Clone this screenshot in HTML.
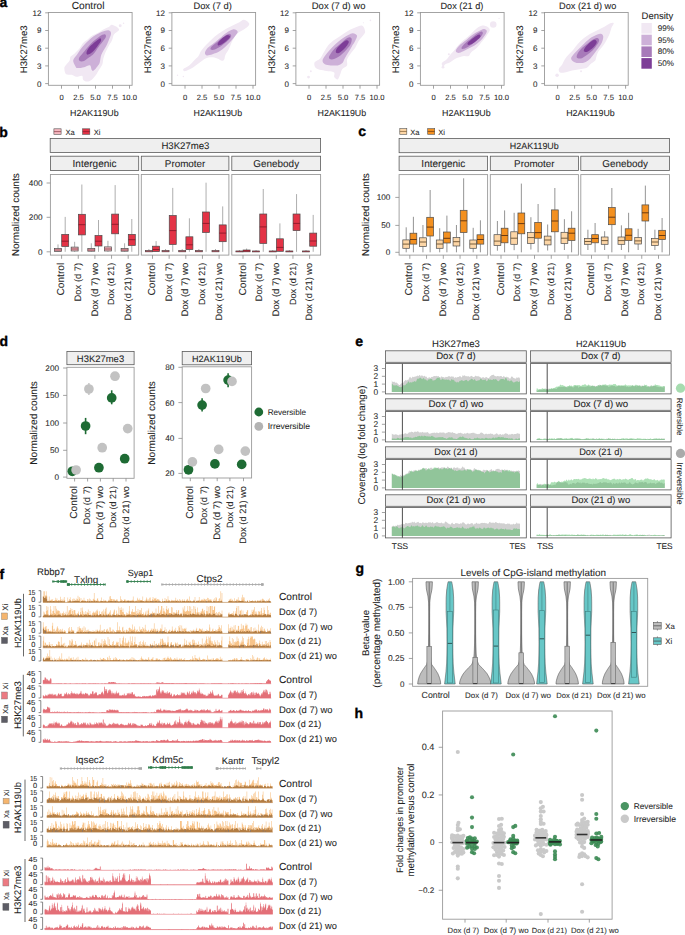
<!DOCTYPE html>
<html><head><meta charset="utf-8"><title>Figure</title>
<style>
html,body{margin:0;padding:0;background:#fff;}
body{width:685px;height:935px;overflow:hidden;font-family:"Liberation Sans", sans-serif;}
svg{display:block;}
svg text{font-family:"Liberation Sans", sans-serif;text-rendering:geometricPrecision;}
</style></head><body>
<svg width="685" height="935" viewBox="0 0 685 935">
<rect width="685" height="935" fill="#fff"/>
<text x="-0.60" y="7.00" font-size="14.0" fill="#000" font-weight="bold" stroke="#000" stroke-width="0.35">a</text>
<text x="-0.80" y="137.00" font-size="14.0" fill="#000" font-weight="bold" stroke="#000" stroke-width="0.35">b</text>
<text x="358.20" y="136.30" font-size="14.0" fill="#000" font-weight="bold" stroke="#000" stroke-width="0.35">c</text>
<text x="-0.60" y="346.40" font-size="14.0" fill="#000" font-weight="bold" stroke="#000" stroke-width="0.35">d</text>
<text x="355.30" y="345.90" font-size="14.0" fill="#000" font-weight="bold" stroke="#000" stroke-width="0.35">e</text>
<text x="-0.60" y="579.20" font-size="14.0" fill="#000" font-weight="bold" stroke="#000" stroke-width="0.35">f</text>
<text x="355.40" y="572.60" font-size="14.0" fill="#000" font-weight="bold" stroke="#000" stroke-width="0.35">g</text>
<text x="354.60" y="718.40" font-size="14.0" fill="#000" font-weight="bold" stroke="#000" stroke-width="0.35">h</text>
<path d="M112.02,24.74C113.47,24.90 116.68,26.67 117.80,27.63C118.93,28.60 119.41,29.40 118.77,30.52C118.12,31.65 115.07,32.77 113.95,34.38C112.83,35.98 112.99,38.07 112.02,40.16C111.06,42.25 109.29,44.81 108.17,46.90C107.05,48.99 106.08,50.76 105.28,52.68C104.48,54.61 103.83,56.54 103.35,58.46C102.87,60.39 103.03,62.48 102.39,64.24C101.75,66.01 100.46,67.45 99.50,69.06C98.54,70.67 97.89,72.11 96.61,73.88C95.32,75.64 93.40,78.37 91.79,79.66C90.19,80.94 88.42,81.58 86.97,81.58C85.53,81.58 83.92,80.62 83.12,79.66C82.32,78.69 83.28,76.29 82.16,75.80C81.03,75.32 78.14,76.93 76.38,76.77C74.61,76.61 73.33,75.32 71.56,74.84C69.79,74.36 66.98,75.00 65.78,73.88C64.58,72.75 64.34,69.54 64.34,68.10C64.34,66.65 64.90,66.49 65.78,65.21C66.66,63.92 68.83,61.83 69.63,60.39C70.44,58.94 69.79,57.66 70.60,56.54C71.40,55.41 73.01,54.93 74.45,53.65C75.90,52.36 77.82,50.59 79.27,48.83C80.71,47.06 81.68,44.65 83.12,43.05C84.57,41.44 86.33,40.48 87.94,39.19C89.54,37.91 90.99,36.46 92.76,35.34C94.52,34.22 96.45,33.57 98.54,32.45C100.62,31.33 103.51,29.56 105.28,28.60C107.05,27.63 108.01,27.31 109.13,26.67C110.26,26.03 110.58,24.58 112.02,24.74Z" fill="#f1e8f3"/>
<circle cx="120.21" cy="25.71" r="1.45" fill="#f1e8f3"/>
<circle cx="123.58" cy="23.30" r="0.77" fill="#f1e8f3"/>
<path d="M109.13,30.52C110.26,30.93 111.06,31.97 111.06,33.41C111.06,34.86 109.94,37.11 109.13,39.19C108.33,41.28 107.21,44.01 106.24,45.94C105.28,47.87 104.16,49.31 103.35,50.76C102.55,52.20 101.91,53.32 101.43,54.61C100.94,55.89 100.78,57.02 100.46,58.46C100.14,59.91 99.98,61.99 99.50,63.28C99.02,64.56 98.54,64.97 97.57,66.17C96.61,67.37 94.68,69.86 93.72,70.50C92.76,71.15 92.43,70.91 91.79,70.02C91.15,69.14 91.15,65.69 89.87,65.21C88.58,64.72 86.17,66.65 84.08,67.13C82.00,67.61 78.79,68.26 77.34,68.10C75.90,67.94 76.06,67.13 75.41,66.17C74.77,65.21 73.81,63.44 73.49,62.32C73.17,61.19 73.01,60.55 73.49,59.43C73.97,58.30 75.25,57.18 76.38,55.57C77.50,53.97 78.95,51.56 80.23,49.79C81.52,48.03 82.64,46.58 84.08,44.97C85.53,43.37 87.30,41.60 88.90,40.16C90.51,38.71 92.11,37.43 93.72,36.30C95.32,35.18 96.77,34.30 98.54,33.41C100.30,32.53 102.55,31.49 104.32,31.01C106.08,30.52 108.01,30.12 109.13,30.52Z" fill="#cdb0d8"/>
<path d="M105.28,34.38C105.84,34.78 106.24,35.98 105.76,37.27C105.28,38.55 103.59,40.48 102.39,42.08C101.18,43.69 99.98,44.97 98.54,46.90C97.09,48.83 95.32,51.88 93.72,53.65C92.11,55.41 90.67,56.21 88.90,57.50C87.14,58.78 84.73,60.87 83.12,61.35C81.52,61.83 79.91,61.03 79.27,60.39C78.63,59.75 78.63,58.78 79.27,57.50C79.91,56.21 81.52,54.61 83.12,52.68C84.73,50.76 87.14,47.87 88.90,45.94C90.67,44.01 92.11,42.57 93.72,41.12C95.32,39.68 97.09,38.31 98.54,37.27C99.98,36.22 101.27,35.34 102.39,34.86C103.51,34.38 104.72,33.98 105.28,34.38Z" fill="#a77ab9"/>
<path d="M100.46,38.23C100.86,38.55 101.43,39.84 100.94,41.12C100.46,42.41 98.94,44.17 97.57,45.94C96.21,47.70 94.36,50.27 92.76,51.72C91.15,53.16 88.98,54.45 87.94,54.61C86.89,54.77 86.33,53.81 86.49,52.68C86.65,51.56 87.70,49.47 88.90,47.87C90.11,46.26 92.11,44.49 93.72,43.05C95.32,41.60 97.41,40.00 98.54,39.19C99.66,38.39 100.06,37.91 100.46,38.23Z" fill="#7d3d97"/>
<rect x="48.40" y="12.50" width="83.70" height="72.80" fill="none" stroke="#9a9a9a" stroke-width="0.9"/>
<line x1="45.20" y1="83.60" x2="48.40" y2="83.60" stroke="#8c8c8c" stroke-width="0.8"/>
<text x="41.40" y="86.50" font-size="8.0" text-anchor="end" fill="#2a2a2a" stroke="#2a2a2a" stroke-width="0.08">0</text>
<line x1="45.20" y1="65.90" x2="48.40" y2="65.90" stroke="#8c8c8c" stroke-width="0.8"/>
<text x="41.40" y="68.80" font-size="8.0" text-anchor="end" fill="#2a2a2a" stroke="#2a2a2a" stroke-width="0.08">3</text>
<line x1="45.20" y1="48.20" x2="48.40" y2="48.20" stroke="#8c8c8c" stroke-width="0.8"/>
<text x="41.40" y="51.10" font-size="8.0" text-anchor="end" fill="#2a2a2a" stroke="#2a2a2a" stroke-width="0.08">6</text>
<line x1="45.20" y1="30.50" x2="48.40" y2="30.50" stroke="#8c8c8c" stroke-width="0.8"/>
<text x="41.40" y="33.40" font-size="8.0" text-anchor="end" fill="#2a2a2a" stroke="#2a2a2a" stroke-width="0.08">9</text>
<line x1="45.20" y1="12.80" x2="48.40" y2="12.80" stroke="#8c8c8c" stroke-width="0.8"/>
<text x="41.40" y="15.70" font-size="8.0" text-anchor="end" fill="#2a2a2a" stroke="#2a2a2a" stroke-width="0.08">12</text>
<line x1="61.50" y1="85.30" x2="61.50" y2="88.70" stroke="#8c8c8c" stroke-width="0.8"/>
<text x="61.50" y="100.40" font-size="7.6" text-anchor="middle" fill="#2a2a2a" stroke="#2a2a2a" stroke-width="0.08">0</text>
<line x1="78.50" y1="85.30" x2="78.50" y2="88.70" stroke="#8c8c8c" stroke-width="0.8"/>
<text x="78.50" y="100.40" font-size="7.6" text-anchor="middle" fill="#2a2a2a" stroke="#2a2a2a" stroke-width="0.08">2.5</text>
<line x1="95.50" y1="85.30" x2="95.50" y2="88.70" stroke="#8c8c8c" stroke-width="0.8"/>
<text x="95.50" y="100.40" font-size="7.6" text-anchor="middle" fill="#2a2a2a" stroke="#2a2a2a" stroke-width="0.08">5.0</text>
<line x1="112.50" y1="85.30" x2="112.50" y2="88.70" stroke="#8c8c8c" stroke-width="0.8"/>
<text x="112.50" y="100.40" font-size="7.6" text-anchor="middle" fill="#2a2a2a" stroke="#2a2a2a" stroke-width="0.08">7.5</text>
<line x1="129.50" y1="85.30" x2="129.50" y2="88.70" stroke="#8c8c8c" stroke-width="0.8"/>
<text x="129.50" y="100.40" font-size="7.6" text-anchor="middle" fill="#2a2a2a" stroke="#2a2a2a" stroke-width="0.08">10.0</text>
<text x="94.40" y="115.50" font-size="8.86" text-anchor="middle" fill="#1f1f1f" stroke="#1f1f1f" stroke-width="0.08" textLength="48.60" lengthAdjust="spacingAndGlyphs">H2AK119Ub</text>
<text x="27.40" y="49.30" font-size="9.53" text-anchor="middle" fill="#1f1f1f" stroke="#1f1f1f" stroke-width="0.08" textLength="47.70" lengthAdjust="spacingAndGlyphs" transform="rotate(-90 27.40 49.30)">H3K27me3</text>
<text x="88.10" y="8.60" font-size="10.18" text-anchor="middle" fill="#1f1f1f" stroke="#1f1f1f" stroke-width="0.08" textLength="32.80" lengthAdjust="spacingAndGlyphs">Control</text>
<path d="M244.07,19.84C245.73,20.13 249.13,22.47 249.33,23.93C249.52,25.39 247.28,26.94 245.24,28.60C243.20,30.25 239.21,31.81 237.07,33.85C234.92,35.90 233.76,38.33 232.39,40.86C231.03,43.39 230.06,46.70 228.89,49.04C227.72,51.37 226.17,53.12 225.39,54.88C224.61,56.63 224.80,58.57 224.22,59.55C223.64,60.52 223.05,60.91 221.88,60.72C220.72,60.52 218.96,58.96 217.21,58.38C215.46,57.80 213.32,57.21 211.37,57.21C209.43,57.21 207.09,57.80 205.53,58.38C203.98,58.96 203.39,59.74 202.03,60.72C200.67,61.69 198.91,63.05 197.36,64.22C195.80,65.39 194.24,66.75 192.69,67.72C191.13,68.70 189.38,69.47 188.01,70.06C186.65,70.64 185.29,71.42 184.51,71.23C183.73,71.03 182.56,69.86 183.34,68.89C184.12,67.92 187.43,66.75 189.18,65.39C190.93,64.02 192.30,62.27 193.85,60.72C195.41,59.16 197.36,57.60 198.53,56.04C199.69,54.49 199.69,53.12 200.86,51.37C202.03,49.62 203.78,47.48 205.53,45.53C207.28,43.59 209.23,41.64 211.37,39.69C213.51,37.75 216.04,35.61 218.38,33.85C220.72,32.10 222.66,30.74 225.39,29.18C228.11,27.63 232.39,25.68 234.73,24.51C237.07,23.34 237.84,22.95 239.40,22.18C240.96,21.40 242.42,19.55 244.07,19.84Z" fill="#f1e8f3"/>
<circle cx="185.68" cy="69.47" r="1.05" fill="#f1e8f3"/>
<circle cx="177.50" cy="75.31" r="0.70" fill="#f1e8f3"/>
<circle cx="183.34" cy="76.48" r="0.70" fill="#f1e8f3"/>
<path d="M233.56,29.18C235.41,28.99 237.26,30.55 237.65,31.52C238.04,32.49 236.97,33.46 235.90,35.02C234.83,36.58 232.98,38.91 231.23,40.86C229.47,42.81 227.33,44.95 225.39,46.70C223.44,48.45 221.69,50.11 219.55,51.37C217.41,52.64 214.68,53.61 212.54,54.29C210.40,54.97 207.97,55.75 206.70,55.46C205.44,55.17 204.75,53.81 204.95,52.54C205.14,51.27 206.41,49.43 207.87,47.87C209.33,46.31 211.76,44.75 213.71,43.20C215.65,41.64 217.41,40.28 219.55,38.53C221.69,36.77 224.22,34.24 226.55,32.69C228.89,31.13 231.71,29.38 233.56,29.18Z" fill="#cdb0d8"/>
<path d="M228.89,33.85C230.25,33.66 231.42,35.02 231.23,36.19C231.03,37.36 229.28,39.30 227.72,40.86C226.17,42.42 224.02,44.07 221.88,45.53C219.74,46.99 216.73,48.94 214.88,49.62C213.03,50.30 211.37,50.11 210.79,49.62C210.20,49.13 210.30,47.97 211.37,46.70C212.44,45.44 215.27,43.59 217.21,42.03C219.16,40.47 221.10,38.72 223.05,37.36C225.00,36.00 227.53,34.05 228.89,33.85Z" fill="#a77ab9"/>
<path d="M227.72,35.02C228.70,35.02 230.25,35.80 230.06,36.77C229.86,37.75 227.92,39.60 226.55,40.86C225.19,42.13 223.25,43.59 221.88,44.36C220.52,45.14 219.06,45.73 218.38,45.53C217.70,45.34 217.41,44.17 217.80,43.20C218.18,42.22 219.64,40.76 220.72,39.69C221.79,38.62 223.05,37.55 224.22,36.77C225.39,36.00 226.75,35.02 227.72,35.02Z" fill="#7d3d97"/>
<rect x="171.90" y="12.50" width="83.70" height="72.80" fill="none" stroke="#9a9a9a" stroke-width="0.9"/>
<line x1="168.70" y1="83.60" x2="171.90" y2="83.60" stroke="#8c8c8c" stroke-width="0.8"/>
<text x="164.90" y="86.50" font-size="8.0" text-anchor="end" fill="#2a2a2a" stroke="#2a2a2a" stroke-width="0.08">0</text>
<line x1="168.70" y1="65.90" x2="171.90" y2="65.90" stroke="#8c8c8c" stroke-width="0.8"/>
<text x="164.90" y="68.80" font-size="8.0" text-anchor="end" fill="#2a2a2a" stroke="#2a2a2a" stroke-width="0.08">3</text>
<line x1="168.70" y1="48.20" x2="171.90" y2="48.20" stroke="#8c8c8c" stroke-width="0.8"/>
<text x="164.90" y="51.10" font-size="8.0" text-anchor="end" fill="#2a2a2a" stroke="#2a2a2a" stroke-width="0.08">6</text>
<line x1="168.70" y1="30.50" x2="171.90" y2="30.50" stroke="#8c8c8c" stroke-width="0.8"/>
<text x="164.90" y="33.40" font-size="8.0" text-anchor="end" fill="#2a2a2a" stroke="#2a2a2a" stroke-width="0.08">9</text>
<line x1="168.70" y1="12.80" x2="171.90" y2="12.80" stroke="#8c8c8c" stroke-width="0.8"/>
<text x="164.90" y="15.70" font-size="8.0" text-anchor="end" fill="#2a2a2a" stroke="#2a2a2a" stroke-width="0.08">12</text>
<line x1="185.00" y1="85.30" x2="185.00" y2="88.70" stroke="#8c8c8c" stroke-width="0.8"/>
<text x="185.00" y="100.40" font-size="7.6" text-anchor="middle" fill="#2a2a2a" stroke="#2a2a2a" stroke-width="0.08">0</text>
<line x1="202.00" y1="85.30" x2="202.00" y2="88.70" stroke="#8c8c8c" stroke-width="0.8"/>
<text x="202.00" y="100.40" font-size="7.6" text-anchor="middle" fill="#2a2a2a" stroke="#2a2a2a" stroke-width="0.08">2.5</text>
<line x1="219.00" y1="85.30" x2="219.00" y2="88.70" stroke="#8c8c8c" stroke-width="0.8"/>
<text x="219.00" y="100.40" font-size="7.6" text-anchor="middle" fill="#2a2a2a" stroke="#2a2a2a" stroke-width="0.08">5.0</text>
<line x1="236.00" y1="85.30" x2="236.00" y2="88.70" stroke="#8c8c8c" stroke-width="0.8"/>
<text x="236.00" y="100.40" font-size="7.6" text-anchor="middle" fill="#2a2a2a" stroke="#2a2a2a" stroke-width="0.08">7.5</text>
<line x1="253.00" y1="85.30" x2="253.00" y2="88.70" stroke="#8c8c8c" stroke-width="0.8"/>
<text x="253.00" y="100.40" font-size="7.6" text-anchor="middle" fill="#2a2a2a" stroke="#2a2a2a" stroke-width="0.08">10.0</text>
<text x="217.90" y="115.50" font-size="8.86" text-anchor="middle" fill="#1f1f1f" stroke="#1f1f1f" stroke-width="0.08" textLength="48.60" lengthAdjust="spacingAndGlyphs">H2AK119Ub</text>
<text x="150.90" y="49.30" font-size="9.53" text-anchor="middle" fill="#1f1f1f" stroke="#1f1f1f" stroke-width="0.08" textLength="47.70" lengthAdjust="spacingAndGlyphs" transform="rotate(-90 150.90 49.30)">H3K27me3</text>
<text x="212.60" y="8.60" font-size="9.34" text-anchor="middle" fill="#1f1f1f" stroke="#1f1f1f" stroke-width="0.08" textLength="38.40" lengthAdjust="spacingAndGlyphs">Dox (7 d)</text>
<path d="M362.23,25.68C364.08,26.26 364.96,29.96 365.15,31.52C365.35,33.08 364.47,33.46 363.40,35.02C362.33,36.58 360.09,38.72 358.73,40.86C357.37,43.00 356.59,45.73 355.23,47.87C353.86,50.01 351.92,51.76 350.55,53.71C349.19,55.65 347.64,57.60 347.05,59.55C346.47,61.49 347.83,63.83 347.05,65.39C346.27,66.94 343.55,67.33 342.38,68.89C341.21,70.45 340.82,72.98 340.04,74.73C339.27,76.48 338.68,79.01 337.71,79.40C336.73,79.79 334.79,78.23 334.20,77.07C333.62,75.90 335.18,73.37 334.20,72.39C333.23,71.42 330.51,71.62 328.36,71.23C326.22,70.84 323.50,70.64 321.36,70.06C319.22,69.47 316.69,68.89 315.52,67.72C314.35,66.55 314.16,64.22 314.35,63.05C314.55,61.88 315.71,61.49 316.69,60.72C317.66,59.94 319.02,59.74 320.19,58.38C321.36,57.02 322.53,54.49 323.69,52.54C324.86,50.59 325.64,48.65 327.20,46.70C328.75,44.75 330.90,42.61 333.04,40.86C335.18,39.11 337.71,37.75 340.04,36.19C342.38,34.63 344.72,32.88 347.05,31.52C349.39,30.16 351.53,28.99 354.06,28.01C356.59,27.04 360.38,25.09 362.23,25.68Z" fill="#f1e8f3"/>
<circle cx="308.51" cy="77.07" r="1.40" fill="#f1e8f3"/>
<circle cx="310.85" cy="71.23" r="0.93" fill="#f1e8f3"/>
<circle cx="370.41" cy="20.42" r="0.82" fill="#f1e8f3"/>
<circle cx="363.40" cy="22.76" r="0.58" fill="#f1e8f3"/>
<path d="M352.89,33.27C354.35,33.37 356.59,34.34 356.98,35.61C357.37,36.87 356.10,39.01 355.23,40.86C354.35,42.71 352.89,44.75 351.72,46.70C350.55,48.65 349.39,50.59 348.22,52.54C347.05,54.49 345.69,56.63 344.72,58.38C343.74,60.13 343.55,61.88 342.38,63.05C341.21,64.22 339.65,65.00 337.71,65.39C335.76,65.78 332.84,65.58 330.70,65.39C328.56,65.19 326.22,65.00 324.86,64.22C323.50,63.44 322.53,62.08 322.53,60.72C322.53,59.35 323.69,57.80 324.86,56.04C326.03,54.29 327.78,52.15 329.53,50.20C331.28,48.26 333.23,46.31 335.37,44.36C337.51,42.42 340.24,40.08 342.38,38.53C344.52,36.97 346.47,35.90 348.22,35.02C349.97,34.15 351.43,33.17 352.89,33.27Z" fill="#cdb0d8"/>
<path d="M349.39,37.36C350.36,37.36 351.53,37.94 351.72,39.11C351.92,40.28 351.33,42.71 350.55,44.36C349.78,46.02 348.41,47.48 347.05,49.04C345.69,50.59 343.94,52.35 342.38,53.71C340.82,55.07 339.46,56.24 337.71,57.21C335.96,58.18 333.33,59.45 331.87,59.55C330.41,59.64 329.14,58.77 328.95,57.80C328.75,56.82 329.63,55.36 330.70,53.71C331.77,52.05 333.62,49.62 335.37,47.87C337.12,46.12 339.46,44.66 341.21,43.20C342.96,41.74 344.52,40.08 345.88,39.11C347.25,38.14 348.41,37.36 349.39,37.36Z" fill="#a77ab9"/>
<path d="M347.05,40.28C347.83,40.37 348.80,41.15 348.80,42.03C348.80,42.91 347.93,44.27 347.05,45.53C346.18,46.80 344.91,48.36 343.55,49.62C342.18,50.89 340.14,52.64 338.88,53.12C337.61,53.61 336.35,53.22 335.96,52.54C335.57,51.86 335.86,50.30 336.54,49.04C337.22,47.77 338.78,46.21 340.04,44.95C341.31,43.68 342.96,42.22 344.13,41.45C345.30,40.67 346.27,40.18 347.05,40.28Z" fill="#7d3d97"/>
<rect x="295.90" y="12.50" width="83.70" height="72.80" fill="none" stroke="#9a9a9a" stroke-width="0.9"/>
<line x1="292.70" y1="83.60" x2="295.90" y2="83.60" stroke="#8c8c8c" stroke-width="0.8"/>
<text x="288.90" y="86.50" font-size="8.0" text-anchor="end" fill="#2a2a2a" stroke="#2a2a2a" stroke-width="0.08">0</text>
<line x1="292.70" y1="65.90" x2="295.90" y2="65.90" stroke="#8c8c8c" stroke-width="0.8"/>
<text x="288.90" y="68.80" font-size="8.0" text-anchor="end" fill="#2a2a2a" stroke="#2a2a2a" stroke-width="0.08">3</text>
<line x1="292.70" y1="48.20" x2="295.90" y2="48.20" stroke="#8c8c8c" stroke-width="0.8"/>
<text x="288.90" y="51.10" font-size="8.0" text-anchor="end" fill="#2a2a2a" stroke="#2a2a2a" stroke-width="0.08">6</text>
<line x1="292.70" y1="30.50" x2="295.90" y2="30.50" stroke="#8c8c8c" stroke-width="0.8"/>
<text x="288.90" y="33.40" font-size="8.0" text-anchor="end" fill="#2a2a2a" stroke="#2a2a2a" stroke-width="0.08">9</text>
<line x1="292.70" y1="12.80" x2="295.90" y2="12.80" stroke="#8c8c8c" stroke-width="0.8"/>
<text x="288.90" y="15.70" font-size="8.0" text-anchor="end" fill="#2a2a2a" stroke="#2a2a2a" stroke-width="0.08">12</text>
<line x1="309.00" y1="85.30" x2="309.00" y2="88.70" stroke="#8c8c8c" stroke-width="0.8"/>
<text x="309.00" y="100.40" font-size="7.6" text-anchor="middle" fill="#2a2a2a" stroke="#2a2a2a" stroke-width="0.08">0</text>
<line x1="326.00" y1="85.30" x2="326.00" y2="88.70" stroke="#8c8c8c" stroke-width="0.8"/>
<text x="326.00" y="100.40" font-size="7.6" text-anchor="middle" fill="#2a2a2a" stroke="#2a2a2a" stroke-width="0.08">2.5</text>
<line x1="343.00" y1="85.30" x2="343.00" y2="88.70" stroke="#8c8c8c" stroke-width="0.8"/>
<text x="343.00" y="100.40" font-size="7.6" text-anchor="middle" fill="#2a2a2a" stroke="#2a2a2a" stroke-width="0.08">5.0</text>
<line x1="360.00" y1="85.30" x2="360.00" y2="88.70" stroke="#8c8c8c" stroke-width="0.8"/>
<text x="360.00" y="100.40" font-size="7.6" text-anchor="middle" fill="#2a2a2a" stroke="#2a2a2a" stroke-width="0.08">7.5</text>
<line x1="377.00" y1="85.30" x2="377.00" y2="88.70" stroke="#8c8c8c" stroke-width="0.8"/>
<text x="377.00" y="100.40" font-size="7.6" text-anchor="middle" fill="#2a2a2a" stroke="#2a2a2a" stroke-width="0.08">10.0</text>
<text x="341.90" y="115.50" font-size="8.86" text-anchor="middle" fill="#1f1f1f" stroke="#1f1f1f" stroke-width="0.08" textLength="48.60" lengthAdjust="spacingAndGlyphs">H2AK119Ub</text>
<text x="274.90" y="49.30" font-size="9.53" text-anchor="middle" fill="#1f1f1f" stroke="#1f1f1f" stroke-width="0.08" textLength="47.70" lengthAdjust="spacingAndGlyphs" transform="rotate(-90 274.90 49.30)">H3K27me3</text>
<text x="338.60" y="8.60" font-size="9.46" text-anchor="middle" fill="#1f1f1f" stroke="#1f1f1f" stroke-width="0.08" textLength="53.60" lengthAdjust="spacingAndGlyphs">Dox (7 d) wo</text>
<path d="M481.56,25.68C483.51,25.29 486.04,26.07 487.40,26.85C488.76,27.63 489.93,28.79 489.74,30.35C489.54,31.91 487.60,34.24 486.23,36.19C484.87,38.14 483.12,40.08 481.56,42.03C480.00,43.98 478.64,46.12 476.89,47.87C475.14,49.62 472.41,51.18 471.05,52.54C469.69,53.90 469.88,55.46 468.72,56.04C467.55,56.63 465.60,55.85 464.04,56.04C462.49,56.24 460.73,56.82 459.37,57.21C458.01,57.60 457.04,57.80 455.87,58.38C454.70,58.96 453.53,59.94 452.36,60.72C451.20,61.49 450.03,62.47 448.86,63.05C447.69,63.64 446.33,63.64 445.36,64.22C444.38,64.80 443.61,66.75 443.02,66.55C442.44,66.36 441.27,64.22 441.85,63.05C442.44,61.88 445.16,60.91 446.53,59.55C447.89,58.18 448.86,56.24 450.03,54.88C451.20,53.51 452.36,52.73 453.53,51.37C454.70,50.01 455.48,48.45 457.04,46.70C458.59,44.95 460.73,42.81 462.88,40.86C465.02,38.91 467.74,36.97 469.88,35.02C472.02,33.08 473.78,30.74 475.72,29.18C477.67,27.63 479.62,26.07 481.56,25.68Z" fill="#f1e8f3"/>
<circle cx="493.24" cy="24.51" r="3.27" fill="#f1e8f3"/>
<circle cx="448.86" cy="54.29" r="1.05" fill="#f1e8f3"/>
<circle cx="443.02" cy="67.14" r="1.40" fill="#f1e8f3"/>
<circle cx="499.08" cy="18.44" r="0.58" fill="#f1e8f3"/>
<circle cx="446.53" cy="61.88" r="1.17" fill="#f1e8f3"/>
<path d="M483.90,28.95C485.36,28.85 486.62,29.92 486.82,30.93C487.01,31.95 486.14,33.37 485.07,35.02C484.00,36.68 482.15,39.11 480.39,40.86C478.64,42.61 476.70,44.17 474.55,45.53C472.41,46.90 469.88,47.87 467.55,49.04C465.21,50.20 462.29,51.96 460.54,52.54C458.79,53.12 457.82,52.93 457.04,52.54C456.26,52.15 455.48,51.37 455.87,50.20C456.26,49.04 457.82,47.09 459.37,45.53C460.93,43.98 463.07,42.61 465.21,40.86C467.35,39.11 470.08,36.58 472.22,35.02C474.36,33.46 476.11,32.53 478.06,31.52C480.00,30.51 482.44,29.05 483.90,28.95Z" fill="#cdb0d8"/>
<path d="M481.56,31.52C482.54,31.52 483.12,32.69 482.73,33.85C482.34,35.02 480.78,36.97 479.23,38.53C477.67,40.08 475.53,41.64 473.39,43.20C471.25,44.75 468.23,46.90 466.38,47.87C464.53,48.84 463.07,49.13 462.29,49.04C461.51,48.94 461.22,48.26 461.71,47.28C462.19,46.31 463.65,44.66 465.21,43.20C466.77,41.74 469.10,40.08 471.05,38.53C473.00,36.97 475.14,35.02 476.89,33.85C478.64,32.69 480.59,31.52 481.56,31.52Z" fill="#a77ab9"/>
<path d="M479.23,34.44C480.00,34.54 480.78,35.80 480.39,36.77C480.00,37.75 478.25,39.11 476.89,40.28C475.53,41.45 473.58,43.00 472.22,43.78C470.86,44.56 469.49,45.05 468.72,44.95C467.94,44.85 467.16,44.07 467.55,43.20C467.94,42.32 469.69,40.86 471.05,39.69C472.41,38.53 474.36,37.07 475.72,36.19C477.09,35.31 478.45,34.34 479.23,34.44Z" fill="#7d3d97"/>
<rect x="420.40" y="12.50" width="83.70" height="72.80" fill="none" stroke="#9a9a9a" stroke-width="0.9"/>
<line x1="417.20" y1="83.60" x2="420.40" y2="83.60" stroke="#8c8c8c" stroke-width="0.8"/>
<text x="413.40" y="86.50" font-size="8.0" text-anchor="end" fill="#2a2a2a" stroke="#2a2a2a" stroke-width="0.08">0</text>
<line x1="417.20" y1="65.90" x2="420.40" y2="65.90" stroke="#8c8c8c" stroke-width="0.8"/>
<text x="413.40" y="68.80" font-size="8.0" text-anchor="end" fill="#2a2a2a" stroke="#2a2a2a" stroke-width="0.08">3</text>
<line x1="417.20" y1="48.20" x2="420.40" y2="48.20" stroke="#8c8c8c" stroke-width="0.8"/>
<text x="413.40" y="51.10" font-size="8.0" text-anchor="end" fill="#2a2a2a" stroke="#2a2a2a" stroke-width="0.08">6</text>
<line x1="417.20" y1="30.50" x2="420.40" y2="30.50" stroke="#8c8c8c" stroke-width="0.8"/>
<text x="413.40" y="33.40" font-size="8.0" text-anchor="end" fill="#2a2a2a" stroke="#2a2a2a" stroke-width="0.08">9</text>
<line x1="417.20" y1="12.80" x2="420.40" y2="12.80" stroke="#8c8c8c" stroke-width="0.8"/>
<text x="413.40" y="15.70" font-size="8.0" text-anchor="end" fill="#2a2a2a" stroke="#2a2a2a" stroke-width="0.08">12</text>
<line x1="433.50" y1="85.30" x2="433.50" y2="88.70" stroke="#8c8c8c" stroke-width="0.8"/>
<text x="433.50" y="100.40" font-size="7.6" text-anchor="middle" fill="#2a2a2a" stroke="#2a2a2a" stroke-width="0.08">0</text>
<line x1="450.50" y1="85.30" x2="450.50" y2="88.70" stroke="#8c8c8c" stroke-width="0.8"/>
<text x="450.50" y="100.40" font-size="7.6" text-anchor="middle" fill="#2a2a2a" stroke="#2a2a2a" stroke-width="0.08">2.5</text>
<line x1="467.50" y1="85.30" x2="467.50" y2="88.70" stroke="#8c8c8c" stroke-width="0.8"/>
<text x="467.50" y="100.40" font-size="7.6" text-anchor="middle" fill="#2a2a2a" stroke="#2a2a2a" stroke-width="0.08">5.0</text>
<line x1="484.50" y1="85.30" x2="484.50" y2="88.70" stroke="#8c8c8c" stroke-width="0.8"/>
<text x="484.50" y="100.40" font-size="7.6" text-anchor="middle" fill="#2a2a2a" stroke="#2a2a2a" stroke-width="0.08">7.5</text>
<line x1="501.50" y1="85.30" x2="501.50" y2="88.70" stroke="#8c8c8c" stroke-width="0.8"/>
<text x="501.50" y="100.40" font-size="7.6" text-anchor="middle" fill="#2a2a2a" stroke="#2a2a2a" stroke-width="0.08">10.0</text>
<text x="466.40" y="115.50" font-size="8.86" text-anchor="middle" fill="#1f1f1f" stroke="#1f1f1f" stroke-width="0.08" textLength="48.60" lengthAdjust="spacingAndGlyphs">H2AK119Ub</text>
<text x="399.40" y="49.30" font-size="9.53" text-anchor="middle" fill="#1f1f1f" stroke="#1f1f1f" stroke-width="0.08" textLength="47.70" lengthAdjust="spacingAndGlyphs" transform="rotate(-90 399.40 49.30)">H3K27me3</text>
<text x="461.90" y="8.60" font-size="9.17" text-anchor="middle" fill="#1f1f1f" stroke="#1f1f1f" stroke-width="0.08" textLength="42.80" lengthAdjust="spacingAndGlyphs">Dox (21 d)</text>
<path d="M610.23,23.34C611.79,22.76 613.54,22.56 613.74,23.34C613.93,24.12 612.08,26.26 611.40,28.01C610.72,29.77 610.43,31.91 609.65,33.85C608.87,35.80 607.80,37.75 606.73,39.69C605.66,41.64 604.59,43.59 603.23,45.53C601.86,47.48 599.72,49.43 598.55,51.37C597.39,53.32 596.80,55.65 596.22,57.21C595.64,58.77 596.02,59.55 595.05,60.72C594.08,61.88 591.74,63.05 590.38,64.22C589.02,65.39 588.43,66.94 586.88,67.72C585.32,68.50 582.98,68.50 581.04,68.89C579.09,69.28 577.14,69.67 575.20,70.06C573.25,70.45 571.11,70.84 569.36,71.23C567.61,71.62 566.24,72.20 564.69,72.39C563.13,72.59 560.99,72.98 560.01,72.39C559.04,71.81 558.46,70.25 558.85,68.89C559.24,67.53 561.38,65.78 562.35,64.22C563.32,62.66 563.71,61.10 564.69,59.55C565.66,57.99 566.83,56.43 568.19,54.88C569.55,53.32 571.30,51.96 572.86,50.20C574.42,48.45 575.78,46.31 577.53,44.36C579.28,42.42 581.23,40.28 583.37,38.53C585.51,36.77 588.04,35.22 590.38,33.85C592.72,32.49 595.05,31.52 597.39,30.35C599.72,29.18 602.25,28.01 604.39,26.85C606.54,25.68 608.68,23.93 610.23,23.34Z" fill="#f1e8f3"/>
<circle cx="557.09" cy="75.31" r="1.75" fill="#f1e8f3"/>
<circle cx="581.04" cy="71.23" r="0.93" fill="#f1e8f3"/>
<path d="M600.89,33.85C601.86,34.15 603.03,34.83 603.23,36.19C603.42,37.55 602.84,40.08 602.06,42.03C601.28,43.98 599.72,46.12 598.55,47.87C597.39,49.62 596.41,50.79 595.05,52.54C593.69,54.29 591.94,56.82 590.38,58.38C588.82,59.94 587.46,61.10 585.71,61.88C583.96,62.66 581.82,63.05 579.87,63.05C577.92,63.05 575.49,62.66 574.03,61.88C572.57,61.10 571.11,59.74 571.11,58.38C571.11,57.02 572.76,55.27 574.03,53.71C575.29,52.15 576.95,50.79 578.70,49.04C580.45,47.28 582.40,45.14 584.54,43.20C586.68,41.25 589.41,38.82 591.55,37.36C593.69,35.90 595.83,35.02 597.39,34.44C598.94,33.85 599.92,33.56 600.89,33.85Z" fill="#cdb0d8"/>
<path d="M597.39,37.94C598.26,38.14 599.14,39.21 599.14,40.28C599.14,41.35 598.46,42.71 597.39,44.36C596.32,46.02 594.47,48.45 592.72,50.20C590.96,51.96 588.82,53.51 586.88,54.88C584.93,56.24 582.69,57.89 581.04,58.38C579.38,58.87 577.53,58.57 576.95,57.80C576.36,57.02 576.66,55.36 577.53,53.71C578.41,52.05 580.45,49.62 582.20,47.87C583.96,46.12 586.10,44.66 588.04,43.20C589.99,41.74 592.33,39.99 593.88,39.11C595.44,38.23 596.51,37.75 597.39,37.94Z" fill="#a77ab9"/>
<path d="M595.05,39.69C595.83,39.89 596.80,41.06 596.80,42.03C596.80,43.00 595.93,44.36 595.05,45.53C594.18,46.70 592.91,47.97 591.55,49.04C590.18,50.11 588.14,51.57 586.88,51.96C585.61,52.35 584.35,51.96 583.96,51.37C583.57,50.79 583.86,49.62 584.54,48.45C585.22,47.28 586.78,45.63 588.04,44.36C589.31,43.10 590.96,41.64 592.13,40.86C593.30,40.08 594.27,39.50 595.05,39.69Z" fill="#7d3d97"/>
<rect x="544.50" y="12.50" width="83.70" height="72.80" fill="none" stroke="#9a9a9a" stroke-width="0.9"/>
<line x1="541.30" y1="83.60" x2="544.50" y2="83.60" stroke="#8c8c8c" stroke-width="0.8"/>
<text x="537.50" y="86.50" font-size="8.0" text-anchor="end" fill="#2a2a2a" stroke="#2a2a2a" stroke-width="0.08">0</text>
<line x1="541.30" y1="65.90" x2="544.50" y2="65.90" stroke="#8c8c8c" stroke-width="0.8"/>
<text x="537.50" y="68.80" font-size="8.0" text-anchor="end" fill="#2a2a2a" stroke="#2a2a2a" stroke-width="0.08">3</text>
<line x1="541.30" y1="48.20" x2="544.50" y2="48.20" stroke="#8c8c8c" stroke-width="0.8"/>
<text x="537.50" y="51.10" font-size="8.0" text-anchor="end" fill="#2a2a2a" stroke="#2a2a2a" stroke-width="0.08">6</text>
<line x1="541.30" y1="30.50" x2="544.50" y2="30.50" stroke="#8c8c8c" stroke-width="0.8"/>
<text x="537.50" y="33.40" font-size="8.0" text-anchor="end" fill="#2a2a2a" stroke="#2a2a2a" stroke-width="0.08">9</text>
<line x1="541.30" y1="12.80" x2="544.50" y2="12.80" stroke="#8c8c8c" stroke-width="0.8"/>
<text x="537.50" y="15.70" font-size="8.0" text-anchor="end" fill="#2a2a2a" stroke="#2a2a2a" stroke-width="0.08">12</text>
<line x1="557.60" y1="85.30" x2="557.60" y2="88.70" stroke="#8c8c8c" stroke-width="0.8"/>
<text x="557.60" y="100.40" font-size="7.6" text-anchor="middle" fill="#2a2a2a" stroke="#2a2a2a" stroke-width="0.08">0</text>
<line x1="574.60" y1="85.30" x2="574.60" y2="88.70" stroke="#8c8c8c" stroke-width="0.8"/>
<text x="574.60" y="100.40" font-size="7.6" text-anchor="middle" fill="#2a2a2a" stroke="#2a2a2a" stroke-width="0.08">2.5</text>
<line x1="591.60" y1="85.30" x2="591.60" y2="88.70" stroke="#8c8c8c" stroke-width="0.8"/>
<text x="591.60" y="100.40" font-size="7.6" text-anchor="middle" fill="#2a2a2a" stroke="#2a2a2a" stroke-width="0.08">5.0</text>
<line x1="608.60" y1="85.30" x2="608.60" y2="88.70" stroke="#8c8c8c" stroke-width="0.8"/>
<text x="608.60" y="100.40" font-size="7.6" text-anchor="middle" fill="#2a2a2a" stroke="#2a2a2a" stroke-width="0.08">7.5</text>
<line x1="625.60" y1="85.30" x2="625.60" y2="88.70" stroke="#8c8c8c" stroke-width="0.8"/>
<text x="625.60" y="100.40" font-size="7.6" text-anchor="middle" fill="#2a2a2a" stroke="#2a2a2a" stroke-width="0.08">10.0</text>
<text x="590.50" y="115.50" font-size="8.86" text-anchor="middle" fill="#1f1f1f" stroke="#1f1f1f" stroke-width="0.08" textLength="48.60" lengthAdjust="spacingAndGlyphs">H2AK119Ub</text>
<text x="523.50" y="49.30" font-size="9.53" text-anchor="middle" fill="#1f1f1f" stroke="#1f1f1f" stroke-width="0.08" textLength="47.70" lengthAdjust="spacingAndGlyphs" transform="rotate(-90 523.50 49.30)">H3K27me3</text>
<text x="587.70" y="8.60" font-size="9.22" text-anchor="middle" fill="#1f1f1f" stroke="#1f1f1f" stroke-width="0.08" textLength="57.40" lengthAdjust="spacingAndGlyphs">Dox (21 d) wo</text>
<text x="641.60" y="18.80" font-size="9.48" fill="#1f1f1f" stroke="#1f1f1f" stroke-width="0.08" textLength="31.60" lengthAdjust="spacingAndGlyphs">Density</text>
<rect x="641.40" y="23.00" width="10.40" height="10.60" fill="#f1e8f3"/>
<text x="657.80" y="31.00" font-size="8.09" fill="#2a2a2a" stroke="#2a2a2a" stroke-width="0.08" textLength="16.20" lengthAdjust="spacingAndGlyphs">99%</text>
<rect x="641.40" y="34.70" width="10.40" height="10.60" fill="#cdb0d8"/>
<text x="657.80" y="42.70" font-size="8.09" fill="#2a2a2a" stroke="#2a2a2a" stroke-width="0.08" textLength="16.20" lengthAdjust="spacingAndGlyphs">95%</text>
<rect x="641.40" y="46.40" width="10.40" height="10.60" fill="#a77ab9"/>
<text x="657.80" y="54.40" font-size="8.09" fill="#2a2a2a" stroke="#2a2a2a" stroke-width="0.08" textLength="16.20" lengthAdjust="spacingAndGlyphs">80%</text>
<rect x="641.40" y="58.10" width="10.40" height="10.60" fill="#7d3d97"/>
<text x="657.80" y="66.10" font-size="8.09" fill="#2a2a2a" stroke="#2a2a2a" stroke-width="0.08" textLength="16.20" lengthAdjust="spacingAndGlyphs">50%</text>
<rect x="53.90" y="128.80" width="7.20" height="5.60" fill="#f5b8c0" stroke="#555" stroke-width="0.6"/>
<line x1="53.90" y1="131.60" x2="61.10" y2="131.60" stroke="#8a3a45" stroke-width="0.7"/>
<text x="65.40" y="134.60" font-size="7.6" fill="#2a2a2a" stroke="#2a2a2a" stroke-width="0.08">Xa</text>
<rect x="82.60" y="128.80" width="7.20" height="5.60" fill="#e33346" stroke="#555" stroke-width="0.6"/>
<line x1="82.60" y1="131.60" x2="89.80" y2="131.60" stroke="#8a1a2a" stroke-width="0.7"/>
<text x="93.70" y="134.60" font-size="7.6" fill="#2a2a2a" stroke="#2a2a2a" stroke-width="0.08">Xi</text>
<rect x="50.20" y="138.40" width="270.40" height="14.20" fill="#efefef" stroke="#5a5a5a" stroke-width="0.8"/>
<text x="185.40" y="148.70" font-size="9.59" text-anchor="middle" fill="#1f1f1f" stroke="#1f1f1f" stroke-width="0.08" textLength="48.00" lengthAdjust="spacingAndGlyphs">H3K27me3</text>
<rect x="50.40" y="156.20" width="88.30" height="14.30" fill="#efefef" stroke="#5a5a5a" stroke-width="0.8"/>
<text x="94.55" y="166.60" font-size="10.02" text-anchor="middle" fill="#1f1f1f" stroke="#1f1f1f" stroke-width="0.08" textLength="44.00" lengthAdjust="spacingAndGlyphs">Intergenic</text>
<rect x="50.40" y="174.50" width="88.30" height="80.60" fill="none" stroke="#9a9a9a" stroke-width="0.9"/>
<line x1="58.00" y1="244.40" x2="58.00" y2="248.60" stroke="#777" stroke-width="0.6"/>
<line x1="58.00" y1="251.40" x2="58.00" y2="251.80" stroke="#777" stroke-width="0.6"/>
<rect x="54.50" y="248.60" width="7.00" height="2.80" fill="#f5b8c0" stroke="#4a4a4a" stroke-width="0.7"/>
<line x1="54.50" y1="250.00" x2="61.50" y2="250.00" stroke="#8a3a45" stroke-width="0.9"/>
<line x1="65.20" y1="216.90" x2="65.20" y2="234.40" stroke="#777" stroke-width="0.6"/>
<line x1="65.20" y1="246.50" x2="65.20" y2="251.80" stroke="#777" stroke-width="0.6"/>
<rect x="61.70" y="234.40" width="7.00" height="12.10" fill="#e33346" stroke="#4a4a4a" stroke-width="0.7"/>
<line x1="61.70" y1="241.20" x2="68.70" y2="241.20" stroke="#8a1a2a" stroke-width="0.9"/>
<line x1="61.60" y1="255.10" x2="61.60" y2="258.80" stroke="#8c8c8c" stroke-width="0.8"/>
<text x="64.30" y="262.80" font-size="10.14" text-anchor="end" fill="#2a2a2a" stroke="#2a2a2a" stroke-width="0.08" textLength="32.70" lengthAdjust="spacingAndGlyphs" transform="rotate(-90 64.30 262.80)">Control</text>
<line x1="74.65" y1="241.80" x2="74.65" y2="247.10" stroke="#777" stroke-width="0.6"/>
<line x1="74.65" y1="251.00" x2="74.65" y2="251.80" stroke="#777" stroke-width="0.6"/>
<rect x="71.15" y="247.10" width="7.00" height="3.90" fill="#f5b8c0" stroke="#4a4a4a" stroke-width="0.7"/>
<line x1="71.15" y1="249.00" x2="78.15" y2="249.00" stroke="#8a3a45" stroke-width="0.9"/>
<line x1="81.85" y1="184.50" x2="81.85" y2="214.30" stroke="#777" stroke-width="0.6"/>
<line x1="81.85" y1="234.90" x2="81.85" y2="251.80" stroke="#777" stroke-width="0.6"/>
<rect x="78.35" y="214.30" width="7.00" height="20.60" fill="#e33346" stroke="#4a4a4a" stroke-width="0.7"/>
<line x1="78.35" y1="224.70" x2="85.35" y2="224.70" stroke="#8a1a2a" stroke-width="0.9"/>
<line x1="78.25" y1="255.10" x2="78.25" y2="258.80" stroke="#8c8c8c" stroke-width="0.8"/>
<text x="80.95" y="262.80" font-size="9.39" text-anchor="end" fill="#2a2a2a" stroke="#2a2a2a" stroke-width="0.08" textLength="38.60" lengthAdjust="spacingAndGlyphs" transform="rotate(-90 80.95 262.80)">Dox (d 7)</text>
<line x1="91.30" y1="243.30" x2="91.30" y2="248.50" stroke="#777" stroke-width="0.6"/>
<line x1="91.30" y1="251.20" x2="91.30" y2="251.80" stroke="#777" stroke-width="0.6"/>
<rect x="87.80" y="248.50" width="7.00" height="2.70" fill="#f5b8c0" stroke="#4a4a4a" stroke-width="0.7"/>
<line x1="87.80" y1="250.00" x2="94.80" y2="250.00" stroke="#8a3a45" stroke-width="0.9"/>
<line x1="98.50" y1="220.00" x2="98.50" y2="235.50" stroke="#777" stroke-width="0.6"/>
<line x1="98.50" y1="246.00" x2="98.50" y2="251.80" stroke="#777" stroke-width="0.6"/>
<rect x="95.00" y="235.50" width="7.00" height="10.50" fill="#e33346" stroke="#4a4a4a" stroke-width="0.7"/>
<line x1="95.00" y1="241.20" x2="102.00" y2="241.20" stroke="#8a1a2a" stroke-width="0.9"/>
<line x1="94.90" y1="255.10" x2="94.90" y2="258.80" stroke="#8c8c8c" stroke-width="0.8"/>
<text x="97.60" y="262.80" font-size="9.49" text-anchor="end" fill="#2a2a2a" stroke="#2a2a2a" stroke-width="0.08" textLength="53.80" lengthAdjust="spacingAndGlyphs" transform="rotate(-90 97.60 262.80)">Dox (d 7) wo</text>
<line x1="107.95" y1="240.80" x2="107.95" y2="246.90" stroke="#777" stroke-width="0.6"/>
<line x1="107.95" y1="251.00" x2="107.95" y2="251.80" stroke="#777" stroke-width="0.6"/>
<rect x="104.45" y="246.90" width="7.00" height="4.10" fill="#f5b8c0" stroke="#4a4a4a" stroke-width="0.7"/>
<line x1="104.45" y1="249.00" x2="111.45" y2="249.00" stroke="#8a3a45" stroke-width="0.9"/>
<line x1="115.15" y1="185.10" x2="115.15" y2="214.10" stroke="#777" stroke-width="0.6"/>
<line x1="115.15" y1="233.80" x2="115.15" y2="251.80" stroke="#777" stroke-width="0.6"/>
<rect x="111.65" y="214.10" width="7.00" height="19.70" fill="#e33346" stroke="#4a4a4a" stroke-width="0.7"/>
<line x1="111.65" y1="224.30" x2="118.65" y2="224.30" stroke="#8a1a2a" stroke-width="0.9"/>
<line x1="111.55" y1="255.10" x2="111.55" y2="258.80" stroke="#8c8c8c" stroke-width="0.8"/>
<text x="114.25" y="262.80" font-size="9.02" text-anchor="end" fill="#2a2a2a" stroke="#2a2a2a" stroke-width="0.08" textLength="42.10" lengthAdjust="spacingAndGlyphs" transform="rotate(-90 114.25 262.80)">Dox (d 21)</text>
<line x1="124.60" y1="243.30" x2="124.60" y2="248.50" stroke="#777" stroke-width="0.6"/>
<line x1="124.60" y1="251.20" x2="124.60" y2="251.80" stroke="#777" stroke-width="0.6"/>
<rect x="121.10" y="248.50" width="7.00" height="2.70" fill="#f5b8c0" stroke="#4a4a4a" stroke-width="0.7"/>
<line x1="121.10" y1="250.00" x2="128.10" y2="250.00" stroke="#8a3a45" stroke-width="0.9"/>
<line x1="131.80" y1="219.00" x2="131.80" y2="234.40" stroke="#777" stroke-width="0.6"/>
<line x1="131.80" y1="245.40" x2="131.80" y2="251.80" stroke="#777" stroke-width="0.6"/>
<rect x="128.30" y="234.40" width="7.00" height="11.00" fill="#e33346" stroke="#4a4a4a" stroke-width="0.7"/>
<line x1="128.30" y1="239.70" x2="135.30" y2="239.70" stroke="#8a1a2a" stroke-width="0.9"/>
<line x1="128.20" y1="255.10" x2="128.20" y2="258.80" stroke="#8c8c8c" stroke-width="0.8"/>
<text x="130.90" y="262.80" font-size="9.27" text-anchor="end" fill="#2a2a2a" stroke="#2a2a2a" stroke-width="0.08" textLength="57.70" lengthAdjust="spacingAndGlyphs" transform="rotate(-90 130.90 262.80)">Dox (d 21) wo</text>
<rect x="141.30" y="156.20" width="87.60" height="14.30" fill="#efefef" stroke="#5a5a5a" stroke-width="0.8"/>
<text x="185.10" y="166.60" font-size="9.85" text-anchor="middle" fill="#1f1f1f" stroke="#1f1f1f" stroke-width="0.08" textLength="40.50" lengthAdjust="spacingAndGlyphs">Promoter</text>
<rect x="141.30" y="174.50" width="87.60" height="80.60" fill="none" stroke="#9a9a9a" stroke-width="0.9"/>
<line x1="148.90" y1="249.00" x2="148.90" y2="250.60" stroke="#777" stroke-width="0.6"/>
<line x1="148.90" y1="251.80" x2="148.90" y2="251.80" stroke="#777" stroke-width="0.6"/>
<rect x="145.40" y="250.60" width="7.00" height="1.20" fill="#f5b8c0" stroke="#4a4a4a" stroke-width="0.7"/>
<line x1="145.40" y1="251.20" x2="152.40" y2="251.20" stroke="#8a3a45" stroke-width="0.9"/>
<line x1="156.10" y1="241.10" x2="156.10" y2="246.20" stroke="#777" stroke-width="0.6"/>
<line x1="156.10" y1="251.60" x2="156.10" y2="251.80" stroke="#777" stroke-width="0.6"/>
<rect x="152.60" y="246.20" width="7.00" height="5.40" fill="#e33346" stroke="#4a4a4a" stroke-width="0.7"/>
<line x1="152.60" y1="249.50" x2="159.60" y2="249.50" stroke="#8a1a2a" stroke-width="0.9"/>
<line x1="152.50" y1="255.10" x2="152.50" y2="258.80" stroke="#8c8c8c" stroke-width="0.8"/>
<text x="155.20" y="262.80" font-size="10.14" text-anchor="end" fill="#2a2a2a" stroke="#2a2a2a" stroke-width="0.08" textLength="32.70" lengthAdjust="spacingAndGlyphs" transform="rotate(-90 155.20 262.80)">Control</text>
<line x1="165.55" y1="249.00" x2="165.55" y2="250.60" stroke="#777" stroke-width="0.6"/>
<line x1="165.55" y1="251.80" x2="165.55" y2="251.80" stroke="#777" stroke-width="0.6"/>
<rect x="162.05" y="250.60" width="7.00" height="1.20" fill="#f5b8c0" stroke="#4a4a4a" stroke-width="0.7"/>
<line x1="162.05" y1="251.20" x2="169.05" y2="251.20" stroke="#8a3a45" stroke-width="0.9"/>
<line x1="172.75" y1="187.90" x2="172.75" y2="215.50" stroke="#777" stroke-width="0.6"/>
<line x1="172.75" y1="244.50" x2="172.75" y2="251.80" stroke="#777" stroke-width="0.6"/>
<rect x="169.25" y="215.50" width="7.00" height="29.00" fill="#e33346" stroke="#4a4a4a" stroke-width="0.7"/>
<line x1="169.25" y1="230.60" x2="176.25" y2="230.60" stroke="#8a1a2a" stroke-width="0.9"/>
<line x1="169.15" y1="255.10" x2="169.15" y2="258.80" stroke="#8c8c8c" stroke-width="0.8"/>
<text x="171.85" y="262.80" font-size="9.39" text-anchor="end" fill="#2a2a2a" stroke="#2a2a2a" stroke-width="0.08" textLength="38.60" lengthAdjust="spacingAndGlyphs" transform="rotate(-90 171.85 262.80)">Dox (d 7)</text>
<line x1="182.20" y1="249.00" x2="182.20" y2="250.60" stroke="#777" stroke-width="0.6"/>
<line x1="182.20" y1="251.80" x2="182.20" y2="251.80" stroke="#777" stroke-width="0.6"/>
<rect x="178.70" y="250.60" width="7.00" height="1.20" fill="#f5b8c0" stroke="#4a4a4a" stroke-width="0.7"/>
<line x1="178.70" y1="251.20" x2="185.70" y2="251.20" stroke="#8a3a45" stroke-width="0.9"/>
<line x1="189.40" y1="218.30" x2="189.40" y2="236.80" stroke="#777" stroke-width="0.6"/>
<line x1="189.40" y1="249.60" x2="189.40" y2="251.80" stroke="#777" stroke-width="0.6"/>
<rect x="185.90" y="236.80" width="7.00" height="12.80" fill="#e33346" stroke="#4a4a4a" stroke-width="0.7"/>
<line x1="185.90" y1="244.80" x2="192.90" y2="244.80" stroke="#8a1a2a" stroke-width="0.9"/>
<line x1="185.80" y1="255.10" x2="185.80" y2="258.80" stroke="#8c8c8c" stroke-width="0.8"/>
<text x="188.50" y="262.80" font-size="9.49" text-anchor="end" fill="#2a2a2a" stroke="#2a2a2a" stroke-width="0.08" textLength="53.80" lengthAdjust="spacingAndGlyphs" transform="rotate(-90 188.50 262.80)">Dox (d 7) wo</text>
<line x1="198.85" y1="249.00" x2="198.85" y2="250.60" stroke="#777" stroke-width="0.6"/>
<line x1="198.85" y1="251.80" x2="198.85" y2="251.80" stroke="#777" stroke-width="0.6"/>
<rect x="195.35" y="250.60" width="7.00" height="1.20" fill="#f5b8c0" stroke="#4a4a4a" stroke-width="0.7"/>
<line x1="195.35" y1="251.20" x2="202.35" y2="251.20" stroke="#8a3a45" stroke-width="0.9"/>
<line x1="206.05" y1="182.70" x2="206.05" y2="212.00" stroke="#777" stroke-width="0.6"/>
<line x1="206.05" y1="232.50" x2="206.05" y2="251.80" stroke="#777" stroke-width="0.6"/>
<rect x="202.55" y="212.00" width="7.00" height="20.50" fill="#e33346" stroke="#4a4a4a" stroke-width="0.7"/>
<line x1="202.55" y1="223.40" x2="209.55" y2="223.40" stroke="#8a1a2a" stroke-width="0.9"/>
<line x1="202.45" y1="255.10" x2="202.45" y2="258.80" stroke="#8c8c8c" stroke-width="0.8"/>
<text x="205.15" y="262.80" font-size="9.02" text-anchor="end" fill="#2a2a2a" stroke="#2a2a2a" stroke-width="0.08" textLength="42.10" lengthAdjust="spacingAndGlyphs" transform="rotate(-90 205.15 262.80)">Dox (d 21)</text>
<line x1="215.50" y1="249.00" x2="215.50" y2="250.60" stroke="#777" stroke-width="0.6"/>
<line x1="215.50" y1="251.80" x2="215.50" y2="251.80" stroke="#777" stroke-width="0.6"/>
<rect x="212.00" y="250.60" width="7.00" height="1.20" fill="#f5b8c0" stroke="#4a4a4a" stroke-width="0.7"/>
<line x1="212.00" y1="251.20" x2="219.00" y2="251.20" stroke="#8a3a45" stroke-width="0.9"/>
<line x1="222.70" y1="206.40" x2="222.70" y2="224.90" stroke="#777" stroke-width="0.6"/>
<line x1="222.70" y1="241.70" x2="222.70" y2="251.80" stroke="#777" stroke-width="0.6"/>
<rect x="219.20" y="224.90" width="7.00" height="16.80" fill="#e33346" stroke="#4a4a4a" stroke-width="0.7"/>
<line x1="219.20" y1="233.10" x2="226.20" y2="233.10" stroke="#8a1a2a" stroke-width="0.9"/>
<line x1="219.10" y1="255.10" x2="219.10" y2="258.80" stroke="#8c8c8c" stroke-width="0.8"/>
<text x="221.80" y="262.80" font-size="9.27" text-anchor="end" fill="#2a2a2a" stroke="#2a2a2a" stroke-width="0.08" textLength="57.70" lengthAdjust="spacingAndGlyphs" transform="rotate(-90 221.80 262.80)">Dox (d 21) wo</text>
<rect x="231.80" y="156.20" width="88.80" height="14.30" fill="#efefef" stroke="#5a5a5a" stroke-width="0.8"/>
<text x="276.20" y="166.60" font-size="9.93" text-anchor="middle" fill="#1f1f1f" stroke="#1f1f1f" stroke-width="0.08" textLength="45.80" lengthAdjust="spacingAndGlyphs">Genebody</text>
<rect x="231.80" y="174.50" width="88.80" height="80.60" fill="none" stroke="#9a9a9a" stroke-width="0.9"/>
<line x1="239.40" y1="250.00" x2="239.40" y2="251.00" stroke="#777" stroke-width="0.6"/>
<line x1="239.40" y1="251.90" x2="239.40" y2="251.80" stroke="#777" stroke-width="0.6"/>
<rect x="235.90" y="251.00" width="7.00" height="0.90" fill="#f5b8c0" stroke="#4a4a4a" stroke-width="0.7"/>
<line x1="235.90" y1="251.40" x2="242.90" y2="251.40" stroke="#8a3a45" stroke-width="0.9"/>
<line x1="246.60" y1="248.50" x2="246.60" y2="250.00" stroke="#777" stroke-width="0.6"/>
<line x1="246.60" y1="251.80" x2="246.60" y2="251.80" stroke="#777" stroke-width="0.6"/>
<rect x="243.10" y="250.00" width="7.00" height="1.80" fill="#e33346" stroke="#4a4a4a" stroke-width="0.7"/>
<line x1="243.10" y1="250.90" x2="250.10" y2="250.90" stroke="#8a1a2a" stroke-width="0.9"/>
<line x1="243.00" y1="255.10" x2="243.00" y2="258.80" stroke="#8c8c8c" stroke-width="0.8"/>
<text x="245.70" y="262.80" font-size="10.14" text-anchor="end" fill="#2a2a2a" stroke="#2a2a2a" stroke-width="0.08" textLength="32.70" lengthAdjust="spacingAndGlyphs" transform="rotate(-90 245.70 262.80)">Control</text>
<line x1="256.05" y1="250.00" x2="256.05" y2="251.00" stroke="#777" stroke-width="0.6"/>
<line x1="256.05" y1="251.90" x2="256.05" y2="251.80" stroke="#777" stroke-width="0.6"/>
<rect x="252.55" y="251.00" width="7.00" height="0.90" fill="#f5b8c0" stroke="#4a4a4a" stroke-width="0.7"/>
<line x1="252.55" y1="251.40" x2="259.55" y2="251.40" stroke="#8a3a45" stroke-width="0.9"/>
<line x1="263.25" y1="189.00" x2="263.25" y2="214.00" stroke="#777" stroke-width="0.6"/>
<line x1="263.25" y1="243.40" x2="263.25" y2="251.80" stroke="#777" stroke-width="0.6"/>
<rect x="259.75" y="214.00" width="7.00" height="29.40" fill="#e33346" stroke="#4a4a4a" stroke-width="0.7"/>
<line x1="259.75" y1="226.90" x2="266.75" y2="226.90" stroke="#8a1a2a" stroke-width="0.9"/>
<line x1="259.65" y1="255.10" x2="259.65" y2="258.80" stroke="#8c8c8c" stroke-width="0.8"/>
<text x="262.35" y="262.80" font-size="9.39" text-anchor="end" fill="#2a2a2a" stroke="#2a2a2a" stroke-width="0.08" textLength="38.60" lengthAdjust="spacingAndGlyphs" transform="rotate(-90 262.35 262.80)">Dox (d 7)</text>
<line x1="272.70" y1="250.00" x2="272.70" y2="251.00" stroke="#777" stroke-width="0.6"/>
<line x1="272.70" y1="251.90" x2="272.70" y2="251.80" stroke="#777" stroke-width="0.6"/>
<rect x="269.20" y="251.00" width="7.00" height="0.90" fill="#f5b8c0" stroke="#4a4a4a" stroke-width="0.7"/>
<line x1="269.20" y1="251.40" x2="276.20" y2="251.40" stroke="#8a3a45" stroke-width="0.9"/>
<line x1="279.90" y1="223.40" x2="279.90" y2="238.80" stroke="#777" stroke-width="0.6"/>
<line x1="279.90" y1="251.30" x2="279.90" y2="251.80" stroke="#777" stroke-width="0.6"/>
<rect x="276.40" y="238.80" width="7.00" height="12.50" fill="#e33346" stroke="#4a4a4a" stroke-width="0.7"/>
<line x1="276.40" y1="247.40" x2="283.40" y2="247.40" stroke="#8a1a2a" stroke-width="0.9"/>
<line x1="276.30" y1="255.10" x2="276.30" y2="258.80" stroke="#8c8c8c" stroke-width="0.8"/>
<text x="279.00" y="262.80" font-size="9.49" text-anchor="end" fill="#2a2a2a" stroke="#2a2a2a" stroke-width="0.08" textLength="53.80" lengthAdjust="spacingAndGlyphs" transform="rotate(-90 279.00 262.80)">Dox (d 7) wo</text>
<line x1="289.35" y1="250.00" x2="289.35" y2="251.00" stroke="#777" stroke-width="0.6"/>
<line x1="289.35" y1="251.90" x2="289.35" y2="251.80" stroke="#777" stroke-width="0.6"/>
<rect x="285.85" y="251.00" width="7.00" height="0.90" fill="#f5b8c0" stroke="#4a4a4a" stroke-width="0.7"/>
<line x1="285.85" y1="251.40" x2="292.85" y2="251.40" stroke="#8a3a45" stroke-width="0.9"/>
<line x1="296.55" y1="194.10" x2="296.55" y2="214.00" stroke="#777" stroke-width="0.6"/>
<line x1="296.55" y1="230.60" x2="296.55" y2="251.80" stroke="#777" stroke-width="0.6"/>
<rect x="293.05" y="214.00" width="7.00" height="16.60" fill="#e33346" stroke="#4a4a4a" stroke-width="0.7"/>
<line x1="293.05" y1="223.40" x2="300.05" y2="223.40" stroke="#8a1a2a" stroke-width="0.9"/>
<line x1="292.95" y1="255.10" x2="292.95" y2="258.80" stroke="#8c8c8c" stroke-width="0.8"/>
<text x="295.65" y="262.80" font-size="9.02" text-anchor="end" fill="#2a2a2a" stroke="#2a2a2a" stroke-width="0.08" textLength="42.10" lengthAdjust="spacingAndGlyphs" transform="rotate(-90 295.65 262.80)">Dox (d 21)</text>
<line x1="306.00" y1="250.00" x2="306.00" y2="251.00" stroke="#777" stroke-width="0.6"/>
<line x1="306.00" y1="251.90" x2="306.00" y2="251.80" stroke="#777" stroke-width="0.6"/>
<rect x="302.50" y="251.00" width="7.00" height="0.90" fill="#f5b8c0" stroke="#4a4a4a" stroke-width="0.7"/>
<line x1="302.50" y1="251.40" x2="309.50" y2="251.40" stroke="#8a3a45" stroke-width="0.9"/>
<line x1="313.20" y1="214.90" x2="313.20" y2="233.10" stroke="#777" stroke-width="0.6"/>
<line x1="313.20" y1="246.20" x2="313.20" y2="251.80" stroke="#777" stroke-width="0.6"/>
<rect x="309.70" y="233.10" width="7.00" height="13.10" fill="#e33346" stroke="#4a4a4a" stroke-width="0.7"/>
<line x1="309.70" y1="241.00" x2="316.70" y2="241.00" stroke="#8a1a2a" stroke-width="0.9"/>
<line x1="309.60" y1="255.10" x2="309.60" y2="258.80" stroke="#8c8c8c" stroke-width="0.8"/>
<text x="312.30" y="262.80" font-size="9.27" text-anchor="end" fill="#2a2a2a" stroke="#2a2a2a" stroke-width="0.08" textLength="57.70" lengthAdjust="spacingAndGlyphs" transform="rotate(-90 312.30 262.80)">Dox (d 21) wo</text>
<line x1="46.60" y1="251.80" x2="50.40" y2="251.80" stroke="#8c8c8c" stroke-width="0.8"/>
<text x="42.50" y="254.70" font-size="8.2" text-anchor="end" fill="#2a2a2a" stroke="#2a2a2a" stroke-width="0.08">0</text>
<line x1="46.60" y1="217.30" x2="50.40" y2="217.30" stroke="#8c8c8c" stroke-width="0.8"/>
<text x="42.50" y="220.20" font-size="8.2" text-anchor="end" fill="#2a2a2a" stroke="#2a2a2a" stroke-width="0.08">200</text>
<line x1="46.60" y1="183.00" x2="50.40" y2="183.00" stroke="#8c8c8c" stroke-width="0.8"/>
<text x="42.50" y="185.90" font-size="8.2" text-anchor="end" fill="#2a2a2a" stroke="#2a2a2a" stroke-width="0.08">400</text>
<text x="19.00" y="214.80" font-size="10.02" text-anchor="middle" fill="#1f1f1f" stroke="#1f1f1f" stroke-width="0.08" textLength="83.00" lengthAdjust="spacingAndGlyphs" transform="rotate(-90 19.00 214.80)">Normalized counts</text>
<rect x="399.80" y="128.60" width="7.00" height="5.70" fill="#fdd6a6" stroke="#555" stroke-width="0.6"/>
<line x1="399.80" y1="131.45" x2="406.80" y2="131.45" stroke="#7a5a30" stroke-width="0.7"/>
<text x="410.20" y="134.60" font-size="7.6" fill="#2a2a2a" stroke="#2a2a2a" stroke-width="0.08">Xa</text>
<rect x="427.70" y="128.60" width="7.00" height="5.70" fill="#f39020" stroke="#555" stroke-width="0.6"/>
<line x1="427.70" y1="131.45" x2="434.70" y2="131.45" stroke="#6a3a10" stroke-width="0.7"/>
<text x="438.20" y="134.60" font-size="7.6" fill="#2a2a2a" stroke="#2a2a2a" stroke-width="0.08">Xi</text>
<rect x="399.10" y="138.50" width="270.40" height="14.20" fill="#efefef" stroke="#5a5a5a" stroke-width="0.8"/>
<text x="534.30" y="148.80" font-size="8.92" text-anchor="middle" fill="#1f1f1f" stroke="#1f1f1f" stroke-width="0.08" textLength="48.90" lengthAdjust="spacingAndGlyphs">H2AK119Ub</text>
<rect x="399.10" y="156.20" width="88.50" height="14.20" fill="#efefef" stroke="#5a5a5a" stroke-width="0.8"/>
<text x="443.35" y="166.50" font-size="10.02" text-anchor="middle" fill="#1f1f1f" stroke="#1f1f1f" stroke-width="0.08" textLength="44.00" lengthAdjust="spacingAndGlyphs">Intergenic</text>
<rect x="399.10" y="174.60" width="88.50" height="80.50" fill="none" stroke="#9a9a9a" stroke-width="0.9"/>
<line x1="406.20" y1="227.30" x2="406.20" y2="239.90" stroke="#5a5a5a" stroke-width="0.65"/>
<line x1="406.20" y1="248.30" x2="406.20" y2="252.30" stroke="#5a5a5a" stroke-width="0.65"/>
<rect x="402.80" y="239.90" width="6.80" height="8.40" fill="#fdd6a6" stroke="#4a4a4a" stroke-width="0.7"/>
<line x1="402.80" y1="244.10" x2="409.60" y2="244.10" stroke="#6a5030" stroke-width="0.9"/>
<line x1="413.40" y1="216.80" x2="413.40" y2="233.20" stroke="#5a5a5a" stroke-width="0.65"/>
<line x1="413.40" y1="244.10" x2="413.40" y2="252.30" stroke="#5a5a5a" stroke-width="0.65"/>
<rect x="410.00" y="233.20" width="6.80" height="10.90" fill="#f39020" stroke="#4a4a4a" stroke-width="0.7"/>
<line x1="410.00" y1="239.50" x2="416.80" y2="239.50" stroke="#5a3010" stroke-width="0.9"/>
<line x1="409.80" y1="255.10" x2="409.80" y2="258.80" stroke="#8c8c8c" stroke-width="0.8"/>
<text x="412.50" y="262.80" font-size="10.14" text-anchor="end" fill="#2a2a2a" stroke="#2a2a2a" stroke-width="0.08" textLength="32.70" lengthAdjust="spacingAndGlyphs" transform="rotate(-90 412.50 262.80)">Control</text>
<line x1="422.95" y1="225.00" x2="422.95" y2="237.80" stroke="#5a5a5a" stroke-width="0.65"/>
<line x1="422.95" y1="246.50" x2="422.95" y2="252.30" stroke="#5a5a5a" stroke-width="0.65"/>
<rect x="419.55" y="237.80" width="6.80" height="8.70" fill="#fdd6a6" stroke="#4a4a4a" stroke-width="0.7"/>
<line x1="419.55" y1="242.00" x2="426.35" y2="242.00" stroke="#6a5030" stroke-width="0.9"/>
<line x1="430.15" y1="190.00" x2="430.15" y2="217.30" stroke="#5a5a5a" stroke-width="0.65"/>
<line x1="430.15" y1="236.00" x2="430.15" y2="252.30" stroke="#5a5a5a" stroke-width="0.65"/>
<rect x="426.75" y="217.30" width="6.80" height="18.70" fill="#f39020" stroke="#4a4a4a" stroke-width="0.7"/>
<line x1="426.75" y1="227.10" x2="433.55" y2="227.10" stroke="#5a3010" stroke-width="0.9"/>
<line x1="426.55" y1="255.10" x2="426.55" y2="258.80" stroke="#8c8c8c" stroke-width="0.8"/>
<text x="429.25" y="262.80" font-size="9.39" text-anchor="end" fill="#2a2a2a" stroke="#2a2a2a" stroke-width="0.08" textLength="38.60" lengthAdjust="spacingAndGlyphs" transform="rotate(-90 429.25 262.80)">Dox (d 7)</text>
<line x1="439.70" y1="228.20" x2="439.70" y2="240.00" stroke="#5a5a5a" stroke-width="0.65"/>
<line x1="439.70" y1="248.30" x2="439.70" y2="252.30" stroke="#5a5a5a" stroke-width="0.65"/>
<rect x="436.30" y="240.00" width="6.80" height="8.30" fill="#fdd6a6" stroke="#4a4a4a" stroke-width="0.7"/>
<line x1="436.30" y1="244.00" x2="443.10" y2="244.00" stroke="#6a5030" stroke-width="0.9"/>
<line x1="446.90" y1="215.60" x2="446.90" y2="232.00" stroke="#5a5a5a" stroke-width="0.65"/>
<line x1="446.90" y1="243.00" x2="446.90" y2="252.30" stroke="#5a5a5a" stroke-width="0.65"/>
<rect x="443.50" y="232.00" width="6.80" height="11.00" fill="#f39020" stroke="#4a4a4a" stroke-width="0.7"/>
<line x1="443.50" y1="238.30" x2="450.30" y2="238.30" stroke="#5a3010" stroke-width="0.9"/>
<line x1="443.30" y1="255.10" x2="443.30" y2="258.80" stroke="#8c8c8c" stroke-width="0.8"/>
<text x="446.00" y="262.80" font-size="9.49" text-anchor="end" fill="#2a2a2a" stroke="#2a2a2a" stroke-width="0.08" textLength="53.80" lengthAdjust="spacingAndGlyphs" transform="rotate(-90 446.00 262.80)">Dox (d 7) wo</text>
<line x1="456.45" y1="225.00" x2="456.45" y2="237.60" stroke="#5a5a5a" stroke-width="0.65"/>
<line x1="456.45" y1="246.00" x2="456.45" y2="252.30" stroke="#5a5a5a" stroke-width="0.65"/>
<rect x="453.05" y="237.60" width="6.80" height="8.40" fill="#fdd6a6" stroke="#4a4a4a" stroke-width="0.7"/>
<line x1="453.05" y1="241.70" x2="459.85" y2="241.70" stroke="#6a5030" stroke-width="0.9"/>
<line x1="463.65" y1="178.30" x2="463.65" y2="210.30" stroke="#5a5a5a" stroke-width="0.65"/>
<line x1="463.65" y1="232.50" x2="463.65" y2="252.30" stroke="#5a5a5a" stroke-width="0.65"/>
<rect x="460.25" y="210.30" width="6.80" height="22.20" fill="#f39020" stroke="#4a4a4a" stroke-width="0.7"/>
<line x1="460.25" y1="220.80" x2="467.05" y2="220.80" stroke="#5a3010" stroke-width="0.9"/>
<line x1="460.05" y1="255.10" x2="460.05" y2="258.80" stroke="#8c8c8c" stroke-width="0.8"/>
<text x="462.75" y="262.80" font-size="9.02" text-anchor="end" fill="#2a2a2a" stroke="#2a2a2a" stroke-width="0.08" textLength="42.10" lengthAdjust="spacingAndGlyphs" transform="rotate(-90 462.75 262.80)">Dox (d 21)</text>
<line x1="473.20" y1="227.80" x2="473.20" y2="240.00" stroke="#5a5a5a" stroke-width="0.65"/>
<line x1="473.20" y1="248.30" x2="473.20" y2="252.30" stroke="#5a5a5a" stroke-width="0.65"/>
<rect x="469.80" y="240.00" width="6.80" height="8.30" fill="#fdd6a6" stroke="#4a4a4a" stroke-width="0.7"/>
<line x1="469.80" y1="244.00" x2="476.60" y2="244.00" stroke="#6a5030" stroke-width="0.9"/>
<line x1="480.40" y1="220.30" x2="480.40" y2="234.80" stroke="#5a5a5a" stroke-width="0.65"/>
<line x1="480.40" y1="244.10" x2="480.40" y2="252.30" stroke="#5a5a5a" stroke-width="0.65"/>
<rect x="477.00" y="234.80" width="6.80" height="9.30" fill="#f39020" stroke="#4a4a4a" stroke-width="0.7"/>
<line x1="477.00" y1="239.50" x2="483.80" y2="239.50" stroke="#5a3010" stroke-width="0.9"/>
<line x1="476.80" y1="255.10" x2="476.80" y2="258.80" stroke="#8c8c8c" stroke-width="0.8"/>
<text x="479.50" y="262.80" font-size="9.27" text-anchor="end" fill="#2a2a2a" stroke="#2a2a2a" stroke-width="0.08" textLength="57.70" lengthAdjust="spacingAndGlyphs" transform="rotate(-90 479.50 262.80)">Dox (d 21) wo</text>
<rect x="490.30" y="156.20" width="88.10" height="14.20" fill="#efefef" stroke="#5a5a5a" stroke-width="0.8"/>
<text x="534.35" y="166.50" font-size="9.85" text-anchor="middle" fill="#1f1f1f" stroke="#1f1f1f" stroke-width="0.08" textLength="40.50" lengthAdjust="spacingAndGlyphs">Promoter</text>
<rect x="490.30" y="174.60" width="88.10" height="80.50" fill="none" stroke="#9a9a9a" stroke-width="0.9"/>
<line x1="497.40" y1="221.00" x2="497.40" y2="234.70" stroke="#5a5a5a" stroke-width="0.65"/>
<line x1="497.40" y1="245.50" x2="497.40" y2="250.70" stroke="#5a5a5a" stroke-width="0.65"/>
<rect x="494.00" y="234.70" width="6.80" height="10.80" fill="#fdd6a6" stroke="#4a4a4a" stroke-width="0.7"/>
<line x1="494.00" y1="241.10" x2="500.80" y2="241.10" stroke="#6a5030" stroke-width="0.9"/>
<line x1="504.60" y1="210.40" x2="504.60" y2="228.20" stroke="#5a5a5a" stroke-width="0.65"/>
<line x1="504.60" y1="242.80" x2="504.60" y2="252.30" stroke="#5a5a5a" stroke-width="0.65"/>
<rect x="501.20" y="228.20" width="6.80" height="14.60" fill="#f39020" stroke="#4a4a4a" stroke-width="0.7"/>
<line x1="501.20" y1="235.50" x2="508.00" y2="235.50" stroke="#5a3010" stroke-width="0.9"/>
<line x1="501.00" y1="255.10" x2="501.00" y2="258.80" stroke="#8c8c8c" stroke-width="0.8"/>
<text x="503.70" y="262.80" font-size="10.14" text-anchor="end" fill="#2a2a2a" stroke="#2a2a2a" stroke-width="0.08" textLength="32.70" lengthAdjust="spacingAndGlyphs" transform="rotate(-90 503.70 262.80)">Control</text>
<line x1="514.15" y1="212.80" x2="514.15" y2="231.80" stroke="#5a5a5a" stroke-width="0.65"/>
<line x1="514.15" y1="244.30" x2="514.15" y2="250.20" stroke="#5a5a5a" stroke-width="0.65"/>
<rect x="510.75" y="231.80" width="6.80" height="12.50" fill="#fdd6a6" stroke="#4a4a4a" stroke-width="0.7"/>
<line x1="510.75" y1="238.20" x2="517.55" y2="238.20" stroke="#6a5030" stroke-width="0.9"/>
<line x1="521.35" y1="183.60" x2="521.35" y2="213.00" stroke="#5a5a5a" stroke-width="0.65"/>
<line x1="521.35" y1="233.80" x2="521.35" y2="252.30" stroke="#5a5a5a" stroke-width="0.65"/>
<rect x="517.95" y="213.00" width="6.80" height="20.80" fill="#f39020" stroke="#4a4a4a" stroke-width="0.7"/>
<line x1="517.95" y1="223.60" x2="524.75" y2="223.60" stroke="#5a3010" stroke-width="0.9"/>
<line x1="517.75" y1="255.10" x2="517.75" y2="258.80" stroke="#8c8c8c" stroke-width="0.8"/>
<text x="520.45" y="262.80" font-size="9.39" text-anchor="end" fill="#2a2a2a" stroke="#2a2a2a" stroke-width="0.08" textLength="38.60" lengthAdjust="spacingAndGlyphs" transform="rotate(-90 520.45 262.80)">Dox (d 7)</text>
<line x1="530.90" y1="217.20" x2="530.90" y2="232.60" stroke="#5a5a5a" stroke-width="0.65"/>
<line x1="530.90" y1="243.40" x2="530.90" y2="249.50" stroke="#5a5a5a" stroke-width="0.65"/>
<rect x="527.50" y="232.60" width="6.80" height="10.80" fill="#fdd6a6" stroke="#4a4a4a" stroke-width="0.7"/>
<line x1="527.50" y1="237.60" x2="534.30" y2="237.60" stroke="#6a5030" stroke-width="0.9"/>
<line x1="538.10" y1="204.00" x2="538.10" y2="222.40" stroke="#5a5a5a" stroke-width="0.65"/>
<line x1="538.10" y1="238.20" x2="538.10" y2="252.30" stroke="#5a5a5a" stroke-width="0.65"/>
<rect x="534.70" y="222.40" width="6.80" height="15.80" fill="#f39020" stroke="#4a4a4a" stroke-width="0.7"/>
<line x1="534.70" y1="232.60" x2="541.50" y2="232.60" stroke="#5a3010" stroke-width="0.9"/>
<line x1="534.50" y1="255.10" x2="534.50" y2="258.80" stroke="#8c8c8c" stroke-width="0.8"/>
<text x="537.20" y="262.80" font-size="9.49" text-anchor="end" fill="#2a2a2a" stroke="#2a2a2a" stroke-width="0.08" textLength="53.80" lengthAdjust="spacingAndGlyphs" transform="rotate(-90 537.20 262.80)">Dox (d 7) wo</text>
<line x1="547.65" y1="224.50" x2="547.65" y2="236.10" stroke="#5a5a5a" stroke-width="0.65"/>
<line x1="547.65" y1="244.90" x2="547.65" y2="250.50" stroke="#5a5a5a" stroke-width="0.65"/>
<rect x="544.25" y="236.10" width="6.80" height="8.80" fill="#fdd6a6" stroke="#4a4a4a" stroke-width="0.7"/>
<line x1="544.25" y1="240.00" x2="551.05" y2="240.00" stroke="#6a5030" stroke-width="0.9"/>
<line x1="554.85" y1="188.00" x2="554.85" y2="209.90" stroke="#5a5a5a" stroke-width="0.65"/>
<line x1="554.85" y1="231.80" x2="554.85" y2="252.30" stroke="#5a5a5a" stroke-width="0.65"/>
<rect x="551.45" y="209.90" width="6.80" height="21.90" fill="#f39020" stroke="#4a4a4a" stroke-width="0.7"/>
<line x1="551.45" y1="221.00" x2="558.25" y2="221.00" stroke="#5a3010" stroke-width="0.9"/>
<line x1="551.25" y1="255.10" x2="551.25" y2="258.80" stroke="#8c8c8c" stroke-width="0.8"/>
<text x="553.95" y="262.80" font-size="9.02" text-anchor="end" fill="#2a2a2a" stroke="#2a2a2a" stroke-width="0.08" textLength="42.10" lengthAdjust="spacingAndGlyphs" transform="rotate(-90 553.95 262.80)">Dox (d 21)</text>
<line x1="564.40" y1="219.20" x2="564.40" y2="232.30" stroke="#5a5a5a" stroke-width="0.65"/>
<line x1="564.40" y1="243.40" x2="564.40" y2="250.00" stroke="#5a5a5a" stroke-width="0.65"/>
<rect x="561.00" y="232.30" width="6.80" height="11.10" fill="#fdd6a6" stroke="#4a4a4a" stroke-width="0.7"/>
<line x1="561.00" y1="238.20" x2="567.80" y2="238.20" stroke="#6a5030" stroke-width="0.9"/>
<line x1="571.60" y1="211.30" x2="571.60" y2="228.20" stroke="#5a5a5a" stroke-width="0.65"/>
<line x1="571.60" y1="240.50" x2="571.60" y2="252.30" stroke="#5a5a5a" stroke-width="0.65"/>
<rect x="568.20" y="228.20" width="6.80" height="12.30" fill="#f39020" stroke="#4a4a4a" stroke-width="0.7"/>
<line x1="568.20" y1="233.20" x2="575.00" y2="233.20" stroke="#5a3010" stroke-width="0.9"/>
<line x1="568.00" y1="255.10" x2="568.00" y2="258.80" stroke="#8c8c8c" stroke-width="0.8"/>
<text x="570.70" y="262.80" font-size="9.27" text-anchor="end" fill="#2a2a2a" stroke="#2a2a2a" stroke-width="0.08" textLength="57.70" lengthAdjust="spacingAndGlyphs" transform="rotate(-90 570.70 262.80)">Dox (d 21) wo</text>
<rect x="580.80" y="156.20" width="88.70" height="14.20" fill="#efefef" stroke="#5a5a5a" stroke-width="0.8"/>
<text x="625.15" y="166.50" font-size="9.93" text-anchor="middle" fill="#1f1f1f" stroke="#1f1f1f" stroke-width="0.08" textLength="45.80" lengthAdjust="spacingAndGlyphs">Genebody</text>
<rect x="580.80" y="174.60" width="88.70" height="80.50" fill="none" stroke="#9a9a9a" stroke-width="0.9"/>
<line x1="587.90" y1="229.70" x2="587.90" y2="238.50" stroke="#5a5a5a" stroke-width="0.65"/>
<line x1="587.90" y1="244.30" x2="587.90" y2="250.00" stroke="#5a5a5a" stroke-width="0.65"/>
<rect x="584.50" y="238.50" width="6.80" height="5.80" fill="#fdd6a6" stroke="#4a4a4a" stroke-width="0.7"/>
<line x1="584.50" y1="241.50" x2="591.30" y2="241.50" stroke="#6a5030" stroke-width="0.9"/>
<line x1="595.10" y1="223.00" x2="595.10" y2="234.70" stroke="#5a5a5a" stroke-width="0.65"/>
<line x1="595.10" y1="242.80" x2="595.10" y2="252.30" stroke="#5a5a5a" stroke-width="0.65"/>
<rect x="591.70" y="234.70" width="6.80" height="8.10" fill="#f39020" stroke="#4a4a4a" stroke-width="0.7"/>
<line x1="591.70" y1="238.50" x2="598.50" y2="238.50" stroke="#5a3010" stroke-width="0.9"/>
<line x1="591.50" y1="255.10" x2="591.50" y2="258.80" stroke="#8c8c8c" stroke-width="0.8"/>
<text x="594.20" y="262.80" font-size="10.14" text-anchor="end" fill="#2a2a2a" stroke="#2a2a2a" stroke-width="0.08" textLength="32.70" lengthAdjust="spacingAndGlyphs" transform="rotate(-90 594.20 262.80)">Control</text>
<line x1="604.65" y1="231.20" x2="604.65" y2="237.00" stroke="#5a5a5a" stroke-width="0.65"/>
<line x1="604.65" y1="244.30" x2="604.65" y2="250.00" stroke="#5a5a5a" stroke-width="0.65"/>
<rect x="601.25" y="237.00" width="6.80" height="7.30" fill="#fdd6a6" stroke="#4a4a4a" stroke-width="0.7"/>
<line x1="601.25" y1="240.60" x2="608.05" y2="240.60" stroke="#6a5030" stroke-width="0.9"/>
<line x1="611.85" y1="188.00" x2="611.85" y2="207.50" stroke="#5a5a5a" stroke-width="0.65"/>
<line x1="611.85" y1="224.70" x2="611.85" y2="252.30" stroke="#5a5a5a" stroke-width="0.65"/>
<rect x="608.45" y="207.50" width="6.80" height="17.20" fill="#f39020" stroke="#4a4a4a" stroke-width="0.7"/>
<line x1="608.45" y1="217.20" x2="615.25" y2="217.20" stroke="#5a3010" stroke-width="0.9"/>
<line x1="608.25" y1="255.10" x2="608.25" y2="258.80" stroke="#8c8c8c" stroke-width="0.8"/>
<text x="610.95" y="262.80" font-size="9.39" text-anchor="end" fill="#2a2a2a" stroke="#2a2a2a" stroke-width="0.08" textLength="38.60" lengthAdjust="spacingAndGlyphs" transform="rotate(-90 610.95 262.80)">Dox (d 7)</text>
<line x1="621.40" y1="225.30" x2="621.40" y2="237.00" stroke="#5a5a5a" stroke-width="0.65"/>
<line x1="621.40" y1="244.30" x2="621.40" y2="250.00" stroke="#5a5a5a" stroke-width="0.65"/>
<rect x="618.00" y="237.00" width="6.80" height="7.30" fill="#fdd6a6" stroke="#4a4a4a" stroke-width="0.7"/>
<line x1="618.00" y1="240.60" x2="624.80" y2="240.60" stroke="#6a5030" stroke-width="0.9"/>
<line x1="628.60" y1="212.80" x2="628.60" y2="228.80" stroke="#5a5a5a" stroke-width="0.65"/>
<line x1="628.60" y1="240.50" x2="628.60" y2="252.30" stroke="#5a5a5a" stroke-width="0.65"/>
<rect x="625.20" y="228.80" width="6.80" height="11.70" fill="#f39020" stroke="#4a4a4a" stroke-width="0.7"/>
<line x1="625.20" y1="235.30" x2="632.00" y2="235.30" stroke="#5a3010" stroke-width="0.9"/>
<line x1="625.00" y1="255.10" x2="625.00" y2="258.80" stroke="#8c8c8c" stroke-width="0.8"/>
<text x="627.70" y="262.80" font-size="9.49" text-anchor="end" fill="#2a2a2a" stroke="#2a2a2a" stroke-width="0.08" textLength="53.80" lengthAdjust="spacingAndGlyphs" transform="rotate(-90 627.70 262.80)">Dox (d 7) wo</text>
<line x1="638.15" y1="228.80" x2="638.15" y2="237.60" stroke="#5a5a5a" stroke-width="0.65"/>
<line x1="638.15" y1="244.00" x2="638.15" y2="250.00" stroke="#5a5a5a" stroke-width="0.65"/>
<rect x="634.75" y="237.60" width="6.80" height="6.40" fill="#fdd6a6" stroke="#4a4a4a" stroke-width="0.7"/>
<line x1="634.75" y1="240.90" x2="641.55" y2="240.90" stroke="#6a5030" stroke-width="0.9"/>
<line x1="645.35" y1="185.60" x2="645.35" y2="204.90" stroke="#5a5a5a" stroke-width="0.65"/>
<line x1="645.35" y1="221.00" x2="645.35" y2="252.30" stroke="#5a5a5a" stroke-width="0.65"/>
<rect x="641.95" y="204.90" width="6.80" height="16.10" fill="#f39020" stroke="#4a4a4a" stroke-width="0.7"/>
<line x1="641.95" y1="212.80" x2="648.75" y2="212.80" stroke="#5a3010" stroke-width="0.9"/>
<line x1="641.75" y1="255.10" x2="641.75" y2="258.80" stroke="#8c8c8c" stroke-width="0.8"/>
<text x="644.45" y="262.80" font-size="9.02" text-anchor="end" fill="#2a2a2a" stroke="#2a2a2a" stroke-width="0.08" textLength="42.10" lengthAdjust="spacingAndGlyphs" transform="rotate(-90 644.45 262.80)">Dox (d 21)</text>
<line x1="654.90" y1="229.70" x2="654.90" y2="238.50" stroke="#5a5a5a" stroke-width="0.65"/>
<line x1="654.90" y1="245.50" x2="654.90" y2="250.00" stroke="#5a5a5a" stroke-width="0.65"/>
<rect x="651.50" y="238.50" width="6.80" height="7.00" fill="#fdd6a6" stroke="#4a4a4a" stroke-width="0.7"/>
<line x1="651.50" y1="242.00" x2="658.30" y2="242.00" stroke="#6a5030" stroke-width="0.9"/>
<line x1="662.10" y1="218.00" x2="662.10" y2="230.30" stroke="#5a5a5a" stroke-width="0.65"/>
<line x1="662.10" y1="239.60" x2="662.10" y2="252.30" stroke="#5a5a5a" stroke-width="0.65"/>
<rect x="658.70" y="230.30" width="6.80" height="9.30" fill="#f39020" stroke="#4a4a4a" stroke-width="0.7"/>
<line x1="658.70" y1="235.50" x2="665.50" y2="235.50" stroke="#5a3010" stroke-width="0.9"/>
<line x1="658.50" y1="255.10" x2="658.50" y2="258.80" stroke="#8c8c8c" stroke-width="0.8"/>
<text x="661.20" y="262.80" font-size="9.27" text-anchor="end" fill="#2a2a2a" stroke="#2a2a2a" stroke-width="0.08" textLength="57.70" lengthAdjust="spacingAndGlyphs" transform="rotate(-90 661.20 262.80)">Dox (d 21) wo</text>
<line x1="395.30" y1="252.30" x2="399.10" y2="252.30" stroke="#8c8c8c" stroke-width="0.8"/>
<text x="390.40" y="255.20" font-size="8.2" text-anchor="end" fill="#2a2a2a" stroke="#2a2a2a" stroke-width="0.08">0</text>
<line x1="395.30" y1="225.40" x2="399.10" y2="225.40" stroke="#8c8c8c" stroke-width="0.8"/>
<text x="390.40" y="228.30" font-size="8.2" text-anchor="end" fill="#2a2a2a" stroke="#2a2a2a" stroke-width="0.08">50</text>
<line x1="395.30" y1="197.40" x2="399.10" y2="197.40" stroke="#8c8c8c" stroke-width="0.8"/>
<text x="390.40" y="200.30" font-size="8.2" text-anchor="end" fill="#2a2a2a" stroke="#2a2a2a" stroke-width="0.08">100</text>
<text x="368.70" y="214.80" font-size="10.02" text-anchor="middle" fill="#1f1f1f" stroke="#1f1f1f" stroke-width="0.08" textLength="83.00" lengthAdjust="spacingAndGlyphs" transform="rotate(-90 368.70 214.80)">Normalized counts</text>
<line x1="88.90" y1="383.00" x2="88.90" y2="395.00" stroke="#c2c2c2" stroke-width="1.4"/>
<rect x="66.90" y="351.40" width="67.20" height="13.30" fill="#efefef" stroke="#5a5a5a" stroke-width="0.8"/>
<text x="100.50" y="362.00" font-size="9.45" text-anchor="middle" fill="#1f1f1f" stroke="#1f1f1f" stroke-width="0.08" textLength="47.30" lengthAdjust="spacingAndGlyphs">H3K27me3</text>
<rect x="66.90" y="367.30" width="67.20" height="111.00" fill="none" stroke="#9a9a9a" stroke-width="0.9"/>
<line x1="63.10" y1="477.10" x2="66.90" y2="477.10" stroke="#8c8c8c" stroke-width="0.8"/>
<text x="59.00" y="480.00" font-size="8.2" text-anchor="end" fill="#2a2a2a" stroke="#2a2a2a" stroke-width="0.08">0</text>
<line x1="63.10" y1="450.30" x2="66.90" y2="450.30" stroke="#8c8c8c" stroke-width="0.8"/>
<text x="59.00" y="453.20" font-size="8.2" text-anchor="end" fill="#2a2a2a" stroke="#2a2a2a" stroke-width="0.08">50</text>
<line x1="63.10" y1="423.00" x2="66.90" y2="423.00" stroke="#8c8c8c" stroke-width="0.8"/>
<text x="59.00" y="425.90" font-size="8.2" text-anchor="end" fill="#2a2a2a" stroke="#2a2a2a" stroke-width="0.08">100</text>
<line x1="63.10" y1="395.40" x2="66.90" y2="395.40" stroke="#8c8c8c" stroke-width="0.8"/>
<text x="59.00" y="398.30" font-size="8.2" text-anchor="end" fill="#2a2a2a" stroke="#2a2a2a" stroke-width="0.08">150</text>
<line x1="63.10" y1="368.00" x2="66.90" y2="368.00" stroke="#8c8c8c" stroke-width="0.8"/>
<text x="59.00" y="370.90" font-size="8.2" text-anchor="end" fill="#2a2a2a" stroke="#2a2a2a" stroke-width="0.08">200</text>
<line x1="74.60" y1="478.30" x2="74.60" y2="481.50" stroke="#8c8c8c" stroke-width="0.8"/>
<text x="77.30" y="486.00" font-size="10.14" text-anchor="end" fill="#2a2a2a" stroke="#2a2a2a" stroke-width="0.08" textLength="32.70" lengthAdjust="spacingAndGlyphs" transform="rotate(-90 77.30 486.00)">Control</text>
<line x1="87.60" y1="478.30" x2="87.60" y2="481.50" stroke="#8c8c8c" stroke-width="0.8"/>
<text x="90.30" y="486.00" font-size="9.39" text-anchor="end" fill="#2a2a2a" stroke="#2a2a2a" stroke-width="0.08" textLength="38.60" lengthAdjust="spacingAndGlyphs" transform="rotate(-90 90.30 486.00)">Dox (d 7)</text>
<line x1="100.40" y1="478.30" x2="100.40" y2="481.50" stroke="#8c8c8c" stroke-width="0.8"/>
<text x="103.10" y="486.00" font-size="9.49" text-anchor="end" fill="#2a2a2a" stroke="#2a2a2a" stroke-width="0.08" textLength="53.80" lengthAdjust="spacingAndGlyphs" transform="rotate(-90 103.10 486.00)">Dox (d 7) wo</text>
<line x1="113.20" y1="478.30" x2="113.20" y2="481.50" stroke="#8c8c8c" stroke-width="0.8"/>
<text x="115.90" y="486.00" font-size="9.02" text-anchor="end" fill="#2a2a2a" stroke="#2a2a2a" stroke-width="0.08" textLength="42.10" lengthAdjust="spacingAndGlyphs" transform="rotate(-90 115.90 486.00)">Dox (d 21)</text>
<line x1="126.00" y1="478.30" x2="126.00" y2="481.50" stroke="#8c8c8c" stroke-width="0.8"/>
<text x="128.70" y="486.00" font-size="9.27" text-anchor="end" fill="#2a2a2a" stroke="#2a2a2a" stroke-width="0.08" textLength="57.70" lengthAdjust="spacingAndGlyphs" transform="rotate(-90 128.70 486.00)">Dox (d 21) wo</text>
<circle cx="72.30" cy="471.30" r="4.85" fill="#1e6b34"/>
<line x1="85.60" y1="417.90" x2="85.60" y2="434.20" stroke="#1e6b34" stroke-width="1.6"/>
<circle cx="85.60" cy="426.00" r="4.85" fill="#1e6b34"/>
<circle cx="98.90" cy="467.70" r="4.85" fill="#1e6b34"/>
<line x1="111.70" y1="390.30" x2="111.70" y2="404.30" stroke="#1e6b34" stroke-width="1.6"/>
<circle cx="111.70" cy="397.90" r="4.85" fill="#1e6b34"/>
<circle cx="124.70" cy="458.70" r="4.85" fill="#1e6b34"/>
<circle cx="76.10" cy="470.00" r="4.85" fill="#c2c2c2"/>
<circle cx="88.90" cy="389.00" r="4.85" fill="#c2c2c2"/>
<circle cx="102.20" cy="447.70" r="4.85" fill="#c2c2c2"/>
<circle cx="115.00" cy="376.20" r="4.85" fill="#c2c2c2"/>
<circle cx="127.70" cy="428.60" r="4.85" fill="#c2c2c2"/>
<text x="37.00" y="423.00" font-size="10.08" text-anchor="middle" fill="#1f1f1f" stroke="#1f1f1f" stroke-width="0.08" textLength="83.50" lengthAdjust="spacingAndGlyphs" transform="rotate(-90 37.00 423.00)">Normalized counts</text>
<rect x="182.20" y="351.50" width="69.40" height="13.30" fill="#efefef" stroke="#5a5a5a" stroke-width="0.8"/>
<text x="216.90" y="362.10" font-size="9.08" text-anchor="middle" fill="#1f1f1f" stroke="#1f1f1f" stroke-width="0.08" textLength="49.80" lengthAdjust="spacingAndGlyphs">H2AK119Ub</text>
<rect x="182.20" y="366.80" width="69.40" height="111.20" fill="none" stroke="#9a9a9a" stroke-width="0.9"/>
<line x1="178.40" y1="473.40" x2="182.20" y2="473.40" stroke="#8c8c8c" stroke-width="0.8"/>
<text x="174.30" y="476.30" font-size="8.2" text-anchor="end" fill="#2a2a2a" stroke="#2a2a2a" stroke-width="0.08">20</text>
<line x1="178.40" y1="438.40" x2="182.20" y2="438.40" stroke="#8c8c8c" stroke-width="0.8"/>
<text x="174.30" y="441.30" font-size="8.2" text-anchor="end" fill="#2a2a2a" stroke="#2a2a2a" stroke-width="0.08">40</text>
<line x1="178.40" y1="402.60" x2="182.20" y2="402.60" stroke="#8c8c8c" stroke-width="0.8"/>
<text x="174.30" y="405.50" font-size="8.2" text-anchor="end" fill="#2a2a2a" stroke="#2a2a2a" stroke-width="0.08">60</text>
<line x1="178.40" y1="367.30" x2="182.20" y2="367.30" stroke="#8c8c8c" stroke-width="0.8"/>
<text x="174.30" y="370.20" font-size="8.2" text-anchor="end" fill="#2a2a2a" stroke="#2a2a2a" stroke-width="0.08">80</text>
<line x1="190.30" y1="478.00" x2="190.30" y2="481.20" stroke="#8c8c8c" stroke-width="0.8"/>
<text x="193.00" y="486.00" font-size="10.14" text-anchor="end" fill="#2a2a2a" stroke="#2a2a2a" stroke-width="0.08" textLength="32.70" lengthAdjust="spacingAndGlyphs" transform="rotate(-90 193.00 486.00)">Control</text>
<line x1="203.90" y1="478.00" x2="203.90" y2="481.20" stroke="#8c8c8c" stroke-width="0.8"/>
<text x="206.60" y="486.00" font-size="9.39" text-anchor="end" fill="#2a2a2a" stroke="#2a2a2a" stroke-width="0.08" textLength="38.60" lengthAdjust="spacingAndGlyphs" transform="rotate(-90 206.60 486.00)">Dox (d 7)</text>
<line x1="217.20" y1="478.00" x2="217.20" y2="481.20" stroke="#8c8c8c" stroke-width="0.8"/>
<text x="219.90" y="486.00" font-size="9.49" text-anchor="end" fill="#2a2a2a" stroke="#2a2a2a" stroke-width="0.08" textLength="53.80" lengthAdjust="spacingAndGlyphs" transform="rotate(-90 219.90 486.00)">Dox (d 7) wo</text>
<line x1="229.90" y1="478.00" x2="229.90" y2="481.20" stroke="#8c8c8c" stroke-width="0.8"/>
<text x="232.60" y="486.00" font-size="9.02" text-anchor="end" fill="#2a2a2a" stroke="#2a2a2a" stroke-width="0.08" textLength="42.10" lengthAdjust="spacingAndGlyphs" transform="rotate(-90 232.60 486.00)">Dox (d 21)</text>
<line x1="243.50" y1="478.00" x2="243.50" y2="481.20" stroke="#8c8c8c" stroke-width="0.8"/>
<text x="246.20" y="486.00" font-size="9.27" text-anchor="end" fill="#2a2a2a" stroke="#2a2a2a" stroke-width="0.08" textLength="57.70" lengthAdjust="spacingAndGlyphs" transform="rotate(-90 246.20 486.00)">Dox (d 21) wo</text>
<circle cx="188.50" cy="469.80" r="4.85" fill="#1e6b34"/>
<line x1="202.10" y1="398.30" x2="202.10" y2="411.50" stroke="#1e6b34" stroke-width="1.6"/>
<circle cx="202.10" cy="405.10" r="4.85" fill="#1e6b34"/>
<circle cx="214.90" cy="463.90" r="4.85" fill="#1e6b34"/>
<line x1="228.10" y1="373.20" x2="228.10" y2="387.30" stroke="#1e6b34" stroke-width="1.6"/>
<circle cx="228.10" cy="380.10" r="4.85" fill="#1e6b34"/>
<circle cx="241.70" cy="464.40" r="4.85" fill="#1e6b34"/>
<circle cx="192.40" cy="461.90" r="4.85" fill="#c2c2c2"/>
<circle cx="205.70" cy="388.50" r="4.85" fill="#c2c2c2"/>
<circle cx="218.70" cy="449.40" r="4.85" fill="#c2c2c2"/>
<circle cx="232.00" cy="381.40" r="4.85" fill="#c2c2c2"/>
<circle cx="245.30" cy="451.10" r="4.85" fill="#c2c2c2"/>
<text x="154.60" y="423.00" font-size="10.08" text-anchor="middle" fill="#1f1f1f" stroke="#1f1f1f" stroke-width="0.08" textLength="83.50" lengthAdjust="spacingAndGlyphs" transform="rotate(-90 154.60 423.00)">Normalized counts</text>
<circle cx="258.80" cy="412.00" r="4.40" fill="#1e6b34"/>
<text x="267.70" y="414.90" font-size="8.11" fill="#2a2a2a" stroke="#2a2a2a" stroke-width="0.08" textLength="38.30" lengthAdjust="spacingAndGlyphs">Reversible</text>
<circle cx="258.80" cy="426.40" r="4.40" fill="#b3b3b3"/>
<text x="267.70" y="429.30" font-size="8.53" fill="#2a2a2a" stroke="#2a2a2a" stroke-width="0.08" textLength="42.20" lengthAdjust="spacingAndGlyphs">Irreversible</text>
<text x="455.90" y="347.20" font-size="9.55" text-anchor="middle" fill="#1f1f1f" stroke="#1f1f1f" stroke-width="0.08" textLength="47.80" lengthAdjust="spacingAndGlyphs">H3K27me3</text>
<text x="601.00" y="347.20" font-size="9.12" text-anchor="middle" fill="#1f1f1f" stroke="#1f1f1f" stroke-width="0.08" textLength="50.00" lengthAdjust="spacingAndGlyphs">H2AK119Ub</text>
<rect x="385.50" y="350.80" width="140.80" height="11.50" fill="#efefef" stroke="#5a5a5a" stroke-width="0.8"/>
<text x="455.90" y="359.40" font-size="9.58" text-anchor="middle" fill="#1f1f1f" stroke="#1f1f1f" stroke-width="0.08" textLength="39.40" lengthAdjust="spacingAndGlyphs">Dox (7 d)</text>
<path d="M391.8,391.9L391.8,380.2L392.6,382.0L393.4,382.0L394.2,381.4L395.0,382.6L395.8,382.7L396.6,382.5L397.4,383.2L398.3,384.3L399.1,385.0L399.9,385.0L400.7,384.1L401.5,383.3L402.3,383.6L403.1,383.3L403.9,381.6L404.7,381.0L405.5,379.8L406.3,380.8L407.1,379.7L407.9,380.2L408.7,379.2L409.5,377.3L410.3,376.7L411.2,378.6L412.0,377.6L412.8,376.4L413.6,377.2L414.4,376.8L415.2,376.4L416.0,376.4L416.8,376.0L417.6,375.6L418.4,376.2L419.2,375.2L420.0,375.1L420.8,376.5L421.6,375.3L422.4,375.6L423.2,376.6L424.1,376.0L424.9,375.8L425.7,376.9L426.5,376.6L427.3,377.9L428.1,378.6L428.9,376.9L429.7,377.5L430.5,378.1L431.3,377.1L432.1,376.7L432.9,376.9L433.7,376.0L434.5,375.9L435.3,376.3L436.1,375.7L437.0,376.2L437.8,376.2L438.6,375.9L439.4,377.3L440.2,377.9L441.0,376.6L441.8,376.4L442.6,376.9L443.4,377.1L444.2,377.6L445.0,377.6L445.8,376.7L446.6,377.0L447.4,376.9L448.2,376.2L449.0,376.2L449.9,376.2L450.7,377.1L451.5,376.3L452.3,376.7L453.1,376.2L453.9,377.3L454.7,377.9L455.5,377.0L456.3,377.7L457.1,377.2L457.9,377.1L458.7,377.0L459.5,376.3L460.3,376.1L461.1,377.3L461.9,377.2L462.8,375.1L463.6,376.0L464.4,375.2L465.2,375.7L466.0,376.6L466.8,375.9L467.6,376.6L468.4,376.1L469.2,376.9L470.0,376.5L470.8,376.3L471.6,375.7L472.4,376.4L473.2,377.0L474.0,376.9L474.8,376.4L475.7,375.4L476.5,376.3L477.3,376.4L478.1,375.8L478.9,376.8L479.7,376.7L480.5,377.2L481.3,378.1L482.1,377.6L482.9,377.3L483.7,377.3L484.5,377.9L485.3,377.6L486.1,377.0L486.9,377.2L487.7,377.9L488.6,378.3L489.4,377.4L490.2,376.2L491.0,375.7L491.8,374.9L492.6,375.1L493.4,374.6L494.2,375.4L495.0,375.9L495.8,376.2L496.6,376.5L497.4,376.1L498.2,375.9L499.0,376.6L499.8,376.2L500.6,376.1L501.5,376.0L502.3,377.3L503.1,376.7L503.9,375.7L504.7,377.0L505.5,377.5L506.3,376.4L507.1,377.5L507.9,376.7L508.7,377.8L509.5,378.5L510.3,378.8L511.1,377.0L511.9,376.3L512.7,376.9L513.5,377.9L514.4,378.2L515.2,378.4L516.0,378.8L516.8,377.1L517.6,378.0L518.4,376.9L519.2,378.5L520.0,376.9L520.0,391.9Z" fill="#d0d0d0"/>
<path d="M391.8,391.9L391.8,383.6L392.6,384.2L393.4,385.6L394.2,385.1L395.0,386.0L395.8,385.1L396.6,385.3L397.4,385.7L398.3,385.9L399.1,386.9L399.9,387.1L400.7,387.3L401.5,386.9L402.3,386.5L403.1,385.6L403.9,384.9L404.7,385.4L405.5,384.9L406.3,383.4L407.1,383.8L407.9,382.1L408.7,381.3L409.5,382.9L410.3,382.3L411.2,382.2L412.0,382.7L412.8,381.6L413.6,382.1L414.4,380.9L415.2,381.6L416.0,381.8L416.8,379.8L417.6,378.5L418.4,378.8L419.2,378.4L420.0,377.5L420.8,378.0L421.6,378.8L422.4,379.3L423.2,377.9L424.1,378.6L424.9,379.7L425.7,379.3L426.5,380.2L427.3,381.0L428.1,379.6L428.9,379.4L429.7,379.3L430.5,378.7L431.3,379.0L432.1,378.9L432.9,380.9L433.7,380.3L434.5,380.2L435.3,379.9L436.1,378.9L437.0,378.0L437.8,377.7L438.6,378.1L439.4,376.8L440.2,380.2L441.0,379.0L441.8,380.1L442.6,378.3L443.4,379.4L444.2,379.2L445.0,380.0L445.8,379.5L446.6,379.5L447.4,380.1L448.2,379.2L449.0,380.2L449.9,380.3L450.7,381.0L451.5,379.1L452.3,379.6L453.1,380.2L453.9,379.5L454.7,381.4L455.5,381.5L456.3,382.8L457.1,381.6L457.9,382.6L458.7,382.2L459.5,380.9L460.3,380.8L461.1,380.5L461.9,380.1L462.8,380.7L463.6,380.9L464.4,380.7L465.2,380.0L466.0,380.2L466.8,379.8L467.6,381.3L468.4,381.2L469.2,380.2L470.0,379.9L470.8,379.2L471.6,378.7L472.4,379.1L473.2,380.2L474.0,379.8L474.8,379.0L475.7,380.7L476.5,381.1L477.3,380.7L478.1,380.3L478.9,380.5L479.7,380.1L480.5,378.5L481.3,378.9L482.1,379.7L482.9,380.3L483.7,379.7L484.5,380.1L485.3,379.0L486.1,380.8L486.9,381.2L487.7,380.3L488.6,378.8L489.4,379.9L490.2,379.3L491.0,380.0L491.8,379.8L492.6,380.0L493.4,379.1L494.2,379.5L495.0,379.5L495.8,379.1L496.6,379.8L497.4,380.7L498.2,381.2L499.0,381.0L499.8,379.8L500.6,379.3L501.5,379.1L502.3,378.9L503.1,378.9L503.9,379.2L504.7,379.9L505.5,377.4L506.3,378.1L507.1,380.0L507.9,380.9L508.7,380.3L509.5,381.6L510.3,380.8L511.1,380.6L511.9,380.6L512.7,381.9L513.5,382.5L514.4,382.3L515.2,382.1L516.0,381.2L516.8,381.5L517.6,381.2L518.4,381.9L519.2,381.9L520.0,380.6L520.0,391.9Z" fill="#3eb753" fill-opacity="0.43"/>
<line x1="402.40" y1="363.60" x2="402.40" y2="393.90" stroke="#222" stroke-width="0.8"/>
<rect x="385.50" y="363.60" width="140.80" height="30.30" fill="none" stroke="#555" stroke-width="0.8"/>
<line x1="381.90" y1="391.90" x2="385.50" y2="391.90" stroke="#8c8c8c" stroke-width="0.8"/>
<text x="378.20" y="394.80" font-size="8.4" text-anchor="end" fill="#2a2a2a" stroke="#2a2a2a" stroke-width="0.08">0</text>
<line x1="381.90" y1="384.10" x2="385.50" y2="384.10" stroke="#8c8c8c" stroke-width="0.8"/>
<text x="378.20" y="387.00" font-size="8.4" text-anchor="end" fill="#2a2a2a" stroke="#2a2a2a" stroke-width="0.08">1</text>
<line x1="381.90" y1="376.30" x2="385.50" y2="376.30" stroke="#8c8c8c" stroke-width="0.8"/>
<text x="378.20" y="379.20" font-size="8.4" text-anchor="end" fill="#2a2a2a" stroke="#2a2a2a" stroke-width="0.08">2</text>
<line x1="381.90" y1="368.50" x2="385.50" y2="368.50" stroke="#8c8c8c" stroke-width="0.8"/>
<text x="378.20" y="371.40" font-size="8.4" text-anchor="end" fill="#2a2a2a" stroke="#2a2a2a" stroke-width="0.08">3</text>
<rect x="385.50" y="398.80" width="140.80" height="11.50" fill="#efefef" stroke="#5a5a5a" stroke-width="0.8"/>
<text x="455.90" y="407.40" font-size="9.65" text-anchor="middle" fill="#1f1f1f" stroke="#1f1f1f" stroke-width="0.08" textLength="54.70" lengthAdjust="spacingAndGlyphs">Dox (7 d) wo</text>
<path d="M391.8,439.9L391.8,433.5L392.6,434.3L393.4,434.6L394.2,434.8L395.0,434.5L395.8,434.3L396.6,434.6L397.4,434.7L398.3,435.6L399.1,434.6L399.9,434.8L400.7,434.4L401.5,434.2L402.3,434.3L403.1,433.7L403.9,434.6L404.7,433.3L405.5,433.3L406.3,433.7L407.1,433.7L407.9,433.7L408.7,432.6L409.5,432.2L410.3,432.6L411.2,431.6L412.0,431.9L412.8,432.1L413.6,432.7L414.4,431.8L415.2,431.5L416.0,432.0L416.8,431.7L417.6,431.3L418.4,431.6L419.2,432.7L420.0,431.9L420.8,432.5L421.6,432.4L422.4,431.8L423.2,432.5L424.1,432.4L424.9,432.4L425.7,432.5L426.5,432.4L427.3,432.0L428.1,432.5L428.9,433.6L429.7,433.8L430.5,433.6L431.3,433.3L432.1,432.8L432.9,433.0L433.7,432.7L434.5,432.5L435.3,433.2L436.1,432.6L437.0,432.8L437.8,432.7L438.6,433.2L439.4,432.6L440.2,432.4L441.0,432.6L441.8,432.7L442.6,432.5L443.4,432.4L444.2,432.5L445.0,433.5L445.8,433.3L446.6,432.7L447.4,432.7L448.2,431.9L449.0,432.3L449.9,432.3L450.7,432.4L451.5,432.7L452.3,431.9L453.1,432.7L453.9,433.1L454.7,433.1L455.5,433.6L456.3,433.9L457.1,433.4L457.9,433.8L458.7,432.7L459.5,433.2L460.3,432.4L461.1,433.3L461.9,433.2L462.8,433.8L463.6,434.1L464.4,433.3L465.2,433.6L466.0,433.7L466.8,432.9L467.6,432.7L468.4,433.5L469.2,433.2L470.0,433.7L470.8,433.1L471.6,433.1L472.4,432.7L473.2,433.0L474.0,432.4L474.8,433.6L475.7,433.4L476.5,433.8L477.3,434.2L478.1,433.7L478.9,434.2L479.7,433.8L480.5,432.7L481.3,432.6L482.1,432.8L482.9,433.3L483.7,434.0L484.5,434.5L485.3,434.0L486.1,433.6L486.9,433.9L487.7,434.2L488.6,433.8L489.4,433.9L490.2,433.5L491.0,433.4L491.8,434.1L492.6,433.7L493.4,434.8L494.2,434.6L495.0,434.5L495.8,433.8L496.6,433.3L497.4,433.8L498.2,434.8L499.0,434.4L499.8,434.3L500.6,434.1L501.5,435.0L502.3,434.2L503.1,434.6L503.9,434.4L504.7,433.7L505.5,433.3L506.3,433.4L507.1,433.7L507.9,434.1L508.7,435.1L509.5,434.2L510.3,434.6L511.1,434.2L511.9,433.7L512.7,434.1L513.5,434.4L514.4,433.9L515.2,433.9L516.0,434.0L516.8,433.6L517.6,433.3L518.4,433.4L519.2,433.9L520.0,433.5L520.0,439.9Z" fill="#d0d0d0"/>
<path d="M391.8,439.9L391.8,438.5L392.6,438.5L393.4,438.8L394.2,438.3L395.0,439.1L395.8,438.4L396.6,438.8L397.4,437.7L398.3,438.1L399.1,438.0L399.9,438.9L400.7,438.0L401.5,438.4L402.3,438.3L403.1,438.0L403.9,437.4L404.7,437.5L405.5,437.1L406.3,437.3L407.1,437.1L407.9,437.2L408.7,437.0L409.5,437.7L410.3,437.4L411.2,437.6L412.0,438.5L412.8,437.8L413.6,437.6L414.4,437.6L415.2,436.8L416.0,436.9L416.8,436.9L417.6,436.3L418.4,436.2L419.2,436.1L420.0,435.8L420.8,436.7L421.6,435.6L422.4,435.9L423.2,436.8L424.1,435.5L424.9,436.0L425.7,436.0L426.5,436.5L427.3,436.2L428.1,436.5L428.9,436.6L429.7,436.5L430.5,436.7L431.3,436.1L432.1,435.7L432.9,436.5L433.7,436.8L434.5,437.3L435.3,437.7L436.1,437.5L437.0,437.7L437.8,437.2L438.6,437.3L439.4,437.3L440.2,437.0L441.0,437.6L441.8,436.9L442.6,437.1L443.4,437.6L444.2,438.1L445.0,438.0L445.8,438.3L446.6,438.9L447.4,438.3L448.2,437.8L449.0,437.6L449.9,437.2L450.7,437.7L451.5,437.2L452.3,437.2L453.1,438.7L453.9,438.5L454.7,438.7L455.5,438.8L456.3,439.0L457.1,439.1L457.9,437.9L458.7,437.8L459.5,436.9L460.3,436.6L461.1,437.2L461.9,436.9L462.8,436.3L463.6,436.9L464.4,437.7L465.2,437.8L466.0,438.3L466.8,438.0L467.6,438.5L468.4,438.9L469.2,438.2L470.0,438.1L470.8,439.1L471.6,439.3L472.4,439.2L473.2,439.3L474.0,438.8L474.8,437.8L475.7,438.6L476.5,438.2L477.3,437.3L478.1,438.4L478.9,438.1L479.7,438.4L480.5,438.7L481.3,438.5L482.1,438.1L482.9,438.5L483.7,438.6L484.5,438.7L485.3,437.7L486.1,438.0L486.9,437.8L487.7,438.4L488.6,438.6L489.4,438.3L490.2,438.3L491.0,438.8L491.8,438.2L492.6,437.7L493.4,437.3L494.2,438.4L495.0,437.8L495.8,437.5L496.6,437.8L497.4,437.5L498.2,436.9L499.0,436.7L499.8,437.3L500.6,437.4L501.5,436.9L502.3,437.4L503.1,436.7L503.9,437.8L504.7,438.1L505.5,437.7L506.3,437.9L507.1,438.1L507.9,437.9L508.7,438.8L509.5,438.3L510.3,438.5L511.1,438.7L511.9,438.1L512.7,438.8L513.5,439.7L514.4,439.5L515.2,439.4L516.0,438.1L516.8,439.0L517.6,439.2L518.4,438.4L519.2,438.3L520.0,438.6L520.0,439.9Z" fill="#3eb753" fill-opacity="0.43"/>
<line x1="402.40" y1="411.60" x2="402.40" y2="441.90" stroke="#222" stroke-width="0.8"/>
<rect x="385.50" y="411.60" width="140.80" height="30.30" fill="none" stroke="#555" stroke-width="0.8"/>
<line x1="381.90" y1="439.90" x2="385.50" y2="439.90" stroke="#8c8c8c" stroke-width="0.8"/>
<text x="378.20" y="442.80" font-size="8.4" text-anchor="end" fill="#2a2a2a" stroke="#2a2a2a" stroke-width="0.08">0</text>
<line x1="381.90" y1="432.10" x2="385.50" y2="432.10" stroke="#8c8c8c" stroke-width="0.8"/>
<text x="378.20" y="435.00" font-size="8.4" text-anchor="end" fill="#2a2a2a" stroke="#2a2a2a" stroke-width="0.08">1</text>
<line x1="381.90" y1="424.30" x2="385.50" y2="424.30" stroke="#8c8c8c" stroke-width="0.8"/>
<text x="378.20" y="427.20" font-size="8.4" text-anchor="end" fill="#2a2a2a" stroke="#2a2a2a" stroke-width="0.08">2</text>
<line x1="381.90" y1="416.50" x2="385.50" y2="416.50" stroke="#8c8c8c" stroke-width="0.8"/>
<text x="378.20" y="419.40" font-size="8.4" text-anchor="end" fill="#2a2a2a" stroke="#2a2a2a" stroke-width="0.08">3</text>
<rect x="385.50" y="446.80" width="140.80" height="11.50" fill="#efefef" stroke="#5a5a5a" stroke-width="0.8"/>
<text x="455.90" y="455.40" font-size="9.25" text-anchor="middle" fill="#1f1f1f" stroke="#1f1f1f" stroke-width="0.08" textLength="43.20" lengthAdjust="spacingAndGlyphs">Dox (21 d)</text>
<path d="M391.8,487.9L391.8,473.8L392.6,474.2L393.4,474.2L394.2,473.9L395.0,475.5L395.8,474.8L396.6,475.6L397.4,476.9L398.3,476.3L399.1,476.2L399.9,476.0L400.7,474.7L401.5,476.1L402.3,475.5L403.1,475.3L403.9,475.9L404.7,474.8L405.5,473.9L406.3,473.4L407.1,474.8L407.9,473.4L408.7,471.3L409.5,470.5L410.3,471.0L411.2,471.4L412.0,472.0L412.8,470.9L413.6,470.5L414.4,470.5L415.2,469.7L416.0,470.7L416.8,470.9L417.6,471.2L418.4,469.4L419.2,470.0L420.0,469.5L420.8,470.0L421.6,469.3L422.4,468.5L423.2,467.4L424.1,468.9L424.9,469.1L425.7,468.1L426.5,468.0L427.3,469.5L428.1,468.9L428.9,469.4L429.7,468.3L430.5,467.8L431.3,467.7L432.1,467.8L432.9,469.3L433.7,468.9L434.5,468.6L435.3,468.1L436.1,468.7L437.0,467.4L437.8,467.9L438.6,466.9L439.4,468.2L440.2,468.1L441.0,467.7L441.8,467.3L442.6,467.5L443.4,467.6L444.2,467.3L445.0,467.8L445.8,468.2L446.6,468.2L447.4,466.4L448.2,466.8L449.0,467.8L449.9,468.2L450.7,467.7L451.5,467.6L452.3,469.2L453.1,467.9L453.9,467.2L454.7,467.6L455.5,468.3L456.3,467.5L457.1,468.0L457.9,466.9L458.7,468.7L459.5,468.3L460.3,468.8L461.1,468.5L461.9,467.4L462.8,466.3L463.6,467.7L464.4,467.5L465.2,469.3L466.0,469.2L466.8,469.2L467.6,468.9L468.4,470.0L469.2,469.5L470.0,470.1L470.8,468.9L471.6,470.3L472.4,470.5L473.2,470.2L474.0,468.3L474.8,468.2L475.7,469.4L476.5,469.5L477.3,469.8L478.1,470.3L478.9,469.4L479.7,471.1L480.5,470.4L481.3,470.9L482.1,470.8L482.9,470.8L483.7,469.5L484.5,470.1L485.3,470.4L486.1,469.8L486.9,469.9L487.7,470.2L488.6,470.9L489.4,470.4L490.2,470.2L491.0,469.3L491.8,469.2L492.6,471.0L493.4,470.0L494.2,470.8L495.0,471.0L495.8,469.3L496.6,469.2L497.4,468.8L498.2,469.2L499.0,468.4L499.8,469.8L500.6,470.0L501.5,469.7L502.3,469.3L503.1,470.5L503.9,470.3L504.7,469.1L505.5,470.0L506.3,470.1L507.1,469.4L507.9,470.2L508.7,472.1L509.5,471.3L510.3,471.7L511.1,470.8L511.9,470.5L512.7,471.2L513.5,470.8L514.4,471.1L515.2,471.2L516.0,471.3L516.8,470.6L517.6,470.9L518.4,470.3L519.2,471.0L520.0,470.8L520.0,487.9Z" fill="#d0d0d0"/>
<path d="M391.8,487.9L391.8,473.5L392.6,473.5L393.4,474.9L394.2,474.6L395.0,474.4L395.8,475.3L396.6,475.7L397.4,475.7L398.3,476.0L399.1,477.0L399.9,476.8L400.7,477.6L401.5,476.0L402.3,477.0L403.1,476.8L403.9,474.8L404.7,476.1L405.5,475.0L406.3,474.4L407.1,473.3L407.9,473.7L408.7,473.4L409.5,473.3L410.3,471.4L411.2,470.4L412.0,471.0L412.8,472.0L413.6,472.1L414.4,471.3L415.2,471.1L416.0,470.2L416.8,470.4L417.6,470.9L418.4,470.6L419.2,470.7L420.0,470.3L420.8,469.2L421.6,469.7L422.4,468.6L423.2,468.1L424.1,468.6L424.9,468.1L425.7,470.4L426.5,470.3L427.3,469.5L428.1,468.4L428.9,468.0L429.7,469.7L430.5,469.9L431.3,469.8L432.1,469.5L432.9,468.9L433.7,467.8L434.5,467.6L435.3,467.4L436.1,467.8L437.0,467.9L437.8,468.2L438.6,468.5L439.4,469.4L440.2,468.8L441.0,468.6L441.8,469.4L442.6,469.2L443.4,468.6L444.2,468.1L445.0,467.6L445.8,469.2L446.6,467.9L447.4,469.2L448.2,468.9L449.0,468.1L449.9,468.3L450.7,469.2L451.5,468.1L452.3,469.6L453.1,470.2L453.9,469.6L454.7,471.3L455.5,470.0L456.3,470.9L457.1,471.1L457.9,470.5L458.7,470.2L459.5,470.0L460.3,470.6L461.1,470.0L461.9,470.9L462.8,470.2L463.6,470.6L464.4,469.2L465.2,470.4L466.0,469.9L466.8,471.0L467.6,468.9L468.4,469.3L469.2,469.4L470.0,469.5L470.8,470.0L471.6,470.6L472.4,472.0L473.2,471.0L474.0,471.4L474.8,469.9L475.7,469.6L476.5,469.7L477.3,470.3L478.1,470.4L478.9,470.2L479.7,470.2L480.5,470.4L481.3,471.6L482.1,471.9L482.9,472.0L483.7,472.0L484.5,473.4L485.3,472.1L486.1,471.8L486.9,470.4L487.7,470.4L488.6,471.4L489.4,472.4L490.2,471.9L491.0,471.7L491.8,470.9L492.6,471.5L493.4,470.9L494.2,471.6L495.0,470.7L495.8,471.2L496.6,471.4L497.4,471.4L498.2,472.4L499.0,472.3L499.8,472.5L500.6,471.9L501.5,472.9L502.3,470.1L503.1,470.0L503.9,470.3L504.7,471.6L505.5,470.4L506.3,470.8L507.1,470.0L507.9,471.4L508.7,470.1L509.5,470.0L510.3,470.5L511.1,472.1L511.9,471.3L512.7,472.0L513.5,471.7L514.4,472.7L515.2,471.9L516.0,471.5L516.8,471.7L517.6,471.5L518.4,471.7L519.2,472.9L520.0,473.9L520.0,487.9Z" fill="#3eb753" fill-opacity="0.43"/>
<line x1="402.40" y1="459.60" x2="402.40" y2="489.90" stroke="#222" stroke-width="0.8"/>
<rect x="385.50" y="459.60" width="140.80" height="30.30" fill="none" stroke="#555" stroke-width="0.8"/>
<line x1="381.90" y1="487.90" x2="385.50" y2="487.90" stroke="#8c8c8c" stroke-width="0.8"/>
<text x="378.20" y="490.80" font-size="8.4" text-anchor="end" fill="#2a2a2a" stroke="#2a2a2a" stroke-width="0.08">0</text>
<line x1="381.90" y1="480.10" x2="385.50" y2="480.10" stroke="#8c8c8c" stroke-width="0.8"/>
<text x="378.20" y="483.00" font-size="8.4" text-anchor="end" fill="#2a2a2a" stroke="#2a2a2a" stroke-width="0.08">1</text>
<line x1="381.90" y1="472.30" x2="385.50" y2="472.30" stroke="#8c8c8c" stroke-width="0.8"/>
<text x="378.20" y="475.20" font-size="8.4" text-anchor="end" fill="#2a2a2a" stroke="#2a2a2a" stroke-width="0.08">2</text>
<line x1="381.90" y1="464.50" x2="385.50" y2="464.50" stroke="#8c8c8c" stroke-width="0.8"/>
<text x="378.20" y="467.40" font-size="8.4" text-anchor="end" fill="#2a2a2a" stroke="#2a2a2a" stroke-width="0.08">3</text>
<rect x="385.50" y="494.80" width="140.80" height="11.50" fill="#efefef" stroke="#5a5a5a" stroke-width="0.8"/>
<text x="455.90" y="503.40" font-size="9.45" text-anchor="middle" fill="#1f1f1f" stroke="#1f1f1f" stroke-width="0.08" textLength="58.80" lengthAdjust="spacingAndGlyphs">Dox (21 d) wo</text>
<path d="M391.8,535.9L391.8,526.5L392.6,526.1L393.4,525.4L394.2,526.8L395.0,525.8L395.8,525.7L396.6,526.1L397.4,524.5L398.3,525.6L399.1,524.4L399.9,525.4L400.7,524.5L401.5,524.0L402.3,524.9L403.1,523.7L403.9,524.3L404.7,524.3L405.5,522.7L406.3,523.1L407.1,523.2L407.9,523.4L408.7,523.0L409.5,523.1L410.3,522.4L411.2,523.2L412.0,521.6L412.8,522.2L413.6,522.5L414.4,521.6L415.2,523.2L416.0,522.6L416.8,522.7L417.6,521.9L418.4,521.8L419.2,523.2L420.0,522.8L420.8,523.1L421.6,523.6L422.4,522.3L423.2,522.4L424.1,522.8L424.9,523.3L425.7,522.5L426.5,522.8L427.3,523.3L428.1,522.4L428.9,522.2L429.7,522.6L430.5,522.3L431.3,523.3L432.1,522.2L432.9,522.3L433.7,523.5L434.5,523.2L435.3,523.0L436.1,522.5L437.0,521.9L437.8,522.6L438.6,523.1L439.4,522.9L440.2,523.2L441.0,522.7L441.8,522.5L442.6,523.5L443.4,523.3L444.2,523.8L445.0,521.7L445.8,521.4L446.6,522.2L447.4,522.7L448.2,523.7L449.0,523.5L449.9,524.6L450.7,524.4L451.5,523.3L452.3,522.5L453.1,524.0L453.9,523.9L454.7,524.3L455.5,523.0L456.3,522.9L457.1,523.7L457.9,522.9L458.7,523.9L459.5,524.0L460.3,523.2L461.1,523.6L461.9,523.6L462.8,522.0L463.6,522.6L464.4,523.1L465.2,523.9L466.0,524.4L466.8,524.4L467.6,523.5L468.4,523.4L469.2,524.0L470.0,524.2L470.8,523.3L471.6,523.2L472.4,523.1L473.2,524.6L474.0,524.6L474.8,523.6L475.7,523.8L476.5,522.5L477.3,523.4L478.1,524.1L478.9,523.3L479.7,524.0L480.5,523.2L481.3,523.0L482.1,522.8L482.9,522.9L483.7,523.0L484.5,522.8L485.3,523.2L486.1,523.0L486.9,523.6L487.7,523.7L488.6,523.5L489.4,522.1L490.2,521.7L491.0,523.3L491.8,522.5L492.6,522.7L493.4,522.5L494.2,523.3L495.0,522.5L495.8,522.1L496.6,522.6L497.4,523.1L498.2,523.0L499.0,523.4L499.8,522.5L500.6,523.4L501.5,523.3L502.3,523.3L503.1,523.8L503.9,522.9L504.7,523.8L505.5,524.3L506.3,524.0L507.1,524.2L507.9,523.0L508.7,524.0L509.5,523.5L510.3,524.6L511.1,524.4L511.9,524.3L512.7,524.6L513.5,523.6L514.4,524.4L515.2,524.0L516.0,523.8L516.8,522.2L517.6,523.8L518.4,523.4L519.2,523.6L520.0,523.8L520.0,535.9Z" fill="#d0d0d0"/>
<path d="M391.8,535.9L391.8,527.0L392.6,527.0L393.4,526.4L394.2,526.7L395.0,526.6L395.8,527.8L396.6,526.0L397.4,526.4L398.3,527.8L399.1,528.5L399.9,527.8L400.7,527.4L401.5,527.4L402.3,526.3L403.1,527.5L403.9,527.9L404.7,528.5L405.5,527.2L406.3,526.9L407.1,526.1L407.9,526.0L408.7,526.6L409.5,526.9L410.3,527.2L411.2,525.3L412.0,525.7L412.8,526.7L413.6,526.0L414.4,526.6L415.2,526.5L416.0,525.6L416.8,526.2L417.6,525.2L418.4,526.5L419.2,526.5L420.0,526.7L420.8,527.3L421.6,526.3L422.4,524.9L423.2,526.3L424.1,527.0L424.9,526.9L425.7,525.7L426.5,525.6L427.3,527.0L428.1,527.2L428.9,526.7L429.7,527.4L430.5,526.3L431.3,527.1L432.1,526.6L432.9,527.0L433.7,527.7L434.5,526.6L435.3,525.4L436.1,526.5L437.0,526.2L437.8,526.7L438.6,526.5L439.4,526.9L440.2,527.3L441.0,527.0L441.8,526.8L442.6,526.7L443.4,526.3L444.2,526.4L445.0,526.9L445.8,528.1L446.6,528.7L447.4,527.4L448.2,527.8L449.0,528.1L449.9,527.2L450.7,526.6L451.5,527.0L452.3,527.5L453.1,528.4L453.9,528.1L454.7,527.9L455.5,528.0L456.3,527.4L457.1,527.8L457.9,527.1L458.7,528.3L459.5,527.5L460.3,528.1L461.1,528.4L461.9,527.6L462.8,526.3L463.6,528.1L464.4,528.4L465.2,528.4L466.0,528.5L466.8,529.0L467.6,528.0L468.4,528.8L469.2,527.7L470.0,527.5L470.8,527.3L471.6,527.4L472.4,526.6L473.2,526.9L474.0,525.8L474.8,528.0L475.7,528.8L476.5,528.4L477.3,527.7L478.1,529.0L478.9,527.9L479.7,527.4L480.5,528.1L481.3,528.8L482.1,528.8L482.9,529.2L483.7,527.6L484.5,527.5L485.3,528.5L486.1,528.6L486.9,527.9L487.7,527.7L488.6,527.6L489.4,528.4L490.2,527.4L491.0,528.5L491.8,527.6L492.6,528.5L493.4,528.3L494.2,529.5L495.0,529.5L495.8,529.1L496.6,528.5L497.4,528.4L498.2,529.6L499.0,529.4L499.8,529.3L500.6,528.7L501.5,528.6L502.3,528.9L503.1,529.1L503.9,529.0L504.7,529.7L505.5,528.3L506.3,529.6L507.1,529.5L507.9,529.6L508.7,529.4L509.5,529.5L510.3,529.4L511.1,530.0L511.9,529.9L512.7,529.9L513.5,528.5L514.4,528.3L515.2,529.0L516.0,528.3L516.8,528.5L517.6,529.2L518.4,528.8L519.2,529.3L520.0,528.9L520.0,535.9Z" fill="#3eb753" fill-opacity="0.43"/>
<line x1="402.40" y1="507.60" x2="402.40" y2="537.90" stroke="#222" stroke-width="0.8"/>
<rect x="385.50" y="507.60" width="140.80" height="30.30" fill="none" stroke="#555" stroke-width="0.8"/>
<line x1="381.90" y1="535.90" x2="385.50" y2="535.90" stroke="#8c8c8c" stroke-width="0.8"/>
<text x="378.20" y="538.80" font-size="8.4" text-anchor="end" fill="#2a2a2a" stroke="#2a2a2a" stroke-width="0.08">0</text>
<line x1="381.90" y1="528.10" x2="385.50" y2="528.10" stroke="#8c8c8c" stroke-width="0.8"/>
<text x="378.20" y="531.00" font-size="8.4" text-anchor="end" fill="#2a2a2a" stroke="#2a2a2a" stroke-width="0.08">1</text>
<line x1="381.90" y1="520.30" x2="385.50" y2="520.30" stroke="#8c8c8c" stroke-width="0.8"/>
<text x="378.20" y="523.20" font-size="8.4" text-anchor="end" fill="#2a2a2a" stroke="#2a2a2a" stroke-width="0.08">2</text>
<line x1="381.90" y1="512.50" x2="385.50" y2="512.50" stroke="#8c8c8c" stroke-width="0.8"/>
<text x="378.20" y="515.40" font-size="8.4" text-anchor="end" fill="#2a2a2a" stroke="#2a2a2a" stroke-width="0.08">3</text>
<rect x="530.50" y="350.80" width="140.60" height="11.50" fill="#efefef" stroke="#5a5a5a" stroke-width="0.8"/>
<text x="600.80" y="359.40" font-size="9.58" text-anchor="middle" fill="#1f1f1f" stroke="#1f1f1f" stroke-width="0.08" textLength="39.40" lengthAdjust="spacingAndGlyphs">Dox (7 d)</text>
<path d="M536.6,391.9L536.6,389.8L537.4,391.1L538.2,390.6L539.0,389.4L539.8,390.1L540.6,390.0L541.4,389.9L542.2,389.7L543.1,389.4L543.9,388.8L544.7,389.4L545.5,390.1L546.3,388.7L547.1,389.6L547.9,389.3L548.7,388.4L549.5,388.6L550.3,389.5L551.1,388.7L551.9,388.7L552.7,389.1L553.5,388.6L554.3,388.8L555.1,388.5L556.0,388.9L556.8,389.1L557.6,387.5L558.4,387.3L559.2,387.1L560.0,387.3L560.8,387.1L561.6,386.9L562.4,387.1L563.2,387.0L564.0,386.6L564.8,387.2L565.6,387.0L566.4,386.6L567.2,387.2L568.0,387.6L568.9,386.3L569.7,386.4L570.5,386.7L571.3,386.4L572.1,387.2L572.9,387.3L573.7,387.5L574.5,386.2L575.3,386.0L576.1,386.3L576.9,386.2L577.7,386.1L578.5,388.0L579.3,386.7L580.1,386.8L580.9,386.5L581.8,387.1L582.6,386.8L583.4,386.8L584.2,387.2L585.0,386.4L585.8,386.9L586.6,386.6L587.4,386.3L588.2,385.3L589.0,387.1L589.8,385.9L590.6,387.1L591.4,385.5L592.2,385.9L593.0,385.8L593.8,386.5L594.7,385.5L595.5,386.4L596.3,385.8L597.1,386.7L597.9,385.2L598.7,385.7L599.5,384.6L600.3,385.0L601.1,385.5L601.9,385.7L602.7,385.5L603.5,385.2L604.3,385.2L605.1,385.7L605.9,385.5L606.7,385.5L607.6,385.5L608.4,387.0L609.2,386.7L610.0,386.2L610.8,386.2L611.6,385.6L612.4,385.4L613.2,385.9L614.0,386.1L614.8,386.1L615.6,386.8L616.4,386.4L617.2,386.6L618.0,385.4L618.8,385.7L619.6,385.9L620.5,386.2L621.3,386.1L622.1,385.9L622.9,386.1L623.7,386.0L624.5,386.2L625.3,386.0L626.1,386.4L626.9,387.0L627.7,386.2L628.5,387.2L629.3,386.8L630.1,386.7L630.9,386.8L631.7,386.1L632.5,385.5L633.4,386.0L634.2,386.4L635.0,385.9L635.8,385.4L636.6,386.8L637.4,385.6L638.2,385.2L639.0,386.1L639.8,385.8L640.6,386.7L641.4,385.6L642.2,386.0L643.0,385.6L643.8,386.1L644.6,386.1L645.4,385.5L646.3,386.8L647.1,386.6L647.9,386.9L648.7,386.1L649.5,386.3L650.3,385.6L651.1,386.8L651.9,386.0L652.7,385.7L653.5,385.7L654.3,385.9L655.1,385.7L655.9,386.2L656.7,386.6L657.5,386.7L658.3,387.1L659.2,387.2L660.0,387.0L660.8,387.1L661.6,387.2L662.4,387.3L663.2,387.7L664.0,386.6L664.8,386.3L664.8,391.9Z" fill="#d0d0d0"/>
<path d="M536.6,391.9L536.6,388.4L537.4,388.3L538.2,389.7L539.0,389.1L539.8,389.3L540.6,389.1L541.4,389.0L542.2,388.2L543.1,388.5L543.9,389.2L544.7,388.4L545.5,388.4L546.3,389.4L547.1,389.2L547.9,389.4L548.7,389.7L549.5,388.9L550.3,388.7L551.1,388.5L551.9,388.1L552.7,388.8L553.5,388.1L554.3,387.9L555.1,387.6L556.0,387.0L556.8,386.6L557.6,386.7L558.4,386.3L559.2,386.5L560.0,385.0L560.8,384.5L561.6,385.6L562.4,385.1L563.2,385.6L564.0,385.7L564.8,386.1L565.6,386.4L566.4,387.6L567.2,386.3L568.0,385.9L568.9,385.9L569.7,385.1L570.5,385.9L571.3,385.4L572.1,386.0L572.9,386.6L573.7,385.3L574.5,385.1L575.3,385.0L576.1,385.1L576.9,385.4L577.7,385.0L578.5,385.2L579.3,384.9L580.1,385.4L580.9,386.0L581.8,385.5L582.6,384.7L583.4,385.1L584.2,384.5L585.0,384.2L585.8,384.5L586.6,385.4L587.4,385.7L588.2,384.5L589.0,384.8L589.8,385.5L590.6,385.5L591.4,386.2L592.2,385.6L593.0,385.5L593.8,386.1L594.7,386.2L595.5,386.9L596.3,386.0L597.1,386.5L597.9,385.3L598.7,385.1L599.5,386.1L600.3,384.8L601.1,385.4L601.9,385.3L602.7,384.4L603.5,384.7L604.3,384.6L605.1,384.7L605.9,384.1L606.7,385.6L607.6,385.3L608.4,385.3L609.2,384.2L610.0,385.1L610.8,384.5L611.6,384.7L612.4,385.1L613.2,384.1L614.0,384.3L614.8,384.1L615.6,384.1L616.4,385.2L617.2,385.8L618.0,385.5L618.8,385.2L619.6,385.3L620.5,385.6L621.3,385.1L622.1,385.7L622.9,384.9L623.7,385.4L624.5,385.3L625.3,383.9L626.1,385.6L626.9,384.9L627.7,385.8L628.5,385.2L629.3,385.6L630.1,385.2L630.9,385.4L631.7,385.6L632.5,385.1L633.4,385.8L634.2,385.4L635.0,385.8L635.8,384.4L636.6,385.1L637.4,385.2L638.2,386.0L639.0,385.4L639.8,385.1L640.6,385.8L641.4,387.1L642.2,385.7L643.0,385.8L643.8,386.2L644.6,384.3L645.4,385.2L646.3,384.8L647.1,385.6L647.9,386.5L648.7,386.2L649.5,387.3L650.3,386.7L651.1,385.3L651.9,385.4L652.7,386.8L653.5,385.5L654.3,385.8L655.1,384.1L655.9,384.9L656.7,385.1L657.5,385.0L658.3,385.6L659.2,385.0L660.0,386.5L660.8,385.8L661.6,386.5L662.4,386.5L663.2,386.1L664.0,386.0L664.8,386.4L664.8,391.9Z" fill="#3eb753" fill-opacity="0.43"/>
<line x1="547.20" y1="363.60" x2="547.20" y2="393.90" stroke="#222" stroke-width="0.8"/>
<rect x="530.50" y="363.60" width="140.60" height="30.30" fill="none" stroke="#555" stroke-width="0.8"/>
<rect x="530.50" y="398.80" width="140.60" height="11.50" fill="#efefef" stroke="#5a5a5a" stroke-width="0.8"/>
<text x="600.80" y="407.40" font-size="9.65" text-anchor="middle" fill="#1f1f1f" stroke="#1f1f1f" stroke-width="0.08" textLength="54.70" lengthAdjust="spacingAndGlyphs">Dox (7 d) wo</text>
<path d="M536.6,439.9L536.6,439.1L537.4,439.1L538.2,439.0L539.0,438.6L539.8,439.0L540.6,439.3L541.4,439.6L542.2,439.5L543.1,439.6L543.9,439.4L544.7,439.3L545.5,439.6L546.3,439.6L547.1,439.6L547.9,439.5L548.7,439.0L549.5,439.1L550.3,439.6L551.1,439.0L551.9,438.9L552.7,438.8L553.5,439.5L554.3,439.2L555.1,439.5L556.0,439.0L556.8,438.7L557.6,438.7L558.4,438.1L559.2,438.3L560.0,438.1L560.8,438.3L561.6,438.8L562.4,438.7L563.2,439.1L564.0,439.4L564.8,439.0L565.6,439.3L566.4,439.0L567.2,438.8L568.0,439.2L568.9,439.3L569.7,439.2L570.5,439.3L571.3,438.8L572.1,438.9L572.9,438.6L573.7,439.3L574.5,439.4L575.3,439.2L576.1,438.6L576.9,438.8L577.7,438.6L578.5,438.6L579.3,438.8L580.1,438.9L580.9,439.1L581.8,439.5L582.6,439.1L583.4,439.5L584.2,439.3L585.0,439.1L585.8,438.8L586.6,438.8L587.4,439.2L588.2,438.7L589.0,438.7L589.8,439.3L590.6,439.4L591.4,439.4L592.2,439.3L593.0,437.9L593.8,438.7L594.7,438.8L595.5,439.0L596.3,439.6L597.1,439.3L597.9,439.3L598.7,439.1L599.5,439.0L600.3,438.9L601.1,438.9L601.9,438.7L602.7,438.7L603.5,439.6L604.3,439.5L605.1,439.5L605.9,439.0L606.7,438.4L607.6,439.3L608.4,438.3L609.2,438.8L610.0,438.7L610.8,438.8L611.6,439.2L612.4,438.5L613.2,438.9L614.0,439.1L614.8,439.2L615.6,438.8L616.4,439.1L617.2,438.8L618.0,439.4L618.8,439.3L619.6,438.8L620.5,438.9L621.3,439.1L622.1,439.6L622.9,439.4L623.7,438.7L624.5,439.2L625.3,439.4L626.1,439.6L626.9,439.4L627.7,438.7L628.5,439.1L629.3,439.0L630.1,439.1L630.9,438.8L631.7,439.0L632.5,439.1L633.4,439.5L634.2,439.6L635.0,439.6L635.8,439.2L636.6,439.5L637.4,439.6L638.2,439.6L639.0,439.6L639.8,439.6L640.6,439.6L641.4,439.6L642.2,439.6L643.0,439.6L643.8,439.2L644.6,439.6L645.4,439.0L646.3,439.2L647.1,439.6L647.9,439.6L648.7,439.1L649.5,439.0L650.3,439.5L651.1,439.5L651.9,439.3L652.7,439.1L653.5,439.1L654.3,439.1L655.1,439.2L655.9,438.7L656.7,439.1L657.5,438.9L658.3,439.2L659.2,438.4L660.0,439.1L660.8,439.1L661.6,438.3L662.4,438.6L663.2,438.9L664.0,438.8L664.8,438.5L664.8,439.9Z" fill="#d0d0d0"/>
<path d="M536.6,439.9L536.6,439.3L537.4,438.6L538.2,438.5L539.0,438.2L539.8,438.3L540.6,439.0L541.4,438.8L542.2,439.5L543.1,438.9L543.9,438.5L544.7,438.5L545.5,438.5L546.3,438.9L547.1,438.6L547.9,439.3L548.7,438.7L549.5,438.2L550.3,438.7L551.1,438.5L551.9,438.3L552.7,438.7L553.5,438.8L554.3,438.0L555.1,438.9L556.0,439.1L556.8,438.3L557.6,438.3L558.4,438.5L559.2,438.7L560.0,438.3L560.8,438.3L561.6,438.1L562.4,438.7L563.2,438.7L564.0,438.7L564.8,438.3L565.6,438.6L566.4,438.1L567.2,438.8L568.0,438.7L568.9,438.6L569.7,438.6L570.5,438.0L571.3,438.0L572.1,437.7L572.9,438.4L573.7,438.9L574.5,438.4L575.3,438.3L576.1,438.5L576.9,438.6L577.7,438.5L578.5,438.8L579.3,438.6L580.1,438.7L580.9,438.7L581.8,439.2L582.6,439.3L583.4,439.0L584.2,438.7L585.0,439.1L585.8,438.4L586.6,438.1L587.4,438.2L588.2,438.6L589.0,438.4L589.8,439.1L590.6,438.5L591.4,438.8L592.2,438.5L593.0,438.7L593.8,438.8L594.7,439.2L595.5,439.2L596.3,438.3L597.1,438.8L597.9,438.9L598.7,438.4L599.5,438.1L600.3,439.0L601.1,438.4L601.9,438.7L602.7,438.9L603.5,438.7L604.3,438.7L605.1,439.4L605.9,439.0L606.7,439.4L607.6,438.8L608.4,438.3L609.2,438.4L610.0,438.8L610.8,438.8L611.6,439.2L612.4,438.8L613.2,439.1L614.0,438.8L614.8,438.4L615.6,439.4L616.4,439.5L617.2,438.8L618.0,439.1L618.8,439.0L619.6,439.2L620.5,438.9L621.3,438.4L622.1,438.5L622.9,438.3L623.7,438.3L624.5,438.8L625.3,438.4L626.1,438.3L626.9,438.6L627.7,438.4L628.5,438.9L629.3,438.6L630.1,438.5L630.9,438.2L631.7,438.3L632.5,438.5L633.4,438.5L634.2,438.8L635.0,438.7L635.8,438.9L636.6,438.7L637.4,438.1L638.2,438.4L639.0,438.2L639.8,438.5L640.6,438.5L641.4,438.8L642.2,438.9L643.0,438.8L643.8,438.8L644.6,438.7L645.4,438.7L646.3,439.1L647.1,439.2L647.9,438.6L648.7,439.3L649.5,439.1L650.3,438.3L651.1,438.8L651.9,439.3L652.7,439.1L653.5,438.7L654.3,438.5L655.1,438.6L655.9,438.6L656.7,438.3L657.5,438.7L658.3,438.5L659.2,438.7L660.0,438.5L660.8,439.1L661.6,438.7L662.4,439.0L663.2,438.7L664.0,438.4L664.8,438.9L664.8,439.9Z" fill="#3eb753" fill-opacity="0.43"/>
<line x1="547.20" y1="411.60" x2="547.20" y2="441.90" stroke="#222" stroke-width="0.8"/>
<rect x="530.50" y="411.60" width="140.60" height="30.30" fill="none" stroke="#555" stroke-width="0.8"/>
<rect x="530.50" y="446.80" width="140.60" height="11.50" fill="#efefef" stroke="#5a5a5a" stroke-width="0.8"/>
<text x="600.80" y="455.40" font-size="9.25" text-anchor="middle" fill="#1f1f1f" stroke="#1f1f1f" stroke-width="0.08" textLength="43.20" lengthAdjust="spacingAndGlyphs">Dox (21 d)</text>
<path d="M536.6,487.9L536.6,484.7L537.4,484.7L538.2,484.9L539.0,484.7L539.8,484.7L540.6,483.7L541.4,484.3L542.2,484.7L543.1,484.4L543.9,484.2L544.7,485.9L545.5,484.3L546.3,485.5L547.1,485.2L547.9,484.7L548.7,484.6L549.5,485.0L550.3,484.6L551.1,485.2L551.9,485.5L552.7,485.3L553.5,484.9L554.3,484.6L555.1,485.3L556.0,483.7L556.8,482.6L557.6,481.7L558.4,482.6L559.2,481.8L560.0,482.6L560.8,482.3L561.6,483.1L562.4,482.7L563.2,482.6L564.0,482.6L564.8,482.1L565.6,482.1L566.4,482.6L567.2,482.3L568.0,484.2L568.9,484.7L569.7,484.2L570.5,483.6L571.3,484.4L572.1,483.2L572.9,483.0L573.7,483.1L574.5,483.2L575.3,484.0L576.1,483.1L576.9,482.8L577.7,482.0L578.5,482.4L579.3,483.3L580.1,482.1L580.9,483.8L581.8,482.9L582.6,482.5L583.4,482.8L584.2,482.4L585.0,483.0L585.8,483.4L586.6,482.9L587.4,482.7L588.2,483.7L589.0,483.5L589.8,484.0L590.6,484.0L591.4,483.8L592.2,484.4L593.0,484.2L593.8,483.3L594.7,484.1L595.5,483.8L596.3,483.7L597.1,483.5L597.9,483.3L598.7,483.1L599.5,482.4L600.3,481.8L601.1,482.8L601.9,483.3L602.7,482.8L603.5,482.2L604.3,482.3L605.1,482.4L605.9,482.3L606.7,482.5L607.6,483.3L608.4,482.7L609.2,483.5L610.0,481.9L610.8,482.7L611.6,483.0L612.4,484.7L613.2,483.0L614.0,483.3L614.8,483.9L615.6,483.6L616.4,482.7L617.2,483.5L618.0,483.5L618.8,483.3L619.6,482.2L620.5,483.7L621.3,482.3L622.1,482.7L622.9,482.9L623.7,482.6L624.5,482.5L625.3,482.5L626.1,483.6L626.9,483.9L627.7,483.5L628.5,483.7L629.3,482.3L630.1,482.2L630.9,483.5L631.7,484.1L632.5,484.5L633.4,484.1L634.2,483.7L635.0,482.5L635.8,482.5L636.6,482.9L637.4,483.0L638.2,483.8L639.0,481.8L639.8,482.5L640.6,482.3L641.4,482.3L642.2,481.9L643.0,482.2L643.8,483.0L644.6,481.9L645.4,482.1L646.3,482.1L647.1,483.5L647.9,483.8L648.7,483.2L649.5,483.4L650.3,482.4L651.1,483.0L651.9,483.4L652.7,483.1L653.5,483.3L654.3,482.8L655.1,483.7L655.9,484.1L656.7,483.0L657.5,482.7L658.3,482.4L659.2,482.1L660.0,482.5L660.8,483.1L661.6,482.4L662.4,483.0L663.2,483.9L664.0,483.2L664.8,483.2L664.8,487.9Z" fill="#d0d0d0"/>
<path d="M536.6,487.9L536.6,484.3L537.4,483.1L538.2,484.3L539.0,484.7L539.8,484.1L540.6,485.0L541.4,485.7L542.2,484.2L543.1,485.2L543.9,483.8L544.7,483.7L545.5,483.9L546.3,484.2L547.1,484.1L547.9,483.9L548.7,483.7L549.5,484.8L550.3,484.3L551.1,482.3L551.9,482.2L552.7,482.3L553.5,482.4L554.3,481.5L555.1,482.3L556.0,482.2L556.8,482.4L557.6,481.9L558.4,480.8L559.2,481.2L560.0,481.9L560.8,482.2L561.6,481.5L562.4,482.0L563.2,481.2L564.0,481.2L564.8,480.2L565.6,481.2L566.4,479.3L567.2,480.7L568.0,480.8L568.9,479.3L569.7,480.8L570.5,479.9L571.3,479.3L572.1,480.1L572.9,480.6L573.7,478.9L574.5,478.9L575.3,479.2L576.1,478.9L576.9,479.0L577.7,479.3L578.5,478.8L579.3,479.2L580.1,480.0L580.9,479.1L581.8,479.6L582.6,478.6L583.4,478.6L584.2,478.0L585.0,478.2L585.8,478.2L586.6,478.7L587.4,479.1L588.2,479.1L589.0,478.4L589.8,478.5L590.6,478.8L591.4,479.1L592.2,479.5L593.0,478.3L593.8,479.2L594.7,479.3L595.5,478.1L596.3,478.7L597.1,478.7L597.9,480.0L598.7,479.0L599.5,479.3L600.3,479.1L601.1,479.2L601.9,478.7L602.7,478.2L603.5,477.9L604.3,478.4L605.1,478.7L605.9,478.7L606.7,478.4L607.6,479.4L608.4,479.3L609.2,479.4L610.0,480.2L610.8,479.9L611.6,479.8L612.4,479.2L613.2,478.8L614.0,478.9L614.8,478.5L615.6,479.7L616.4,479.6L617.2,479.2L618.0,478.9L618.8,479.7L619.6,478.8L620.5,478.9L621.3,480.1L622.1,479.2L622.9,479.8L623.7,479.1L624.5,479.5L625.3,478.6L626.1,479.1L626.9,479.3L627.7,479.8L628.5,479.7L629.3,479.1L630.1,479.0L630.9,478.4L631.7,478.1L632.5,478.1L633.4,479.3L634.2,479.9L635.0,478.7L635.8,479.2L636.6,480.7L637.4,480.1L638.2,479.9L639.0,480.3L639.8,480.3L640.6,479.7L641.4,479.5L642.2,479.8L643.0,480.7L643.8,479.7L644.6,479.3L645.4,478.5L646.3,478.8L647.1,478.5L647.9,478.2L648.7,479.1L649.5,479.2L650.3,479.3L651.1,479.3L651.9,479.7L652.7,479.9L653.5,479.8L654.3,479.1L655.1,480.0L655.9,480.6L656.7,480.3L657.5,479.7L658.3,480.7L659.2,480.6L660.0,480.5L660.8,479.7L661.6,479.5L662.4,479.7L663.2,479.4L664.0,479.4L664.8,479.7L664.8,487.9Z" fill="#3eb753" fill-opacity="0.43"/>
<line x1="547.20" y1="459.60" x2="547.20" y2="489.90" stroke="#222" stroke-width="0.8"/>
<rect x="530.50" y="459.60" width="140.60" height="30.30" fill="none" stroke="#555" stroke-width="0.8"/>
<rect x="530.50" y="494.80" width="140.60" height="11.50" fill="#efefef" stroke="#5a5a5a" stroke-width="0.8"/>
<text x="600.80" y="503.40" font-size="9.45" text-anchor="middle" fill="#1f1f1f" stroke="#1f1f1f" stroke-width="0.08" textLength="58.80" lengthAdjust="spacingAndGlyphs">Dox (21 d) wo</text>
<path d="M536.6,535.9L536.6,534.8L537.4,535.5L538.2,535.5L539.0,535.6L539.8,535.5L540.6,535.6L541.4,535.6L542.2,535.6L543.1,535.3L543.9,535.6L544.7,535.6L545.5,535.2L546.3,535.1L547.1,535.6L547.9,535.4L548.7,535.1L549.5,535.2L550.3,535.4L551.1,535.3L551.9,535.2L552.7,535.1L553.5,535.3L554.3,534.9L555.1,535.2L556.0,535.2L556.8,535.0L557.6,535.1L558.4,534.9L559.2,534.7L560.0,535.2L560.8,535.2L561.6,535.3L562.4,535.3L563.2,535.5L564.0,535.6L564.8,535.1L565.6,535.1L566.4,535.4L567.2,535.6L568.0,535.4L568.9,535.6L569.7,535.4L570.5,535.6L571.3,535.5L572.1,535.4L572.9,535.3L573.7,535.2L574.5,535.0L575.3,535.6L576.1,535.1L576.9,535.3L577.7,534.6L578.5,534.6L579.3,534.9L580.1,535.3L580.9,535.1L581.8,535.2L582.6,534.8L583.4,535.0L584.2,534.9L585.0,535.3L585.8,535.1L586.6,535.3L587.4,534.8L588.2,535.4L589.0,535.3L589.8,535.1L590.6,534.8L591.4,535.5L592.2,535.6L593.0,535.5L593.8,535.0L594.7,535.6L595.5,535.6L596.3,535.6L597.1,535.3L597.9,535.2L598.7,535.0L599.5,535.6L600.3,535.1L601.1,535.5L601.9,535.6L602.7,535.3L603.5,535.5L604.3,535.5L605.1,534.8L605.9,534.5L606.7,535.3L607.6,534.8L608.4,535.0L609.2,535.0L610.0,534.8L610.8,535.0L611.6,534.9L612.4,535.6L613.2,535.6L614.0,535.6L614.8,535.5L615.6,535.4L616.4,535.4L617.2,535.4L618.0,534.9L618.8,535.6L619.6,535.6L620.5,535.6L621.3,535.6L622.1,535.5L622.9,535.6L623.7,535.6L624.5,535.1L625.3,535.0L626.1,535.6L626.9,535.5L627.7,535.1L628.5,535.4L629.3,535.4L630.1,535.4L630.9,535.6L631.7,535.6L632.5,535.6L633.4,535.6L634.2,535.4L635.0,535.6L635.8,535.6L636.6,535.1L637.4,535.4L638.2,535.0L639.0,535.5L639.8,534.9L640.6,535.4L641.4,534.9L642.2,534.7L643.0,534.5L643.8,535.3L644.6,535.5L645.4,535.4L646.3,535.4L647.1,535.1L647.9,534.8L648.7,534.7L649.5,534.4L650.3,534.9L651.1,535.2L651.9,535.5L652.7,535.6L653.5,535.4L654.3,535.6L655.1,535.6L655.9,535.6L656.7,535.6L657.5,535.4L658.3,535.3L659.2,535.1L660.0,535.1L660.8,535.5L661.6,535.4L662.4,534.9L663.2,535.0L664.0,534.9L664.8,535.5L664.8,535.9Z" fill="#d0d0d0"/>
<path d="M536.6,535.9L536.6,534.6L537.4,534.5L538.2,534.9L539.0,534.4L539.8,534.0L540.6,535.0L541.4,534.8L542.2,534.8L543.1,535.1L543.9,534.7L544.7,535.1L545.5,535.3L546.3,534.8L547.1,534.8L547.9,534.8L548.7,535.3L549.5,534.4L550.3,534.2L551.1,534.9L551.9,535.1L552.7,535.7L553.5,534.9L554.3,535.2L555.1,535.4L556.0,534.8L556.8,535.0L557.6,535.0L558.4,534.4L559.2,534.5L560.0,534.4L560.8,535.1L561.6,534.5L562.4,534.4L563.2,534.6L564.0,534.7L564.8,534.6L565.6,534.6L566.4,534.6L567.2,534.8L568.0,534.5L568.9,534.8L569.7,534.4L570.5,534.9L571.3,534.5L572.1,534.7L572.9,534.5L573.7,535.0L574.5,534.7L575.3,535.1L576.1,534.9L576.9,534.9L577.7,534.2L578.5,535.0L579.3,534.7L580.1,534.9L580.9,534.5L581.8,534.4L582.6,534.9L583.4,534.6L584.2,534.7L585.0,534.8L585.8,535.0L586.6,535.6L587.4,535.2L588.2,535.1L589.0,535.7L589.8,535.5L590.6,535.1L591.4,534.5L592.2,534.9L593.0,534.6L593.8,535.0L594.7,535.0L595.5,535.1L596.3,534.8L597.1,534.6L597.9,534.9L598.7,534.8L599.5,535.0L600.3,534.6L601.1,534.9L601.9,534.7L602.7,534.5L603.5,534.5L604.3,535.2L605.1,535.1L605.9,534.7L606.7,535.0L607.6,534.8L608.4,535.2L609.2,535.3L610.0,535.3L610.8,535.3L611.6,535.7L612.4,535.3L613.2,534.8L614.0,534.6L614.8,534.7L615.6,534.8L616.4,534.7L617.2,535.0L618.0,534.3L618.8,534.9L619.6,534.6L620.5,534.5L621.3,534.9L622.1,534.3L622.9,534.4L623.7,534.8L624.5,535.0L625.3,534.6L626.1,534.6L626.9,535.1L627.7,535.4L628.5,535.0L629.3,534.5L630.1,534.1L630.9,534.5L631.7,534.9L632.5,534.9L633.4,535.4L634.2,534.9L635.0,534.8L635.8,534.8L636.6,534.6L637.4,534.3L638.2,535.4L639.0,535.1L639.8,534.8L640.6,534.7L641.4,534.9L642.2,535.0L643.0,535.1L643.8,534.9L644.6,534.8L645.4,534.9L646.3,535.4L647.1,535.4L647.9,535.5L648.7,535.7L649.5,535.7L650.3,535.7L651.1,535.0L651.9,535.2L652.7,535.3L653.5,535.1L654.3,534.8L655.1,534.7L655.9,535.1L656.7,535.3L657.5,535.3L658.3,535.3L659.2,535.2L660.0,535.7L660.8,535.3L661.6,535.3L662.4,535.6L663.2,534.9L664.0,535.3L664.8,535.4L664.8,535.9Z" fill="#3eb753" fill-opacity="0.43"/>
<line x1="547.20" y1="507.60" x2="547.20" y2="537.90" stroke="#222" stroke-width="0.8"/>
<rect x="530.50" y="507.60" width="140.60" height="30.30" fill="none" stroke="#555" stroke-width="0.8"/>
<text x="391.80" y="548.70" font-size="8.33" fill="#1f1f1f" stroke="#1f1f1f" stroke-width="0.08" textLength="16.20" lengthAdjust="spacingAndGlyphs">TSS</text>
<text x="509.40" y="548.70" font-size="8.33" fill="#1f1f1f" stroke="#1f1f1f" stroke-width="0.08" textLength="16.20" lengthAdjust="spacingAndGlyphs">TES</text>
<text x="537.20" y="548.70" font-size="8.33" fill="#1f1f1f" stroke="#1f1f1f" stroke-width="0.08" textLength="16.20" lengthAdjust="spacingAndGlyphs">TSS</text>
<text x="656.40" y="548.70" font-size="8.33" fill="#1f1f1f" stroke="#1f1f1f" stroke-width="0.08" textLength="16.20" lengthAdjust="spacingAndGlyphs">TES</text>
<text x="364.60" y="445.00" font-size="9.87" text-anchor="middle" fill="#1f1f1f" stroke="#1f1f1f" stroke-width="0.08" textLength="119.00" lengthAdjust="spacingAndGlyphs" transform="rotate(-90 364.60 445.00)">Coverage (log fold change)</text>
<circle cx="680.50" cy="388.20" r="4.60" fill="#a6dcaf"/>
<text x="677.20" y="397.70" font-size="7.98" fill="#2a2a2a" stroke="#2a2a2a" stroke-width="0.08" textLength="37.70" lengthAdjust="spacingAndGlyphs" transform="rotate(90 677.20 397.70)">Reversible</text>
<circle cx="680.50" cy="453.40" r="4.60" fill="#aaaaaa"/>
<text x="677.20" y="462.20" font-size="8.53" fill="#2a2a2a" stroke="#2a2a2a" stroke-width="0.08" textLength="42.20" lengthAdjust="spacingAndGlyphs" transform="rotate(90 677.20 462.20)">Irreversible</text>
<text x="37.00" y="575.30" font-size="9.57" fill="#1f1f1f" stroke="#1f1f1f" stroke-width="0.08" textLength="28.20" lengthAdjust="spacingAndGlyphs">Rbbp7</text>
<text x="74.10" y="583.00" font-size="9.94" fill="#1f1f1f" stroke="#1f1f1f" stroke-width="0.08" textLength="24.30" lengthAdjust="spacingAndGlyphs">Txlng</text>
<text x="127.70" y="576.00" font-size="9.03" fill="#1f1f1f" stroke="#1f1f1f" stroke-width="0.08" textLength="25.60" lengthAdjust="spacingAndGlyphs">Syap1</text>
<text x="196.50" y="581.70" font-size="9.95" fill="#1f1f1f" stroke="#1f1f1f" stroke-width="0.08" textLength="26.00" lengthAdjust="spacingAndGlyphs">Ctps2</text>
<line x1="52.40" y1="581.50" x2="67.00" y2="581.50" stroke="#2e7d4a" stroke-width="0.9"/>
<path d="M53.9,580.2v2.6M57.1,580.2v2.6M60.3,580.2v2.6M63.5,580.2v2.6M52.7,580.2v2.6M66.7,580.2v2.6" fill="none" stroke="#2e7d4a" stroke-width="0.7"/>
<rect x="57.50" y="580.20" width="1.50" height="2.60" fill="#2e7d4a"/>
<rect x="60.50" y="580.20" width="6.00" height="2.60" fill="#2e7d4a"/>
<line x1="67.00" y1="584.50" x2="105.50" y2="584.50" stroke="#2e7d4a" stroke-width="0.9"/>
<path d="M68.5,583.2v2.6M71.7,583.2v2.6M74.9,583.2v2.6M78.1,583.2v2.6M81.3,583.2v2.6M84.5,583.2v2.6M87.7,583.2v2.6M90.9,583.2v2.6M94.1,583.2v2.6M97.3,583.2v2.6M100.5,583.2v2.6M103.7,583.2v2.6M67.3,583.2v2.6M105.2,583.2v2.6" fill="none" stroke="#2e7d4a" stroke-width="0.7"/>
<rect x="67.00" y="583.20" width="3.00" height="2.60" fill="#2e7d4a"/>
<line x1="126.50" y1="581.50" x2="150.70" y2="581.50" stroke="#2e7d4a" stroke-width="0.9"/>
<path d="M128.0,580.2v2.6M131.2,580.2v2.6M134.4,580.2v2.6M137.6,580.2v2.6M140.8,580.2v2.6M144.0,580.2v2.6M147.2,580.2v2.6M126.8,580.2v2.6M150.4,580.2v2.6" fill="none" stroke="#2e7d4a" stroke-width="0.7"/>
<rect x="126.50" y="580.20" width="2.00" height="2.60" fill="#2e7d4a"/>
<line x1="161.40" y1="584.50" x2="263.40" y2="584.50" stroke="#a8a8a8" stroke-width="0.9"/>
<path d="M162.9,583.2v2.6M166.1,583.2v2.6M169.3,583.2v2.6M172.5,583.2v2.6M175.7,583.2v2.6M178.9,583.2v2.6M182.1,583.2v2.6M185.3,583.2v2.6M188.5,583.2v2.6M191.7,583.2v2.6M194.9,583.2v2.6M198.1,583.2v2.6M201.3,583.2v2.6M204.5,583.2v2.6M207.7,583.2v2.6M210.9,583.2v2.6M214.1,583.2v2.6M217.3,583.2v2.6M220.5,583.2v2.6M223.7,583.2v2.6M226.9,583.2v2.6M230.1,583.2v2.6M233.3,583.2v2.6M236.5,583.2v2.6M239.7,583.2v2.6M242.9,583.2v2.6M246.1,583.2v2.6M249.3,583.2v2.6M252.5,583.2v2.6M255.7,583.2v2.6M258.9,583.2v2.6M262.1,583.2v2.6M161.7,583.2v2.6M263.1,583.2v2.6" fill="none" stroke="#a8a8a8" stroke-width="0.7"/>
<rect x="261.00" y="583.20" width="2.40" height="2.60" fill="#a8a8a8"/>
<path d="M38.6,590.7h2.2V602.2h-2.2" fill="none" stroke="#555" stroke-width="0.7"/>
<text x="35.40" y="594.90" font-size="7.4" text-anchor="end" fill="#2a2a2a" stroke="#2a2a2a" stroke-width="0.08" textLength="7.20" lengthAdjust="spacingAndGlyphs">15</text>
<text x="35.40" y="601.80" font-size="7.4" text-anchor="end" fill="#2a2a2a" stroke="#2a2a2a" stroke-width="0.08">0</text>
<path d="M0,0V-59h1V-110h1h1V-42h1V-69h1V-110h1V-67h1V-12h1V-28h1V-11h1V-56h1V-16h1V-17h1V-25h1V-27h1V-18h1V-31h1V-11h1V-13h1V-18h1V-23h1V-44h1V-22h1V-38h1V-9h1V-19h1V-22h1V-18h1V-19h1V-55h1V-30h1V-12h1V-17h1V-34h1V-7h1V-51h1V-22h1V0h1h1h1h1V-47h1V-14h1V-7h1V-33h1V-50h1V-23h1V-13h1V-5h1V-29h1V-38h1V-11h1V-34h1V-13h1V-20h1V-37h1V-14h1V-32h1V-65h1V-17h1V-52h1V-35h1V-3h1V-41h1V-13h1V-24h1V-22h1V-17h1V-44h1V-17h1V-14h1h1V-6h1h1V-31h1V-26h1V-5h1V-37h1V-9h1V-29h1V-14h1V-11h1V-10h1V-28h1V-35h1V-91h1V-25h1V-19h1V-9h1V-17h1V-33h1V-43h1V-18h1V-12h1V-4h1V-14h1V-6h1V-48h1V-13h1V-10h1V-12h1V-28h1V-16h1V-10h1V-21h1V-15h1V-5h1V-4h1V-10h1V-24h1V-16h1V-56h1V-63h1V-35h1V-31h1V-32h1V-9h1V-29h1V-28h1h1V-11h1V-23h1V-25h1V-31h1V-18h1V-6h1V-5h1V-7h1V-9h1V-60h1V-32h1V-18h1V-23h1V-10h1V-11h1V-31h1V-21h1V-28h1V-11h1V-17h1V-20h1V-13h1V-19h1V-22h1V-9h1V-16h1V-15h1V-18h1V-17h1V-25h1V-57h1V-18h1V-4h1V-16h1V-7h1V-20h1V-7h1V-45h1V-30h1V-21h1V-22h1V-37h1V-20h1h1V-22h1V-16h1V-58h1V-12h1V-7h1V-16h1V-8h1V-24h1V-48h1V-34h1V-17h1V-14h1V-30h1V-45h1V-14h1V-47h1V-11h1V-16h1V-30h1V-51h1V-20h1V-42h1V-33h1V-38h1V-45h1V-22h1V-29h1h1V-27h1V-28h1V-17h1V-7h1V-8h1V-2h1V-4h1V-35h1V-7h1h1V-12h1V-43h1V-8h1V-26h1V-29h1V-10h1V-59h1V-25h1V-18h1V-21h1V-8h1h1V-24h1V-20h1V-18h1V-9h1V-21h1V-12h1V-19h1V-44h1V-13h1V-21h1V-26h1V-10h1V-17h1V-32h1V-8h1V-24h1V-16h1V-3h1V-29h1V-16h1V-9h1V-29h1V-11h1V-6h1V-14h1V-24h1V-26h1V-34h1V-17h1V-13h1V-56h1V-16h1h1V-7h1V-9h1V-7h1V-10h1V-24h1V-14h1V-52h1V-3h1V-17h1V-12h1V-15h1V-18h1V-16h1V-53h1V-19h1V-9h1V-22h1V-26h1V-24h1V-26h1V-19h1V-38h1V-30h1V-29h1V-19h1V-33h1V-8h1V-44h1V-42h1V-24h1V-27h1V-25h1V-29h1V-13h1V-27h1V-2h1V-8h1V-26h1V-12h1V-40h1V-17h1V-53h1V-40h1V-10h1V-8h1V-13h1V-33h1V-43h1V-8h1V-110h1V-24h1V-92h1V0h1h1h1h1h1h1h1h1h1h1V-9h1V-29h1V-18h1V-30h1V-38h1V-15h1V-28h1V-19h1V-11h1V-8h1V-39h1V-11h1V-15h1V-26h1V-27h1V-25h1V-50h1V-15h1V-23h1V-11h1h1V-17h1V-46h1V-74h1V-26h1V-49h1V-46h1V-3h1V-9h1V-3h1V-5h1V-11h1V-19h1V-3h1V-1h1V-22h1V-11h1V-10h1V-11h1V-9h1V-23h1V-10h1V-6h1V-14h1V-10h1V-20h1V-5h1V-7h1V-22h1V-8h1V-18h1V-11h1V-19h1V-16h1V-27h1V-5h1V-29h1V-37h1V-29h1V-14h1V-23h1V-9h1V-5h1V-19h1V-7h1V-15h1V-30h1V-17h1V-39h1V-13h1V-7h1V0Z" fill="#f8c48a" transform="translate(42.90,602.20) scale(0.6,0.1)"/>
<path d="M0,0V-58h1V-52h1V-42h1h1V-58h1V-35h1V-57h1V-12h1V-8h1V-11h1V-9h1h1V-11h1V-13h1V-10h1V-8h1V-11h1h1h1V-9h1V-12h1V-7h1V-9h1V-12h1V-9h1V-7h1V-11h1V-9h1V-8h1V-14h1V-12h1V-10h1V-7h1V-14h1V-7h1V-11h1V-8h1V0h1h1h1h1V-8h1h1V-7h1V-15h1h1V-8h1h1V-5h1V-11h1h1V-9h1V-12h1h1V-14h1V-15h1V-11h1V-12h1V-14h1V-11h1V-12h1V-8h1V-3h1V-9h1V-13h1h1V-11h1V-13h1V-8h1V-13h1h1V-10h1V-6h1h1V-11h1V-13h1V-5h1V-11h1V-9h1V-8h1V-14h1V-10h1V-9h1V-11h1V-8h1V-14h1V-15h1V-7h1V-9h1V-13h1V-9h1h1V-8h1h1V-4h1V-14h1V-6h1V-12h1V-13h1V-10h1h1V-7h1V-9h1V-10h1V-11h1V-10h1V-5h1V-4h1V-10h1V-12h1V-9h1V-15h1V-12h1V-11h1V-13h1h1V-9h1V-12h1V-7h1V-11h1h1V-12h1V-10h1V-9h1V-10h1V-6h1V-5h1V-7h1V-8h1V-13h1V-14h1V-9h1V-7h1V-10h1V-11h1V-13h1V-14h1V-7h1V-11h1V-8h1V-14h1V-13h1V-11h1h1V-9h1h1V-13h1V-10h1V-11h1V-9h1V-13h1V-10h1V-4h1V-13h1V-7h1V-12h1V-7h1V-8h1V-10h1V-8h1V-9h1V-8h1V-15h1V-13h1V-14h1V-9h1V-12h1h1V-7h1h1V-8h1V-12h1V-14h1V-10h1h1V-13h1V-8h1V-7h1V-11h1V-13h1V-9h1V-13h1V-9h1V-15h1V-7h1V-8h1V-11h1V-13h1h1h1V-10h1V-8h1V-7h1V-12h1V-7h1h1V-8h1V-2h1V-4h1V-11h1V-7h1h1V-12h1h1V-8h1V-9h1h1V-10h1V-7h1V-10h1h1h1V-8h1h1V-11h1V-10h1V-9h1h1V-15h1V-8h1V-9h1V-10h1V-11h1V-12h1V-8h1h1V-11h1V-8h1h1V-11h1V-12h1V-3h1V-13h1V-12h1V-9h1V-15h1V-11h1V-6h1V-7h1V-11h1V-9h1h1V-12h1V-9h1V-8h1V-12h1V-9h1V-7h1V-9h1V-7h1V-10h1V-14h1h1V-8h1V-3h1V-10h1V-11h1V-9h1V-15h1V-11h1V-10h1V-8h1V-9h1V-11h1V-10h1V-12h1V-8h1V-11h1V-8h1V-10h1V-7h1V-15h1V-10h1V-8h1V-10h1V-14h1V-10h1h1V-9h1V-15h1V-13h1V-8h1V-2h1V-8h1V-11h1V-10h1V-9h1V-8h1V-9h1V-8h1V-10h1V-8h1V-10h1V-13h1V-8h1h1V-11h1V-13h1V-7h1V0h1h1h1h1h1h1h1h1h1h1V-9h1V-11h1V-14h1V-12h1V-10h1V-11h1V-8h1V-10h1V-8h1V-7h1h1V-11h1V-7h1V-10h1V-8h1h1V-14h1V-9h1V-12h1V-11h1h1V-12h1V-11h1V-15h1V-13h1V-7h1V-15h1V-3h1V-9h1V-3h1V-5h1V-10h1V-14h1V-3h1V-1h1V-8h1V-7h1V-10h1V-11h1V-9h1h1V-10h1V-6h1V-7h1V-8h1V-13h1V-5h1V-7h1V-11h1V-8h1V-10h1h1V-9h1h1V-14h1V-5h1V-9h1V-13h1V-15h1V-13h1V-9h1h1V-5h1V-10h1V-7h1V-13h1V-9h1V-15h1V-13h1V-10h1V-7h1V0Z" fill="#b37d44" transform="translate(42.90,602.20) scale(0.6,0.1)"/>
<path d="M0,0h1h1h1h1h1h1h1V-6h1V0h1h1V-6h1V0h1h1h1h1h1h1h1h1h1h1h1h1h1h1h1V-6h1V0h1h1h1h1h1h1h1h1h1h1h1h1h1h1h1h1h1h1V-10h1V0h1h1h1h1h1h1h1h1h1h1h1h1h1h1h1h1h1h1h1h1h1h1h1h1h1h1h1h1h1h1h1V-7h1V0h1h1h1h1h1h1h1h1h1h1h1h1h1h1h1h1h1h1h1h1h1h1h1h1h1h1h1h1h1h1h1h1h1h1h1h1h1h1h1h1h1h1h1V-10h1V0h1h1h1V-6h1V0h1h1h1h1h1h1h1h1h1h1h1h1h1h1h1h1V-8h1V0h1h1V-5h1V0h1h1h1h1h1h1h1h1h1h1h1h1h1h1h1h1h1h1h1h1h1h1h1h1h1h1h1h1h1h1h1h1h1h1h1h1h1V-13h1V0h1h1h1h1h1h1h1h1h1V-12h1V0h1h1h1h1h1h1h1h1h1h1h1h1h1h1h1V-7h1V0h1h1h1h1h1h1h1h1h1h1h1h1h1h1h1h1h1h1h1h1h1h1h1h1h1h1h1h1h1h1h1h1h1h1h1h1h1h1h1h1V-7h1V0h1h1h1h1h1h1h1h1h1h1h1h1h1h1h1h1h1h1h1h1h1V-9h1V0h1h1h1h1h1h1h1h1h1h1h1h1h1V-8h1V0h1h1h1h1h1h1h1h1h1h1h1V-4h1V0h1h1h1h1h1h1h1h1h1h1h1h1h1h1h1h1h1h1h1h1h1h1h1V-6h1V0h1h1h1h1h1h1h1h1h1h1h1h1h1h1h1h1h1h1h1h1h1h1h1h1h1h1h1h1h1h1h1h1h1h1h1h1h1h1h1h1h1h1h1h1h1h1h1V-7h1V0h1h1h1h1h1h1V-12h1V0h1h1V0Z" fill="#75757f" transform="translate(42.90,602.20) scale(0.6,0.1)"/>
<line x1="42.90" y1="602.40" x2="271.20" y2="602.40" stroke="#b37d44" stroke-width="0.6"/>
<text x="279.00" y="600.10" font-size="10.2" fill="#1f1f1f" stroke="#1f1f1f" stroke-width="0.08" textLength="32.90" lengthAdjust="spacingAndGlyphs">Control</text>
<path d="M38.6,605.4h2.2V616.9h-2.2" fill="none" stroke="#555" stroke-width="0.7"/>
<text x="35.40" y="609.60" font-size="7.4" text-anchor="end" fill="#2a2a2a" stroke="#2a2a2a" stroke-width="0.08" textLength="7.20" lengthAdjust="spacingAndGlyphs">15</text>
<text x="35.40" y="616.50" font-size="7.4" text-anchor="end" fill="#2a2a2a" stroke="#2a2a2a" stroke-width="0.08">0</text>
<path d="M0,0V-10h1V-54h1V-44h1V-20h1V-23h1V-60h1V-110h1V-66h1V-101h1V-27h1V-12h1V-16h1V-110h1V-75h1V-35h1V-25h1V-59h1V-61h1V-110h1V-40h1V-31h1V-110h1V-82h1V-53h1V-66h1V-61h1V-63h1V-60h1V-23h1V-41h1V-10h1V-35h1V-39h1V-33h1V-53h1V-13h1V-40h1V-26h1V-52h1V-15h1V-110h1V-22h1V-45h1V-63h1V-67h1V-69h1V-89h1V-27h1V-79h1V-58h1V-24h1V-66h1V-68h1V-67h1V-35h1V-32h1V-13h1V-36h1V-35h1V-53h1V-20h1V-11h1V-49h1V-90h1V-30h1V-95h1V-62h1V-27h1V-47h1V-25h1V-23h1V-60h1V-27h1V-47h1V-43h1V-75h1V-38h1V-20h1V-60h1V-23h1V-24h1V-7h1V-37h1V-44h1V-53h1V-40h1V-47h1V-53h1V-37h1V-63h1V-73h1V-57h1V-15h1V-16h1V-57h1V-29h1V-28h1V-51h1V-9h1V-57h1V-33h1V-75h1V-13h1V-55h1V-81h1V-94h1V-31h1V-15h1V-35h1V-28h1V-36h1V-52h1V-67h1V-15h1V-11h1V-29h1V-14h1V-45h1V-64h1V-75h1V-20h1V-13h1V-63h1V-23h1V-35h1V-21h1V-105h1V-20h1V-90h1V-70h1V-97h1V-70h1V-48h1V-84h1V-47h1V-27h1V-24h1V-6h1V-27h1V-43h1V-18h1V-38h1V-30h1V-56h1V-110h1V-27h1V-15h1V-53h1V-52h1V-80h1V-50h1V-47h1V-52h1V-43h1V-110h1V-25h1V-58h1V-37h1V-78h1V-34h1V-47h1V-69h1V-66h1V-36h1V-88h1V-28h1h1V-44h1V-27h1V-15h1V-33h1V-55h1V-12h1V-65h1V-28h1V-64h1V-83h1V-18h1V-38h1V-28h1V-38h1V-16h1V-53h1V-42h1V-38h1V-43h1V-40h1V-14h1V-83h1V-16h1V-30h1V-38h1V-110h1V-18h1V-40h1V-53h1V-71h1V-110h1h1V-29h1V-56h1V-86h1V-61h1V-50h1V-34h1V-80h1V-110h1V-68h1V-75h1V-87h1V-37h1V-39h1V-40h1h1V-100h1V-94h1V-20h1V-43h1V-49h1V-41h1V-42h1V-26h1V-70h1V-50h1V-22h1V-64h1V-69h1V-17h1V-24h1V-39h1V-30h1V-41h1V-6h1V-94h1V-75h1V-56h1V-110h1V-51h1V-55h1V-60h1V-66h1V-110h1V-60h1V-55h1V-110h1V-58h1V-105h1V-22h1V-78h1V-40h1V-41h1V-110h1V-24h1V-104h1V-79h1V-46h1V-31h1V-95h1V-50h1V-45h1V-16h1V-46h1V-39h1V-57h1V-55h1V-79h1V-84h1V-62h1V-44h1V-68h1V-7h1V-29h1V-58h1V-110h1V-57h1V-34h1V-102h1V-38h1V-110h1h1h1V-29h1V-110h1V-68h1h1V-99h1V-110h1V-39h1V-11h1V-50h1V-12h1V-39h1V-48h1V-11h1V-52h1V-16h1V-38h1V-23h1V-65h1V0h1h1h1h1h1h1h1h1h1h1V-42h1V-43h1V-18h1V-28h1V-24h1V-35h1V-38h1V-32h1V-56h1V-16h1V-12h1V-57h1V-38h1V-89h1V-110h1V-13h1V-10h1V-110h1V-26h1V-63h1V-61h1V-71h1V-14h1V-20h1V-64h1V-15h1V-22h1V-29h1V-23h1V-24h1V-49h1V-65h1V-68h1V-9h1V-18h1V-15h1V-17h1V-32h1V-14h1V-72h1V-50h1V-63h1V-75h1V-100h1V-30h1V-53h1V-35h1V-53h1V-25h1V-22h1V-59h1V-48h1V-57h1V-30h1V-61h1V-88h1V-21h1V-39h1V-37h1V-93h1V-69h1V-27h1V-32h1V-12h1V-26h1V-110h1V-70h1V-27h1V-21h1V-41h1h1V0Z" fill="#f8c48a" transform="translate(42.90,616.90) scale(0.6,0.1)"/>
<path d="M0,0V-10h1V-16h1V-25h1V-16h1V-23h1V-24h1V-17h1V-23h1V-17h1V-15h1V-12h1V-16h1V-24h1V-16h1V-18h1V-12h1V-23h1V-13h1V-14h1V-18h1V-23h1V-17h1V-13h1V-16h1h1V-20h1V-26h1V-25h1V-16h1V-21h1V-10h1V-15h1V-12h1V-24h1V-14h1V-13h1V-20h1V-24h1V-17h1V-15h1V-25h1V-15h1V-14h1V-19h1V-17h1V-23h1V-22h1V-26h1V-17h1V-16h1V-24h1V-14h1h1V-15h1V-17h1V-19h1V-13h1h1V-25h1V-23h1V-18h1V-11h1V-23h1V-22h1V-19h1V-13h1V-12h1h1V-25h1V-18h1V-17h1V-26h1V-21h1V-16h1V-14h1V-24h1V-18h1V-20h1V-18h1V-17h1V-20h1V-7h1V-14h1h1h1V-25h1V-18h1V-14h1h1V-22h1V-26h1V-22h1V-15h1V-16h1V-21h1V-26h1V-25h1V-22h1V-9h1V-16h1V-25h1V-21h1V-13h1V-21h1V-14h1V-13h1V-22h1V-15h1V-21h1V-24h1V-17h1V-13h1V-21h1V-15h1V-11h1V-25h1V-14h1V-23h1V-18h1h1V-19h1V-13h1V-26h1V-13h1V-14h1V-21h1h1V-20h1V-17h1V-16h1V-22h1h1V-17h1V-15h1V-14h1V-25h1V-15h1V-6h1V-20h1V-14h1V-18h1V-25h1V-18h1V-23h1V-21h1V-26h1V-14h1V-16h1V-22h1V-17h1V-19h1V-20h1V-19h1V-13h1V-17h1V-25h1V-12h1V-20h1V-18h1V-24h1V-22h1V-19h1V-24h1h1V-16h1V-15h1V-26h1V-13h1V-14h1V-15h1V-18h1V-25h1V-12h1V-19h1V-14h1V-26h1V-16h1V-18h1V-20h1V-24h1V-31h1V-16h1V-27h1V-25h1V-33h1V-25h1V-22h1V-14h1V-34h1V-16h1V-29h1V-32h1V-29h1V-18h1V-34h1V-18h1V-19h1V-27h1V-25h1V-28h1h1V-24h1V-25h1V-19h1V-17h1V-34h1V-30h1V-17h1V-27h1V-22h1V-34h1V-20h1V-21h1V-30h1h1V-28h1V-20h1V-18h1V-27h1V-21h1V-33h1V-26h1V-34h1V-31h1V-22h1V-29h1V-28h1V-17h1V-24h1V-27h1V-23h1V-31h1V-6h1V-17h1V-31h1V-32h1V-16h1V-28h1V-22h1V-27h1V-19h1V-20h1V-21h1V-26h1V-17h1V-29h1V-32h1V-22h1V-26h1V-27h1V-29h1V-28h1V-23h1V-29h1V-22h1h1V-21h1V-34h1V-18h1V-28h1V-16h1V-23h1V-20h1V-30h1V-33h1V-25h1V-30h1V-17h1V-27h1V-33h1V-7h1V-21h1V-27h1V-22h1V-31h1V-26h1V-20h1V-34h1V-31h1V-25h1V-16h1V-22h1V-18h1V-33h1V-29h1V-32h1V-28h1V-21h1V-11h1V-20h1V-12h1V-24h1V-25h1V-11h1V-17h1V-16h1V-32h1V-23h1V-26h1V0h1h1h1h1h1h1h1h1h1h1V-26h1V-28h1V-18h1V-28h1V-19h1V-29h1V-19h1V-18h1V-23h1V-15h1V-12h1V-28h1V-30h1V-29h1V-21h1V-13h1V-10h1V-15h1V-22h1V-28h1V-16h1V-22h1V-14h1V-20h1V-29h1V-15h1V-22h1V-29h1V-23h1h1V-22h1V-21h1V-18h1V-9h1V-18h1V-15h1V-17h1V-22h1V-14h1V-30h1V-23h1V-16h1V-19h1V-15h1V-24h1h1V-26h1V-18h1V-15h1V-22h1h1h1h1V-18h1V-15h1V-25h1V-15h1V-16h1V-20h1V-21h1V-27h1V-24h1V-29h1V-12h1V-20h1V-27h1V-17h1V-27h1V-21h1V-19h1V-18h1V0Z" fill="#b37d44" transform="translate(42.90,616.90) scale(0.6,0.1)"/>
<path d="M0,0h1h1h1h1h1h1h1h1h1h1V-11h1V0h1h1h1h1h1h1h1h1h1h1h1h1h1h1h1h1h1h1h1h1h1h1h1h1h1h1h1h1h1h1h1h1h1h1h1h1h1h1h1h1V-8h1V0h1h1h1h1h1h1h1V-21h1V0h1h1h1h1h1h1h1h1h1h1h1h1h1h1h1h1h1h1h1h1h1h1V-13h1V0h1h1h1h1h1h1h1h1h1h1h1h1h1h1h1h1h1h1h1h1h1h1h1V-18h1V0h1h1h1h1h1h1h1h1h1h1h1V-13h1V0h1h1h1h1h1h1h1h1h1h1h1h1h1h1h1h1h1h1h1h1h1h1h1h1h1h1h1h1h1h1h1h1h1V-12h1V0h1V-10h1V0h1h1V-19h1V0h1h1h1h1h1h1h1h1h1h1h1h1h1h1V-6h1V0h1h1h1h1V-11h1V0h1h1V-29h1V0h1h1h1h1h1h1h1h1h1h1h1h1h1h1h1h1h1h1h1h1h1h1h1h1h1h1h1V-19h1V0h1h1h1h1h1h1h1h1h1h1h1h1h1h1h1h1h1h1h1h1h1h1h1h1h1h1h1h1h1h1h1h1h1h1h1h1h1h1h1h1h1h1h1h1h1h1h1h1h1h1h1h1h1h1h1h1h1h1h1h1h1h1h1h1h1h1h1h1h1h1h1h1h1h1h1h1h1h1h1h1h1V-8h1V0h1h1h1h1h1h1h1h1h1h1h1h1h1h1h1h1h1h1h1h1h1h1h1h1h1h1h1h1h1h1h1h1h1h1h1h1V-16h1V0h1h1h1h1h1h1h1h1h1h1h1h1h1h1h1h1h1h1h1h1h1h1h1h1h1h1h1h1h1h1h1h1h1h1h1h1h1h1h1h1h1h1h1h1h1h1h1h1h1h1h1h1V0Z" fill="#75757f" transform="translate(42.90,616.90) scale(0.6,0.1)"/>
<line x1="42.90" y1="617.10" x2="271.20" y2="617.10" stroke="#b37d44" stroke-width="0.6"/>
<text x="279.00" y="614.90" font-size="9.24" fill="#1f1f1f" stroke="#1f1f1f" stroke-width="0.08" textLength="38.00" lengthAdjust="spacingAndGlyphs">Dox (d 7)</text>
<path d="M38.6,621.7h2.2V633.2h-2.2" fill="none" stroke="#555" stroke-width="0.7"/>
<text x="35.40" y="625.90" font-size="7.4" text-anchor="end" fill="#2a2a2a" stroke="#2a2a2a" stroke-width="0.08" textLength="7.20" lengthAdjust="spacingAndGlyphs">15</text>
<text x="35.40" y="632.80" font-size="7.4" text-anchor="end" fill="#2a2a2a" stroke="#2a2a2a" stroke-width="0.08">0</text>
<path d="M0,0V-110h1V-64h1V-33h1V-57h1V-67h1V-72h1V-40h1V-23h1V-45h1V-41h1V-23h1V-22h1V-26h1V-15h1V-20h1V-74h1V-105h1V-40h1V-7h1V-44h1V-27h1V-7h1V-38h1V-57h1V-70h1V-46h1V-15h1V-35h1V-22h1V-42h1V-34h1V-9h1V-45h1V-21h1V-7h1V-27h1V-30h1V-22h1V0h1h1h1h1V-49h1V-21h1V-63h1V-28h1V-5h1V-62h1V-37h1V-30h1V-22h1V-32h1V0h1h1h1h1V-18h1V-19h1V-62h1V-27h1V-70h1V-50h1h1V-47h1V-29h1h1V-55h1V-13h1V-69h1V-23h1V-56h1V-12h1V-29h1V-20h1V-34h1V-16h1V-36h1V-20h1V-11h1V-18h1V-20h1V-18h1V-11h1V-30h1V-15h1V-19h1V-18h1V-17h1V-35h1V-16h1V-38h1V-26h1V-19h1V-23h1V-34h1V-84h1V-22h1V-18h1V-33h1V-24h1V-7h1V-34h1V-43h1V-13h1V-12h1V-29h1V-40h1V-44h1V-19h1V-28h1V-5h1V-60h1V-58h1V-22h1V-21h1V-6h1V-36h1V-34h1V-5h1V-23h1V-11h1V-6h1V-28h1V-31h1V-110h1V-26h1V-32h1V-66h1V-31h1V-29h1V-19h1V-12h1V-57h1V-65h1V-20h1V-31h1V-16h1V-5h1V-30h1V-36h1V-33h1V-9h1V-20h1V-51h1V-57h1V-53h1V-36h1V-42h1V-29h1V-87h1V-31h1V-37h1V-67h1V-45h1V-17h1V-25h1V-35h1V-36h1V-11h1V-21h1V-11h1V-67h1V-32h1V-41h1V-39h1V-23h1V-61h1V-45h1V-49h1V-27h1V-85h1V-36h1V-30h1V-15h1V-19h1V-26h1V-34h1V-12h1V-20h1V-33h1V-46h1V-35h1V-27h1V-46h1V-41h1V-99h1V-27h1V-44h1V-36h1V-21h1V-44h1V-27h1V-9h1V-30h1V-22h1V-39h1V-52h1V-39h1V-86h1V-16h1V-23h1V-17h1V-29h1V-59h1V-12h1V-40h1V-8h1V-3h1V-22h1V-18h1V-30h1V-38h1V-13h1V-28h1V-21h1V-68h1V-34h1V-23h1V-20h1V-38h1V-27h1V-54h1V-12h1V-15h1V-30h1V-11h1V-73h1V-57h1V-82h1V-19h1V-14h1V-78h1V-47h1V-22h1V-45h1V-41h1V-52h1V-41h1V-54h1V-18h1V-11h1V-18h1V-15h1V-21h1V-13h1V-32h1V-5h1V-16h1V-29h1V-19h1V-27h1V-37h1V-20h1V-24h1V-15h1V-39h1V-54h1V-19h1V-22h1V-27h1V-41h1V-51h1V-39h1V-41h1V-31h1V-47h1V-9h1V-21h1V-30h1V-20h1V-16h1V-22h1V-37h1V-12h1V-31h1V-27h1V-17h1V-86h1V-56h1V-14h1V-19h1V-20h1V-37h1V-47h1V-21h1h1V-23h1V-38h1V-16h1V-33h1V-23h1V-39h1V-44h1V-83h1V-61h1V-52h1V-36h1V-80h1V-20h1V0h1h1h1h1h1h1h1h1h1h1V-89h1V-49h1V-27h1V-53h1V-66h1V-25h1V-60h1V-26h1V-39h1V-76h1V-34h1V-83h1V-10h1V-27h1V-39h1V-28h1V-74h1V-72h1V-13h1V-38h1V-40h1V-94h1V-41h1V-44h1V-80h1V-77h1V-47h1V-23h1V-74h1V-96h1V-76h1V-84h1V-37h1V-45h1h1V-31h1V-9h1V-59h1V-62h1V-7h1V-16h1h1V-49h1V-18h1V-56h1V-27h1V-25h1V-38h1V-4h1V-31h1V-86h1V-23h1V-24h1V-57h1V-36h1V-74h1V-20h1V-61h1V-21h1V-39h1V-47h1V-27h1V-10h1V-11h1V-10h1V-44h1V-28h1V-14h1V-30h1V-16h1V-50h1V0Z" fill="#f8c48a" transform="translate(42.90,633.20) scale(0.6,0.1)"/>
<path d="M0,0V-47h1V-44h1V-33h1V-24h1V-35h1V-26h1V-10h1V-9h1V-13h1V-16h1V-12h1V-15h1V-14h1V-15h1V-9h1V-11h1V-17h1V-11h1V-7h1V-13h1V-17h1V-7h1V-10h1V-9h1V-8h1V-16h1V-10h1V-8h1V-9h1V-12h1V-16h1V-9h1V-15h1V-11h1V-7h1V-13h1V-12h1V-8h1V0h1h1h1h1V-10h1V-16h1V-12h1V-16h1V-5h1V-13h1V-11h1V-16h1V-11h1V-16h1V0h1h1h1h1V-10h1V-11h1V-12h1h1V-10h1V-9h1V-16h1V-13h1V-15h1V-8h1V-14h1V-13h1V-9h1V-10h1V-15h1V-12h1V-13h1V-8h1V-11h1h1V-17h1h1V-10h1V-17h1V-10h1V-13h1V-11h1V-14h1V-12h1V-10h1V-15h1V-9h1h1V-11h1V-16h1V-17h1V-10h1V-11h1V-17h1V-10h1h1V-13h1V-9h1V-17h1V-7h1V-17h1V-11h1V-13h1V-10h1V-16h1V-8h1V-11h1V-15h1V-11h1V-5h1V-11h1V-10h1V-9h1h1V-6h1V-17h1V-8h1V-5h1V-14h1V-11h1V-6h1V-9h1V-13h1V-15h1V-16h1V-12h1V-15h1V-14h1V-8h1V-12h1V-9h1h1h1V-16h1V-10h1V-9h1V-5h1V-11h1V-15h1V-14h1V-9h1V-16h1V-12h1V-10h1V-9h1V-13h1V-16h1h1V-17h1V-11h1V-17h1V-16h1V-8h1V-10h1V-14h1V-10h1V-12h1V-11h1V-14h1V-11h1h1V-16h1V-14h1V-16h1h1V-13h1V-10h1h1V-8h1V-10h1V-12h1V-13h1V-15h1h1V-9h1V-15h1V-12h1V-15h1V-23h1V-12h1V-13h1V-22h1V-15h1V-24h1V-12h1V-17h1V-14h1V-18h1V-13h1V-16h1V-23h1V-9h1V-12h1V-16h1V-24h1V-16h1h1h1h1V-22h1V-17h1V-24h1V-13h1V-12h1V-14h1V-8h1V-3h1V-12h1V-18h1V-15h1V-13h1h1V-15h1V-21h1V-15h1V-23h1V-12h1V-14h1V-20h1V-21h1V-18h1V-12h1h1V-21h1V-11h1V-19h1V-20h1V-21h1V-17h1V-14h1V-17h1V-19h1V-15h1V-20h1V-15h1V-12h1V-22h1V-18h1h1V-11h1V-18h1V-15h1V-18h1V-13h1V-15h1V-5h1V-16h1V-19h1V-15h1V-17h1V-21h1V-13h1V-24h1V-15h1V-22h1V-21h1V-19h1V-22h1V-19h1V-13h1V-11h1h1V-18h1V-20h1V-23h1V-9h1V-13h1V-18h1V-13h1V-16h1V-22h1h1V-12h1V-19h1V-21h1V-17h1V-20h1V-14h1h1V-19h1V-13h1V-15h1V-18h1V-15h1V-20h1V-19h1V-18h1V-16h1V-15h1V-11h1V-20h1V-19h1V-18h1V-23h1V-11h1V-20h1V-21h1V-15h1V0h1h1h1h1h1h1h1h1h1h1V-18h1V-13h1V-15h1V-14h1V-23h1V-14h1V-20h1V-17h1V-24h1V-17h1V-13h1V-15h1V-10h1V-24h1h1V-15h1V-23h1V-21h1V-13h1V-24h1V-20h1V-13h1V-15h1V-20h1V-18h1V-15h1V-23h1V-14h1V-12h1V-17h1V-20h1V-21h1V-22h1V-11h1V-22h1h1V-9h1V-24h1V-17h1V-7h1V-16h1h1V-12h1V-18h1V-21h1h1V-22h1V-15h1V-4h1V-16h1V-19h1V-13h1V-12h1V-21h1V-20h1V-24h1V-17h1V-24h1V-14h1V-17h1V-16h1V-19h1V-10h1V-11h1V-10h1V-16h1V-22h1V-14h1V-21h1V-16h1h1V0Z" fill="#b37d44" transform="translate(42.90,633.20) scale(0.6,0.1)"/>
<path d="M0,0h1h1h1h1V-23h1V0h1h1h1h1h1h1h1h1h1h1h1h1h1h1h1h1h1h1h1h1h1h1h1h1h1h1h1h1h1h1h1h1h1h1h1h1h1h1h1h1h1h1h1h1h1h1h1h1h1h1h1h1h1h1h1h1h1h1h1h1h1h1h1h1h1h1h1h1h1h1V-11h1V0h1h1h1h1h1h1h1h1h1h1h1h1h1h1h1h1h1h1h1h1h1h1h1h1h1h1h1h1h1h1h1h1h1h1h1h1h1h1h1h1h1h1h1h1h1h1V-6h1V0h1h1h1h1h1h1h1h1h1h1h1h1h1h1h1h1h1h1h1h1h1h1h1h1h1h1h1h1h1h1h1h1h1h1h1h1h1h1h1h1h1h1h1h1h1h1h1h1h1h1h1h1h1h1h1h1h1h1h1h1h1h1h1h1h1h1V-8h1V-11h1V0h1h1h1h1h1h1h1h1V-14h1V0h1h1h1h1h1h1h1h1h1h1h1h1h1h1h1h1h1h1h1h1h1h1h1h1h1h1h1h1h1h1h1h1h1V-8h1V0h1h1h1h1h1h1h1h1h1h1h1h1h1h1h1h1h1h1h1h1h1h1h1h1h1h1h1h1h1h1h1h1h1h1h1h1h1h1h1h1h1h1h1h1h1h1h1h1h1h1h1h1h1h1h1h1h1h1h1h1h1h1h1h1h1h1h1h1h1h1h1h1h1h1h1V-18h1V0h1h1h1h1h1h1h1h1h1h1h1h1h1h1h1h1h1h1h1h1h1h1h1h1h1h1h1h1h1h1h1h1h1h1h1h1h1h1h1h1h1h1h1h1h1h1h1h1h1h1h1h1V-19h1V0h1h1h1h1h1h1h1h1h1h1h1h1h1h1h1h1V-12h1V0Z" fill="#75757f" transform="translate(42.90,633.20) scale(0.6,0.1)"/>
<line x1="42.90" y1="633.40" x2="271.20" y2="633.40" stroke="#b37d44" stroke-width="0.6"/>
<text x="279.00" y="629.70" font-size="9.44" fill="#1f1f1f" stroke="#1f1f1f" stroke-width="0.08" textLength="53.50" lengthAdjust="spacingAndGlyphs">Dox (d 7) wo</text>
<path d="M38.6,636.1h2.2V647.6h-2.2" fill="none" stroke="#555" stroke-width="0.7"/>
<text x="35.40" y="640.30" font-size="7.4" text-anchor="end" fill="#2a2a2a" stroke="#2a2a2a" stroke-width="0.08" textLength="7.20" lengthAdjust="spacingAndGlyphs">15</text>
<text x="35.40" y="647.20" font-size="7.4" text-anchor="end" fill="#2a2a2a" stroke="#2a2a2a" stroke-width="0.08">0</text>
<path d="M0,0V-69h1V-110h1V-26h1V-52h1V-49h1V-19h1V-32h1V-25h1V-30h1V-14h1V-57h1V-31h1V-15h1V-36h1V-7h1V-35h1V-16h1V-17h1V-11h1V-19h1V-15h1V-13h1V-35h1V-30h1V-20h1V-58h1V-63h1V-57h1V-29h1V-14h1V-107h1V-31h1V-24h1V-39h1V-41h1V-5h1V-49h1V-10h1V-21h1V-3h1V-7h1V-19h1V-24h1h1V-74h1V-17h1V-69h1V-52h1V-85h1V-72h1V-20h1V-37h1V-28h1V-27h1V-66h1V-27h1V-39h1V-8h1V-16h1V-19h1V-16h1V-25h1V-23h1V-30h1V-51h1V-7h1V-27h1V-36h1V-21h1V-29h1V-23h1V-24h1V-48h1V-29h1V-49h1V-8h1V-39h1V-79h1V-26h1V-49h1V-29h1V-24h1V-54h1V-20h1V-13h1V-72h1V-71h1V-20h1V-92h1V-16h1V-15h1V-10h1V-48h1V-57h1V-15h1V-44h1V-21h1V-42h1V-84h1V-3h1V-35h1V-65h1V-84h1V-46h1V-72h1V-30h1V-33h1V-21h1V-107h1V-17h1V-83h1V-37h1V-26h1V-27h1V-19h1V-36h1V-55h1V-65h1V-15h1V-26h1V-28h1V-30h1V-50h1V-61h1V-48h1V-55h1V-14h1V-10h1V-95h1V-41h1V-36h1V-29h1V-72h1V-97h1V-110h1V-19h1V-51h1V-93h1V-38h1V-49h1V-41h1V-50h1V-72h1V-56h1V-2h1V-110h1V-27h1V-64h1V-45h1V-110h1V-21h1V-32h1V-57h1V-108h1V-35h1V-37h1V-36h1V-5h1V-23h1V-20h1V-57h1V-29h1V-63h1V-20h1V-37h1V-12h1V-55h1V-71h1V-42h1V-28h1V-56h1V-19h1V-13h1V-32h1V-15h1h1V-23h1V-12h1V-32h1V-39h1V-26h1V-14h1V-41h1V-25h1V-16h1V-67h1V-18h1V-12h1V-33h1V-41h1V-17h1V-25h1V-41h1h1V-19h1V-59h1V-88h1V-26h1V-85h1V-92h1V-71h1V-49h1V-51h1V-29h1V-50h1V-18h1V-28h1V-50h1V-110h1V-54h1V-7h1V-13h1V-39h1V-51h1V-55h1V-26h1V-20h1V-35h1V-15h1V-3h1V-53h1V-44h1V-42h1V-15h1V-50h1V-14h1V-36h1V-29h1V-25h1V-32h1V-5h1V-12h1V-11h1V-32h1V-10h1V-42h1V-88h1V-25h1V-20h1V-70h1V-31h1V-24h1V-26h1V-59h1V-46h1V-59h1V-32h1V-26h1V-19h1V-78h1V-82h1V-47h1V-74h1V-49h1V-24h1V-48h1V-21h1V-36h1V-26h1V-62h1V-8h1V-36h1h1V-20h1V-28h1V-92h1V-16h1V-39h1V-11h1V-49h1V-31h1V-70h1V-110h1V-87h1V-46h1V-39h1V-110h1V-99h1V-72h1V-110h1V-69h1V-49h1V-64h1V-40h1V-33h1V-20h1V-74h1V-54h1V-35h1V-8h1V-74h1V-22h1h1V-55h1V-42h1V-24h1V-23h1V-70h1V-110h1V0h1h1h1h1h1h1h1h1h1h1V-33h1V-65h1V-110h1V-62h1V-42h1h1V-96h1V-25h1V-83h1V-30h1V-56h1V-64h1V-51h1V-59h1V-110h1V-67h1V-91h1V-63h1V-19h1V-54h1V-38h1V-70h1V-50h1V-110h1V-59h1V-97h1V-37h1V-11h1V-23h1V-11h1V-16h1V-83h1V-49h1V-108h1V-87h1V-21h1V-110h1V-97h1V-110h1h1h1V-81h1V-83h1V-90h1V-83h1V-24h1V-55h1V-36h1V-41h1h1V-14h1V-47h1V-71h1V-34h1V-33h1V-15h1V-58h1V-17h1V-31h1V-36h1V-34h1V-65h1V-10h1V-67h1V-16h1V-47h1V-38h1V-56h1V-10h1V-75h1V-55h1V0Z" fill="#f8c48a" transform="translate(42.90,647.60) scale(0.6,0.1)"/>
<path d="M0,0V-21h1V-13h1V-16h1V-12h1V-17h1V-18h1V-21h1V-22h1V-11h1V-13h1V-20h1V-21h1V-15h1V-17h1V-7h1V-12h1V-16h1V-17h1V-11h1V-12h1V-15h1V-13h1V-16h1V-23h1V-14h1V-17h1V-24h1V-19h1V-18h1V-14h1V-19h1V-21h1V-22h1V-16h1h1V-5h1V-13h1V-10h1V-18h1V-3h1V-7h1V-12h1V-18h1V-19h1V-13h1V-14h1V-24h1V-16h1V-22h1V-12h1V-15h1V-13h1V-18h1V-24h1V-21h1V-12h1V-20h1V-8h1V-16h1V-19h1V-16h1V-20h1V-15h1V-14h1V-18h1V-7h1V-16h1V-18h1V-21h1V-11h1V-21h1V-23h1V-24h1V-18h1V-22h1V-8h1V-23h1V-20h1V-11h1V-16h1V-23h1V-21h1V-22h1V-19h1V-13h1V-17h1V-12h1V-20h1V-17h1V-12h1V-15h1V-10h1V-17h1V-21h1V-15h1V-21h1V-19h1V-16h1V-22h1V-3h1V-17h1V-21h1V-24h1V-18h1V-22h1V-24h1V-18h1V-19h1V-14h1V-17h1h1V-15h1V-23h1V-17h1V-18h1V-19h1V-16h1V-22h1V-15h1V-23h1V-15h1V-17h1h1V-23h1V-22h1V-21h1V-14h1V-10h1V-12h1V-24h1V-17h1V-13h1V-19h1V-21h1V-17h1h1V-14h1V-13h1V-16h1V-17h1V-18h1V-14h1V-17h1V-14h1V-2h1V-14h1V-19h1h1V-13h1V-17h1V-21h1V-15h1V-24h1V-19h1V-24h1V-19h1V-23h1V-5h1V-14h1V-20h1V-15h1V-19h1V-14h1h1V-17h1V-12h1V-24h1V-22h1V-17h1V-20h1V-14h1V-16h1V-13h1V-20h1V-15h1V-12h1V-17h1V-12h1V-14h1V-30h1V-23h1V-14h1V-21h1V-25h1V-15h1V-22h1V-18h1V-12h1V-32h1V-17h1h1V-25h1V-18h1V-25h1V-18h1V-17h1V-23h1V-26h1V-20h1V-31h1V-23h1V-27h1h1V-29h1V-31h1V-18h1V-21h1V-26h1V-31h1V-18h1V-7h1V-13h1V-22h1V-17h1V-29h1V-21h1V-20h1V-27h1V-15h1V-3h1V-19h1V-30h1V-19h1V-15h1V-16h1V-14h1V-21h1V-29h1V-25h1V-32h1V-5h1V-12h1V-11h1V-20h1V-10h1V-26h1V-19h1V-25h1V-20h1V-31h1V-21h1V-18h1V-26h1V-17h1V-15h1V-22h1V-32h1V-24h1V-19h1V-27h1V-30h1V-24h1V-22h1V-25h1V-17h1V-20h1V-21h1V-26h1h1V-25h1V-8h1V-22h1V-15h1h1V-28h1V-26h1V-16h1V-22h1V-11h1V-22h1V-31h1V-18h1V-15h1V-24h1V-26h1V-30h1V-22h1V-30h1V-25h1V-18h1V-15h1V-17h1V-15h1V-16h1V-30h1V-20h1V-22h1V-24h1V-29h1V-8h1V-24h1V-17h1V-21h1h1V-26h1V-20h1V-23h1V-20h1V-16h1V0h1h1h1h1h1h1h1h1h1h1V-28h1V-21h1V-25h1V-20h1V-16h1V-15h1V-14h1V-25h1V-14h1V-27h1V-15h1V-17h1V-23h1V-19h1h1V-15h1V-19h1V-24h1V-19h1V-16h1V-25h1V-27h1V-30h1V-27h1V-29h1V-27h1V-29h1V-11h1V-23h1V-11h1V-16h1V-17h1V-26h1V-15h1V-16h1V-21h1V-17h1V-27h1V-20h1V-15h1V-22h1V-26h1V-28h1V-21h1V-24h1V-21h1V-30h1V-17h1V-28h1V-16h1V-14h1V-21h1V-28h1V-19h1V-16h1V-15h1V-29h1V-17h1V-21h1V-18h1h1V-26h1V-10h1V-30h1V-16h1V-17h1V-23h1V-17h1V-10h1V-24h1V-22h1V0Z" fill="#b37d44" transform="translate(42.90,647.60) scale(0.6,0.1)"/>
<path d="M0,0h1h1V-13h1V0h1h1V-14h1V0h1h1h1h1h1h1h1h1h1h1h1h1h1h1h1h1h1h1h1h1h1h1h1h1h1h1h1h1h1h1h1h1h1h1h1h1h1h1h1h1h1h1h1h1h1h1h1h1h1h1h1h1h1h1h1h1h1V-10h1V-12h1V0h1h1h1h1h1h1h1h1h1h1h1h1h1h1h1h1V-18h1V0h1h1h1h1h1h1h1h1h1h1h1h1h1h1h1h1h1h1h1h1h1h1h1h1h1h1h1h1h1h1h1h1h1h1h1h1h1V-15h1V0h1h1h1h1h1h1h1V-10h1V0h1h1h1h1h1h1h1h1h1h1h1h1h1h1h1h1h1h1h1h1h1h1h1h1h1h1h1h1h1h1h1h1h1V-12h1V0h1h1h1h1h1h1h1h1h1h1h1h1h1h1h1h1V-10h1V0h1V-12h1V-10h1V-18h1V0h1h1h1h1V-9h1V0h1h1h1V-20h1V0h1h1h1h1h1h1h1V-23h1V0h1h1h1h1h1h1h1h1h1h1h1h1h1h1V-23h1V0h1h1h1V-13h1V0h1h1h1h1h1V-13h1V-7h1V0h1h1h1h1h1h1h1h1h1h1h1h1h1h1h1h1h1h1h1V-14h1V0h1h1h1h1h1V-23h1V0h1h1h1h1h1h1h1h1V-6h1V0h1h1h1h1h1h1h1h1h1h1V-17h1V0h1h1h1h1h1h1h1h1h1h1h1h1h1h1h1h1h1h1h1h1h1V-12h1V0h1h1h1h1h1h1h1h1h1h1h1h1h1h1h1h1V-17h1V0h1h1h1h1V-9h1V0h1h1h1h1h1h1h1h1h1h1h1V-13h1V-12h1V0h1h1h1h1h1V-20h1V0h1h1h1h1h1h1h1h1h1h1h1h1h1h1h1h1V-20h1V0h1h1h1h1h1h1V-13h1V0h1h1h1h1h1h1h1h1h1h1h1h1h1h1h1h1h1h1h1h1h1V0Z" fill="#75757f" transform="translate(42.90,647.60) scale(0.6,0.1)"/>
<line x1="42.90" y1="647.80" x2="271.20" y2="647.80" stroke="#b37d44" stroke-width="0.6"/>
<text x="279.00" y="644.30" font-size="9.06" fill="#1f1f1f" stroke="#1f1f1f" stroke-width="0.08" textLength="42.30" lengthAdjust="spacingAndGlyphs">Dox (d 21)</text>
<path d="M38.6,649.5h2.2V661.0h-2.2" fill="none" stroke="#555" stroke-width="0.7"/>
<text x="35.40" y="653.70" font-size="7.4" text-anchor="end" fill="#2a2a2a" stroke="#2a2a2a" stroke-width="0.08" textLength="7.20" lengthAdjust="spacingAndGlyphs">15</text>
<text x="35.40" y="660.60" font-size="7.4" text-anchor="end" fill="#2a2a2a" stroke="#2a2a2a" stroke-width="0.08">0</text>
<path d="M0,0V-22h1V-41h1V-9h1V-16h1V-30h1V-47h1V-34h1V-74h1V-37h1V-50h1V-42h1V-110h1V-8h1V-45h1V-11h1h1V-26h1V-2h1V-3h1V-32h1V-13h1V-19h1V-3h1V-24h1V-11h1h1V-27h1V-46h1V-18h1V-26h1V-13h1V-77h1V-18h1V-16h1V-8h1V-15h1V-23h1V-4h1V-17h1V-25h1V-16h1V-22h1V-5h1V-45h1V-5h1V-23h1V-30h1V-32h1V-16h1V-11h1V-37h1V-11h1V-8h1V-19h1V-12h1V-33h1V-2h1V-13h1V-42h1V-12h1V-8h1V-12h1V-11h1h1V-3h1V-21h1h1V-12h1V-14h1V-5h1V-7h1V-32h1V-14h1V-9h1V-14h1V-3h1V-6h1V-7h1V-6h1V-18h1V-14h1V-15h1V-3h1V-6h1V-9h1V-14h1V-11h1V-9h1V-6h1V-3h1V-14h1V-13h1V-11h1V-6h1V-10h1V-32h1V-5h1V-20h1V-17h1h1V-29h1V-30h1V-22h1V-12h1V-20h1V-8h1h1V-39h1V-27h1V-5h1V-52h1V-2h1V-30h1V-8h1V-7h1V-9h1V-10h1V-22h1V-33h1V-8h1V-14h1V-39h1V-29h1V-20h1V-13h1V-11h1h1V-21h1V-20h1V-8h1V-15h1V-4h1V-7h1V-14h1V-18h1V-10h1V-5h1V-6h1V-5h1V-21h1V-10h1V-17h1V-9h1V-11h1V-19h1V-15h1V-26h1V-12h1V-39h1V-11h1V-32h1V-12h1V-24h1V-11h1V-14h1V-10h1V-9h1V-6h1V-8h1V-9h1V-11h1V-14h1V-7h1V-30h1V-44h1V-19h1V-24h1V-14h1V-16h1V-10h1V-16h1V-22h1V-16h1h1V-11h1V-26h1V-39h1V-14h1V-2h1V-12h1V-19h1V-22h1V-25h1V-39h1V-9h1V-4h1V-10h1V-9h1V-26h1V-25h1V-28h1V-18h1V-10h1V-21h1V-17h1V-10h1V-9h1V-4h1V-12h1h1V-30h1V-7h1V-31h1V-34h1V-9h1V-16h1V-25h1V-33h1V-45h1V-29h1V-26h1V-21h1V-41h1V-29h1V-21h1V-14h1V-5h1V-17h1V-13h1V-30h1V-25h1V-14h1V-16h1V-34h1V-14h1V-15h1V-11h1V-26h1V-22h1V-16h1V-27h1V-20h1V-11h1h1V-19h1V-11h1V-29h1V-5h1V-11h1V-8h1V-10h1V-5h1V-8h1V-6h1V-10h1V-21h1V-14h1V-12h1V-15h1V-47h1V-14h1V-29h1V-6h1V-59h1V-30h1V-31h1V-22h1h1V-25h1V-11h1V-43h1V-27h1V-15h1V-8h1V-10h1V-13h1V-19h1V-22h1V-21h1V-17h1h1V-5h1V-12h1V-3h1V-56h1V-23h1V-12h1h1V-20h1V-15h1V-10h1V-22h1V-9h1V-25h1V-27h1V-10h1h1V-18h1V-22h1V-28h1V-27h1V-26h1V-22h1V-14h1V-8h1V-43h1V-16h1V-17h1V-28h1V0h1h1h1h1h1h1h1h1h1h1V-10h1h1V-6h1V-13h1V-11h1V-4h1V-6h1V-20h1V-12h1V-23h1V-30h1V-22h1V-3h1V-27h1h1V-15h1V-8h1V-6h1V-9h1V-7h1V-21h1V-41h1V-16h1V-14h1V-4h1h1h1V-6h1V-2h1V-17h1V-21h1V-23h1V-12h1V-17h1V-4h1V-3h1V-4h1V-31h1V-18h1V-8h1V-59h1V-13h1V-44h1V-17h1V-7h1h1V-24h1V-10h1V-37h1V-29h1V-9h1V-15h1V-31h1V-8h1V-12h1V-11h1V-14h1V-10h1V-26h1V-28h1V-38h1V-18h1V-12h1V-26h1V-11h1V-19h1V-8h1V-16h1V-12h1h1V-24h1V0Z" fill="#f8c48a" transform="translate(42.90,661.00) scale(0.6,0.1)"/>
<path d="M0,0V-22h1V-29h1V-9h1V-16h1V-22h1V-28h1V-27h1V-28h1V-31h1V-24h1V-31h1V-33h1V-7h1V-10h1V-6h1V-7h1V-9h1V-2h1V-3h1V-9h1h1V-7h1V-3h1V-8h1h1V-7h1V-6h1V-5h1V-7h1V-10h1V-8h1V-9h1V-7h1V-10h1V-6h1V-8h1V-5h1V-4h1V-8h1V-11h1V-10h1h1V-5h1V-9h1V-5h1V-9h1V-6h1V-9h1h1V-10h1V-8h1V-7h1V-8h1h1V-9h1V-11h1V-2h1V-9h1V-6h1h1V-8h1h1V-9h1h1V-3h1V-6h1h1V-7h1V-11h1V-5h1V-6h1h1V-8h1V-5h1V-7h1V-3h1V-6h1V-7h1V-6h1V-7h1V-8h1h1V-3h1V-6h1V-9h1V-8h1V-7h1V-9h1V-6h1V-3h1V-10h1V-5h1V-7h1V-6h1h1h1V-5h1V-7h1V-11h1V-9h1V-7h1V-10h1V-6h1V-7h1V-5h1V-8h1V-6h1h1V-10h1V-5h1V-9h1V-2h1V-11h1V-8h1V-7h1V-8h1V-7h1V-11h1h1V-7h1V-10h1V-8h1V-10h1V-7h1V-8h1V-9h1V-10h1V-11h1V-7h1V-6h1h1V-4h1V-7h1h1V-10h1h1V-5h1V-6h1V-5h1V-10h1V-6h1V-9h1V-7h1V-9h1V-8h1V-6h1V-10h1V-9h1V-6h1h1V-9h1h1V-5h1V-10h1V-6h1V-7h1V-8h1V-6h1h1V-9h1V-5h1V-6h1V-7h1V-6h1V-7h1V-11h1V-7h1h1V-8h1V-7h1V-8h1V-9h1V-7h1V-9h1V-10h1V-8h1V-6h1V-11h1V-2h1V-6h1h1V-7h1h1h1V-5h1V-4h1V-8h1V-6h1V-8h1V-10h1V-7h1V-8h1V-7h1V-10h1V-6h1V-8h1V-5h1V-4h1V-5h1V-6h1h1V-7h1V-6h1V-10h1V-9h1V-10h1h1V-8h1V-10h1h1V-8h1h1V-6h1V-5h1V-9h1h1V-5h1V-11h1V-10h1V-8h1V-9h1V-10h1V-7h1V-10h1V-11h1h1V-6h1h1V-7h1V-5h1V-7h1V-5h1V-9h1V-6h1V-7h1h1V-9h1V-5h1V-6h1V-8h1V-10h1V-5h1V-8h1V-6h1V-10h1V-5h1V-7h1V-6h1V-8h1V-9h1V-7h1h1V-6h1V-7h1V-6h1V-7h1V-6h1V-9h1V-7h1V-8h1V-5h1V-8h1h1V-7h1V-9h1V-10h1V-5h1V-9h1V-6h1V-9h1V-6h1V-5h1V-10h1V-3h1V-7h1V-10h1V-6h1V-9h1V-7h1V-11h1V-5h1V-6h1h1V-11h1V-7h1V-10h1V-8h1h1V-9h1h1V-7h1V-11h1V-6h1V-7h1V-8h1h1V-9h1V-6h1V-11h1V0h1h1h1h1h1h1h1h1h1h1V-5h1V-6h1h1h1h1V-4h1V-6h1V-9h1V-6h1h1V-10h1V-7h1V-3h1V-9h1V-6h1V-5h1V-8h1V-6h1V-8h1V-7h1V-11h1V-9h1h1V-5h1V-4h1h1h1V-6h1V-2h1V-5h1V-8h1h1V-9h1V-11h1V-4h1V-3h1V-4h1V-7h1V-6h1V-8h1V-7h1h1h1h1h1h1V-11h1V-9h1V-10h1V-8h1V-6h1V-10h1V-9h1V-7h1V-9h1V-11h1V-6h1V-9h1h1V-5h1V-8h1V-7h1h1h1V-9h1V-10h1V-8h1V-7h1V-9h1V-11h1V-10h1V0Z" fill="#b37d44" transform="translate(42.90,661.00) scale(0.6,0.1)"/>
<path d="M0,0h1h1h1h1h1h1h1h1h1h1h1h1h1h1h1h1V-9h1V0h1h1h1V-7h1V0h1h1h1h1h1h1h1h1h1h1h1h1h1h1h1h1h1h1h1h1h1h1h1h1h1h1h1h1V-6h1V0h1h1h1h1h1h1h1h1V-4h1V0h1h1h1h1h1h1h1h1h1h1h1h1h1h1V-3h1V0h1h1h1h1h1h1h1h1h1V-6h1V0h1V-7h1V0h1h1V-3h1V0h1h1h1h1h1h1h1h1h1V-9h1V0h1h1h1h1h1h1h1h1h1h1h1h1h1h1h1h1h1h1h1h1h1h1h1h1h1h1V-6h1V0h1h1h1h1h1h1h1h1h1h1h1h1h1h1h1h1h1h1h1h1h1h1h1h1V-7h1V0h1V-3h1V-8h1V0h1h1h1h1h1h1h1h1h1h1h1h1h1h1V-7h1V0h1h1h1h1V-9h1V0h1h1h1h1h1h1h1h1h1h1h1h1h1h1V-4h1V0h1h1h1h1V-9h1V0h1h1h1h1h1h1h1h1h1h1h1h1h1h1h1h1h1h1h1h1h1h1h1h1h1h1h1h1h1h1h1V-11h1V0h1V-5h1h1V0h1h1h1h1h1V-6h1V0h1h1h1h1h1h1h1h1h1h1h1h1h1h1h1h1h1h1V-5h1V0h1h1h1V-6h1V0h1V-8h1V0h1h1h1h1h1h1h1h1h1h1h1h1V-9h1V0h1h1h1h1h1h1h1h1h1h1h1h1h1h1h1h1h1h1h1h1h1h1h1h1h1h1h1h1h1h1h1h1h1h1h1h1h1h1V-3h1V0h1h1h1h1h1h1h1h1h1h1h1h1h1h1h1h1h1h1h1h1h1V-4h1V-3h1V0h1h1h1h1h1h1h1h1h1h1h1h1h1h1h1h1V-7h1V0h1h1h1h1h1h1h1h1h1h1h1h1h1h1h1h1h1h1h1h1h1h1h1h1h1h1h1h1V0Z" fill="#75757f" transform="translate(42.90,661.00) scale(0.6,0.1)"/>
<line x1="42.90" y1="661.20" x2="271.20" y2="661.20" stroke="#b37d44" stroke-width="0.6"/>
<text x="279.00" y="658.80" font-size="9.3" fill="#1f1f1f" stroke="#1f1f1f" stroke-width="0.08" textLength="57.90" lengthAdjust="spacingAndGlyphs">Dox (d 21) wo</text>
<path d="M38.6,671.5h2.2V683.5h-2.2" fill="none" stroke="#555" stroke-width="0.7"/>
<text x="35.40" y="675.70" font-size="7.4" text-anchor="end" fill="#2a2a2a" stroke="#2a2a2a" stroke-width="0.08" textLength="8.60" lengthAdjust="spacingAndGlyphs">45</text>
<text x="35.40" y="683.10" font-size="7.4" text-anchor="end" fill="#2a2a2a" stroke="#2a2a2a" stroke-width="0.08">0</text>
<path d="M0,0V-34h1V-37h1h1V-64h1V-60h1V-33h1V-49h1V-43h1V-35h1V-29h1V-23h1V-38h1V-53h1V-50h1V-1h1V-2h1h1h1V-1h1V-2h1V-1h1V-2h1V-3h1V-2h1V-3h1V-2h1h1V-3h1V-2h1h1V-3h1V-2h1V-1h1h1h1V-2h1h1h1h1h1V-1h1h1h1V-2h1h1h1h1V-1h1h1h1h1h1h1V-2h1h1h1h1h1V-1h1V-2h1V-1h1V-2h1V-1h1V-2h1h1h1h1V-3h1V-1h1V-3h1V-2h1h1V-1h1h1h1V-2h1h1h1h1h1V-1h1V-2h1h1V-3h1V-2h1h1h1V-3h1V-2h1V-1h1V-2h1V-1h1V-2h1V-1h1h1h1h1V-2h1h1h1V-1h1h1V-3h1V-2h1h1h1V-1h1V-2h1h1V-12h1V-14h1V-12h1V-10h1V-11h1V-15h1V-9h1V-15h1h1V-13h1V-9h1V-12h1V-8h1V-2h1h1V-1h1V-2h1h1V-3h1V-2h1V-1h1V-2h1h1V-1h1V-2h1V-1h1V-2h1V-1h1h1h1h1h1V-2h1h1h1h1V-1h1h1V-2h1h1h1h1h1V-3h1V-2h1h1h1V-1h1V-2h1V-1h1V-3h1V-1h1V-2h1h1V-3h1h1V-2h1h1h1h1V-3h1V-2h1h1h1V-1h1V-2h1h1h1h1V-3h1V-2h1h1h1V-1h1V-2h1h1V-1h1V-2h1h1V-1h1V-10h1V-11h1V-10h1h1V-7h1V-8h1V-7h1V-6h1V-8h1V-10h1V-12h1V-10h1V-4h1V-5h1V-3h1V-4h1V-5h1h1V-4h1h1V-5h1h1h1V-3h1V-4h1V-5h1h1V-4h1V-5h1V-3h1h1V-2h1V-3h1h1V-4h1V-2h1V-3h1h1V-4h1V-2h1V-3h1V-4h1V-3h1h1h1V-4h1V-3h1V-5h1h1V-4h1h1V-3h1h1h1V-2h1V-3h1V-2h1V-3h1h1V-4h1V-3h1h1V-2h1V-3h1V-2h1V-3h1V-2h1h1h1V-1h1V-2h1h1h1h1V-3h1h1h1V-2h1h1h1h1h1V-1h1h1h1V-2h1h1V-1h1h1h1h1V-3h1h1V-2h1h1h1V-4h1V-3h1h1V-2h1h1h1V-3h1V-4h1V-2h1V-4h1V-3h1V-5h1V-4h1V-3h1V0h1h1h1h1h1h1h1h1h1h1V-4h1V-1h1V-2h1V-3h1V-4h1V-3h1V-4h1h1h1V-2h1h1h1h1h1h1V-1h1V-2h1V-3h1V-2h1V-1h1h1V-2h1h1h1V-1h1V-2h1h1V-1h1V-3h1h1V-2h1h1h1h1V-1h1h1V-2h1V-3h1h1h1h1V-4h1V-3h1V-4h1h1V-5h1V-4h1h1h1h1V-3h1V-6h1V-4h1V-5h1V-4h1V-5h1V-3h1h1h1V-2h1h1h1h1V-23h1V-20h1V-35h1V-41h1V-45h1V-36h1V-34h1V-27h1V0Z" fill="#ee9ca0" transform="translate(42.90,683.50) scale(0.6,0.1)"/>
<path d="M0,0V-29h1V-35h1V-30h1V-52h1V-54h1V-28h1V-46h1V-38h1V-28h1V-25h1V-20h1V-30h1V-48h1V-39h1V-1h1V-2h1V-1h1V-2h1V-1h1V-2h1V-1h1V-2h1h1V-1h1V-3h1V-2h1h1h1V-1h1V-2h1h1h1V-1h1h1h1V-2h1h1h1h1V-1h1h1h1h1h1h1V-2h1h1V-1h1h1h1h1h1h1h1h1V-2h1V-1h1V-2h1V-1h1h1h1V-2h1V-1h1h1h1V-2h1h1h1V-1h1V-2h1h1h1V-1h1h1h1h1V-2h1h1V-1h1V-2h1V-1h1V-2h1V-1h1V-2h1h1V-1h1V-2h1h1h1V-1h1V-2h1V-1h1V-2h1V-1h1h1h1h1h1V-2h1V-1h1h1h1V-2h1h1h1h1V-1h1h1V-2h1V-10h1V-13h1V-10h1V-8h1V-10h1V-14h1V-7h1V-14h1h1V-12h1V-8h1V-11h1V-6h1V-2h1h1V-1h1V-2h1V-1h1V-2h1h1V-1h1h1h1h1h1h1h1h1h1h1h1h1h1V-2h1h1h1V-1h1h1V-2h1h1h1h1h1h1h1V-1h1V-2h1V-1h1V-2h1V-1h1V-2h1V-1h1V-2h1h1h1h1h1V-1h1V-2h1h1h1V-1h1V-2h1h1V-1h1V-2h1h1h1V-1h1V-2h1h1V-1h1h1h1h1h1h1h1V-2h1V-1h1V-8h1V-10h1V-8h1V-7h1V-6h1V-7h1V-6h1h1V-8h1V-10h1V-11h1V-8h1V-3h1V-4h1V-2h1V-4h1h1h1h1V-3h1V-5h1h1h1V-2h1V-3h1V-4h1h1h1h1V-2h1V-3h1V-1h1V-3h1V-2h1V-3h1V-2h1V-3h1h1h1V-2h1h1V-3h1V-2h1h1V-3h1h1h1V-4h1h1h1h1V-3h1V-2h1h1h1h1h1V-3h1h1h1h1h1V-2h1V-3h1V-2h1V-3h1V-2h1h1V-1h1h1V-2h1V-1h1V-2h1h1h1h1V-3h1V-2h1h1h1V-1h1h1h1h1h1h1h1h1h1h1h1V-2h1h1h1h1h1V-3h1V-2h1V-3h1V-2h1h1h1V-3h1h1V-2h1V-3h1V-2h1V-5h1V-3h1V-2h1V0h1h1h1h1h1h1h1h1h1h1V-3h1V-1h1h1V-3h1h1V-2h1V-4h1V-3h1h1V-2h1V-1h1V-2h1V-1h1h1h1h1V-2h1h1h1V-1h1h1h1V-2h1h1V-1h1h1V-2h1V-1h1V-3h1V-2h1h1h1V-1h1V-2h1V-1h1h1V-2h1h1V-3h1h1h1h1h1h1h1V-5h1V-3h1h1V-4h1h1V-3h1V-6h1V-4h1h1h1h1V-2h1V-3h1V-2h1V-1h1V-2h1h1h1V-21h1V-15h1V-33h1V-37h1V-41h1V-28h1V-26h1V-24h1V0Z" fill="#e36f77" transform="translate(42.90,683.50) scale(0.6,0.1)"/>
<line x1="42.90" y1="683.70" x2="271.20" y2="683.70" stroke="#e36f77" stroke-width="0.6"/>
<text x="279.00" y="682.90" font-size="10.2" fill="#1f1f1f" stroke="#1f1f1f" stroke-width="0.08" textLength="32.90" lengthAdjust="spacingAndGlyphs">Control</text>
<path d="M38.6,686.0h2.2V698.0h-2.2" fill="none" stroke="#555" stroke-width="0.7"/>
<text x="35.40" y="690.20" font-size="7.4" text-anchor="end" fill="#2a2a2a" stroke="#2a2a2a" stroke-width="0.08" textLength="8.60" lengthAdjust="spacingAndGlyphs">45</text>
<text x="35.40" y="697.60" font-size="7.4" text-anchor="end" fill="#2a2a2a" stroke="#2a2a2a" stroke-width="0.08">0</text>
<path d="M0,0V-31h1V-20h1V-16h1V-18h1V-34h1V-24h1V-27h1V-23h1V-35h1V-36h1V-45h1V-34h1V-35h1V-45h1V-37h1V-27h1V-46h1V-26h1V-34h1V-35h1V-26h1V-41h1V-26h1V-15h1V-26h1V-42h1V-47h1V-32h1V-37h1V-43h1V-45h1V-19h1V-16h1V-20h1V-16h1V-28h1V-49h1V-38h1V-45h1V-61h1V-40h1V-29h1V-50h1V-37h1V-39h1V-27h1V-51h1V-69h1V-48h1V-54h1V-43h1V-47h1V-53h1V-46h1V-40h1V-48h1V-38h1V-48h1V-43h1V-36h1V-43h1V-48h1V-53h1V-73h1V-46h1V-45h1V-37h1V-48h1V-41h1V-36h1V-50h1V-53h1V-46h1V-45h1V-46h1V-22h1V-36h1V-27h1V-34h1V-46h1V-45h1V-41h1V-67h1V-70h1V-38h1V-45h1V-48h1V-59h1V-53h1V-58h1V-31h1V-27h1V-33h1V-40h1h1V-37h1V-40h1V-56h1V-63h1V-64h1V-47h1V-35h1V-115h1V-70h1V-89h1V-88h1h1V-50h1V-57h1V-80h1V-78h1V-89h1V-82h1V-67h1V-45h1V-65h1V-44h1V-47h1V-56h1V-43h1V-38h1V-55h1V-73h1V-50h1V-47h1V-56h1V-55h1V-28h1V-26h1V-27h1V-23h1V-30h1V-33h1V-24h1V-28h1V-46h1V-26h1V-24h1V-30h1V-26h1V-49h1V-37h1V-47h1V-52h1V-42h1V-53h1V-41h1V-44h1V-61h1V-59h1V-39h1V-35h1V-43h1V-23h1V-16h1V-15h1V-13h1V-14h1V-16h1h1h1V-11h1V-16h1V-11h1V-10h1V-13h1V-21h1V-13h1V-22h1V-18h1V-13h1V-17h1V-19h1V-18h1V-17h1V-13h1V-23h1V-22h1V-28h1V-24h1V-16h1h1V-31h1V-20h1V-28h1V-27h1V-29h1V-35h1V-26h1V-85h1V-89h1V-62h1V-84h1V-89h1V-115h1V-64h1V-50h1V-55h1V-76h1V-77h1V-78h1V-65h1V-50h1V-60h1V-51h1V-61h1V-44h1V-71h1V-47h1V-51h1V-61h1V-58h1V-33h1V-34h1V-45h1V-16h1V-17h1V-28h1V-39h1V-38h1V-23h1V-27h1V-31h1V-29h1V-39h1V-28h1V-31h1V-28h1V-38h1V-27h1V-58h1V-40h1V-50h1V-59h1V-50h1V-43h1V-54h1V-34h1h1V-33h1V-63h1h1V-51h1V-35h1V-70h1V-39h1h1V-53h1V-66h1V-45h1V-74h1V-59h1V-55h1V-60h1V-54h1V-39h1V-50h1V-72h1V-76h1V-60h1V-95h1V-67h1V-45h1V-58h1V-40h1V-48h1V-43h1V-38h1V-28h1V-35h1V-36h1V-18h1V-23h1V-24h1h1V-48h1V-30h1V-42h1V-46h1V-68h1V-56h1V-47h1V-79h1V-55h1V-34h1V-27h1V-23h1h1V-33h1V-26h1V-18h1V-36h1V-42h1V-25h1V-15h1V-17h1V-22h1V-32h1V-36h1V0h1h1h1h1h1h1h1h1h1h1V-35h1V-52h1V-56h1V-77h1V-67h1V-54h1V-44h1V-60h1V-50h1V-73h1V-75h1V-76h1V-65h1V-60h1V-53h1V-74h1V-49h1V-57h1V-46h1V-55h1V-56h1V-79h1V-47h1V-80h1V-61h1V-90h1V-46h1V-51h1V-65h1V-39h1V-46h1V-31h1V-23h1V-41h1V-39h1V-31h1V-50h1V-30h1V-60h1h1V-34h1V-66h1V-41h1V-31h1V-55h1V-32h1V-61h1V-48h1V-43h1V-46h1V-53h1V-40h1V-25h1V-17h1V-32h1V-50h1V-42h1V-60h1V-69h1V-83h1V-62h1V-59h1V-88h1V-86h1V-50h1V-74h1V-36h1V-40h1V-39h1V-65h1V-44h1V0Z" fill="#ee9ca0" transform="translate(42.90,698.00) scale(0.6,0.1)"/>
<path d="M0,0V-24h1V-19h1V-12h1V-17h1V-27h1V-20h1V-22h1V-18h1V-33h1V-31h1V-38h1V-32h1h1V-39h1V-29h1V-26h1V-41h1V-24h1V-29h1V-32h1V-24h1V-36h1V-20h1V-12h1V-24h1V-40h1V-44h1V-30h1V-34h1V-39h1V-41h1V-18h1V-13h1V-19h1V-15h1V-25h1V-39h1V-34h1V-37h1V-51h1V-34h1V-23h1V-43h1V-33h1V-35h1V-24h1V-42h1V-53h1V-43h1V-42h1V-38h1V-44h1V-42h1V-40h1V-34h1V-42h1V-31h1V-37h1V-34h1V-30h1V-39h1h1V-47h1V-65h1V-41h1V-37h1V-30h1V-39h1V-34h1V-33h1V-43h1V-50h1V-40h1V-38h1V-39h1V-18h1V-31h1V-21h1V-26h1V-42h1V-40h1V-36h1V-60h1V-63h1V-34h1V-35h1V-42h1V-48h1V-43h1V-52h1V-28h1V-21h1V-26h1V-31h1V-35h1V-31h1V-36h1V-50h1V-48h1V-57h1V-42h1V-28h1V-108h1V-65h1V-73h1V-76h1V-67h1V-43h1V-51h1V-69h1V-61h1V-77h1V-73h1V-53h1V-35h1V-50h1V-34h1V-43h1V-47h1V-32h1V-34h1V-44h1V-55h1V-38h1V-40h1V-46h1V-47h1V-22h1h1V-23h1V-21h1V-23h1V-29h1V-22h1V-26h1V-43h1V-22h1V-19h1V-28h1V-24h1V-46h1V-35h1V-37h1V-48h1V-33h1V-43h1V-37h1V-38h1V-55h1V-50h1V-30h1V-29h1V-34h1V-18h1V-15h1V-13h1V-10h1V-11h1V-13h1V-15h1V-14h1V-10h1V-12h1V-10h1V-8h1V-10h1V-19h1V-12h1V-20h1V-17h1V-12h1V-14h1V-15h1V-16h1h1V-12h1V-20h1h1V-21h1V-22h1V-12h1V-14h1V-24h1V-17h1V-21h1V-22h1V-23h1V-29h1V-20h1V-78h1V-68h1V-53h1V-71h1V-83h1V-106h1V-54h1V-40h1V-42h1V-66h1V-59h1V-66h1V-51h1V-47h1h1V-42h1V-46h1V-39h1V-56h1V-39h1V-46h1V-54h1V-50h1V-30h1V-27h1V-42h1V-12h1V-14h1V-21h1V-32h1V-31h1V-20h1V-21h1V-26h1V-22h1V-37h1V-27h1V-26h1V-22h1V-31h1V-24h1V-52h1V-36h1V-46h1V-48h1V-44h1V-34h1V-48h1V-30h1V-29h1V-26h1V-49h1V-53h1V-39h1V-30h1V-58h1V-30h1h1V-50h1V-54h1V-43h1V-68h1V-51h1V-42h1V-54h1V-45h1V-33h1V-43h1V-54h1V-68h1V-56h1V-80h1V-50h1V-37h1V-45h1V-36h1V-43h1V-37h1V-33h1V-23h1V-29h1V-31h1V-16h1V-18h1V-21h1V-19h1V-37h1V-25h1V-40h1h1V-59h1V-45h1V-39h1V-65h1V-42h1V-28h1V-22h1V-21h1V-19h1V-28h1V-21h1V-17h1V-30h1V-39h1V-24h1V-14h1V-17h1h1V-28h1V-31h1V0h1h1h1h1h1h1h1h1h1h1V-29h1V-40h1V-44h1V-65h1V-59h1V-45h1V-33h1V-51h1V-46h1V-66h1V-62h1V-72h1V-50h1V-54h1V-41h1V-66h1V-42h1V-52h1V-38h1V-47h1V-45h1V-64h1V-40h1V-62h1V-54h1V-70h1V-43h1V-42h1V-49h1V-31h1V-35h1V-28h1V-21h1V-36h1h1V-26h1V-44h1V-22h1V-47h1V-53h1V-29h1V-53h1V-36h1V-25h1V-49h1V-30h1V-53h1V-44h1V-40h1V-41h1V-45h1V-32h1V-19h1V-13h1V-29h1V-39h1V-33h1V-48h1V-57h1V-77h1V-55h1V-52h1V-75h1V-79h1V-47h1V-62h1V-32h1V-34h1h1V-59h1V-38h1V0Z" fill="#e36f77" transform="translate(42.90,698.00) scale(0.6,0.1)"/>
<line x1="42.90" y1="698.20" x2="271.20" y2="698.20" stroke="#e36f77" stroke-width="0.6"/>
<text x="279.00" y="697.70" font-size="9.24" fill="#1f1f1f" stroke="#1f1f1f" stroke-width="0.08" textLength="38.00" lengthAdjust="spacingAndGlyphs">Dox (d 7)</text>
<path d="M38.6,700.6h2.2V712.6h-2.2" fill="none" stroke="#555" stroke-width="0.7"/>
<text x="35.40" y="704.80" font-size="7.4" text-anchor="end" fill="#2a2a2a" stroke="#2a2a2a" stroke-width="0.08" textLength="8.60" lengthAdjust="spacingAndGlyphs">45</text>
<text x="35.40" y="712.20" font-size="7.4" text-anchor="end" fill="#2a2a2a" stroke="#2a2a2a" stroke-width="0.08">0</text>
<path d="M0,0V-31h1V-41h1V-35h1V-32h1V-29h1V-33h1V-37h1V-60h1V-56h1V-50h1V-39h1V-52h1V-7h1V-5h1h1V-9h1V-6h1V-7h1h1V-10h1V-9h1V-6h1V-7h1V-11h1V-10h1V-8h1V-5h1V-8h1V-6h1h1V-8h1V-6h1V-4h1V-8h1V-6h1V-10h1V-6h1V-7h1h1V-4h1V-12h1V-6h1V-4h1V-6h1h1h1V-5h1h1V-4h1h1V-6h1V-5h1V-6h1V-5h1V-4h1V-5h1V-6h1h1h1V-8h1V-5h1h1V-6h1V-5h1V-3h1V-5h1h1V-3h1h1h1V-6h1V-5h1h1V-3h1V-4h1V-6h1V-7h1V-8h1V-5h1V-7h1V-4h1V-3h1V-6h1V-5h1V-7h1V-4h1V-3h1h1h1h1V-2h1V-4h1V-3h1V-2h1V-5h1V-3h1V-4h1V-5h1V-7h1h1V-6h1V-5h1V-6h1V-7h1V-4h1V-5h1V-23h1V-25h1V-24h1V-17h1V-35h1V-22h1V-30h1V-33h1V-27h1V-31h1h1V-20h1V-29h1V-31h1V-27h1V-21h1V-22h1V-32h1V-24h1h1V-6h1V-7h1V-5h1V-6h1h1h1V-5h1h1V-6h1V-4h1V-6h1V-4h1V-6h1V-7h1V-5h1V-6h1V-7h1V-6h1V-4h1h1h1h1h1V-6h1V-5h1V-6h1V-8h1V-6h1V-7h1V-6h1h1h1V-3h1V-4h1V-5h1h1V-4h1h1V-5h1V-3h1V-7h1V-6h1h1V-5h1V-7h1V-6h1h1V-5h1V-3h1h1V-4h1V-2h1h1V-3h1V-6h1V-5h1V-4h1V-3h1V-5h1V-9h1V-8h1V-6h1h1V-29h1V-32h1h1V-33h1V-30h1V-26h1V-29h1V-41h1V-19h1V-21h1V-15h1V-23h1V-31h1h1V-32h1V-21h1V-18h1V-28h1V-22h1V-20h1V-24h1V-25h1V-21h1h1V-22h1V-13h1V-16h1V-20h1V-17h1V-19h1V-16h1V-17h1V-22h1V-23h1V-27h1V-26h1V-34h1V-27h1V-35h1V-25h1V-39h1V-28h1V-12h1V-24h1V-27h1V-21h1V-24h1V-25h1V-34h1V-26h1V-40h1V-42h1V-31h1V-20h1V-19h1V-26h1V-22h1V-31h1V-22h1V-23h1V-15h1V-12h1V-17h1V-18h1V-30h1V-24h1V-16h1V-28h1V-27h1V-23h1V-16h1V-20h1V-15h1V-26h1h1V-33h1V-31h1V-20h1V-23h1V-36h1V-23h1V-17h1V-23h1V-26h1V-24h1V-35h1V-22h1V-25h1V-20h1V-31h1V-14h1V-11h1V-4h1V-5h1V-4h1V-8h1V-12h1h1h1V-38h1V-15h1V-16h1V-19h1V-21h1V-30h1h1V-14h1V-15h1V-22h1V-25h1V0h1h1h1h1h1h1h1h1h1h1V-12h1V-22h1V-15h1V-26h1V-28h1V-16h1V-19h1V-22h1V-25h1V-27h1V-15h1V-17h1V-12h1V-27h1V-18h1h1V-21h1V-18h1V-21h1V-31h1h1V-28h1V-17h1V-23h1V-17h1V-21h1V-17h1h1h1V-23h1V-16h1V-17h1V-13h1V-25h1V-17h1V-14h1V-16h1V-11h1V-9h1V-13h1V-22h1V-16h1V-23h1V-29h1V-16h1V-34h1V-30h1V-31h1V-14h1V-18h1V-27h1V-21h1V-19h1V-27h1V-17h1V-28h1V-22h1V-26h1V-40h1V-43h1V-21h1V-34h1V-33h1V-28h1V-33h1V-34h1V-16h1V-27h1V-43h1V-31h1V-30h1V0Z" fill="#ee9ca0" transform="translate(42.90,712.60) scale(0.6,0.1)"/>
<path d="M0,0V-29h1V-32h1h1V-28h1V-27h1V-25h1V-30h1V-54h1V-53h1V-47h1V-35h1V-48h1V-6h1V-5h1h1V-8h1V-6h1V-5h1h1V-9h1V-7h1V-5h1V-6h1V-9h1V-8h1V-7h1V-4h1V-8h1V-5h1h1V-7h1V-5h1V-3h1V-7h1V-5h1V-8h1V-5h1h1h1V-4h1V-9h1V-6h1V-4h1V-5h1h1h1h1V-4h1h1V-3h1V-4h1h1V-5h1V-4h1V-3h1V-4h1V-5h1h1h1V-7h1V-4h1h1V-5h1V-4h1V-2h1V-4h1h1V-2h1V-3h1V-2h1V-5h1V-4h1h1V-3h1h1V-5h1V-7h1h1V-5h1V-7h1V-3h1h1V-5h1V-4h1V-6h1V-4h1V-3h1h1V-2h1V-3h1V-2h1V-4h1V-2h1h1V-4h1V-2h1V-3h1V-4h1V-5h1h1h1V-4h1V-6h1h1V-3h1V-4h1V-20h1V-21h1h1V-15h1V-32h1V-20h1V-25h1h1V-22h1V-25h1h1V-18h1V-25h1V-24h1V-23h1V-19h1V-18h1V-26h1V-22h1V-19h1V-5h1V-6h1V-4h1V-5h1h1h1V-4h1h1V-6h1V-3h1V-5h1V-3h1V-5h1V-6h1V-4h1V-5h1V-6h1V-5h1V-3h1h1h1V-4h1V-3h1V-5h1V-4h1V-5h1V-6h1h1h1V-5h1h1h1V-3h1V-4h1h1h1h1h1h1V-3h1V-5h1h1h1V-4h1V-6h1V-5h1V-6h1V-4h1V-2h1h1V-3h1V-2h1h1h1V-5h1V-4h1V-3h1h1V-4h1V-8h1V-6h1V-5h1h1V-23h1V-27h1V-26h1V-25h1h1V-22h1V-25h1V-38h1V-16h1V-19h1V-12h1V-18h1V-29h1V-26h1V-25h1V-18h1V-15h1V-21h1h1V-18h1V-22h1V-21h1V-18h1V-16h1V-19h1V-12h1V-14h1V-19h1V-15h1V-17h1V-14h1h1V-19h1V-21h1V-25h1V-22h1V-29h1V-23h1V-31h1V-20h1V-34h1V-23h1V-11h1V-18h1V-24h1V-17h1V-22h1V-23h1V-28h1V-23h1V-37h1V-33h1V-28h1V-18h1V-15h1V-20h1V-18h1V-24h1V-20h1V-22h1V-12h1V-10h1V-16h1h1V-29h1V-19h1V-12h1V-24h1V-23h1V-19h1V-12h1V-15h1V-12h1V-21h1V-22h1V-26h1V-27h1V-19h1h1V-30h1V-20h1V-14h1V-22h1V-20h1V-21h1V-31h1V-19h1V-22h1V-16h1V-25h1V-12h1V-9h1V-4h1h1h1V-6h1V-11h1V-10h1V-11h1V-31h1V-13h1V-15h1V-17h1V-19h1V-26h1V-28h1V-13h1V-12h1V-17h1V-20h1V0h1h1h1h1h1h1h1h1h1h1V-10h1V-17h1V-13h1V-23h1V-22h1V-14h1V-16h1V-17h1V-20h1V-24h1V-14h1V-13h1V-10h1V-23h1V-16h1V-15h1V-19h1V-16h1V-18h1V-27h1V-26h1h1V-16h1V-18h1V-16h1V-19h1V-13h1V-14h1V-15h1V-21h1V-13h1V-16h1V-12h1V-23h1V-15h1V-12h1V-15h1V-10h1V-7h1V-11h1V-19h1V-15h1V-17h1V-24h1V-15h1V-26h1V-24h1V-29h1V-13h1V-14h1V-24h1V-18h1V-14h1V-21h1V-15h1V-24h1V-20h1V-25h1V-38h1V-33h1V-18h1V-27h1V-31h1V-24h1V-31h1V-29h1V-13h1V-22h1V-33h1V-24h1V-28h1V0Z" fill="#e36f77" transform="translate(42.90,712.60) scale(0.6,0.1)"/>
<line x1="42.90" y1="712.80" x2="271.20" y2="712.80" stroke="#e36f77" stroke-width="0.6"/>
<text x="279.00" y="712.50" font-size="9.44" fill="#1f1f1f" stroke="#1f1f1f" stroke-width="0.08" textLength="53.50" lengthAdjust="spacingAndGlyphs">Dox (d 7) wo</text>
<path d="M38.6,715.5h2.2V727.5h-2.2" fill="none" stroke="#555" stroke-width="0.7"/>
<text x="35.40" y="719.70" font-size="7.4" text-anchor="end" fill="#2a2a2a" stroke="#2a2a2a" stroke-width="0.08" textLength="8.60" lengthAdjust="spacingAndGlyphs">45</text>
<text x="35.40" y="727.10" font-size="7.4" text-anchor="end" fill="#2a2a2a" stroke="#2a2a2a" stroke-width="0.08">0</text>
<path d="M0,0V-25h1V-32h1V-25h1V-11h1V-10h1V-9h1V-15h1V-9h1V-24h1V-30h1V-46h1V-34h1V-38h1V-46h1V-38h1V-44h1V-26h1V-37h1V-59h1V-28h1V-50h1V-55h1V-60h1V-51h1V-38h1V-50h1V-39h1V-47h1V-20h1V-18h1V-32h1V-30h1V-17h1V-13h1V-16h1V-12h1V-20h1V-19h1V-16h1V-30h1V-32h1V-31h1V-51h1V-38h1V-43h1V-56h1V-67h1h1V-63h1V-38h1V-52h1V-42h1V-40h1V-30h1V-46h1V-27h1V-25h1V-57h1V-23h1V-53h1V-35h1V-23h1V-35h1V-31h1V-44h1V-37h1h1V-50h1V-53h1V-40h1V-53h1V-37h1V-29h1V-23h1V-46h1V-38h1V-25h1h1V-50h1V-43h1V-37h1V-27h1V-33h1V-23h1V-34h1V-31h1V-50h1V-35h1h1V-53h1V-45h1V-41h1V-29h1V-55h1V-45h1V-47h1V-50h1V-54h1V-46h1V-34h1V-85h1V-33h1V-50h1V-21h1V-40h1V-16h1V-21h1V-18h1V-23h1V-30h1V-43h1V-33h1V-35h1V-36h1V-26h1V-40h1V-38h1V-49h1V-31h1V-44h1V-40h1V-36h1V-40h1V-32h1V-45h1V-37h1V-26h1V-25h1V-29h1V-36h1V-39h1V-37h1V-33h1V-30h1V-28h1V-22h1V-24h1V-28h1h1V-24h1V-29h1V-21h1V-47h1V-41h1V-32h1V-43h1V-48h1V-24h1V-22h1V-46h1V-29h1V-46h1V-39h1V-34h1V-38h1V-31h1V-22h1V-24h1V-11h1V-21h1V-18h1V-17h1V-12h1V-29h1V-27h1V-31h1V-19h1V-15h1V-13h1V-14h1V-21h1h1V-16h1V-14h1V-26h1V-25h1h1V-38h1V-44h1V-25h1V-28h1V-48h1V-18h1V-21h1V-31h1V-21h1V-15h1V-17h1V-13h1V-38h1V-46h1V-61h1V-48h1V-52h1V-74h1V-43h1V-35h1V-36h1V-53h1V-25h1V-38h1V-42h1V-48h1V-40h1V-28h1V-30h1V-33h1V-50h1V-36h1V-35h1V-40h1V-50h1V-29h1V-20h1V-21h1V-24h1V-28h1V-29h1V-40h1V-62h1V-45h1V-75h1V-39h1V-32h1V-57h1V-54h1V-51h1V-110h1V-69h1V-41h1V-51h1V-36h1V-46h1V-31h1V-28h1V-40h1V-54h1V-57h1V-70h1V-47h1V-38h1V-59h1V-68h1V-80h1V-53h1V-52h1V-49h1V-30h1V-44h1V-24h1V-45h1V-47h1V-34h1V-27h1V-32h1V-25h1V-31h1V-45h1V-36h1V-41h1V-28h1V-31h1V-53h1V-75h1V-81h1V-70h1V-73h1V-51h1V-69h1V-40h1V-58h1V-44h1V-46h1V-42h1V-30h1V-51h1V-39h1V-55h1V-38h1V-56h1V-42h1V-49h1h1V-44h1V-33h1V-38h1V-48h1V-62h1V-60h1V-69h1V-51h1V-64h1V-47h1V-74h1V-61h1V-107h1V-88h1V-77h1V-103h1V0h1h1h1h1h1h1h1h1h1h1V-48h1V-39h1V-49h1V-61h1V-66h1V-80h1V-62h1V-46h1V-44h1V-41h1V-52h1V-30h1V-60h1V-39h1V-48h1V-46h1V-48h1V-52h1V-53h1V-66h1V-53h1V-69h1V-49h1V-69h1V-38h1V-66h1V-24h1V-51h1V-35h1V-60h1V-45h1V-44h1V-43h1V-34h1h1V-51h1V-55h1V-53h1V-47h1V-42h1V-50h1V-38h1V-71h1V-41h1V-49h1V-41h1V-37h1V-44h1V-53h1V-57h1V-38h1V-42h1V-56h1V-54h1V-28h1V-32h1V-38h1V-57h1V-38h1V-53h1V-54h1V-52h1V-65h1V-71h1V-58h1V-56h1V-46h1V-35h1V-53h1V-51h1V-67h1V0Z" fill="#ee9ca0" transform="translate(42.90,727.50) scale(0.6,0.1)"/>
<path d="M0,0V-21h1V-28h1V-19h1V-10h1V-9h1V-7h1V-13h1V-8h1V-20h1V-23h1V-38h1V-30h1V-34h1V-43h1V-29h1V-37h1V-23h1V-32h1V-45h1V-21h1V-43h1V-42h1V-45h1V-44h1V-35h1V-39h1V-33h1V-39h1V-16h1V-15h1V-27h1V-23h1V-15h1V-11h1V-14h1V-10h1V-16h1h1V-15h1V-23h1V-30h1V-25h1V-47h1V-36h1V-41h1V-46h1V-56h1V-53h1V-54h1V-30h1V-48h1V-33h1V-30h1V-26h1V-43h1V-25h1V-19h1V-51h1V-20h1V-46h1V-26h1V-21h1V-30h1V-26h1V-42h1V-34h1V-28h1V-43h1V-45h1V-32h1V-45h1V-28h1V-25h1V-18h1V-38h1V-29h1V-22h1V-18h1V-47h1V-36h1V-30h1V-21h1V-31h1V-20h1V-27h1V-25h1V-38h1V-33h1V-27h1V-47h1V-36h1V-38h1V-23h1V-48h1V-38h1V-40h1V-41h1V-45h1V-43h1V-27h1V-75h1V-25h1V-43h1V-20h1V-33h1V-14h1V-20h1V-16h1V-19h1V-23h1V-33h1V-31h1V-28h1V-27h1V-22h1V-30h1V-35h1V-46h1V-25h1V-35h1h1V-28h1V-33h1V-29h1V-35h1V-29h1V-22h1V-19h1V-23h1V-32h1V-34h1V-29h1V-27h1V-25h1V-27h1V-17h1V-21h1V-23h1h1V-21h1V-27h1V-20h1V-42h1V-31h1V-30h1V-39h1V-38h1V-21h1V-20h1V-34h1V-26h1V-40h1V-32h1h1V-30h1V-27h1V-20h1V-18h1V-10h1V-18h1V-16h1V-15h1V-10h1V-27h1V-24h1V-25h1V-17h1V-12h1V-11h1V-12h1V-16h1V-19h1V-14h1V-12h1V-23h1V-20h1V-21h1V-35h1V-42h1V-23h1V-26h1V-37h1V-14h1V-18h1V-29h1V-18h1V-12h1V-15h1V-12h1V-33h1V-35h1V-51h1V-43h1V-39h1V-64h1V-39h1V-27h1V-33h1V-45h1V-21h1V-30h1V-40h1V-44h1V-33h1V-25h1V-23h1V-30h1V-45h1V-31h1h1V-34h1V-43h1V-26h1V-17h1V-18h1V-19h1V-26h1h1V-35h1V-55h1V-36h1V-62h1V-33h1V-25h1V-49h1V-41h1V-43h1V-86h1V-55h1V-34h1V-43h1V-31h1V-36h1V-24h1V-21h1V-35h1V-50h1V-52h1V-53h1V-42h1V-29h1V-56h1V-63h1V-62h1V-49h1V-48h1V-40h1V-25h1V-39h1V-22h1V-35h1V-40h1V-27h1V-23h1V-26h1V-24h1V-28h1V-35h1V-30h1V-35h1V-26h1V-29h1V-49h1V-56h1V-69h1V-53h1V-66h1V-42h1V-66h1V-35h1V-47h1V-38h1V-39h1V-35h1V-27h1V-47h1V-34h1V-47h1V-35h1V-49h1V-39h1h1V-37h1V-40h1V-25h1V-31h1V-38h1V-55h1V-51h1V-55h1V-43h1V-51h1V-43h1V-64h1V-57h1V-82h1V-81h1V-65h1V-83h1V0h1h1h1h1h1h1h1h1h1h1V-42h1V-34h1V-42h1V-52h1V-59h1V-60h1V-55h1V-39h1V-40h1V-35h1V-45h1V-28h1V-53h1V-36h1V-37h1V-41h1V-38h1V-48h1V-45h1V-50h1V-40h1V-56h1V-40h1V-61h1V-29h1V-63h1V-19h1V-39h1V-32h1V-55h1V-34h1V-41h1V-32h1V-27h1h1V-38h1V-52h1V-46h1V-36h1V-37h1V-41h1V-35h1V-65h1V-37h1V-41h1V-32h1V-34h1h1V-40h1V-49h1V-33h1V-34h1V-53h1V-49h1V-23h1V-29h1V-31h1V-50h1V-32h1V-45h1V-42h1h1V-59h1V-65h1V-52h1h1V-41h1V-28h1V-47h1h1V-52h1V0Z" fill="#e36f77" transform="translate(42.90,727.50) scale(0.6,0.1)"/>
<line x1="42.90" y1="727.70" x2="271.20" y2="727.70" stroke="#e36f77" stroke-width="0.6"/>
<text x="279.00" y="727.10" font-size="9.06" fill="#1f1f1f" stroke="#1f1f1f" stroke-width="0.08" textLength="42.30" lengthAdjust="spacingAndGlyphs">Dox (d 21)</text>
<path d="M38.6,730.3h2.2V742.3h-2.2" fill="none" stroke="#555" stroke-width="0.7"/>
<text x="35.40" y="734.50" font-size="7.4" text-anchor="end" fill="#2a2a2a" stroke="#2a2a2a" stroke-width="0.08" textLength="8.60" lengthAdjust="spacingAndGlyphs">45</text>
<text x="35.40" y="741.90" font-size="7.4" text-anchor="end" fill="#2a2a2a" stroke="#2a2a2a" stroke-width="0.08">0</text>
<path d="M0,0V-30h1V-28h1V-24h1V-41h1V-30h1V-24h1V-28h1V-36h1V-21h1h1V-33h1V-27h1V-10h1V-7h1V-5h1V-6h1V-4h1h1h1V-8h1V-7h1V-3h1V-2h1V-6h1V-5h1V-9h1V-11h1V-12h1V-7h1V-8h1V-11h1V-7h1h1V-6h1V-9h1V-8h1V-9h1V-8h1V-10h1h1V-9h1V-7h1V-8h1V-6h1V-5h1h1V-3h1V-4h1V-3h1V-4h1V-6h1V-5h1V-8h1V-4h1V-8h1V-11h1V-8h1V-12h1V-17h1V-14h1V-20h1V-19h1V-10h1V-17h1V-18h1V-16h1V-12h1V-14h1V-10h1V-11h1V-10h1V-14h1V-12h1h1V-11h1V-13h1V-9h1V-7h1h1V-8h1h1V-12h1V-8h1V-5h1V-8h1V-7h1V-6h1V-8h1V-10h1V-12h1h1V-9h1V-10h1V-7h1V-13h1V-17h1V-14h1V-8h1V-11h1V-6h1V-9h1V-6h1V-8h1V-5h1V-10h1h1V-12h1V-10h1V-8h1V-10h1V-6h1V-11h1V-9h1V-10h1V-5h1h1h1V-8h1V-5h1V-9h1V-10h1V-12h1V-7h1V-5h1h1h1h1V-8h1V-7h1V-11h1V-7h1V-10h1V-5h1V-6h1V-7h1V-8h1h1V-11h1V-6h1h1h1V-9h1h1V-11h1V-8h1V-11h1V-10h1V-7h1V-13h1V-11h1V-10h1V-11h1V-12h1V-9h1V-21h1V-17h1V-19h1V-15h1V-14h1V-16h1V-12h1V-11h1V-10h1V-9h1V-6h1h1V-11h1V-12h1V-9h1V-8h1V-10h1V-7h1V-10h1V-12h1V-11h1V-7h1V-6h1V-8h1V-7h1V-6h1V-10h1h1h1V-16h1V-13h1V-10h1V-8h1V-12h1V-6h1V-24h1V-17h1h1V-16h1V-11h1V-13h1h1V-24h1V-22h1V-24h1V-16h1V-25h1V-20h1V-25h1V-23h1V-15h1V-23h1V-18h1V-32h1V-25h1V-15h1V-10h1V-14h1h1V-12h1V-13h1V-20h1h1V-16h1V-17h1V-15h1V-10h1V-19h1V-18h1V-14h1V-32h1V-14h1V-16h1V-12h1V-9h1V-7h1V-12h1h1V-11h1V-8h1V-15h1V-14h1V-13h1V-9h1V-7h1V-15h1V-14h1V-9h1V-15h1V-13h1V-9h1V-10h1V-15h1V-9h1V-11h1h1V-17h1V-15h1V-10h1V-16h1V-18h1V-14h1V-21h1V-16h1V-18h1V-16h1V-23h1V-22h1V-24h1V-29h1V-23h1V-32h1V-34h1V-15h1V-32h1V-17h1V-23h1V-22h1h1V-16h1V-22h1V-24h1V-23h1V-19h1V-35h1V-27h1V-25h1V-17h1V-12h1V-18h1V-15h1V-19h1V-20h1V-26h1V-14h1V-21h1V-16h1V-18h1h1V-24h1V-17h1V-22h1V-26h1V-23h1V-13h1V0h1h1h1h1h1h1h1h1h1h1V-7h1V-11h1V-10h1V-17h1V-25h1V-14h1V-27h1V-20h1V-15h1V-18h1V-24h1V-19h1V-25h1V-13h1V-23h1V-17h1V-16h1V-19h1V-24h1V-21h1V-11h1V-20h1V-13h1V-27h1V-20h1V-17h1V-19h1V-18h1V-14h1V-10h1V-23h1V-21h1V-13h1V-14h1V-21h1h1V-23h1V-19h1V-20h1V-16h1V-25h1V-12h1V-14h1V-18h1V-17h1V-22h1V-24h1h1V-26h1V-20h1V-27h1V-19h1V-25h1V-19h1V-21h1V-16h1V-14h1V-17h1V-11h1V-15h1V-17h1V-15h1V-12h1V-10h1h1V-16h1V-17h1V-12h1V-18h1V-14h1V-12h1V0Z" fill="#ee9ca0" transform="translate(42.90,742.30) scale(0.6,0.1)"/>
<path d="M0,0V-28h1V-24h1V-18h1V-35h1V-25h1V-21h1V-23h1V-31h1V-18h1h1V-26h1V-23h1V-8h1V-6h1V-4h1V-5h1V-4h1V-3h1h1V-7h1V-6h1V-3h1V-2h1V-5h1h1V-7h1V-8h1V-11h1V-6h1h1V-9h1V-6h1h1V-5h1V-7h1V-6h1V-7h1h1V-9h1V-7h1h1V-6h1V-7h1V-6h1V-4h1h1V-2h1V-4h1V-2h1V-4h1V-5h1V-4h1V-6h1V-4h1V-8h1V-9h1V-8h1V-11h1V-15h1V-12h1V-18h1V-14h1V-8h1V-14h1V-15h1V-13h1V-9h1V-12h1V-8h1V-9h1V-8h1V-12h1V-11h1V-10h1h1V-11h1V-7h1V-6h1h1V-7h1V-8h1V-11h1V-7h1V-5h1V-7h1V-5h1V-6h1V-7h1V-8h1V-10h1V-11h1V-7h1V-8h1V-6h1V-10h1V-14h1V-12h1V-8h1V-10h1V-6h1V-8h1V-6h1V-7h1V-4h1V-9h1h1h1V-8h1V-7h1V-8h1V-5h1V-8h1V-7h1V-8h1V-5h1V-4h1h1V-7h1V-5h1V-8h1h1V-11h1V-6h1V-5h1V-4h1h1h1V-7h1V-6h1V-9h1V-5h1V-8h1V-4h1V-5h1V-6h1V-7h1V-8h1V-9h1V-5h1V-6h1V-5h1V-7h1V-8h1V-10h1V-7h1V-10h1V-9h1V-6h1V-10h1h1V-9h1h1V-11h1V-7h1V-19h1V-14h1V-18h1V-13h1V-14h1h1V-11h1V-9h1V-8h1V-7h1V-5h1h1V-9h1V-10h1V-8h1V-6h1V-9h1V-7h1V-9h1V-10h1V-8h1V-5h1V-6h1V-7h1V-6h1V-5h1V-9h1V-8h1V-9h1V-14h1V-11h1V-9h1V-7h1V-9h1V-5h1V-22h1V-15h1V-13h1V-12h1V-9h1V-11h1V-10h1V-21h1V-18h1V-22h1V-15h1V-19h1V-17h1V-22h1V-19h1V-13h1V-19h1V-13h1V-25h1V-23h1V-12h1V-9h1V-13h1h1V-11h1V-12h1V-16h1V-19h1V-15h1V-16h1V-12h1V-8h1V-18h1V-17h1V-12h1V-29h1V-12h1V-13h1V-10h1V-8h1V-5h1V-11h1V-9h1V-10h1V-7h1V-14h1V-13h1V-11h1V-8h1V-6h1V-11h1h1V-7h1V-14h1V-10h1V-7h1V-8h1V-13h1V-8h1V-10h1V-8h1V-15h1V-14h1V-8h1V-13h1V-14h1V-13h1V-16h1V-13h1V-14h1V-15h1V-17h1V-20h1V-21h1V-26h1V-21h1V-26h1V-30h1V-12h1V-25h1V-15h1V-18h1V-20h1h1V-13h1V-19h1h1V-20h1V-17h1V-27h1V-21h1V-24h1V-15h1V-10h1V-16h1V-12h1V-15h1V-16h1V-20h1V-11h1V-17h1V-12h1V-15h1V-17h1V-18h1V-13h1V-20h1V-23h1V-20h1V-11h1V0h1h1h1h1h1h1h1h1h1h1V-6h1V-10h1V-9h1V-13h1V-19h1V-12h1V-24h1V-16h1V-14h1V-15h1V-21h1V-14h1V-21h1V-10h1V-22h1V-16h1V-13h1V-18h1h1V-16h1V-9h1V-16h1V-12h1V-21h1V-16h1V-13h1V-16h1V-15h1V-11h1V-8h1V-19h1V-16h1V-10h1V-13h1V-18h1h1V-19h1V-16h1V-19h1V-14h1V-20h1V-10h1V-12h1V-16h1V-15h1V-21h1V-19h1h1V-24h1V-19h1V-25h1V-16h1V-21h1V-15h1V-16h1V-15h1V-10h1V-15h1V-9h1V-14h1V-15h1V-13h1V-10h1V-8h1V-9h1V-12h1V-14h1V-12h1V-16h1V-11h1h1V0Z" fill="#e36f77" transform="translate(42.90,742.30) scale(0.6,0.1)"/>
<line x1="42.90" y1="742.50" x2="271.20" y2="742.50" stroke="#e36f77" stroke-width="0.6"/>
<text x="279.00" y="741.60" font-size="9.3" fill="#1f1f1f" stroke="#1f1f1f" stroke-width="0.08" textLength="57.90" lengthAdjust="spacingAndGlyphs">Dox (d 21) wo</text>
<path d="M40.4,776.5h2.2V788.0h-2.2" fill="none" stroke="#555" stroke-width="0.7"/>
<text x="37.20" y="780.70" font-size="7.4" text-anchor="end" fill="#2a2a2a" stroke="#2a2a2a" stroke-width="0.08" textLength="7.20" lengthAdjust="spacingAndGlyphs">15</text>
<text x="37.20" y="787.60" font-size="7.4" text-anchor="end" fill="#2a2a2a" stroke="#2a2a2a" stroke-width="0.08">0</text>
<path d="M0,0V-23h1V-15h1V-26h1V-5h1V-51h1V-109h1V-21h1V-16h1V-105h1V-67h1V-35h1V-80h1V-19h1V-53h1V-67h1V-41h1V-37h1V-23h1V-18h1h1V-17h1V-23h1V-4h1V-8h1V-32h1V-27h1V-18h1V-8h1V-20h1V-14h1V-28h1V-22h1V-20h1V-19h1V-26h1V-47h1V-38h1V-14h1V-43h1V-28h1V-36h1V-11h1V-110h1V-27h1V-75h1V-50h1V-66h1V-48h1V-56h1V-35h1V-27h1V-89h1V-22h1V-25h1V-19h1V-25h1V-42h1V-41h1V-110h1V-69h1V-31h1V-46h1V-42h1V-68h1V-45h1V-58h1V-37h1V-110h1V-22h1V-24h1V-57h1V-80h1V-44h1V-9h1V-17h1V-15h1V-110h1V-80h1V-83h1V-11h1V-19h1V-26h1V-14h1V-58h1V-74h1V-19h1V-17h1V-21h1V-28h1V-31h1h1V-53h1V-37h1V-99h1V-27h1V-39h1V-20h1V-14h1V-41h1V-13h1V-15h1V-17h1V-29h1V-11h1V-15h1V-7h1V-18h1V-40h1V-6h1V-33h1V-20h1V-42h1V-32h1V-20h1V-40h1V-9h1V-24h1V-36h1V-19h1V-33h1V-37h1V-22h1V-8h1V-30h1V-26h1V-25h1V-28h1V-25h1V-27h1V-4h1V-25h1V-26h1V-55h1V-15h1V-23h1V-41h1V-54h1V-44h1V-40h1V-77h1V-47h1V-26h1V-4h1V-19h1V-9h1V-16h1V-14h1V-9h1V-16h1V-12h1V-34h1V-11h1V-28h1V-20h1V-10h1V-30h1V-16h1V-26h1V-52h1V-40h1V-42h1V-25h1V-26h1V-32h1V-26h1V-23h1V-28h1V-5h1V-27h1h1V-50h1V-12h1V-45h1V-52h1V-42h1V-13h1V-34h1V-7h1V-48h1V-25h1V-14h1V-18h1V-19h1V-24h1V-17h1V-2h1V-18h1V-37h1V-49h1V-7h1V-56h1V-41h1V-21h1V-14h1V-11h1V-39h1V-38h1V-30h1V-42h1V-18h1V-53h1V-25h1V-52h1V-26h1V-62h1V-15h1V-5h1V-10h1V-47h1V-26h1V-41h1V-32h1V-56h1V-31h1V-19h1V-43h1V-72h1V-56h1V-12h1V-14h1V-37h1V-59h1V-49h1V-18h1V-39h1V-23h1V-48h1V-21h1V-28h1V-12h1V-39h1V-19h1V-42h1V-35h1V-20h1V-40h1V-27h1V-19h1V-31h1V-16h1h1V-25h1V-22h1V-39h1V-11h1V-31h1V-47h1V-27h1V-16h1V-75h1V-58h1V-59h1V-65h1V-28h1V-39h1V-6h1V-34h1V-21h1V-38h1V-7h1V-21h1V-20h1V-22h1V-32h1V-29h1V-49h1V-18h1V-16h1V-30h1V-32h1V-34h1V-29h1V-22h1V-67h1V-51h1V-37h1V-54h1V-44h1V-26h1V-30h1V-29h1V-27h1V-24h1V-38h1V-19h1V-44h1V-59h1V-60h1V-27h1V-38h1V-51h1V-7h1V-17h1V-10h1V-6h1V-14h1V-17h1V-18h1V-10h1h1V-21h1V-17h1V-26h1V-12h1V-63h1V-24h1V-17h1V-8h1V-9h1V-2h1V-27h1V-10h1V-47h1V-22h1V-78h1V-25h1V-84h1V-30h1V-62h1V-76h1V-15h1V-58h1V-47h1V-56h1V-51h1V-30h1V-11h1V-9h1V-28h1V-35h1V-65h1V-58h1V-27h1V-24h1h1V-9h1V-23h1V-83h1V-29h1V-36h1V-41h1V-53h1V-65h1V-78h1V-83h1V-51h1V-9h1V-26h1V-51h1V-45h1V-30h1V-75h1V-107h1V-31h1V-28h1V-37h1V-32h1V-28h1V-23h1V-32h1V-9h1V-6h1V-37h1V-20h1V-42h1V-13h1V-5h1V-14h1V-48h1V-18h1V-20h1V-8h1V-45h1V-24h1V-14h1V-20h1V0Z" fill="#f8c48a" transform="translate(46.80,788.00) scale(0.6,0.1)"/>
<path d="M0,0V-17h1V-15h1V-16h1V-5h1V-24h1V-14h1V-19h1V-16h1V-18h1V-27h1V-18h1V-14h1V-19h1V-18h1V-25h1V-20h1V-14h1V-21h1V-16h1V-18h1V-15h1V-18h1V-4h1V-8h1V-20h1V-15h1V-18h1V-8h1V-16h1V-14h1V-20h1V-13h1V-20h1V-19h1V-24h1V-26h1V-27h1V-14h1V-27h1V-23h1V-21h1V-11h1V-28h1V-23h1V-25h1V-15h1V-17h1V-24h1V-21h1V-23h1V-15h1V-16h1V-22h1V-14h1V-19h1V-24h1V-26h1V-22h1V-26h1h1h1V-28h1V-19h1V-22h1h1V-20h1V-24h1V-25h1V-19h1V-21h1V-16h1V-13h1V-20h1V-9h1V-17h1V-15h1V-28h1V-20h1V-19h1V-11h1V-19h1V-20h1V-14h1V-20h1V-14h1V-18h1V-17h1V-16h1V-13h1V-26h1V-25h1V-15h1V-19h1V-16h1V-15h1V-22h1V-20h1V-14h1V-25h1V-13h1V-15h1V-17h1h1V-11h1V-15h1V-7h1V-18h1V-16h1V-6h1V-27h1V-18h1V-15h1V-26h1V-20h1V-19h1V-9h1V-24h1V-18h1V-14h1V-23h1V-24h1V-22h1V-8h1V-27h1V-26h1V-25h1V-24h1V-20h1V-27h1V-4h1V-16h1V-24h1V-17h1V-15h1V-23h1h1V-17h1V-19h1h1V-21h1V-22h1V-13h1V-4h1V-14h1V-9h1V-16h1V-14h1V-9h1V-16h1V-12h1V-25h1V-11h1V-16h1h1V-10h1V-28h1V-16h1V-19h1V-23h1V-20h1V-18h1V-19h1V-24h1V-28h1V-20h1V-16h1V-14h1V-5h1V-20h1V-26h1V-20h1V-12h1V-17h1V-21h1V-18h1V-13h1V-24h1V-7h1V-21h1V-13h1V-14h1h1V-18h1V-17h1h1V-2h1V-18h1V-15h1V-24h1V-7h1V-17h1V-26h1V-21h1V-14h1V-11h1V-25h1h1V-26h1V-24h1V-18h1V-23h1V-19h1V-20h1V-25h1V-27h1V-15h1V-5h1V-10h1V-19h1V-26h1V-19h1V-25h1V-14h1V-19h1h1V-27h1V-25h1V-15h1V-12h1V-14h1V-25h1V-21h1V-19h1V-18h1V-21h1V-23h1V-28h1V-14h1V-18h1V-12h1V-26h1V-19h1V-21h1V-20h1h1V-16h1V-20h1V-18h1V-23h1V-16h1V-13h1V-24h1V-21h1V-25h1V-11h1V-20h1V-22h1V-16h1h1V-21h1V-25h1V-15h1V-22h1V-27h1V-26h1V-6h1V-20h1V-21h1V-18h1V-7h1V-19h1V-20h1V-19h1V-23h1V-14h1V-21h1V-16h1V-14h1V-17h1V-22h1h1h1V-21h1V-19h1V-15h1V-27h1V-26h1V-21h1V-15h1h1V-17h1V-19h1V-23h1V-18h1V-19h1h1V-18h1V-25h1V-17h1V-14h1V-22h1V-7h1V-17h1V-10h1V-6h1V-14h1V-17h1V-18h1V-10h1h1V-21h1V-17h1V-19h1V-12h1V-21h1V-16h1V-17h1V-8h1V-9h1V-2h1V-13h1V-10h1V-13h1V-22h1V-16h1V-24h1V-28h1V-20h1V-22h1V-15h1h1V-13h1V-23h1V-15h1V-13h1V-28h1V-11h1V-9h1V-28h1V-25h1V-27h1V-17h1V-19h1V-16h1V-24h1V-9h1V-20h1V-27h1V-17h1V-26h1h1V-14h1V-23h1h1V-25h1V-19h1V-9h1V-17h1V-25h1V-14h1V-24h1V-21h1V-16h1V-15h1V-22h1V-20h1V-25h1V-26h1V-18h1h1V-9h1V-6h1V-22h1V-20h1V-21h1V-13h1V-5h1V-14h1V-17h1V-16h1h1V-8h1V-20h1V-14h1h1V-17h1V0Z" fill="#b37d44" transform="translate(46.80,788.00) scale(0.6,0.1)"/>
<path d="M0,0h1h1h1h1h1h1h1h1h1h1h1h1h1h1h1h1h1h1h1h1h1h1h1h1V-15h1V0h1h1h1h1h1h1h1h1h1h1h1h1h1h1h1h1h1h1h1h1h1h1h1h1h1h1h1h1h1h1h1h1h1h1h1h1h1h1h1h1h1h1h1h1V-20h1V0h1h1h1h1h1h1h1V-18h1V0h1h1h1h1V-10h1V0h1h1h1h1V-16h1V0h1h1h1h1h1h1h1h1h1V-13h1V0h1V-10h1V0h1h1h1h1h1h1h1h1h1h1h1h1h1h1h1h1h1h1h1h1h1h1h1V-26h1V0h1h1h1h1h1h1h1h1h1h1h1h1V-17h1V0h1h1h1h1h1h1h1h1h1V-10h1V0h1h1h1h1h1h1h1h1h1h1h1V-23h1V0h1h1h1h1h1h1h1h1V-2h1V0h1h1h1h1h1h1h1h1h1h1h1h1h1h1h1h1V-15h1V0h1h1h1h1h1h1h1h1h1h1h1h1h1h1h1h1h1h1h1h1h1h1V-5h1V0h1h1h1h1h1h1h1h1h1h1h1h1h1h1h1h1h1h1h1h1h1h1h1h1h1h1h1h1h1h1h1h1h1h1h1h1h1h1h1h1h1V-11h1V0h1h1h1h1h1h1h1V-11h1V0h1h1h1h1h1h1h1h1h1h1h1h1V-13h1V0h1h1h1h1h1h1h1h1h1h1h1h1h1h1h1h1h1h1h1h1h1h1h1h1h1V-10h1V-12h1V0h1h1h1h1h1h1V-19h1V0h1h1h1h1h1h1h1h1h1h1h1h1h1h1h1h1h1h1h1h1h1h1h1h1h1h1h1h1h1h1h1h1h1h1h1h1h1h1h1h1h1h1h1h1h1V-23h1V0h1h1h1h1h1h1h1h1h1h1h1h1h1h1h1h1h1h1h1h1h1h1h1h1h1V0Z" fill="#75757f" transform="translate(46.80,788.00) scale(0.6,0.1)"/>
<line x1="46.80" y1="788.20" x2="272.80" y2="788.20" stroke="#b37d44" stroke-width="0.6"/>
<text x="279.00" y="787.30" font-size="10.2" fill="#1f1f1f" stroke="#1f1f1f" stroke-width="0.08" textLength="32.90" lengthAdjust="spacingAndGlyphs">Control</text>
<path d="M40.4,790.9h2.2V802.4h-2.2" fill="none" stroke="#555" stroke-width="0.7"/>
<text x="37.20" y="795.10" font-size="7.4" text-anchor="end" fill="#2a2a2a" stroke="#2a2a2a" stroke-width="0.08" textLength="7.20" lengthAdjust="spacingAndGlyphs">15</text>
<text x="37.20" y="802.00" font-size="7.4" text-anchor="end" fill="#2a2a2a" stroke="#2a2a2a" stroke-width="0.08">0</text>
<path d="M0,0V-28h1V-32h1V-47h1V-43h1V-110h1V-47h1V-42h1V-50h1V-34h1V-63h1V-28h1V-79h1V-19h1V-75h1V-99h1V-21h1V-60h1V-41h1V-61h1V-65h1V-35h1V-12h1V-21h1h1V-55h1V-53h1V-41h1V-69h1V-99h1V-83h1V-104h1V-54h1V-110h1h1V-33h1V-52h1V-37h1V-110h1V-44h1V-16h1V-29h1V-42h1V-67h1V-50h1V-46h1V-12h1V-28h1V-68h1V-32h1V-34h1V-63h1V-27h1V-100h1V-20h1V-42h1V-76h1V-37h1V-57h1V-58h1V-64h1V-69h1V-81h1V-32h1V-31h1V-77h1V-96h1V-71h1V-52h1V-20h1V-56h1V-40h1V-32h1V-110h1V-34h1V-110h1V-52h1V-29h1V-25h1V-82h1V-110h1V-43h1V-38h1V-102h1V-54h1V-79h1V-47h1V-110h1V-53h1V-11h1V-55h1V-87h1V-85h1V-40h1h1V-62h1V-15h1V-58h1V-21h1V-26h1V-20h1V-25h1V-38h1V-36h1V-56h1V-10h1V-27h1V-46h1V-65h1V-12h1V-23h1V-43h1V-26h1V-84h1V-50h1V-28h1V-29h1V-25h1V-63h1V-68h1V-56h1V-30h1V-50h1V-61h1V-23h1V-110h1V-62h1V-97h1V-80h1V-59h1V-29h1V-26h1V-58h1V-35h1V-38h1V-28h1V-19h1V-47h1V-37h1V-50h1V-51h1V-78h1V-40h1V-20h1V-55h1V-105h1V-30h1V-110h1h1V-51h1V-30h1V-95h1V-13h1V-51h1V-12h1V-75h1V-40h1V-62h1V-9h1V-27h1V-36h1V-47h1V-46h1V-29h1V-20h1V-59h1V-15h1V-44h1V-46h1V-86h1V-80h1V-19h1V-56h1V-8h1V-31h1V-74h1V-23h1V-110h1V-66h1V-110h1V-60h1V-37h1V-72h1V-34h1V-96h1V-36h1V-64h1V-67h1V-71h1V-88h1V-26h1V-97h1V-76h1V-65h1V-56h1V-110h1V-89h1V-30h1V-62h1V-74h1V-60h1V-32h1V-20h1V-14h1V-46h1V-10h1V-19h1V-49h1V-16h1V-17h1V-55h1V-8h1V-67h1V-33h1V-85h1V-22h1V-36h1V-18h1V-41h1V-110h1V-32h1V-65h1V-10h1V-56h1V-48h1V-34h1V-30h1V-37h1V-110h1V-67h1V-29h1V-18h1V-54h1V-46h1V-49h1V-22h1V-32h1V-29h1h1V-75h1V-42h1V-36h1V-19h1V-34h1V-13h1V-22h1V-38h1V-62h1V-110h1V-53h1V-47h1V-55h1V-32h1V-71h1V-53h1V-40h1V-57h1V-27h1V-40h1V-47h1V-110h1V-109h1V-50h1V-44h1V-24h1V-98h1V-49h1V-52h1V-63h1V-101h1V-22h1V-49h1V-33h1V-34h1V-12h1V-23h1V-56h1V-60h1V-62h1V-27h1V-66h1V-109h1V-18h1V-48h1V-59h1V-55h1V-41h1V-50h1V-47h1V-67h1V-28h1V-42h1V-54h1V-22h1V-50h1V-110h1V-54h1V-51h1V-64h1V-49h1V-79h1V-28h1V-82h1V-8h1V-39h1V-79h1V-53h1V-15h1V-27h1V-34h1V-24h1V-18h1V-38h1V-31h1V-44h1V-53h1V-39h1V-8h1V-53h1V-20h1V-26h1V-57h1V-52h1V-28h1V-25h1V-11h1V-8h1V-48h1V-62h1V-13h1V-12h1V-62h1V-38h1V-25h1V-110h1V-29h1V-22h1V-12h1V-32h1V-41h1V-32h1V-30h1V-72h1V-62h1V-45h1V-87h1V-28h1V-97h1V-110h1V-27h1V-55h1V-50h1V-20h1V-108h1V-32h1V-31h1V-25h1V-17h1V-26h1V-23h1V-76h1V-110h1V-37h1V-19h1V-16h1V-15h1V-18h1V-6h1V-30h1V-29h1h1V-33h1V-12h1V-101h1V-30h1V-46h1V-21h1V0Z" fill="#f8c48a" transform="translate(46.80,802.40) scale(0.6,0.1)"/>
<path d="M0,0V-27h1V-32h1V-30h1V-38h1V-43h1V-42h1V-27h1V-46h1V-34h1V-30h1V-28h1V-50h1V-19h1V-32h1V-48h1V-21h1V-41h1h1V-31h1V-37h1V-33h1V-12h1V-21h1h1V-36h1V-40h1V-31h1V-29h1V-41h1V-43h1V-51h1V-31h1V-26h1V-42h1V-33h1V-26h1V-37h1V-36h1V-39h1V-16h1V-29h1V-26h1V-25h1V-34h1V-40h1V-12h1V-28h1V-35h1V-32h1V-24h1V-41h1V-27h1V-26h1V-20h1V-40h1V-24h1V-37h1h1V-31h1V-35h1h1V-49h1V-30h1V-31h1V-43h1V-47h1h1V-49h1V-20h1V-25h1V-36h1V-32h1V-35h1V-31h1V-39h1V-35h1V-27h1V-25h1V-47h1V-48h1V-43h1V-38h1V-47h1V-37h1V-31h1V-37h1V-32h1V-47h1V-11h1V-25h1V-51h1V-27h1V-40h1V-29h1V-36h1V-15h1V-39h1V-21h1V-26h1V-20h1V-25h1V-38h1V-28h1V-50h1V-10h1V-27h1V-46h1V-30h1V-12h1V-23h1V-37h1V-26h1V-44h1V-29h1V-28h1V-29h1V-25h1V-43h1h1V-35h1V-30h1V-34h1V-44h1V-23h1V-25h1V-31h1V-42h1V-33h1V-29h1h1V-26h1V-24h1V-35h1V-24h1V-28h1V-19h1V-43h1V-31h1V-44h1V-19h1V-36h1V-28h1V-20h1V-25h1V-39h1V-30h1V-37h1V-31h1V-24h1V-25h1V-21h1V-13h1V-34h1V-12h1V-36h1V-23h1V-21h1V-9h1V-27h1V-33h1V-34h1V-36h1V-29h1V-20h1V-23h1V-15h1V-19h1V-26h1V-27h1V-28h1V-19h1h1V-8h1V-28h1V-33h1V-23h1V-37h1V-40h1V-22h1V-21h1V-25h1V-26h1V-27h1V-39h1V-36h1V-23h1V-36h1V-34h1V-38h1V-26h1V-28h1V-22h1V-36h1V-29h1V-24h1V-40h1V-30h1V-32h1V-27h1V-19h1V-27h1V-20h1V-14h1V-40h1V-10h1V-19h1V-21h1V-16h1V-17h1V-40h1V-8h1V-25h1V-27h1V-29h1V-20h1h1V-18h1V-35h1V-32h1V-26h1V-25h1V-10h1V-35h1V-30h1V-34h1V-30h1V-25h1V-26h1V-33h1V-29h1V-18h1V-40h1V-33h1V-25h1V-22h1V-24h1V-19h1V-29h1V-38h1V-21h1V-36h1V-19h1V-31h1V-13h1V-22h1V-33h1V-31h1V-39h1V-20h1V-24h1V-40h1V-24h1V-31h1V-22h1h1V-21h1V-27h1V-31h1V-24h1V-25h1V-20h1V-22h1V-34h1V-24h1V-38h1V-36h1V-31h1V-23h1V-33h1V-22h1V-20h1V-24h1V-34h1V-12h1V-23h1V-33h1V-32h1V-19h1V-23h1V-21h1V-26h1V-18h1V-30h1V-21h1V-29h1V-19h1V-33h1V-20h1V-21h1V-25h1V-36h1V-34h1V-22h1V-30h1V-32h1V-20h1V-31h1V-19h1V-34h1V-25h1V-28h1V-39h1V-8h1V-38h1V-28h1V-39h1V-15h1V-27h1V-23h1V-24h1V-18h1V-30h1V-31h1V-22h1V-19h1V-38h1V-8h1V-29h1V-19h1V-23h1V-32h1V-29h1V-27h1V-25h1V-11h1V-8h1V-37h1V-38h1V-13h1V-12h1V-35h1V-30h1V-25h1V-37h1V-19h1V-22h1V-12h1V-32h1V-37h1V-23h1V-30h1V-29h1V-26h1V-32h1h1V-25h1V-28h1V-26h1V-25h1V-31h1V-25h1V-20h1V-30h1V-32h1V-25h1V-24h1V-17h1V-21h1V-23h1V-37h1V-25h1V-37h1V-19h1V-16h1V-15h1V-18h1V-6h1V-23h1V-29h1h1V-33h1V-12h1V-25h1V-30h1V-28h1V-21h1V0Z" fill="#b37d44" transform="translate(46.80,802.40) scale(0.6,0.1)"/>
<path d="M0,0h1h1V-21h1V0h1h1h1h1h1h1h1h1h1h1h1h1h1h1h1h1h1h1h1h1h1h1h1h1h1h1h1h1h1h1h1h1h1h1h1h1h1h1h1h1h1h1h1h1h1h1h1h1h1h1h1h1h1h1h1h1h1h1h1h1h1h1h1h1h1h1h1h1h1h1h1h1h1h1h1h1h1h1h1h1h1h1h1h1V-31h1V0h1h1h1h1h1h1h1h1V-25h1V0h1h1h1h1h1h1h1h1h1h1h1h1h1h1h1h1h1h1h1h1h1h1h1h1h1h1h1h1h1h1h1h1h1h1h1V-29h1V0h1h1h1h1h1h1h1h1h1h1h1h1h1h1h1h1h1h1V-13h1V0h1h1h1h1h1V-5h1V0h1h1h1h1h1h1h1h1h1h1h1h1h1h1h1h1h1h1h1h1h1h1h1h1h1h1h1h1h1h1h1h1h1V-19h1V0h1h1h1h1h1h1h1V-14h1V0h1h1h1h1h1h1h1h1h1h1h1h1h1h1h1h1h1h1h1h1h1h1h1h1h1h1h1h1h1h1h1h1h1h1h1h1h1h1h1h1h1h1h1h1h1h1h1h1h1h1h1V-21h1V0h1h1h1h1h1V-30h1V0h1h1h1V-11h1V0h1h1h1h1h1h1h1h1h1h1h1h1h1h1h1h1h1h1h1h1h1h1h1h1h1h1h1h1h1h1h1h1h1h1h1h1h1h1h1h1h1V-20h1V0h1h1h1h1h1h1h1h1h1h1h1h1h1h1h1h1h1h1h1h1V-8h1V0h1h1h1h1h1h1h1h1h1h1h1h1h1h1h1h1h1V-20h1V0h1h1h1h1h1h1h1h1h1h1h1h1h1h1h1h1h1h1h1h1h1h1h1h1h1h1h1h1h1V-15h1V0h1h1h1V0Z" fill="#75757f" transform="translate(46.80,802.40) scale(0.6,0.1)"/>
<line x1="46.80" y1="802.60" x2="272.80" y2="802.60" stroke="#b37d44" stroke-width="0.6"/>
<text x="279.00" y="801.90" font-size="9.24" fill="#1f1f1f" stroke="#1f1f1f" stroke-width="0.08" textLength="38.00" lengthAdjust="spacingAndGlyphs">Dox (d 7)</text>
<path d="M40.4,805.7h2.2V817.2h-2.2" fill="none" stroke="#555" stroke-width="0.7"/>
<text x="37.20" y="809.90" font-size="7.4" text-anchor="end" fill="#2a2a2a" stroke="#2a2a2a" stroke-width="0.08" textLength="7.20" lengthAdjust="spacingAndGlyphs">15</text>
<text x="37.20" y="816.80" font-size="7.4" text-anchor="end" fill="#2a2a2a" stroke="#2a2a2a" stroke-width="0.08">0</text>
<path d="M0,0V-18h1V-55h1V-20h1V-77h1V-30h1V-57h1V-45h1V-23h1V-40h1V-110h1V-52h1V-41h1V-50h1V-33h1V-29h1V-21h1V-36h1V-52h1V-40h1V-23h1V-39h1V-52h1V-14h1V-16h1V-7h1V-74h1V-15h1V-24h1V-66h1V-40h1V-24h1V-20h1V-96h1V-20h1V-14h1V-28h1V-32h1V-20h1V-8h1V-18h1V-15h1V-16h1h1V-26h1V-13h1V-24h1V-20h1V-33h1h1V-56h1V-49h1V-47h1V-41h1V-9h1V-10h1V-22h1V-54h1V-39h1V-27h1V-11h1V-33h1V-44h1V-36h1V-27h1V-11h1V-39h1V-60h1V-20h1V-41h1V-49h1V-18h1V-27h1V-19h1V-23h1V-60h1V-9h1V-23h1V-38h1V-6h1V-8h1V-15h1V-9h1V-18h1V-7h1V-15h1V-5h1V-105h1V-20h1V-70h1V-104h1V-57h1V-26h1V-73h1V-49h1V-70h1V-81h1V-49h1V-70h1V-84h1V-41h1V-36h1V-39h1V-34h1V-28h1V-19h1V-23h1V-48h1V-73h1V-55h1V-18h1V-47h1V-70h1V-26h1V-40h1V-48h1V-40h1V-24h1V-23h1V-74h1V-41h1V-51h1V-30h1V-6h1V-27h1V-85h1V-30h1V-54h1V-88h1V-12h1V-58h1V-18h1V-30h1V-105h1V-29h1V-19h1V-15h1V-2h1V-24h1V-50h1V-107h1V-28h1V-79h1V-110h1V-77h1V-36h1V-55h1V-46h1V-44h1V-25h1V-37h1V-70h1V-110h1h1h1V-69h1V-24h1V-28h1V-45h1V-20h1V-40h1V-44h1V-66h1V-57h1V-32h1V-23h1V-110h1h1V-51h1V-41h1V-31h1V-29h1V-16h1V-66h1V-110h1V-52h1V-40h1V-61h1V-62h1V-49h1V-35h1V-23h1V-17h1V-39h1V-38h1V-9h1V-37h1V-8h1V-20h1V-45h1V-20h1h1V-86h1V-19h1V-46h1V-29h1V-45h1V-53h1V-24h1V-91h1V-50h1V-67h1V-52h1V-11h1V-35h1V-26h1V-105h1V-16h1V-52h1V-64h1V-61h1V-33h1V-40h1V-46h1V-31h1h1V-85h1V-37h1V-33h1V-110h1V-68h1V-34h1V-38h1V-60h1V-51h1V-50h1V-68h1V-8h1V-26h1V-31h1h1V-30h1V-42h1V-11h1V-73h1V-50h1V-33h1V-13h1V-39h1V-59h1V-21h1V-56h1V-42h1V-51h1V-71h1V-41h1V-35h1V-66h1V-14h1V-35h1V-83h1V-42h1V-24h1V-51h1V-74h1V-98h1V-45h1V-20h1V-29h1V-62h1V-22h1V-62h1V-66h1V-93h1V-73h1V-31h1V-32h1V-23h1V-28h1V-39h1V-79h1V-81h1V-65h1V-57h1V-32h1V-15h1V-25h1V-78h1V-32h1V-102h1V-64h1h1V-65h1V-59h1V-52h1V-34h1V-96h1V-41h1V-56h1V-26h1V-40h1V-28h1V-44h1V-45h1V-19h1V-68h1V-5h1V-24h1V-59h1V-47h1V-44h1V-53h1V-46h1V-51h1V-31h1V-14h1V-28h1V-82h1V-21h1V-33h1V-23h1V-36h1V-43h1V-26h1V-32h1V-31h1V-17h1V-28h1V-41h1V-23h1V-16h1V-6h1V-21h1V-14h1V-12h1V-57h1V-38h1V-20h1V-40h1V-14h1V-37h1V-33h1V-34h1V-35h1V-15h1h1V-57h1V-110h1V-21h1V-39h1V-58h1V-8h1V-34h1V-18h1V-39h1V-36h1V-71h1V-31h1V-110h1V-77h1V-14h1V-8h1V-24h1V-44h1V-12h1V-21h1V-11h1V-39h1V-36h1V-37h1V-19h1V-27h1V-14h1V-24h1V-31h1V-83h1V-45h1V-87h1V-45h1V-20h1V-9h1V-25h1V-71h1V-84h1V-48h1V-42h1V-77h1V0Z" fill="#f8c48a" transform="translate(46.80,817.20) scale(0.6,0.1)"/>
<path d="M0,0V-18h1V-20h1h1V-23h1V-17h1V-28h1V-19h1V-23h1V-26h1V-16h1V-31h1V-30h1V-24h1V-30h1V-29h1V-20h1V-23h1V-31h1V-19h1V-16h1V-24h1V-15h1V-14h1V-16h1V-7h1V-22h1V-15h1V-19h1V-26h1V-30h1V-23h1V-19h1V-24h1V-20h1V-14h1V-19h1V-32h1V-18h1V-8h1V-18h1V-15h1V-16h1h1V-26h1V-13h1V-24h1V-20h1V-17h1V-16h1V-21h1V-28h1V-27h1V-30h1V-9h1V-10h1V-15h1V-21h1V-27h1V-17h1V-11h1V-23h1V-19h1V-15h1V-26h1V-11h1V-21h1V-25h1V-20h1V-24h1V-26h1V-17h1V-27h1V-19h1V-16h1V-18h1V-9h1V-23h1V-20h1V-6h1V-8h1V-15h1V-9h1V-18h1V-7h1V-15h1V-5h1V-15h1V-20h1h1V-31h1h1V-26h1V-28h1V-27h1V-21h1V-18h1V-19h1V-23h1V-24h1V-27h1V-23h1V-20h1V-32h1V-28h1V-19h1V-22h1V-23h1V-32h1V-19h1V-18h1V-17h1V-31h1V-26h1V-25h1V-18h1V-21h1V-16h1V-23h1V-16h1V-22h1V-27h1V-26h1V-6h1V-20h1V-16h1V-30h1V-15h1V-29h1V-12h1V-25h1V-18h1h1V-16h1V-15h1V-19h1V-15h1V-2h1V-24h1V-19h1V-25h1V-28h1V-23h1V-29h1V-27h1V-17h1V-30h1V-23h1V-16h1V-18h1V-29h1V-20h1V-19h1V-27h1V-19h1V-31h1V-15h1V-17h1V-25h1V-20h1V-28h1V-29h1V-27h1V-30h1V-21h1V-19h1V-21h1V-15h1V-25h1V-28h1V-21h1V-29h1V-16h1V-20h1V-25h1V-21h1V-23h1V-24h1V-16h1V-24h1V-29h1V-23h1V-17h1V-18h1V-17h1V-9h1V-21h1V-8h1V-20h1V-30h1V-17h1V-20h1V-21h1V-19h1V-16h1V-21h1h1V-16h1V-24h1V-29h1V-23h1V-24h1V-22h1V-11h1V-15h1V-25h1V-16h1h1V-30h1V-29h1V-18h1V-21h1h1V-24h1V-30h1V-17h1V-27h1V-22h1V-24h1V-23h1V-17h1V-19h1V-29h1V-32h1V-16h1h1V-27h1V-8h1V-17h1V-19h1V-26h1V-27h1V-30h1V-11h1V-19h1V-32h1V-27h1V-13h1V-32h1V-17h1V-21h1V-25h1V-26h1V-30h1V-21h1V-18h1V-16h1V-27h1V-14h1V-17h1V-29h1V-21h1V-22h1V-25h1V-31h1V-23h1V-27h1V-20h1V-29h1V-24h1V-22h1V-27h1h1V-19h1V-29h1V-22h1V-26h1V-17h1V-25h1h1V-19h1V-24h1V-16h1V-27h1V-21h1V-15h1V-17h1V-21h1V-18h1V-16h1h1V-24h1h1V-26h1V-27h1h1V-30h1V-26h1V-18h1V-26h1V-28h1V-23h1V-29h1V-28h1V-19h1V-26h1V-5h1V-16h1V-21h1V-16h1V-32h1V-28h1h1V-20h1h1V-14h1V-28h1V-27h1V-18h1V-31h1V-23h1h1V-30h1V-26h1V-24h1V-30h1V-17h1h1h1V-20h1V-16h1V-6h1V-15h1V-14h1V-12h1V-22h1V-23h1V-20h1V-26h1V-14h1V-23h1V-21h1V-32h1V-20h1V-15h1h1V-18h1V-26h1V-17h1V-21h1V-29h1V-8h1V-19h1V-18h1V-28h1V-21h1V-17h1V-26h1V-31h1V-16h1V-14h1V-8h1V-24h1V-23h1V-12h1V-21h1V-11h1V-15h1V-18h1V-32h1V-19h1V-27h1V-14h1V-24h1h1V-27h1V-26h1V-24h1V-25h1V-20h1V-9h1V-25h1V-29h1V-19h1V-23h1V-32h1V-23h1V0Z" fill="#b37d44" transform="translate(46.80,817.20) scale(0.6,0.1)"/>
<path d="M0,0h1h1h1h1h1V-19h1V0h1h1h1h1h1h1h1h1h1h1h1h1h1h1h1h1h1V-13h1V0h1h1h1h1h1h1h1h1h1V-14h1V0h1h1h1h1h1V-16h1V0h1h1h1h1h1h1h1V-14h1V0h1h1h1h1h1h1V-8h1V0h1h1h1h1h1h1h1h1h1h1h1h1h1h1h1V-9h1V0h1h1h1h1h1h1h1h1h1h1h1h1V-7h1V0h1h1h1h1h1h1h1h1h1h1h1h1h1h1h1h1h1h1h1h1h1h1h1h1h1h1h1V-17h1V0h1h1h1h1h1h1h1h1h1h1h1h1h1h1h1h1h1h1h1h1h1h1h1h1h1h1h1h1h1h1h1V-22h1V0h1V-27h1V0h1h1V-11h1V0h1h1h1h1h1h1h1h1h1h1h1h1h1h1h1h1h1h1h1h1h1V-17h1V0h1h1h1h1h1h1h1h1h1h1h1h1h1h1h1h1h1h1h1h1h1h1h1h1h1h1h1h1h1h1h1h1h1h1h1h1h1V-15h1V0h1h1h1h1h1h1h1h1h1h1h1h1h1h1h1h1h1h1h1h1h1h1h1h1h1h1h1h1h1h1h1h1h1h1h1h1h1h1h1h1h1h1h1h1h1h1h1h1h1h1h1h1h1h1V-19h1V0h1h1h1h1h1h1V-17h1V0h1h1h1h1h1h1h1h1h1h1h1h1h1h1h1h1h1h1h1h1h1h1h1h1h1h1h1h1h1h1h1h1h1h1h1h1h1h1h1h1h1h1h1h1h1h1h1h1h1h1h1h1h1h1h1h1h1h1h1h1h1h1h1h1h1V-16h1V0h1h1h1h1h1h1h1h1h1h1h1h1V-9h1V0h1h1h1h1h1h1h1h1V-22h1V0h1h1h1h1h1h1h1h1h1V-11h1V0h1h1h1h1V-12h1V0h1h1V0Z" fill="#75757f" transform="translate(46.80,817.20) scale(0.6,0.1)"/>
<line x1="46.80" y1="817.40" x2="272.80" y2="817.40" stroke="#b37d44" stroke-width="0.6"/>
<text x="279.00" y="816.50" font-size="9.44" fill="#1f1f1f" stroke="#1f1f1f" stroke-width="0.08" textLength="53.50" lengthAdjust="spacingAndGlyphs">Dox (d 7) wo</text>
<path d="M40.4,820.5h2.2V832.0h-2.2" fill="none" stroke="#555" stroke-width="0.7"/>
<text x="37.20" y="824.70" font-size="7.4" text-anchor="end" fill="#2a2a2a" stroke="#2a2a2a" stroke-width="0.08" textLength="7.20" lengthAdjust="spacingAndGlyphs">15</text>
<text x="37.20" y="831.60" font-size="7.4" text-anchor="end" fill="#2a2a2a" stroke="#2a2a2a" stroke-width="0.08">0</text>
<path d="M0,0V-35h1V-33h1V-56h1V-19h1V-20h1V-33h1V-59h1V-25h1V-90h1V-29h1V-49h1V-72h1V-44h1h1V-108h1V-106h1V-82h1V-38h1V-18h1V-62h1V-36h1V-53h1V-102h1V-43h1V-78h1V-41h1V-11h1V-53h1V-86h1V-55h1V-30h1V-6h1V-24h1V-90h1V-81h1V-13h1V-12h1V-16h1V-88h1V-37h1V-70h1V-56h1V-110h1V-103h1V-70h1V-79h1V-110h1h1V-51h1V-23h1V-62h1V-41h1V-58h1V-62h1V-27h1V-43h1V-37h1V-44h1V-26h1V-72h1V-98h1V-87h1V-19h1V-92h1V-47h1V-8h1V-32h1V-53h1V-74h1V-110h1V-62h1V-80h1V-44h1V-30h1V-110h1V-97h1V-38h1V-105h1V-63h1V-92h1V-74h1V-71h1V-84h1V-29h1V-41h1V-31h1V-63h1V-56h1V-77h1V-59h1V-24h1V-45h1V-31h1V-72h1V-31h1V-79h1V-17h1V-110h1V-41h1V-15h1V-48h1V-100h1V-54h1V-25h1V-32h1V-40h1V-92h1V-14h1V-87h1V-54h1V-79h1V-92h1V-31h1V-70h1V-50h1V-44h1V-18h1V-110h1h1V-15h1V-51h1V-57h1V-31h1V-61h1V-110h1V-8h1V-30h1V-70h1V-30h1V-23h1V-48h1V-8h1V-15h1V-95h1V-9h1V-47h1V-40h1V-47h1V-53h1V-29h1V-35h1V-51h1V-59h1V-27h1V-15h1V-50h1V-28h1V-97h1V-33h1V-36h1V-63h1V-80h1V-37h1V-15h1V-30h1V-24h1V-68h1V-58h1V-21h1V-18h1V-23h1V-90h1V-49h1V-26h1V-55h1V-81h1V-46h1V-30h1V-43h1V-78h1V-66h1V-76h1V-36h1V-52h1V-19h1V-5h1V-69h1V-17h1V-29h1V-39h1V-14h1V-31h1V-15h1V-36h1V-89h1V-32h1V-70h1V-85h1V-110h1V-87h1V-65h1V-54h1V-79h1V-23h1V-51h1V-32h1V-13h1V-46h1V-16h1V-67h1V-22h1V-13h1V-52h1V-28h1V-22h1V-12h1V-28h1V-58h1V-15h1V-21h1V-17h1V-25h1V-31h1V-17h1V-23h1V-45h1V-26h1V-23h1V-34h1V-13h1V-27h1V-21h1V-110h1h1h1V-53h1V-41h1V-63h1V-25h1V-32h1V-28h1V-29h1V-77h1V-50h1V-110h1V-108h1V-60h1V-53h1V-41h1V-70h1V-67h1V-63h1V-87h1V-110h1V-82h1V-63h1V-106h1V-32h1h1V-34h1V-107h1V-99h1V-43h1V-50h1V-93h1V-34h1V-37h1V-62h1V-13h1V-36h1V-54h1V-15h1V-25h1V-37h1V-34h1V-41h1V-44h1V-30h1V-69h1V-85h1V-55h1V-45h1V-21h1V-64h1V-31h1V-26h1V-24h1V-16h1V-7h1V-79h1V-26h1V-35h1V-42h1V-106h1V-74h1V-58h1V-73h1V-55h1V-87h1V-82h1V-64h1V-52h1V-110h1V-48h1V-98h1V-33h1V-60h1V-110h1V-44h1V-68h1V-110h1V-60h1h1V-45h1V-94h1V-63h1V-74h1V-27h1V-73h1V-81h1V-37h1V-17h1V-72h1V-44h1V-110h1V-34h1V-43h1V-86h1V-32h1V-17h1V-48h1V-12h1V-45h1V-21h1V-19h1V-94h1V-77h1V-50h1V-68h1V-21h1V-47h1V-67h1V-21h1V-10h1V-39h1V-50h1V-69h1V-68h1V-7h1V-69h1V-58h1V-70h1V-90h1V-27h1V-109h1V-17h1V-49h1V-21h1V-51h1V-46h1V-47h1V-36h1V-52h1V-68h1V-40h1V-41h1V-31h1V-62h1V-19h1V-79h1V-29h1V-33h1V-45h1V-64h1V-22h1V-104h1V-24h1V-44h1h1V-55h1V-95h1V-58h1V-44h1V-17h1V-110h1V-52h1V0Z" fill="#f8c48a" transform="translate(46.80,832.00) scale(0.6,0.1)"/>
<path d="M0,0V-33h1h1V-36h1V-19h1V-20h1V-25h1V-40h1V-25h1V-34h1V-29h1V-33h1V-39h1h1V-36h1V-20h1V-28h1V-32h1V-38h1V-18h1V-22h1V-24h1h1V-36h1V-30h1V-31h1V-28h1V-11h1V-35h1V-27h1V-35h1V-30h1V-6h1V-24h1V-33h1V-35h1V-13h1V-12h1V-16h1V-37h1V-35h1V-22h1V-39h1V-38h1V-25h1V-28h1V-22h1V-42h1V-21h1V-40h1V-23h1V-27h1V-33h1V-42h1V-34h1V-27h1V-31h1h1V-42h1V-26h1V-28h1V-41h1V-34h1V-19h1V-21h1V-36h1V-8h1V-32h1V-37h1V-30h1V-27h1V-42h1V-32h1V-43h1V-27h1V-28h1V-40h1V-21h1V-39h1V-34h1V-39h1V-36h1V-43h1V-39h1V-29h1V-24h1V-31h1V-25h1V-26h1h1V-21h1V-24h1V-20h1V-31h1V-22h1V-31h1V-43h1V-17h1V-34h1V-22h1V-15h1V-34h1V-31h1V-27h1V-22h1V-24h1V-22h1V-39h1V-14h1V-24h1V-40h1V-27h1V-40h1V-31h1h1V-23h1V-41h1V-18h1V-28h1V-40h1V-15h1V-43h1V-42h1V-31h1V-32h1V-42h1V-8h1V-30h1V-23h1V-30h1V-22h1V-23h1V-8h1V-15h1V-24h1V-9h1V-42h1V-20h1V-28h1V-21h1V-29h1V-24h1V-43h1V-32h1V-27h1V-15h1V-20h1V-28h1h1V-29h1V-36h1V-29h1V-37h1h1V-15h1V-30h1V-24h1V-22h1V-21h1h1V-18h1V-23h1V-41h1V-22h1V-26h1V-30h1V-26h1h1V-27h1V-41h1V-21h1V-30h1V-34h1V-21h1V-42h1V-19h1V-5h1V-39h1V-17h1V-24h1V-28h1V-14h1V-20h1V-15h1V-36h1V-26h1V-28h1V-31h1V-42h1V-32h1V-41h1V-28h1V-30h1V-25h1V-23h1V-35h1V-25h1V-13h1V-23h1V-16h1V-32h1V-22h1V-13h1V-33h1V-28h1V-22h1V-12h1V-23h1V-25h1V-15h1V-21h1V-17h1V-25h1V-29h1V-17h1V-23h1V-31h1V-21h1V-23h1V-34h1V-13h1V-27h1V-21h1V-26h1V-25h1V-40h1V-25h1V-31h1V-26h1V-25h1V-32h1V-28h1V-29h1V-22h1V-36h1V-34h1V-23h1V-32h1V-21h1h1V-43h1V-32h1V-21h1V-39h1V-29h1V-21h1V-35h1V-34h1V-20h1V-32h1V-21h1h1V-22h1h1V-40h1V-38h1V-26h1V-35h1V-42h1V-13h1V-34h1V-41h1V-15h1V-25h1V-31h1V-30h1V-23h1V-39h1V-26h1V-21h1V-31h1V-35h1V-25h1V-21h1V-33h1V-31h1V-26h1V-24h1V-16h1V-7h1V-26h1V-21h1V-33h1V-37h1V-32h1V-41h1V-26h1V-40h1V-20h1V-40h1V-32h1V-41h1V-23h1V-28h1V-22h1V-39h1V-32h1V-22h1V-35h1V-23h1V-22h1V-24h1V-37h1V-27h1V-36h1V-22h1h1V-25h1V-27h1V-37h1V-34h1V-37h1V-17h1V-32h1V-29h1V-32h1V-34h1V-41h1V-38h1V-29h1V-17h1V-43h1V-12h1V-33h1V-20h1V-19h1V-40h1V-26h1V-32h1V-33h1V-21h1V-40h1V-23h1V-21h1V-10h1V-33h1V-28h1V-32h1V-35h1V-7h1V-34h1V-21h1V-31h1V-26h1V-23h1V-37h1V-17h1V-24h1V-21h1V-39h1V-23h1V-30h1V-36h1V-23h1V-24h1V-40h1V-32h1V-24h1V-34h1V-19h1V-42h1V-26h1V-28h1V-26h1V-41h1V-22h1V-39h1V-24h1V-38h1V-22h1V-39h1V-42h1V-21h1V-37h1V-17h1V-28h1V-43h1V0Z" fill="#b37d44" transform="translate(46.80,832.00) scale(0.6,0.1)"/>
<path d="M0,0h1h1h1h1h1h1h1h1h1V-15h1V0h1h1h1h1V-11h1V-18h1V0h1h1V-16h1V0h1h1h1h1h1h1h1h1h1V-22h1V0h1h1h1h1h1h1h1h1h1h1h1h1h1h1h1h1h1h1h1h1h1h1h1h1h1h1h1h1h1h1V-26h1V0h1h1h1h1h1h1h1h1h1h1h1h1h1h1V-23h1V0h1h1h1h1h1h1h1h1h1h1h1h1h1h1h1h1h1h1h1h1h1h1h1V-19h1V0h1V-20h1V0h1h1h1h1h1h1h1h1h1h1h1h1h1h1h1h1h1h1h1h1h1h1h1h1h1V-22h1V0h1h1h1h1h1h1h1h1h1h1h1h1h1h1h1h1h1h1h1h1h1h1h1V-28h1V0h1h1h1h1V-19h1V0h1h1h1h1h1h1h1h1h1h1h1h1V-25h1V0h1V-21h1V0h1h1h1h1h1h1h1h1h1V-9h1V0h1h1h1h1h1h1V-29h1V0h1h1h1h1h1h1h1V-14h1V0h1h1h1h1h1h1h1h1h1h1h1h1h1h1h1V-14h1V0h1h1h1h1h1h1h1h1h1h1h1h1h1h1h1h1h1h1V-15h1V0h1h1h1h1h1h1h1h1h1h1h1h1h1h1h1h1h1h1h1h1h1h1h1h1h1h1h1h1h1h1h1h1h1h1h1h1h1h1h1h1h1h1h1h1h1h1h1h1h1h1V-25h1V0h1h1h1h1h1h1h1h1h1h1h1h1h1h1h1h1V-13h1V0h1h1h1V-21h1V0h1h1h1h1h1h1h1h1h1h1h1h1h1h1h1h1h1h1V-9h1V0h1h1h1h1h1h1h1h1h1h1h1h1h1h1h1h1h1V-20h1V0h1h1h1h1h1h1h1h1h1h1h1h1h1h1h1h1h1h1h1h1V-18h1V0h1h1h1V-11h1V0h1h1h1h1h1h1h1h1h1h1h1V0Z" fill="#75757f" transform="translate(46.80,832.00) scale(0.6,0.1)"/>
<line x1="46.80" y1="832.20" x2="272.80" y2="832.20" stroke="#b37d44" stroke-width="0.6"/>
<text x="279.00" y="831.10" font-size="9.06" fill="#1f1f1f" stroke="#1f1f1f" stroke-width="0.08" textLength="42.30" lengthAdjust="spacingAndGlyphs">Dox (d 21)</text>
<path d="M40.4,835.3h2.2V846.8h-2.2" fill="none" stroke="#555" stroke-width="0.7"/>
<text x="37.20" y="839.50" font-size="7.4" text-anchor="end" fill="#2a2a2a" stroke="#2a2a2a" stroke-width="0.08" textLength="7.20" lengthAdjust="spacingAndGlyphs">15</text>
<text x="37.20" y="846.40" font-size="7.4" text-anchor="end" fill="#2a2a2a" stroke="#2a2a2a" stroke-width="0.08">0</text>
<path d="M0,0V-56h1V-72h1V-55h1V-25h1V-24h1V-10h1V-47h1V-21h1V-41h1V-77h1V-45h1V-29h1V-36h1V-34h1V-24h1V-42h1V-39h1V-10h1V-16h1V-31h1V-18h1V-27h1V-16h1V-14h1V-6h1h1V-5h1V-17h1V-19h1V-8h1V-18h1V-22h1V-38h1V-30h1V-15h1V-18h1V-19h1V-26h1V-5h1V-56h1V-18h1V-48h1V-9h1V-39h1V-32h1V-20h1V-14h1h1V-41h1V-33h1V-20h1V-42h1h1V-14h1V-17h1V-34h1V-28h1V-39h1V-17h1V-33h1V-8h1V-63h1V-43h1V-59h1V-10h1V-33h1V-35h1V-94h1V-28h1V-6h1V-34h1V-49h1V-50h1V-6h1V-68h1V-31h1V-34h1V-35h1V-27h1V-51h1V-53h1V-14h1V-25h1V-43h1V-41h1V-48h1V-70h1V-11h1V-66h1V-22h1V-20h1V-21h1V-12h1V-4h1V-17h1V-16h1V-18h1V-13h1V-8h1V-16h1V-13h1V-14h1V-15h1V-22h1V-4h1V-14h1V-9h1V-28h1V-40h1V-41h1V-24h1V-34h1V-45h1V-59h1V-14h1V-20h1V-23h1V-32h1V-66h1V-26h1V-5h1V-22h1V-14h1V-28h1V-40h1V-5h1V-53h1V-28h1V-32h1V-11h1V-24h1V-18h1V-26h1V-4h1V-15h1V-24h1V-25h1V-62h1V-14h1V-5h1V-46h1V-13h1V-18h1V-30h1V-34h1V-37h1V-17h1V-16h1V-13h1V-17h1V-3h1V-5h1V-6h1V-10h1V-25h1V-13h1V-5h1V-25h1V-19h1V-4h1V-43h1V-6h1V-24h1V-2h1V-3h1V-17h1V-4h1h1V-17h1V-5h1V-42h1V-36h1V-50h1V-26h1V-29h1V-36h1V-15h1V-49h1V-23h1V-24h1V-15h1V-36h1V-11h1V-29h1V-12h1V-53h1V-35h1h1V-19h1V-34h1V-35h1V-22h1V-61h1V-21h1V-36h1h1V-42h1V-40h1V-29h1V-8h1V-60h1V-30h1V-32h1V-39h1V-27h1V-20h1V-11h1V-17h1V-9h1V-8h1V-65h1V-68h1V-25h1V-22h1V-20h1V-39h1V-8h1V-16h1V-4h1V-7h1V-26h1V-5h1V-11h1V-49h1V-36h1V-47h1V-28h1V-9h1V-19h1V-26h1V-23h1V-31h1V-18h1V-23h1V-15h1V-30h1V-12h1V-17h1V-11h1V-6h1V-16h1V-33h1V-5h1V-20h1V-22h1V-15h1V-10h1V-23h1V-6h1V-11h1V-33h1V-30h1V-25h1V-7h1V-2h1V-41h1V-10h1V-21h1V-19h1V-22h1V-33h1V-55h1V-28h1V-13h1V-20h1V-8h1V-20h1V-19h1V-57h1V-46h1V-26h1V-12h1V-27h1V-15h1V-28h1V-19h1h1V-13h1V-31h1V-13h1V-5h1V-10h1V-30h1V-47h1V-1h1V-4h1V-17h1V-7h1V-8h1V-31h1V-54h1V-7h1V-44h1V-57h1V-36h1V-9h1V-29h1V-16h1V-33h1V-8h1V-22h1V-55h1V-30h1V-16h1V-38h1V-24h1V-62h1V-31h1V-13h1V-37h1V-16h1h1V-13h1V-21h1V-68h1V-10h1V-50h1V-5h1V-31h1V-10h1V-12h1V-35h1V-12h1V-38h1V-69h1V-30h1V-24h1V-25h1V-27h1V-8h1V-26h1V-12h1V-43h1V-52h1V-25h1V-34h1V-54h1V-40h1V-8h1V-31h1V-18h1V-25h1V-14h1V-19h1V-35h1V-64h1V-40h1V-24h1V-7h1V-10h1V-7h1V-9h1V-13h1V-5h1h1V-16h1V-36h1V-24h1V-26h1V-23h1V-26h1V-28h1V-67h1V-66h1V-9h1V-32h1V-11h1V-3h1V-11h1V-6h1V-35h1V-27h1V-19h1V-13h1V-24h1V-16h1V0Z" fill="#f8c48a" transform="translate(46.80,846.80) scale(0.6,0.1)"/>
<path d="M0,0V-11h1h1V-16h1V-10h1V-20h1V-10h1V-17h1V-11h1h1V-10h1V-15h1V-14h1V-10h1V-15h1V-13h1V-17h1V-12h1V-10h1V-12h1V-17h1V-16h1h1h1V-14h1V-6h1h1V-5h1V-17h1V-18h1V-8h1V-18h1V-14h1V-20h1V-12h1V-15h1V-10h1V-11h1V-18h1V-5h1V-13h1V-10h1V-18h1V-9h1V-18h1V-16h1V-15h1V-11h1V-14h1h1h1V-19h1V-18h1V-14h1V-10h1V-13h1V-19h1V-14h1V-12h1h1V-16h1V-8h1V-18h1V-16h1V-13h1V-10h1h1V-19h1h1V-20h1V-6h1V-11h1V-12h1V-11h1V-6h1V-20h1h1V-12h1V-20h1V-15h1h1V-12h1V-14h1V-12h1V-10h1V-19h1h1V-17h1V-11h1V-10h1V-13h1V-11h1V-17h1V-12h1V-4h1V-10h1V-11h1V-17h1V-11h1V-8h1V-16h1V-13h1h1V-10h1V-13h1V-4h1V-13h1V-9h1V-15h1V-17h1V-11h1V-16h1V-20h1V-17h1V-11h1V-14h1V-20h1V-15h1V-13h1V-16h1V-14h1V-5h1V-18h1V-13h1V-16h1V-9h1V-5h1V-10h1V-17h1V-16h1V-10h1V-19h1V-16h1V-19h1V-4h1V-15h1V-19h1V-16h1V-17h1V-14h1V-5h1V-17h1V-13h1V-16h1V-10h1h1V-11h1V-17h1V-14h1V-13h1V-17h1V-3h1V-5h1V-6h1V-10h1V-19h1V-13h1V-5h1V-17h1V-14h1V-4h1V-19h1V-6h1V-16h1V-2h1V-3h1V-10h1V-4h1h1V-10h1V-5h1V-15h1V-10h1V-18h1V-20h1V-16h1h1V-12h1V-18h1V-10h1V-11h1V-15h1h1V-11h1V-19h1V-12h1h1V-17h1V-19h1V-15h1V-18h1V-15h1V-11h1V-19h1V-10h1V-13h1V-15h1V-13h1V-19h1V-11h1V-8h1V-14h1h1h1V-11h1V-18h1V-19h1V-11h1V-17h1V-9h1V-8h1V-17h1V-15h1V-14h1V-19h1V-10h1V-17h1V-8h1V-16h1V-4h1V-7h1V-14h1V-5h1V-11h1h1V-16h1V-20h1V-16h1V-9h1h1V-18h1V-17h1V-18h1h1V-10h1V-9h1V-12h1h1V-17h1V-10h1V-6h1V-16h1V-13h1V-5h1V-11h1V-16h1V-10h1h1h1V-6h1V-11h1V-18h1V-11h1V-13h1V-7h1V-2h1V-12h1V-10h1h1V-16h1V-12h1V-15h1V-9h1V-13h1h1h1V-8h1V-18h1V-11h1V-10h1V-18h1V-10h1V-12h1V-15h1h1V-20h1V-13h1V-11h1V-13h1V-15h1V-11h1V-5h1V-10h1V-13h1V-18h1V-1h1V-4h1V-17h1V-7h1V-8h1V-17h1V-20h1V-7h1V-12h1V-15h1h1V-9h1V-18h1V-16h1V-15h1V-8h1V-11h1V-20h1V-12h1V-16h1V-18h1V-15h1V-17h1V-14h1V-9h1V-16h1h1V-14h1V-13h1h1V-12h1V-10h1V-16h1V-5h1V-17h1V-10h1h1V-17h1V-12h1h1V-9h1V-20h1V-15h1V-17h1h1V-8h1V-19h1V-12h1V-20h1V-15h1V-14h1V-15h1V-9h1V-18h1V-8h1V-13h1V-16h1V-20h1V-14h1V-17h1V-18h1V-16h1V-17h1h1V-7h1V-10h1V-7h1V-9h1V-13h1V-5h1h1V-16h1V-11h1V-18h1h1V-13h1V-17h1V-16h1V-14h1h1V-9h1V-15h1V-11h1V-3h1V-11h1V-6h1V-15h1V-20h1V-17h1V-11h1V-15h1V-16h1V0Z" fill="#b37d44" transform="translate(46.80,846.80) scale(0.6,0.1)"/>
<path d="M0,0h1h1h1h1h1h1h1h1h1h1h1h1h1h1h1h1h1h1h1h1h1h1h1h1h1h1h1V-9h1V0h1h1h1h1h1h1h1h1h1h1h1h1h1h1h1h1h1h1h1h1h1h1h1h1h1h1h1h1h1h1h1h1h1h1h1h1h1h1V-15h1V0h1h1h1h1h1h1h1h1h1h1V-19h1V0h1h1h1h1h1h1h1h1h1V-8h1V0h1h1h1h1h1V-3h1V0h1V-8h1V0h1h1h1h1h1V-13h1V0h1h1h1h1h1h1h1h1h1h1h1h1h1h1h1h1h1h1h1h1h1h1h1h1h1h1V-8h1V-9h1V0h1h1h1h1h1h1h1h1h1h1h1h1h1h1V-6h1V0h1h1V-10h1V0h1h1h1h1h1V-9h1V0h1h1h1h1h1h1V-11h1V0h1V-8h1V0h1h1h1h1h1h1h1h1h1V-16h1V0h1h1V-9h1V0h1h1h1h1h1h1h1h1h1h1h1h1h1h1h1h1h1h1h1h1h1h1h1h1h1h1h1h1h1V-11h1V0h1h1h1h1h1h1h1h1V-5h1V0h1h1h1h1h1h1h1h1h1h1h1h1h1h1h1h1h1h1V-9h1V0h1h1V-7h1V0h1h1h1h1h1h1h1h1h1h1h1h1V-10h1V0h1h1h1h1h1h1h1h1h1h1h1h1h1V-8h1V0h1h1h1h1h1h1h1h1V-8h1V0h1h1h1h1h1h1h1h1h1h1h1h1h1h1h1h1h1h1h1h1h1h1h1h1V-13h1V0h1h1h1h1h1h1h1h1h1h1V-7h1V0h1h1h1h1h1h1h1h1h1h1h1h1h1h1h1h1h1h1h1h1V-6h1V0h1h1h1h1h1h1h1h1h1h1h1h1h1h1h1h1h1h1V-4h1V0h1h1h1h1h1h1h1h1V-13h1V0h1h1h1h1h1h1h1h1h1h1h1h1h1h1h1h1h1h1V0Z" fill="#75757f" transform="translate(46.80,846.80) scale(0.6,0.1)"/>
<line x1="46.80" y1="847.00" x2="272.80" y2="847.00" stroke="#b37d44" stroke-width="0.6"/>
<text x="279.00" y="845.70" font-size="9.3" fill="#1f1f1f" stroke="#1f1f1f" stroke-width="0.08" textLength="57.90" lengthAdjust="spacingAndGlyphs">Dox (d 21) wo</text>
<path d="M40.4,858.1h2.2V870.1h-2.2" fill="none" stroke="#555" stroke-width="0.7"/>
<text x="37.20" y="862.30" font-size="7.4" text-anchor="end" fill="#2a2a2a" stroke="#2a2a2a" stroke-width="0.08" textLength="8.60" lengthAdjust="spacingAndGlyphs">45</text>
<text x="37.20" y="869.70" font-size="7.4" text-anchor="end" fill="#2a2a2a" stroke="#2a2a2a" stroke-width="0.08">0</text>
<path d="M0,0V-30h1V-22h1V-33h1V-19h1V-24h1V-44h1V-18h1V-27h1V-28h1V-10h1V-22h1V-16h1V-18h1V-5h1V-6h1V-3h1h1V-2h1V-10h1V-6h1V-4h1V-3h1V-4h1V-5h1V-7h1V-8h1V-3h1V-4h1h1h1h1V-5h1V-6h1V-5h1V-6h1V-3h1h1V-5h1V-6h1V-9h1V-2h1V-3h1V-4h1V-5h1V-7h1h1V-6h1V-4h1V-2h1V-9h1V-5h1V-1h1h1V-3h1V-2h1V-1h1V-3h1h1h1V-4h1V-2h1h1h1V-7h1V-2h1h1V-3h1V-2h1V-1h1V-2h1V-1h1V-5h1V-3h1h1h1V-2h1V-3h1V-2h1h1h1h1V-4h1h1V-15h1V-23h1V-10h1V-24h1V-15h1V-9h1V-13h1V-7h1V-11h1V-38h1V-1h1V-3h1V-1h1h1h1h1h1h1V-2h1V-1h1V-2h1V-1h1h1h1h1V-2h1V-1h1V-2h1h1h1h1V-3h1V-1h1V-2h1V-1h1h1h1V-2h1V-1h1V-3h1V-1h1V-2h1V-1h1V-2h1h1V-1h1V-3h1h1V-2h1h1V-1h1h1V-2h1V-1h1V-2h1V-1h1V-2h1V-3h1V-2h1V-5h1V-3h1V-1h1V-2h1V-4h1V-1h1V-5h1V-8h1V-2h1V-5h1h1V-3h1h1V-4h1V-8h1V-3h1h1h1V-11h1V-3h1V-5h1V-3h1V-4h1h1h1V-3h1h1V-2h1h1h1h1V-4h1V-3h1h1V-2h1V-4h1V-2h1h1h1h1V-4h1V-2h1h1V-3h1V-7h1V-2h1V-3h1h1V-6h1V-2h1V-4h1V-2h1h1V-3h1V-2h1V-3h1V-5h1V-2h1V-4h1V-5h1V-2h1V-3h1h1V-1h1V-2h1V-3h1V-2h1V-3h1V-1h1V-2h1h1V-1h1V-3h1V-2h1V-3h1V-2h1V-3h1V-1h1V-2h1V-4h1V-6h1V-4h1V-2h1h1V-6h1V-3h1V-4h1V-3h1V-4h1V-7h1V-2h1V-5h1V-2h1V-5h1V-2h1V-8h1V-1h1V-2h1V-1h1h1V-4h1V-2h1V-3h1V-4h1V-2h1V-3h1V-6h1V-2h1V-4h1V-2h1V-1h1V-2h1V-3h1V-2h1V-12h1h1V-8h1V-11h1V-10h1V-8h1V-12h1V-15h1V-20h1V-14h1V-10h1V-12h1V-4h1V-6h1V-2h1V-3h1V-4h1V-5h1V-2h1V-5h1V-2h1V-3h1V-6h1V-3h1V-7h1V-5h1V-3h1V-4h1h1h1V-3h1V-5h1h1V-4h1h1V-3h1V-4h1V-6h1V-5h1V-3h1V-5h1V-2h1V-4h1V-5h1V-4h1V-9h1V-4h1V-3h1h1V-8h1V-4h1V-3h1V-12h1V-3h1V-5h1V-6h1V-5h1V-3h1V-8h1h1V-4h1V-6h1V-8h1V-4h1V-1h1V-2h1h1V-5h1V-2h1V-3h1h1V-4h1V-2h1h1h1h1V-1h1V-5h1V-3h1h1V-66h1V-15h1V-9h1V-14h1V-10h1V-38h1V-13h1V-17h1V-22h1V-9h1V-4h1V-10h1V-6h1V-2h1V-5h1V-10h1V-5h1V-6h1V-4h1V-5h1V-2h1h1V-4h1V-6h1V-3h1V-7h1h1V-4h1V-5h1V-7h1V-6h1V-3h1V-4h1V-27h1V-25h1V-18h1V-27h1V-20h1V-14h1V-12h1h1h1V-38h1V-25h1V0Z" fill="#ee9ca0" transform="translate(44.70,870.10) scale(0.6,0.1)"/>
<path d="M0,0V-25h1V-19h1V-26h1V-15h1V-18h1V-34h1V-17h1V-24h1V-25h1V-8h1V-20h1V-13h1V-16h1V-4h1V-5h1V-3h1V-2h1h1V-8h1V-6h1V-4h1V-3h1h1V-5h1V-6h1V-7h1V-3h1V-4h1h1V-3h1V-4h1h1V-5h1V-4h1V-5h1V-3h1V-2h1V-5h1V-6h1V-7h1V-2h1h1V-3h1V-4h1V-6h1h1h1V-4h1V-2h1V-7h1V-4h1V-1h1h1V-2h1h1V-1h1V-2h1h1V-3h1h1V-1h1h1V-2h1V-6h1V-2h1h1h1h1V-1h1V-2h1V-1h1V-4h1V-2h1h1V-3h1V-2h1h1V-1h1V-2h1V-1h1V-2h1V-4h1V-3h1V-12h1V-22h1V-9h1V-22h1V-13h1V-8h1V-12h1V-6h1V-8h1V-34h1V-1h1V-2h1V-1h1h1h1h1h1h1h1h1V-2h1V-1h1h1h1h1V-2h1V-1h1h1V-2h1h1V-1h1V-2h1V-1h1V-2h1V-1h1h1h1V-2h1V-1h1V-3h1V-1h1h1h1V-2h1h1V-1h1V-2h1V-3h1V-1h1V-2h1V-1h1h1h1h1V-2h1V-1h1V-2h1V-3h1V-2h1V-5h1V-2h1V-1h1V-2h1V-3h1V-1h1V-4h1V-7h1V-1h1V-4h1V-5h1V-2h1h1V-3h1V-7h1V-2h1V-3h1V-2h1V-9h1V-2h1V-4h1V-2h1V-3h1V-4h1V-3h1h1h1V-2h1h1h1h1V-4h1V-2h1V-3h1V-2h1V-3h1V-2h1h1h1h1V-4h1V-2h1V-1h1V-3h1V-6h1V-2h1V-3h1V-2h1V-5h1V-2h1V-3h1V-2h1h1h1V-1h1V-3h1V-4h1V-2h1V-3h1V-5h1V-2h1V-3h1V-2h1V-1h1V-2h1h1h1V-3h1V-1h1V-2h1h1V-1h1V-2h1h1h1h1V-3h1V-1h1V-2h1V-4h1V-6h1V-3h1V-2h1h1V-5h1V-2h1V-3h1h1V-4h1V-7h1V-2h1V-5h1V-2h1V-4h1V-2h1V-6h1V-1h1V-2h1V-1h1h1V-3h1V-1h1V-2h1V-3h1V-1h1V-2h1V-5h1V-2h1V-3h1V-2h1V-1h1V-2h1h1h1V-10h1V-11h1V-7h1V-9h1h1V-6h1V-10h1V-13h1V-19h1V-13h1V-8h1V-10h1V-3h1V-5h1V-2h1V-3h1h1V-4h1V-2h1V-4h1V-2h1h1V-4h1V-3h1V-6h1V-5h1V-3h1h1h1h1V-2h1V-4h1h1V-3h1h1h1h1V-5h1V-4h1V-2h1V-4h1V-2h1V-4h1h1h1V-7h1V-3h1h1h1V-7h1V-3h1h1V-9h1V-3h1V-4h1V-5h1V-4h1V-3h1V-6h1V-7h1V-3h1V-5h1V-7h1V-3h1V-1h1h1h1V-4h1V-1h1V-3h1h1V-4h1V-2h1h1h1h1V-1h1V-4h1V-3h1V-2h1V-62h1V-14h1V-9h1V-13h1V-9h1V-36h1V-12h1V-14h1V-18h1V-8h1V-3h1V-8h1V-5h1V-2h1V-4h1V-9h1V-4h1V-6h1V-4h1h1V-2h1h1V-3h1V-5h1V-3h1V-7h1V-6h1V-4h1V-5h1V-6h1V-4h1V-2h1V-4h1V-24h1V-20h1V-14h1V-25h1V-19h1V-13h1V-11h1h1V-10h1V-31h1V-23h1V0Z" fill="#e36f77" transform="translate(44.70,870.10) scale(0.6,0.1)"/>
<line x1="44.70" y1="870.30" x2="272.80" y2="870.30" stroke="#e36f77" stroke-width="0.6"/>
<text x="279.00" y="870.10" font-size="10.2" fill="#1f1f1f" stroke="#1f1f1f" stroke-width="0.08" textLength="32.90" lengthAdjust="spacingAndGlyphs">Control</text>
<path d="M40.4,872.7h2.2V884.7h-2.2" fill="none" stroke="#555" stroke-width="0.7"/>
<text x="37.20" y="876.90" font-size="7.4" text-anchor="end" fill="#2a2a2a" stroke="#2a2a2a" stroke-width="0.08" textLength="8.60" lengthAdjust="spacingAndGlyphs">45</text>
<text x="37.20" y="884.30" font-size="7.4" text-anchor="end" fill="#2a2a2a" stroke="#2a2a2a" stroke-width="0.08">0</text>
<path d="M0,0V-32h1V-26h1V-98h1V-33h1V-27h1V-86h1V-70h1V-36h1V-70h1V-24h1V-45h1V-37h1V-44h1V-80h1V-21h1V-58h1V-38h1V-30h1V-33h1V-30h1V-31h1V-32h1V-27h1h1V-22h1V-27h1V-65h1V-55h1V-25h1V-36h1V-37h1V-17h1V-20h1V-44h1V-58h1V-22h1V-28h1V-31h1V-76h1V-50h1V-41h1V-32h1V-33h1V-39h1V-38h1V-49h1V-54h1V-29h1V-51h1V-22h1V-34h1V-74h1V-47h1V-23h1V-55h1V-57h1V-54h1V-49h1V-88h1V-67h1V-43h1V-26h1V-27h1V-100h1V-63h1V-37h1V-67h1V-59h1V-44h1V-35h1V-28h1V-32h1V-20h1V-40h1V-37h1V-46h1V-78h1V-79h1V-46h1V-71h1V-55h1V-42h1V-44h1V-28h1V-56h1V-22h1V-34h1h1V-39h1V-18h1V-67h1V-79h1V-25h1V-48h1V-41h1V-37h1V-40h1V-72h1V-28h1V-54h1V-22h1V-33h1V-38h1V-35h1V-39h1V-30h1V-33h1V-43h1V-23h1V-48h1V-30h1V-29h1h1V-115h1V-81h1V-37h1V-42h1V-74h1V-37h1V-62h1V-35h1V-85h1V-31h1V-26h1V-115h1V-46h1V-43h1V-55h1V-38h1V-72h1V-96h1V-115h1V-67h1V-115h1V-49h1V-34h1V-35h1V-32h1V-38h1V-48h1V-51h1V-107h1V-30h1V-43h1V-65h1V-52h1V-29h1V-48h1V-28h1V-29h1V-41h1V-33h1V-84h1V-34h1V-79h1V-45h1V-51h1V-46h1V-37h1V-58h1V-24h1V-51h1V-81h1V-38h1V-45h1V-54h1V-56h1V-59h1V-54h1V-39h1V-67h1V-25h1V-63h1V-45h1V-115h1V-91h1V-72h1V-2h1V-4h1V-2h1V-4h1V-2h1V-4h1V-2h1V-1h1V-3h1V-1h1V-2h1V-3h1V-2h1h1V-1h1V-2h1V-4h1V-2h1V-3h1V-2h1h1V-3h1V-1h1h1h1h1V-2h1V-4h1V-2h1V-3h1V-1h1V-2h1h1V-1h1V-2h1V-1h1V-2h1h1V-4h1V-2h1V-1h1h1h1h1h1V-2h1h1V-1h1V-2h1V-1h1h1h1V-2h1V-1h1h1h1V-2h1h1V-3h1V-2h1h1V-1h1h1V-3h1V-2h1h1h1V-1h1V-2h1V-1h1h1h1h1h1V-2h1V-4h1V-22h1V-28h1V-22h1V-23h1h1V-25h1V-28h1V-33h1V-29h1V-30h1V-63h1V-32h1V-15h1V-19h1V-115h1V-19h1V-46h1V-66h1V-39h1V-34h1V-17h1V-53h1V-20h1V-32h1V-12h1V-18h1V-36h1V-14h1V-19h1V-38h1V-27h1V-12h1V-29h1V-25h1V-16h1V-28h1V-34h1V-30h1V-27h1V-49h1V-54h1V-21h1V-30h1V-26h1V-40h1V-23h1V-52h1V-32h1V-65h1V-58h1V-36h1V-42h1V-49h1V0h1h1h1V-15h1V-58h1V-30h1V-34h1V-37h1V-22h1V-76h1V-62h1V-26h1V-42h1V-47h1V-60h1V-31h1V-80h1V-58h1V-22h1V-34h1V-30h1V-61h1V-33h1V-61h1V-66h1V-81h1V-57h1V-22h1V-37h1V-41h1V-54h1V-53h1V-72h1V-27h1V-28h1V-49h1V-48h1V-29h1V-32h1V-24h1V-31h1h1V-25h1V-49h1V-34h1V-32h1V-36h1V-27h1V-16h1V-54h1V-37h1V-21h1V-37h1V-29h1V-23h1V-26h1V-23h1V-73h1V-31h1V-26h1V-19h1V-39h1V-37h1V-13h1V-34h1V-21h1V-59h1V-41h1V-63h1V-51h1V-43h1V-71h1V-41h1V-26h1V0Z" fill="#ee9ca0" transform="translate(44.70,884.70) scale(0.6,0.1)"/>
<path d="M0,0V-29h1V-20h1V-90h1V-26h1V-21h1V-75h1V-54h1V-30h1V-66h1V-19h1V-38h1V-34h1h1V-67h1V-18h1V-46h1V-36h1V-24h1V-27h1V-26h1V-24h1V-30h1V-26h1V-21h1V-20h1V-25h1V-49h1V-43h1V-19h1V-34h1V-29h1V-16h1V-17h1V-35h1V-54h1V-20h1V-25h1V-29h1V-64h1V-38h1V-34h1V-27h1V-30h1V-32h1h1V-39h1V-48h1V-23h1V-41h1V-17h1V-28h1V-62h1V-41h1V-17h1V-50h1V-47h1V-49h1V-42h1V-75h1V-55h1V-37h1V-22h1V-21h1V-91h1V-54h1V-29h1V-60h1V-49h1V-40h1V-29h1V-23h1V-28h1V-16h1V-38h1V-30h1V-42h1V-74h1V-68h1V-41h1V-55h1V-46h1V-31h1V-34h1V-22h1V-45h1V-19h1V-29h1V-31h1V-35h1V-17h1V-51h1V-63h1V-19h1V-38h1V-39h1V-34h1V-37h1V-55h1V-22h1V-41h1V-17h1V-25h1V-30h1h1V-35h1V-28h1V-26h1V-37h1V-20h1V-40h1V-26h1V-27h1V-24h1V-90h1V-61h1V-33h1h1V-63h1V-31h1V-56h1V-33h1V-70h1V-28h1V-24h1V-88h1V-36h1V-34h1V-47h1V-34h1V-67h1V-75h1V-105h1V-57h1V-95h1V-41h1V-27h1V-32h1V-26h1V-34h1V-45h1V-47h1V-93h1V-26h1V-37h1V-55h1V-48h1V-26h1V-45h1V-23h1V-24h1V-33h1V-30h1V-67h1V-29h1V-65h1V-35h1V-45h1V-39h1V-32h1V-51h1V-22h1V-48h1V-65h1V-33h1V-35h1V-46h1V-52h1V-45h1V-44h1V-33h1V-61h1V-23h1V-60h1V-42h1V-99h1V-86h1V-55h1V-2h1V-3h1V-1h1V-3h1V-2h1V-3h1V-2h1V-1h1V-2h1V-1h1V-2h1h1h1h1V-1h1V-2h1V-4h1V-1h1V-2h1V-1h1h1V-2h1V-1h1h1h1h1V-2h1V-4h1V-2h1h1V-1h1h1V-2h1V-1h1h1h1V-2h1V-1h1V-3h1V-1h1h1h1h1h1h1V-2h1h1V-1h1h1h1h1h1V-2h1V-1h1h1h1h1h1V-2h1V-1h1h1h1h1V-3h1V-1h1V-2h1h1V-1h1V-2h1V-1h1h1h1h1h1V-2h1V-3h1V-20h1V-22h1V-20h1h1V-21h1V-20h1V-21h1V-29h1V-23h1V-24h1V-57h1V-25h1V-14h1V-15h1V-90h1V-15h1V-42h1V-56h1V-36h1V-30h1V-16h1V-41h1V-19h1V-25h1V-11h1V-14h1V-28h1V-11h1V-15h1V-29h1V-25h1V-10h1V-25h1V-20h1V-13h1V-26h1V-30h1V-27h1V-21h1V-45h1h1V-17h1V-27h1V-20h1V-35h1V-18h1V-40h1V-28h1V-50h1V-51h1V-29h1V-39h1V-37h1V0h1h1h1V-14h1V-46h1V-24h1V-27h1V-31h1V-17h1V-58h1V-53h1V-24h1V-34h1V-40h1V-50h1V-27h1V-65h1V-52h1V-18h1V-31h1V-26h1V-51h1V-31h1V-51h1V-60h1V-75h1V-49h1V-20h1V-29h1V-34h1V-44h1V-50h1V-62h1V-22h1V-24h1V-41h1V-42h1V-25h1V-31h1V-19h1V-25h1V-27h1V-21h1V-37h1V-30h1h1V-32h1V-20h1V-14h1V-41h1V-31h1V-19h1V-30h1V-23h1V-21h1V-24h1V-20h1V-57h1V-26h1V-21h1V-16h1V-34h1V-29h1V-12h1V-30h1V-20h1V-51h1V-37h1V-56h1V-44h1V-34h1V-58h1V-31h1V-20h1V0Z" fill="#e36f77" transform="translate(44.70,884.70) scale(0.6,0.1)"/>
<line x1="44.70" y1="884.90" x2="272.80" y2="884.90" stroke="#e36f77" stroke-width="0.6"/>
<text x="279.00" y="884.90" font-size="9.24" fill="#1f1f1f" stroke="#1f1f1f" stroke-width="0.08" textLength="38.00" lengthAdjust="spacingAndGlyphs">Dox (d 7)</text>
<path d="M40.4,887.3h2.2V899.3h-2.2" fill="none" stroke="#555" stroke-width="0.7"/>
<text x="37.20" y="891.50" font-size="7.4" text-anchor="end" fill="#2a2a2a" stroke="#2a2a2a" stroke-width="0.08" textLength="8.60" lengthAdjust="spacingAndGlyphs">45</text>
<text x="37.20" y="898.90" font-size="7.4" text-anchor="end" fill="#2a2a2a" stroke="#2a2a2a" stroke-width="0.08">0</text>
<path d="M0,0V-41h1V-19h1V-22h1V-18h1V-27h1V-13h1V-18h1V-32h1V-31h1V-42h1h1V-33h1V-24h1V-61h1V-28h1V-17h1V-23h1h1V-15h1V-13h1V-50h1V-45h1V-63h1V-14h1V-53h1V-27h1V-61h1V-45h1V-17h1V-25h1V-31h1V-63h1V-40h1V-52h1V-14h1V-21h1h1V-22h1V-17h1V-43h1V-62h1V-55h1V-24h1V-20h1V-25h1V-26h1V-25h1V-44h1V-40h1V-38h1V-29h1V-42h1V-14h1V-21h1V-25h1V-21h1V-23h1V-15h1V-34h1V-21h1V-17h1V-19h1V-18h1V-12h1V-14h1V-9h1V-14h1V-10h1V-15h1V-22h1V-25h1V-16h1h1V-14h1V-10h1V-34h1V-23h1V-14h1V-29h1V-36h1V-46h1V-29h1V-23h1V-24h1V-45h1V-42h1V-37h1V-22h1V-20h1V-13h1V-26h1V-23h1V-12h1V-17h1V-42h1V-20h1V-41h1V-33h1V-15h1V-37h1V-15h1V-49h1V-11h1V-19h1V-37h1V-13h1V-7h1V-12h1V-18h1V-14h1V-9h1V-12h1V-42h1V-21h1V-37h1V-65h1V-88h1V-18h1V-21h1V-15h1V-24h1h1V-20h1V-28h1V-37h1V-38h1V-23h1V-31h1V-47h1V-21h1V-17h1V-21h1V-47h1V-12h1V-13h1V-26h1V-29h1V-25h1h1V-14h1V-34h1V-14h1h1V-21h1V-20h1V-15h1V-18h1V-17h1V-23h1V-39h1V-79h1V-29h1V-43h1V-15h1V-17h1V-21h1V-16h1V-19h1V-30h1V-10h1V-26h1V-22h1V-28h1V-39h1V-43h1V-19h1V-30h1V-24h1V-26h1V-20h1V-51h1V-2h1h1V-3h1V-1h1V-2h1V-1h1h1V-2h1V-3h1V-4h1V-1h1h1h1V-5h1V-2h1V-1h1h1h1h1h1V-4h1V-3h1V-2h1V-1h1V-2h1V-1h1V-2h1h1V-1h1h1V-2h1h1V-1h1h1V-3h1V-1h1V-3h1V-2h1V-1h1h1V-2h1h1V-1h1h1h1V-2h1V-3h1V-2h1h1V-1h1h1h1V-4h1V-2h1V-1h1V-2h1V-1h1V-3h1V-2h1V-1h1h1h1h1V-2h1h1V-1h1h1h1h1V-3h1V-1h1V-4h1V-1h1V-2h1h1V-3h1V-1h1h1V-2h1V-1h1V-3h1V-1h1V-21h1V-54h1h1V-30h1V-31h1V-59h1V-25h1V-16h1h1V-21h1V-16h1V-21h1h1V-16h1V-14h1V-36h1V-12h1V-14h1V-12h1V-29h1V-26h1V-28h1V-23h1V-40h1V-35h1V-11h1V-20h1V-17h1V-28h1V-34h1V-35h1V-25h1V-33h1V-55h1V-28h1V-31h1V-28h1V-52h1V-38h1V-12h1V-28h1V-51h1V-21h1V-42h1V-38h1V-20h1V-11h1V-23h1V-18h1V-14h1V-32h1V-14h1V-22h1V0h1h1h1V-19h1V-30h1h1V-25h1V-12h1V-20h1V-44h1V-21h1V-16h1V-14h1V-23h1V-14h1V-23h1V-43h1V-26h1V-31h1V-18h1V-17h1V-18h1V-12h1V-14h1V-9h1V-36h1h1V-11h1V-19h1V-22h1V-30h1V-25h1V-45h1V-15h1V-21h1V-65h1V-39h1V-21h1V-17h1V-25h1V-22h1V-26h1V-63h1V-18h1V-34h1V-15h1V-64h1V-27h1V-36h1V-14h1V-16h1V-60h1V-13h1V-22h1V-29h1V-35h1V-20h1V-34h1V-31h1V-24h1V-47h1V-34h1V-17h1V-23h1V-21h1V-15h1V-12h1V-18h1V-22h1V-26h1V-14h1V-19h1V-12h1V-18h1V0Z" fill="#ee9ca0" transform="translate(44.70,899.30) scale(0.6,0.1)"/>
<path d="M0,0V-32h1V-16h1V-18h1V-14h1V-23h1V-10h1V-14h1V-29h1V-25h1V-39h1V-33h1V-29h1V-21h1V-49h1V-22h1V-15h1V-20h1V-19h1V-12h1V-11h1V-47h1V-36h1V-49h1V-12h1V-44h1V-24h1V-55h1V-40h1V-15h1V-23h1V-26h1V-55h1V-37h1V-48h1V-13h1V-19h1V-18h1V-16h1V-15h1V-38h1V-50h1V-42h1V-19h1V-17h1V-24h1V-22h1V-20h1V-34h1V-37h1V-31h1V-28h1V-35h1V-13h1V-16h1V-23h1V-19h1V-18h1V-12h1V-31h1V-17h1V-14h1V-17h1V-15h1V-9h1V-11h1V-8h1V-12h1V-10h1V-13h1V-17h1V-19h1V-14h1h1V-11h1V-10h1V-28h1V-17h1V-12h1V-22h1V-34h1V-41h1V-25h1V-20h1V-18h1V-42h1V-37h1V-31h1V-18h1V-15h1V-12h1V-23h1V-22h1V-12h1V-14h1V-33h1V-15h1V-37h1V-26h1V-13h1V-34h1V-14h1V-46h1V-10h1V-14h1V-29h1V-10h1V-7h1V-9h1V-16h1V-12h1V-8h1V-11h1V-36h1V-17h1V-35h1V-60h1V-70h1V-15h1V-19h1V-12h1V-21h1V-22h1V-18h1V-22h1V-28h1V-32h1V-19h1V-28h1V-41h1V-20h1V-15h1V-17h1V-38h1V-10h1V-11h1V-24h1V-25h1V-23h1h1V-11h1V-29h1V-11h1V-12h1V-18h1V-15h1V-12h1V-17h1V-15h1V-17h1V-34h1V-61h1V-23h1V-41h1V-11h1V-13h1V-18h1V-13h1V-16h1V-25h1V-9h1V-22h1V-18h1V-26h1V-36h1V-40h1V-16h1V-23h1V-21h1V-23h1V-19h1V-39h1V-2h1h1h1V-1h1h1h1h1V-2h1h1V-3h1V-1h1h1h1V-4h1V-2h1V-1h1h1h1h1h1V-3h1V-2h1V-1h1h1h1h1V-2h1V-1h1h1h1V-2h1V-1h1h1h1V-3h1V-1h1V-3h1V-1h1h1h1V-2h1V-1h1h1h1h1V-2h1V-3h1V-2h1V-1h1h1h1h1V-3h1V-2h1V-1h1V-2h1V-1h1V-2h1V-1h1h1h1h1h1h1h1h1h1h1h1V-2h1V-1h1V-3h1V-1h1h1V-2h1h1V-1h1h1V-2h1V-1h1V-2h1V-1h1V-19h1V-43h1V-48h1V-26h1V-23h1V-53h1V-20h1V-14h1h1V-17h1V-13h1V-19h1V-17h1V-15h1V-12h1V-31h1V-10h1V-12h1V-11h1V-26h1V-24h1V-22h1V-20h1V-34h1V-31h1V-9h1V-19h1V-14h1V-21h1V-31h1V-29h1V-21h1V-30h1V-49h1V-26h1V-25h1V-26h1V-42h1V-30h1V-11h1V-25h1V-47h1V-16h1V-40h1V-35h1V-17h1V-9h1V-19h1V-15h1V-14h1V-25h1V-13h1V-19h1V0h1h1h1V-15h1V-25h1V-24h1V-23h1V-11h1V-17h1V-37h1V-19h1V-13h1V-12h1V-18h1V-12h1V-19h1V-37h1V-20h1V-23h1V-16h1V-15h1V-16h1V-11h1V-13h1V-8h1V-31h1V-33h1V-9h1V-15h1V-18h1V-24h1V-20h1V-40h1V-12h1V-18h1V-60h1V-30h1V-17h1V-13h1V-19h1V-20h1V-22h1V-57h1V-17h1V-27h1V-14h1V-56h1V-22h1V-32h1V-13h1h1V-53h1V-11h1V-17h1V-26h1V-31h1V-15h1V-29h1h1V-21h1V-37h1V-31h1V-16h1V-18h1V-17h1V-11h1V-10h1V-15h1V-19h1h1V-13h1V-15h1V-10h1V-17h1V0Z" fill="#e36f77" transform="translate(44.70,899.30) scale(0.6,0.1)"/>
<line x1="44.70" y1="899.50" x2="272.80" y2="899.50" stroke="#e36f77" stroke-width="0.6"/>
<text x="279.00" y="899.70" font-size="9.44" fill="#1f1f1f" stroke="#1f1f1f" stroke-width="0.08" textLength="53.50" lengthAdjust="spacingAndGlyphs">Dox (d 7) wo</text>
<path d="M40.4,902.1h2.2V914.1h-2.2" fill="none" stroke="#555" stroke-width="0.7"/>
<text x="37.20" y="906.30" font-size="7.4" text-anchor="end" fill="#2a2a2a" stroke="#2a2a2a" stroke-width="0.08" textLength="8.60" lengthAdjust="spacingAndGlyphs">45</text>
<text x="37.20" y="913.70" font-size="7.4" text-anchor="end" fill="#2a2a2a" stroke="#2a2a2a" stroke-width="0.08">0</text>
<path d="M0,0V-53h1V-50h1V-45h1V-46h1V-42h1V-22h1V-40h1V-64h1V-86h1V-37h1V-47h1V-59h1V-108h1V-63h1V-61h1V-99h1V-115h1V-63h1V-81h1V-42h1V-37h1V-115h1V-45h1h1V-32h1V-31h1V-71h1V-33h1V-94h1V-22h1V-43h1V-24h1V-31h1h1V-23h1V-38h1V-37h1V-29h1V-85h1V-62h1V-59h1V-40h1V-49h1V-30h1V-75h1V-65h1V-115h1V-38h1V-61h1V-69h1V-33h1V-50h1V-21h1V-87h1V-20h1V-35h1V-22h1V-38h1V-23h1V-34h1V-37h1V-61h1V-93h1V-17h1V-48h1V-58h1V-32h1V-13h1V-16h1V-17h1V-71h1V-20h1V-15h1V-29h1V-37h1V-23h1V-38h1V-25h1V-11h1V-20h1V-23h1V-40h1V-33h1V-64h1V-47h1V-23h1V-33h1V-26h1V-33h1V-22h1V-63h1V-55h1V-56h1V-45h1V-39h1V-50h1V-68h1V-48h1V-31h1V-53h1V-80h1V-44h1V-45h1V-44h1V-26h1V-33h1V-44h1V-43h1V-73h1V-41h1V-29h1V-30h1V-26h1V-8h1h1V-1h1V-4h1V-6h1V-23h1V-9h1V-14h1V-26h1V-31h1V-39h1V-61h1V-40h1V-49h1V-36h1V-63h1V-115h1V-33h1V-28h1V-23h1V-32h1V-21h1V-71h1V-31h1V-26h1V-23h1V-67h1V-33h1V-57h1V-46h1V-34h1V-59h1V-72h1V-77h1V-50h1V-67h1V-52h1V-59h1V-40h1V-39h1V-84h1V-100h1V-91h1V-52h1V-32h1V-38h1V-115h1V-107h1V-54h1V-48h1V-60h1V-73h1V-55h1V-46h1V-57h1V-60h1V-53h1V-37h1V-65h1V-31h1V-54h1V-48h1V-42h1V-38h1V-2h1V-1h1V-2h1V-1h1V-4h1V-2h1h1h1h1h1V-5h1V-3h1V-1h1V-2h1V-4h1V-2h1V-1h1V-3h1V-2h1V-1h1h1V-4h1V-3h1h1V-1h1h1h1h1h1h1h1h1V-2h1V-1h1h1h1V-2h1V-3h1V-1h1h1h1h1h1V-2h1V-1h1V-4h1V-2h1V-1h1V-2h1h1V-3h1V-1h1V-2h1h1V-1h1V-2h1h1h1h1h1h1V-3h1V-2h1h1V-1h1V-4h1V-3h1V-5h1V-1h1h1V-2h1V-1h1h1V-3h1V-1h1V-2h1V-35h1V-22h1h1V-44h1V-60h1V-28h1V-33h1V-55h1V-34h1V-32h1V-48h1V-25h1V-42h1V-32h1V-45h1V-42h1V-26h1V-74h1V-20h1V-24h1h1V-45h1V-56h1V-51h1V-20h1V-16h1V-35h1V-29h1V-24h1V-42h1V-26h1V-40h1V-22h1V-23h1V-89h1V-31h1V-45h1V-33h1V-54h1V-37h1V-67h1V-22h1V-46h1V-26h1V-34h1V-24h1V-42h1V-21h1V-26h1V-30h1V-17h1h1V-56h1V0h1h1h1V-43h1V-48h1V-114h1V-54h1V-50h1V-38h1V-47h1V-23h1V-55h1V-40h1V-21h1V-22h1V-28h1V-21h1V-27h1V-26h1V-44h1V-28h1V-22h1V-31h1V-22h1V-31h1V-47h1V-48h1V-82h1V-27h1V-115h1V-59h1V-66h1V-32h1V-42h1V-54h1V-26h1V-68h1V-37h1V-39h1V-25h1V-42h1V-24h1V-94h1V-37h1h1V-66h1V-22h1V-25h1V-30h1V-24h1V-55h1V-40h1V-47h1V-115h1V-82h1V-36h1V-74h1V-43h1V-101h1V-68h1V-65h1V-90h1V-107h1V-43h1V-44h1V-62h1V-93h1V-87h1V-93h1h1V-60h1V-57h1V-84h1V-46h1V0Z" fill="#ee9ca0" transform="translate(44.70,914.10) scale(0.6,0.1)"/>
<path d="M0,0V-42h1V-44h1V-39h1h1V-36h1V-17h1V-31h1V-53h1V-78h1V-30h1V-41h1V-51h1V-91h1V-48h1V-58h1V-76h1V-105h1V-53h1V-65h1V-38h1V-32h1V-105h1V-40h1V-41h1V-27h1V-24h1V-66h1V-28h1V-72h1V-19h1V-37h1V-19h1V-26h1V-24h1V-21h1V-35h1V-32h1V-27h1V-80h1V-48h1h1V-32h1V-46h1V-26h1V-69h1V-49h1V-92h1V-33h1V-52h1V-58h1V-25h1V-44h1V-19h1V-81h1V-18h1V-32h1V-21h1V-31h1V-21h1V-32h1V-35h1V-49h1V-84h1V-14h1V-39h1V-50h1V-29h1V-12h1V-13h1V-16h1V-55h1V-17h1V-14h1V-24h1V-28h1V-20h1V-30h1V-19h1V-9h1V-15h1V-18h1V-34h1V-26h1V-57h1V-37h1V-21h1V-28h1V-23h1V-25h1V-20h1V-59h1V-46h1V-52h1V-36h1V-32h1V-38h1V-53h1V-39h1V-23h1V-45h1V-61h1V-37h1V-35h1V-41h1V-23h1V-25h1V-39h1V-37h1V-61h1V-37h1V-24h1V-23h1V-22h1V-6h1V-7h1V-1h1V-3h1V-5h1V-18h1V-7h1V-11h1V-22h1V-24h1V-36h1V-52h1V-35h1V-40h1V-33h1V-59h1V-104h1V-28h1V-25h1V-21h1V-29h1V-18h1V-67h1V-24h1V-22h1V-18h1V-51h1V-31h1V-54h1V-43h1V-32h1V-45h1V-63h1V-60h1V-45h1V-56h1V-45h1V-49h1V-32h1V-31h1V-71h1V-77h1V-81h1V-49h1V-28h1V-33h1V-94h1V-84h1V-52h1V-45h1V-53h1V-68h1V-45h1V-35h1V-43h1V-55h1V-46h1V-31h1V-61h1V-27h1V-48h1V-39h1V-33h1V-30h1V-1h1h1V-2h1V-1h1V-3h1V-1h1V-2h1V-1h1V-2h1V-1h1V-4h1V-3h1V-1h1V-2h1V-3h1V-2h1V-1h1V-2h1V-1h1h1h1V-3h1V-2h1h1V-1h1h1h1h1h1h1h1h1h1h1h1h1V-2h1V-3h1V-1h1h1h1h1h1h1h1V-3h1V-2h1V-1h1h1V-2h1h1V-1h1h1V-2h1V-1h1V-2h1h1h1h1h1h1h1h1V-1h1h1V-3h1V-2h1V-4h1V-1h1h1V-2h1V-1h1h1V-2h1V-1h1V-2h1V-28h1V-17h1h1V-38h1V-45h1V-23h1V-29h1V-49h1V-30h1h1V-39h1V-24h1V-37h1V-27h1V-42h1V-37h1V-22h1V-57h1V-16h1V-20h1V-23h1V-40h1V-45h1V-40h1V-17h1V-13h1V-32h1V-23h1V-20h1V-40h1V-21h1V-34h1V-20h1V-18h1V-80h1V-28h1V-35h1V-28h1V-46h1V-28h1V-58h1V-21h1V-35h1V-21h1V-28h1V-23h1V-33h1V-18h1V-23h1V-27h1V-15h1V-16h1V-50h1V0h1h1h1V-40h1V-44h1V-107h1V-49h1V-46h1V-30h1V-39h1V-20h1V-41h1V-32h1V-18h1V-19h1V-21h1V-18h1V-22h1V-24h1V-35h1V-23h1V-17h1V-26h1V-17h1V-28h1V-40h1V-37h1V-74h1V-22h1V-90h1V-53h1V-57h1V-29h1V-39h1V-50h1V-20h1V-60h1V-29h1V-31h1V-22h1V-37h1V-20h1V-76h1V-33h1V-29h1V-56h1V-20h1V-22h1V-24h1V-19h1V-52h1V-37h1V-35h1V-100h1V-73h1V-27h1V-64h1V-40h1V-81h1V-59h1V-57h1V-77h1V-98h1V-39h1V-38h1V-57h1V-74h1V-77h1V-84h1V-82h1V-48h1V-50h1V-72h1V-44h1V0Z" fill="#e36f77" transform="translate(44.70,914.10) scale(0.6,0.1)"/>
<line x1="44.70" y1="914.30" x2="272.80" y2="914.30" stroke="#e36f77" stroke-width="0.6"/>
<text x="279.00" y="914.30" font-size="9.06" fill="#1f1f1f" stroke="#1f1f1f" stroke-width="0.08" textLength="42.30" lengthAdjust="spacingAndGlyphs">Dox (d 21)</text>
<path d="M40.4,917.4h2.2V929.4h-2.2" fill="none" stroke="#555" stroke-width="0.7"/>
<text x="37.20" y="921.60" font-size="7.4" text-anchor="end" fill="#2a2a2a" stroke="#2a2a2a" stroke-width="0.08" textLength="8.60" lengthAdjust="spacingAndGlyphs">45</text>
<text x="37.20" y="929.00" font-size="7.4" text-anchor="end" fill="#2a2a2a" stroke="#2a2a2a" stroke-width="0.08">0</text>
<path d="M0,0V-14h1V-12h1V-40h1V-13h1V-14h1V-27h1V-16h1V-29h1V-18h1V-9h1V-20h1V-12h1V-18h1V-14h1V-6h1V-7h1V-16h1V-17h1V-20h1V-21h1V-16h1V-26h1V-11h1V-16h1V-28h1V-52h1V-34h1V-36h1V-11h1V-13h1V-20h1h1V-23h1V-21h1V-11h1V-29h1V-37h1V-53h1V-45h1V-15h1V-22h1V-20h1h1V-12h1V-28h1V-11h1V-15h1V-11h1V-34h1V-41h1V-24h1V-20h1V-15h1V-33h1V-27h1V-15h1V-48h1V-15h1V-16h1V-29h1V-30h1V-22h1V-48h1V-63h1V-14h1V-25h1V-23h1V-34h1V-22h1V-17h1V-29h1V-14h1V-33h1V-22h1V-28h1V-29h1V-16h1V-22h1V-11h1h1V-16h1h1V-18h1V-14h1V-17h1V-12h1V-28h1V-14h1V-43h1V-15h1V-29h1V-12h1V-15h1V-16h1V-31h1V-29h1V-36h1V-11h1V-21h1V-27h1V-18h1V-11h1V-25h1V-30h1V-24h1V-40h1V-16h1V-17h1V-12h1V-18h1V-16h1V-12h1V-15h1V-9h1V-25h1V-8h1V-15h1V-32h1V-18h1V-13h1V-15h1V-20h1h1V-12h1V-15h1V-17h1V-13h1V-22h1V-6h1V-21h1V-11h1V-33h1V-30h1V-18h1V-32h1V-17h1V-21h1V-25h1V-19h1V-13h1V-17h1h1V-11h1V-19h1V-18h1V-31h1V-10h1V-24h1V-19h1V-13h1V-7h1V-15h1V-29h1V-13h1V-17h1V-12h1V-14h1V-23h1V-36h1V-34h1V-13h1V-27h1V-22h1V-35h1V-42h1V-12h1V-16h1V-26h1V-14h1V-31h1V-39h1V-26h1h1h1V-17h1V-22h1V-15h1V-2h1h1V-1h1V-2h1V-1h1h1h1h1h1h1h1h1h1V-2h1V-1h1V-2h1h1h1V-1h1V-2h1V-1h1h1h1V-2h1V-1h1V-2h1h1h1h1V-3h1V-4h1V-2h1h1V-1h1V-2h1V-1h1h1V-2h1h1V-1h1h1h1h1h1h1h1h1h1h1V-2h1h1V-4h1V-1h1V-3h1V-2h1V-1h1h1V-2h1V-1h1V-2h1V-1h1h1h1V-2h1V-1h1h1V-2h1V-1h1V-2h1V-1h1V-4h1V-2h1V-1h1h1V-2h1h1V-13h1V-24h1V-19h1V-40h1V-21h1V-18h1V-17h1h1V-20h1V-31h1V-27h1V-12h1V-28h1V-24h1V-22h1V-16h1V-18h1V-24h1V-15h1V-17h1V-15h1V-46h1V-44h1V-31h1h1V-61h1V-38h1V-41h1V-20h1V-22h1V-13h1V-14h1V-16h1V-15h1V-32h1V-23h1V-16h1V-24h1V-29h1V-18h1V-28h1V-13h1V-34h1V-18h1V-26h1V-21h1V-28h1V-21h1V-22h1V-15h1V-16h1V-14h1V-7h1V-42h1V-14h1V-7h1V-21h1V-14h1V-20h1V-19h1V-9h1V-15h1V-10h1V-14h1V-9h1V-10h1V-8h1V-9h1V-14h1V-25h1V-24h1V-12h1V-32h1V-19h1V-16h1h1V-33h1V-28h1V-68h1V-23h1V-53h1V-15h1V-14h1V-17h1V-10h1V-12h1V-22h1V-14h1h1V-13h1V-26h1V-16h1V-18h1V-37h1V-36h1V-19h1V-20h1V-9h1V-15h1V-43h1V-11h1V-7h1V-19h1V-20h1V-21h1V-24h1V-19h1V-18h1V-11h1V-23h1V-15h1V-33h1V-25h1V-15h1V-17h1V-9h1V-18h1V-9h1V-17h1V-11h1V-22h1V-23h1V-30h1V-32h1V-11h1V-28h1V-30h1V0Z" fill="#ee9ca0" transform="translate(44.70,929.40) scale(0.6,0.1)"/>
<path d="M0,0V-13h1V-9h1V-32h1V-12h1V-11h1V-24h1V-14h1V-24h1V-17h1V-8h1V-18h1V-10h1V-16h1V-11h1V-5h1h1V-13h1V-14h1V-18h1h1V-13h1V-21h1V-9h1V-14h1V-25h1V-45h1V-29h1V-34h1V-9h1V-12h1V-17h1V-16h1V-21h1V-17h1V-9h1V-26h1V-33h1V-40h1V-42h1V-13h1V-21h1V-17h1V-16h1V-11h1V-23h1V-10h1V-13h1V-8h1V-26h1V-32h1V-21h1V-18h1V-14h1V-29h1V-25h1V-12h1V-40h1V-14h1V-15h1V-27h1V-24h1V-20h1V-44h1V-59h1V-12h1V-20h1V-19h1V-26h1V-17h1V-15h1V-24h1V-13h1V-28h1V-17h1V-25h1V-27h1V-15h1V-18h1V-8h1V-10h1V-14h1V-12h1V-14h1V-11h1V-15h1V-10h1V-21h1V-11h1V-38h1V-13h1V-23h1V-10h1V-12h1V-13h1V-28h1V-27h1h1V-8h1V-19h1V-25h1V-17h1V-9h1V-20h1V-25h1V-22h1V-33h1V-12h1V-16h1V-10h1V-15h1h1V-10h1V-13h1V-7h1V-22h1V-6h1V-12h1V-28h1V-16h1V-10h1V-14h1V-16h1V-17h1V-9h1V-12h1V-16h1V-11h1V-18h1V-5h1V-18h1V-8h1V-29h1V-28h1V-14h1V-30h1V-14h1V-18h1V-22h1V-15h1V-11h1V-13h1V-14h1V-9h1V-16h1V-14h1V-25h1V-9h1V-20h1V-17h1V-10h1V-5h1V-12h1V-25h1V-12h1V-14h1V-9h1V-11h1V-21h1V-34h1V-28h1V-10h1V-21h1V-17h1V-26h1V-31h1V-10h1V-15h1V-20h1V-11h1V-25h1V-35h1V-20h1V-24h1V-23h1V-13h1V-19h1V-13h1V-1h1V-2h1V-1h1V-2h1V-1h1h1h1h1h1h1h1h1h1V-2h1V-1h1V-2h1h1h1V-1h1h1h1h1h1h1h1h1h1V-2h1h1V-3h1h1V-1h1V-2h1V-1h1V-2h1V-1h1h1V-2h1h1V-1h1h1h1h1h1h1h1h1h1h1V-2h1V-1h1V-3h1V-1h1V-2h1h1V-1h1h1V-2h1V-1h1h1h1h1h1V-2h1V0h1V-1h1V-2h1V-1h1h1h1V-4h1V-1h1h1h1h1V-2h1V-10h1V-19h1V-16h1V-37h1V-17h1h1V-14h1V-16h1V-18h1V-26h1V-21h1V-9h1V-26h1V-20h1V-17h1V-14h1V-16h1V-21h1V-13h1h1h1V-36h1V-40h1V-26h1V-25h1V-49h1V-30h1V-36h1V-18h1V-20h1V-10h1V-11h1V-14h1V-13h1V-28h1V-20h1V-13h1V-21h1V-27h1V-15h1V-25h1V-12h1V-26h1V-16h1V-20h1V-17h1V-26h1V-19h1h1V-11h1V-13h1V-11h1V-6h1V-39h1V-11h1V-5h1V-17h1V-13h1V-18h1V-16h1V-7h1V-13h1V-8h1V-11h1V-9h1h1V-7h1V-8h1V-12h1V-23h1V-20h1V-11h1V-27h1V-15h1V-13h1V-12h1V-26h1V-23h1V-65h1V-19h1V-49h1V-13h1V-12h1V-15h1V-10h1h1V-17h1V-13h1V-12h1V-10h1V-24h1V-15h1h1V-30h1V-31h1V-17h1V-18h1V-8h1V-13h1V-34h1V-9h1V-6h1V-17h1h1V-16h1V-19h1V-18h1V-15h1V-10h1V-21h1V-12h1V-29h1V-19h1V-13h1V-15h1V-8h1V-16h1V-7h1V-15h1V-10h1V-19h1V-18h1V-23h1V-25h1V-9h1V-22h1V-26h1V0Z" fill="#e36f77" transform="translate(44.70,929.40) scale(0.6,0.1)"/>
<line x1="44.70" y1="929.60" x2="272.80" y2="929.60" stroke="#e36f77" stroke-width="0.6"/>
<text x="279.00" y="928.80" font-size="9.3" fill="#1f1f1f" stroke="#1f1f1f" stroke-width="0.08" textLength="57.90" lengthAdjust="spacingAndGlyphs">Dox (d 21) wo</text>
<text x="21.00" y="623.05" font-size="9.1" text-anchor="middle" fill="#1f1f1f" stroke="#1f1f1f" stroke-width="0.08" textLength="49.90" lengthAdjust="spacingAndGlyphs" transform="rotate(-90 21.00 623.05)">H2AK119Ub</text>
<line x1="23.50" y1="593.80" x2="23.50" y2="656.40" stroke="#444" stroke-width="0.8"/>
<text x="7.60" y="607.30" font-size="7.87" text-anchor="middle" fill="#2a2a2a" stroke="#2a2a2a" stroke-width="0.08" textLength="7.00" lengthAdjust="spacingAndGlyphs" transform="rotate(-90 7.60 607.30)">Xi</text>
<rect x="1.50" y="613.00" width="6.00" height="6.60" fill="#f5b56e" stroke="#777" stroke-width="0.4"/>
<text x="7.60" y="630.80" font-size="7.52" text-anchor="middle" fill="#2a2a2a" stroke="#2a2a2a" stroke-width="0.08" textLength="9.20" lengthAdjust="spacingAndGlyphs" transform="rotate(-90 7.60 630.80)">Xa</text>
<rect x="1.50" y="637.40" width="6.00" height="6.10" fill="#5d5d66" stroke="#555" stroke-width="0.4"/>
<text x="20.90" y="705.15" font-size="9.57" text-anchor="middle" fill="#1f1f1f" stroke="#1f1f1f" stroke-width="0.08" textLength="47.90" lengthAdjust="spacingAndGlyphs" transform="rotate(-90 20.90 705.15)">H3K27me3</text>
<line x1="23.30" y1="674.80" x2="23.30" y2="736.40" stroke="#444" stroke-width="0.8"/>
<text x="7.60" y="686.20" font-size="7.2" text-anchor="middle" fill="#2a2a2a" stroke="#2a2a2a" stroke-width="0.08" textLength="6.40" lengthAdjust="spacingAndGlyphs" transform="rotate(-90 7.60 686.20)">Xi</text>
<rect x="1.50" y="692.00" width="6.00" height="7.00" fill="#ec7a82" stroke="#777" stroke-width="0.4"/>
<text x="7.60" y="709.20" font-size="7.36" text-anchor="middle" fill="#2a2a2a" stroke="#2a2a2a" stroke-width="0.08" textLength="9.00" lengthAdjust="spacingAndGlyphs" transform="rotate(-90 7.60 709.20)">Xa</text>
<rect x="1.50" y="716.20" width="6.00" height="6.40" fill="#5d5d66" stroke="#555" stroke-width="0.4"/>
<text x="20.90" y="807.65" font-size="9.35" text-anchor="middle" fill="#1f1f1f" stroke="#1f1f1f" stroke-width="0.08" textLength="51.30" lengthAdjust="spacingAndGlyphs" transform="rotate(-90 20.90 807.65)">H2AK119Ub</text>
<line x1="25.00" y1="779.60" x2="25.00" y2="841.00" stroke="#444" stroke-width="0.8"/>
<text x="9.20" y="793.00" font-size="7.2" text-anchor="middle" fill="#2a2a2a" stroke="#2a2a2a" stroke-width="0.08" textLength="6.40" lengthAdjust="spacingAndGlyphs" transform="rotate(-90 9.20 793.00)">Xi</text>
<rect x="3.10" y="798.30" width="6.00" height="5.60" fill="#f5b56e" stroke="#777" stroke-width="0.4"/>
<text x="9.20" y="814.15" font-size="7.2" text-anchor="middle" fill="#2a2a2a" stroke="#2a2a2a" stroke-width="0.08" textLength="7.70" lengthAdjust="spacingAndGlyphs" transform="rotate(-90 9.20 814.15)">Xa</text>
<rect x="3.10" y="821.20" width="6.00" height="6.90" fill="#5d5d66" stroke="#555" stroke-width="0.4"/>
<text x="20.90" y="889.75" font-size="9.69" text-anchor="middle" fill="#1f1f1f" stroke="#1f1f1f" stroke-width="0.08" textLength="48.50" lengthAdjust="spacingAndGlyphs" transform="rotate(-90 20.90 889.75)">H3K27me3</text>
<line x1="25.00" y1="859.00" x2="25.00" y2="922.00" stroke="#444" stroke-width="0.8"/>
<text x="9.00" y="873.25" font-size="7.31" text-anchor="middle" fill="#2a2a2a" stroke="#2a2a2a" stroke-width="0.08" textLength="6.50" lengthAdjust="spacingAndGlyphs" transform="rotate(-90 9.00 873.25)">Xi</text>
<rect x="2.90" y="878.80" width="6.00" height="7.20" fill="#ec7a82" stroke="#777" stroke-width="0.4"/>
<text x="9.00" y="896.20" font-size="7.2" text-anchor="middle" fill="#2a2a2a" stroke="#2a2a2a" stroke-width="0.08" textLength="7.60" lengthAdjust="spacingAndGlyphs" transform="rotate(-90 9.00 896.20)">Xa</text>
<rect x="2.90" y="903.40" width="6.00" height="6.90" fill="#5d5d66" stroke="#555" stroke-width="0.4"/>
<text x="75.40" y="762.70" font-size="9.78" fill="#1f1f1f" stroke="#1f1f1f" stroke-width="0.08" textLength="28.80" lengthAdjust="spacingAndGlyphs">Iqsec2</text>
<text x="152.30" y="763.40" font-size="9.93" fill="#1f1f1f" stroke="#1f1f1f" stroke-width="0.08" textLength="30.90" lengthAdjust="spacingAndGlyphs">Kdm5c</text>
<text x="221.80" y="764.00" font-size="9.37" fill="#1f1f1f" stroke="#1f1f1f" stroke-width="0.08" textLength="22.40" lengthAdjust="spacingAndGlyphs">Kantr</text>
<text x="251.50" y="764.00" font-size="9.91" fill="#1f1f1f" stroke="#1f1f1f" stroke-width="0.08" textLength="28.10" lengthAdjust="spacingAndGlyphs">Tspyl2</text>
<line x1="60.00" y1="768.50" x2="141.80" y2="768.50" stroke="#a8a8a8" stroke-width="0.9"/>
<path d="M61.5,767.2v2.6M64.7,767.2v2.6M67.9,767.2v2.6M71.1,767.2v2.6M74.3,767.2v2.6M77.5,767.2v2.6M80.7,767.2v2.6M83.9,767.2v2.6M87.1,767.2v2.6M90.3,767.2v2.6M93.5,767.2v2.6M96.7,767.2v2.6M99.9,767.2v2.6M103.1,767.2v2.6M106.3,767.2v2.6M109.5,767.2v2.6M112.7,767.2v2.6M115.9,767.2v2.6M119.1,767.2v2.6M122.3,767.2v2.6M125.5,767.2v2.6M128.7,767.2v2.6M131.9,767.2v2.6M135.1,767.2v2.6M138.3,767.2v2.6M60.3,767.2v2.6M141.5,767.2v2.6" fill="none" stroke="#a8a8a8" stroke-width="0.7"/>
<rect x="139.00" y="767.20" width="2.80" height="2.60" fill="#a8a8a8"/>
<line x1="148.20" y1="767.50" x2="192.60" y2="767.50" stroke="#2e7d4a" stroke-width="0.9"/>
<path d="M149.7,766.2v2.6M152.9,766.2v2.6M156.1,766.2v2.6M159.3,766.2v2.6M162.5,766.2v2.6M165.7,766.2v2.6M168.9,766.2v2.6M172.1,766.2v2.6M175.3,766.2v2.6M178.5,766.2v2.6M181.7,766.2v2.6M184.9,766.2v2.6M188.1,766.2v2.6M191.3,766.2v2.6M148.5,766.2v2.6M192.3,766.2v2.6" fill="none" stroke="#2e7d4a" stroke-width="0.7"/>
<rect x="150.00" y="766.20" width="2.00" height="2.60" fill="#2e7d4a"/>
<rect x="160.00" y="766.20" width="6.00" height="2.60" fill="#2e7d4a"/>
<rect x="182.00" y="766.20" width="10.60" height="2.60" fill="#2e7d4a"/>
<line x1="215.90" y1="768.50" x2="245.70" y2="768.50" stroke="#a8a8a8" stroke-width="0.9"/>
<path d="M217.4,767.2v2.6M220.6,767.2v2.6M223.8,767.2v2.6M227.0,767.2v2.6M230.2,767.2v2.6M233.4,767.2v2.6M236.6,767.2v2.6M239.8,767.2v2.6M243.0,767.2v2.6M216.2,767.2v2.6M245.4,767.2v2.6" fill="none" stroke="#a8a8a8" stroke-width="0.7"/>
<rect x="215.90" y="767.20" width="2.60" height="2.60" fill="#a8a8a8"/>
<line x1="256.20" y1="768.50" x2="261.20" y2="768.50" stroke="#a8a8a8" stroke-width="0.9"/>
<path d="M257.7,767.2v2.6M256.5,767.2v2.6M260.9,767.2v2.6" fill="none" stroke="#a8a8a8" stroke-width="0.7"/>
<text x="533.30" y="576.00" font-size="9.91" text-anchor="middle" fill="#1f1f1f" stroke="#1f1f1f" stroke-width="0.08" textLength="145.40" lengthAdjust="spacingAndGlyphs">Levels of CpG-island methylation</text>
<rect x="412.60" y="578.40" width="235.10" height="107.90" fill="none" stroke="#9a9a9a" stroke-width="0.9"/>
<line x1="408.80" y1="684.00" x2="412.60" y2="684.00" stroke="#8c8c8c" stroke-width="0.8"/>
<text x="404.40" y="686.80" font-size="8.0" text-anchor="end" fill="#2a2a2a" stroke="#2a2a2a" stroke-width="0.08">0</text>
<line x1="408.80" y1="658.45" x2="412.60" y2="658.45" stroke="#8c8c8c" stroke-width="0.8"/>
<text x="404.40" y="661.25" font-size="8.48" text-anchor="end" fill="#2a2a2a" stroke="#2a2a2a" stroke-width="0.08" textLength="16.50" lengthAdjust="spacingAndGlyphs">0.25</text>
<line x1="408.80" y1="632.90" x2="412.60" y2="632.90" stroke="#8c8c8c" stroke-width="0.8"/>
<text x="404.40" y="635.70" font-size="8.74" text-anchor="end" fill="#2a2a2a" stroke="#2a2a2a" stroke-width="0.08" textLength="17.00" lengthAdjust="spacingAndGlyphs">0.50</text>
<line x1="408.80" y1="607.35" x2="412.60" y2="607.35" stroke="#8c8c8c" stroke-width="0.8"/>
<text x="404.40" y="610.15" font-size="8.32" text-anchor="end" fill="#2a2a2a" stroke="#2a2a2a" stroke-width="0.08" textLength="16.20" lengthAdjust="spacingAndGlyphs">0.75</text>
<line x1="408.80" y1="581.80" x2="412.60" y2="581.80" stroke="#8c8c8c" stroke-width="0.8"/>
<text x="404.40" y="584.60" font-size="8.43" text-anchor="end" fill="#2a2a2a" stroke="#2a2a2a" stroke-width="0.08" textLength="16.40" lengthAdjust="spacingAndGlyphs">1.00</text>
<text x="368.60" y="633.00" font-size="9.62" text-anchor="middle" fill="#1f1f1f" stroke="#1f1f1f" stroke-width="0.08" textLength="46.00" lengthAdjust="spacingAndGlyphs" transform="rotate(-90 368.60 633.00)">Beta-value</text>
<text x="380.20" y="633.20" font-size="10.06" text-anchor="middle" fill="#1f1f1f" stroke="#1f1f1f" stroke-width="0.08" textLength="109.00" lengthAdjust="spacingAndGlyphs" transform="rotate(-90 380.20 633.20)">(percentage methylated)</text>
<path d="M432.40,581.80 L432.37,582.82 L432.33,583.84 L432.30,584.87 L432.22,585.89 L432.15,586.91 L432.07,587.93 L432.00,588.95 L431.80,589.98 L431.60,591.00 L431.40,592.02 L431.18,593.04 L430.95,594.06 L430.72,595.09 L430.50,596.11 L430.38,597.13 L430.27,598.15 L430.15,599.17 L430.03,600.20 L429.92,601.22 L429.80,602.24 L429.78,603.26 L429.77,604.28 L429.75,605.31 L429.74,606.33 L429.72,607.35 L429.71,608.37 L429.69,609.39 L429.68,610.42 L429.66,611.44 L429.65,612.46 L429.65,613.48 L429.65,614.50 L429.65,615.53 L429.65,616.55 L429.65,617.57 L429.65,618.59 L429.65,619.61 L429.65,620.64 L429.65,621.66 L429.65,622.68 L429.65,623.70 L429.65,624.72 L429.65,625.75 L429.65,626.77 L429.65,627.79 L429.65,628.81 L429.65,629.83 L429.65,630.86 L429.65,631.88 L429.65,632.90 L429.66,633.92 L429.68,634.94 L429.69,635.97 L429.71,636.99 L429.72,638.01 L429.74,639.03 L429.75,640.05 L429.77,641.08 L429.78,642.10 L429.80,643.12 L429.84,644.14 L429.88,645.16 L429.92,646.19 L429.96,647.21 L430.00,648.23 L430.04,649.25 L430.08,650.27 L430.12,651.30 L430.16,652.32 L430.20,653.34 L430.30,654.36 L430.40,655.38 L430.50,656.41 L430.60,657.43 L430.70,658.45 L430.77,659.47 L430.85,660.49 L430.93,661.52 L431.19,662.54 L431.46,663.56 L431.73,664.58 L432.50,665.60 L433.26,666.63 L434.03,667.65 L434.72,668.67 L435.41,669.69 L436.10,670.71 L436.71,671.74 L437.33,672.76 L437.94,673.78 L438.36,674.80 L438.78,675.82 L439.20,676.85 L439.51,677.87 L439.82,678.89 L440.12,679.91 L440.33,680.93 L440.53,681.96 L440.61,682.98 L440.70,684.00 L417.70,684.00 L417.79,682.98 L417.87,681.96 L418.07,680.93 L418.27,679.91 L418.58,678.89 L418.89,677.87 L419.19,676.85 L419.62,675.82 L420.04,674.80 L420.46,673.78 L421.07,672.76 L421.69,671.74 L422.30,670.71 L422.99,669.69 L423.68,668.67 L424.37,667.65 L425.14,666.63 L425.90,665.60 L426.67,664.58 L426.94,663.56 L427.21,662.54 L427.47,661.52 L427.55,660.49 L427.62,659.47 L427.70,658.45 L427.80,657.43 L427.90,656.41 L428.00,655.38 L428.10,654.36 L428.20,653.34 L428.24,652.32 L428.28,651.30 L428.32,650.27 L428.36,649.25 L428.40,648.23 L428.44,647.21 L428.48,646.19 L428.52,645.16 L428.56,644.14 L428.60,643.12 L428.62,642.10 L428.63,641.08 L428.64,640.05 L428.66,639.03 L428.68,638.01 L428.69,636.99 L428.70,635.97 L428.72,634.94 L428.74,633.92 L428.75,632.90 L428.75,631.88 L428.75,630.86 L428.75,629.83 L428.75,628.81 L428.75,627.79 L428.75,626.77 L428.75,625.75 L428.75,624.72 L428.75,623.70 L428.75,622.68 L428.75,621.66 L428.75,620.64 L428.75,619.61 L428.75,618.59 L428.75,617.57 L428.75,616.55 L428.75,615.53 L428.75,614.50 L428.75,613.48 L428.75,612.46 L428.74,611.44 L428.72,610.42 L428.70,609.39 L428.69,608.37 L428.68,607.35 L428.66,606.33 L428.64,605.31 L428.63,604.28 L428.62,603.26 L428.60,602.24 L428.48,601.22 L428.37,600.20 L428.25,599.17 L428.13,598.15 L428.02,597.13 L427.90,596.11 L427.68,595.09 L427.45,594.06 L427.22,593.04 L427.00,592.02 L426.80,591.00 L426.60,589.98 L426.40,588.95 L426.32,587.93 L426.25,586.91 L426.18,585.89 L426.10,584.87 L426.07,583.84 L426.03,582.82 L426.00,581.80Z" fill="#bdbdbd" stroke="#555" stroke-width="0.6"/>
<line x1="429.20" y1="582.31" x2="429.20" y2="646.50" stroke="#555" stroke-width="0.7"/>
<rect x="426.90" y="646.50" width="4.60" height="37.10" fill="#bdbdbd" stroke="#666" stroke-width="0.6"/>
<line x1="427.10" y1="683.60" x2="431.30" y2="683.60" stroke="#333" stroke-width="0.9"/>
<path d="M451.70,581.80 L451.90,582.82 L452.10,583.84 L452.30,584.87 L452.46,585.89 L452.62,586.91 L452.78,587.93 L452.94,588.95 L453.10,589.98 L453.17,591.00 L453.24,592.02 L453.31,593.04 L453.39,594.06 L453.46,595.09 L453.53,596.11 L453.60,597.13 L453.62,598.15 L453.64,599.17 L453.66,600.20 L453.68,601.22 L453.70,602.24 L453.70,603.26 L453.70,604.28 L453.70,605.31 L453.70,606.33 L453.70,607.35 L453.70,608.37 L453.70,609.39 L453.70,610.42 L453.70,611.44 L453.66,612.46 L453.61,613.48 L453.57,614.50 L453.52,615.53 L453.48,616.55 L453.43,617.57 L453.39,618.59 L453.34,619.61 L453.30,620.64 L453.25,621.66 L453.20,622.68 L453.15,623.70 L453.10,624.72 L453.05,625.75 L453.00,626.77 L452.95,627.79 L452.90,628.81 L452.89,629.83 L452.89,630.86 L452.88,631.88 L452.87,632.90 L452.86,633.92 L452.86,634.94 L452.85,635.97 L452.84,636.99 L452.84,638.01 L452.83,639.03 L452.82,640.05 L452.81,641.08 L452.81,642.10 L452.80,643.12 L452.81,644.14 L452.82,645.16 L452.83,646.19 L452.84,647.21 L452.85,648.23 L452.86,649.25 L452.87,650.27 L452.88,651.30 L452.89,652.32 L452.90,653.34 L452.93,654.36 L452.96,655.38 L452.99,656.41 L453.02,657.43 L453.05,658.45 L453.08,659.47 L453.11,660.49 L453.14,661.52 L453.17,662.54 L453.20,663.56 L453.27,664.58 L453.35,665.60 L453.42,666.63 L453.50,667.65 L453.57,668.67 L453.65,669.69 L453.72,670.71 L453.80,671.74 L453.91,672.76 L454.03,673.78 L454.14,674.80 L454.26,675.82 L454.37,676.85 L454.49,677.87 L454.60,678.89 L454.72,679.91 L454.84,680.93 L454.96,681.96 L455.08,682.98 L455.20,684.00 L444.60,684.00 L444.72,682.98 L444.84,681.96 L444.96,680.93 L445.08,679.91 L445.20,678.89 L445.31,677.87 L445.43,676.85 L445.54,675.82 L445.66,674.80 L445.77,673.78 L445.89,672.76 L446.00,671.74 L446.07,670.71 L446.15,669.69 L446.22,668.67 L446.30,667.65 L446.38,666.63 L446.45,665.60 L446.52,664.58 L446.60,663.56 L446.63,662.54 L446.66,661.52 L446.69,660.49 L446.72,659.47 L446.75,658.45 L446.78,657.43 L446.81,656.41 L446.84,655.38 L446.87,654.36 L446.90,653.34 L446.91,652.32 L446.92,651.30 L446.93,650.27 L446.94,649.25 L446.95,648.23 L446.96,647.21 L446.97,646.19 L446.98,645.16 L446.99,644.14 L447.00,643.12 L446.99,642.10 L446.99,641.08 L446.98,640.05 L446.97,639.03 L446.96,638.01 L446.96,636.99 L446.95,635.97 L446.94,634.94 L446.94,633.92 L446.93,632.90 L446.92,631.88 L446.91,630.86 L446.91,629.83 L446.90,628.81 L446.85,627.79 L446.80,626.77 L446.75,625.75 L446.70,624.72 L446.65,623.70 L446.60,622.68 L446.55,621.66 L446.50,620.64 L446.46,619.61 L446.41,618.59 L446.37,617.57 L446.32,616.55 L446.28,615.53 L446.23,614.50 L446.19,613.48 L446.14,612.46 L446.10,611.44 L446.10,610.42 L446.10,609.39 L446.10,608.37 L446.10,607.35 L446.10,606.33 L446.10,605.31 L446.10,604.28 L446.10,603.26 L446.10,602.24 L446.12,601.22 L446.14,600.20 L446.16,599.17 L446.18,598.15 L446.20,597.13 L446.27,596.11 L446.34,595.09 L446.41,594.06 L446.49,593.04 L446.56,592.02 L446.63,591.00 L446.70,589.98 L446.86,588.95 L447.02,587.93 L447.18,586.91 L447.34,585.89 L447.50,584.87 L447.70,583.84 L447.90,582.82 L448.10,581.80Z" fill="#67c7c7" stroke="#555" stroke-width="0.6"/>
<line x1="449.90" y1="582.31" x2="449.90" y2="611.50" stroke="#3f7f7f" stroke-width="0.6"/>
<rect x="447.50" y="611.50" width="4.80" height="71.50" fill="#67c7c7" stroke="#3f7f7f" stroke-width="0.6"/>
<line x1="447.70" y1="643.40" x2="452.10" y2="643.40" stroke="#2a4a4a" stroke-width="0.9"/>
<text x="421.60" y="698.00" font-size="8.75" fill="#2a2a2a" stroke="#2a2a2a" stroke-width="0.08" textLength="28.20" lengthAdjust="spacingAndGlyphs">Control</text>
<path d="M478.40,581.80 L478.37,582.82 L478.33,583.84 L478.30,584.87 L478.22,585.89 L478.15,586.91 L478.07,587.93 L478.00,588.95 L477.80,589.98 L477.60,591.00 L477.40,592.02 L477.18,593.04 L476.95,594.06 L476.72,595.09 L476.50,596.11 L476.38,597.13 L476.27,598.15 L476.15,599.17 L476.03,600.20 L475.92,601.22 L475.80,602.24 L475.78,603.26 L475.77,604.28 L475.75,605.31 L475.74,606.33 L475.72,607.35 L475.71,608.37 L475.69,609.39 L475.68,610.42 L475.66,611.44 L475.65,612.46 L475.65,613.48 L475.65,614.50 L475.65,615.53 L475.65,616.55 L475.65,617.57 L475.65,618.59 L475.65,619.61 L475.65,620.64 L475.65,621.66 L475.65,622.68 L475.65,623.70 L475.65,624.72 L475.65,625.75 L475.65,626.77 L475.65,627.79 L475.65,628.81 L475.65,629.83 L475.65,630.86 L475.65,631.88 L475.65,632.90 L475.66,633.92 L475.68,634.94 L475.69,635.97 L475.71,636.99 L475.72,638.01 L475.74,639.03 L475.75,640.05 L475.77,641.08 L475.78,642.10 L475.80,643.12 L475.84,644.14 L475.88,645.16 L475.92,646.19 L475.96,647.21 L476.00,648.23 L476.04,649.25 L476.08,650.27 L476.12,651.30 L476.16,652.32 L476.20,653.34 L476.30,654.36 L476.40,655.38 L476.50,656.41 L476.60,657.43 L476.70,658.45 L476.99,659.47 L477.27,660.49 L477.56,661.52 L477.92,662.54 L478.29,663.56 L478.65,664.58 L479.70,665.60 L480.75,666.63 L481.79,667.65 L482.74,668.67 L483.68,669.69 L484.62,670.71 L485.46,671.74 L486.29,672.76 L487.13,673.78 L487.71,674.80 L488.28,675.82 L488.86,676.85 L489.28,677.87 L489.70,678.89 L490.12,679.91 L490.39,680.93 L490.66,681.96 L490.78,682.98 L490.90,684.00 L459.50,684.00 L459.62,682.98 L459.74,681.96 L460.01,680.93 L460.28,679.91 L460.70,678.89 L461.12,677.87 L461.54,676.85 L462.12,675.82 L462.69,674.80 L463.27,673.78 L464.11,672.76 L464.94,671.74 L465.78,670.71 L466.72,669.69 L467.66,668.67 L468.61,667.65 L469.65,666.63 L470.70,665.60 L471.75,664.58 L472.11,663.56 L472.48,662.54 L472.84,661.52 L473.13,660.49 L473.41,659.47 L473.70,658.45 L473.80,657.43 L473.90,656.41 L474.00,655.38 L474.10,654.36 L474.20,653.34 L474.24,652.32 L474.28,651.30 L474.32,650.27 L474.36,649.25 L474.40,648.23 L474.44,647.21 L474.48,646.19 L474.52,645.16 L474.56,644.14 L474.60,643.12 L474.62,642.10 L474.63,641.08 L474.64,640.05 L474.66,639.03 L474.68,638.01 L474.69,636.99 L474.70,635.97 L474.72,634.94 L474.74,633.92 L474.75,632.90 L474.75,631.88 L474.75,630.86 L474.75,629.83 L474.75,628.81 L474.75,627.79 L474.75,626.77 L474.75,625.75 L474.75,624.72 L474.75,623.70 L474.75,622.68 L474.75,621.66 L474.75,620.64 L474.75,619.61 L474.75,618.59 L474.75,617.57 L474.75,616.55 L474.75,615.53 L474.75,614.50 L474.75,613.48 L474.75,612.46 L474.74,611.44 L474.72,610.42 L474.70,609.39 L474.69,608.37 L474.68,607.35 L474.66,606.33 L474.64,605.31 L474.63,604.28 L474.62,603.26 L474.60,602.24 L474.48,601.22 L474.37,600.20 L474.25,599.17 L474.13,598.15 L474.02,597.13 L473.90,596.11 L473.68,595.09 L473.45,594.06 L473.22,593.04 L473.00,592.02 L472.80,591.00 L472.60,589.98 L472.40,588.95 L472.32,587.93 L472.25,586.91 L472.18,585.89 L472.10,584.87 L472.07,583.84 L472.03,582.82 L472.00,581.80Z" fill="#bdbdbd" stroke="#555" stroke-width="0.6"/>
<line x1="475.20" y1="582.31" x2="475.20" y2="657.30" stroke="#555" stroke-width="0.7"/>
<rect x="472.90" y="657.30" width="4.60" height="26.30" fill="#bdbdbd" stroke="#666" stroke-width="0.6"/>
<line x1="473.10" y1="683.60" x2="477.30" y2="683.60" stroke="#333" stroke-width="0.9"/>
<path d="M497.70,581.80 L497.90,582.82 L498.10,583.84 L498.30,584.87 L498.46,585.89 L498.62,586.91 L498.78,587.93 L498.94,588.95 L499.10,589.98 L499.17,591.00 L499.24,592.02 L499.31,593.04 L499.39,594.06 L499.46,595.09 L499.53,596.11 L499.60,597.13 L499.62,598.15 L499.64,599.17 L499.66,600.20 L499.68,601.22 L499.70,602.24 L499.70,603.26 L499.70,604.28 L499.70,605.31 L499.70,606.33 L499.70,607.35 L499.70,608.37 L499.70,609.39 L499.70,610.42 L499.70,611.44 L499.66,612.46 L499.61,613.48 L499.57,614.50 L499.52,615.53 L499.48,616.55 L499.43,617.57 L499.39,618.59 L499.34,619.61 L499.30,620.64 L499.25,621.66 L499.20,622.68 L499.15,623.70 L499.10,624.72 L499.05,625.75 L499.00,626.77 L498.95,627.79 L498.90,628.81 L498.89,629.83 L498.89,630.86 L498.88,631.88 L498.87,632.90 L498.86,633.92 L498.86,634.94 L498.85,635.97 L498.84,636.99 L498.84,638.01 L498.83,639.03 L498.82,640.05 L498.81,641.08 L498.81,642.10 L498.80,643.12 L498.81,644.14 L498.82,645.16 L498.83,646.19 L498.84,647.21 L498.85,648.23 L498.86,649.25 L498.87,650.27 L498.88,651.30 L498.89,652.32 L498.90,653.34 L498.93,654.36 L498.96,655.38 L498.99,656.41 L499.02,657.43 L499.05,658.45 L499.08,659.47 L499.11,660.49 L499.14,661.52 L499.17,662.54 L499.20,663.56 L499.27,664.58 L499.35,665.60 L499.42,666.63 L499.50,667.65 L499.57,668.67 L499.65,669.69 L499.72,670.71 L499.80,671.74 L499.91,672.76 L500.03,673.78 L500.14,674.80 L500.26,675.82 L500.37,676.85 L500.49,677.87 L500.60,678.89 L500.72,679.91 L500.84,680.93 L500.96,681.96 L501.08,682.98 L501.20,684.00 L490.60,684.00 L490.72,682.98 L490.84,681.96 L490.96,680.93 L491.08,679.91 L491.20,678.89 L491.31,677.87 L491.43,676.85 L491.54,675.82 L491.66,674.80 L491.77,673.78 L491.89,672.76 L492.00,671.74 L492.07,670.71 L492.15,669.69 L492.22,668.67 L492.30,667.65 L492.38,666.63 L492.45,665.60 L492.52,664.58 L492.60,663.56 L492.63,662.54 L492.66,661.52 L492.69,660.49 L492.72,659.47 L492.75,658.45 L492.78,657.43 L492.81,656.41 L492.84,655.38 L492.87,654.36 L492.90,653.34 L492.91,652.32 L492.92,651.30 L492.93,650.27 L492.94,649.25 L492.95,648.23 L492.96,647.21 L492.97,646.19 L492.98,645.16 L492.99,644.14 L493.00,643.12 L492.99,642.10 L492.99,641.08 L492.98,640.05 L492.97,639.03 L492.96,638.01 L492.96,636.99 L492.95,635.97 L492.94,634.94 L492.94,633.92 L492.93,632.90 L492.92,631.88 L492.91,630.86 L492.91,629.83 L492.90,628.81 L492.85,627.79 L492.80,626.77 L492.75,625.75 L492.70,624.72 L492.65,623.70 L492.60,622.68 L492.55,621.66 L492.50,620.64 L492.46,619.61 L492.41,618.59 L492.37,617.57 L492.32,616.55 L492.28,615.53 L492.23,614.50 L492.19,613.48 L492.14,612.46 L492.10,611.44 L492.10,610.42 L492.10,609.39 L492.10,608.37 L492.10,607.35 L492.10,606.33 L492.10,605.31 L492.10,604.28 L492.10,603.26 L492.10,602.24 L492.12,601.22 L492.14,600.20 L492.16,599.17 L492.18,598.15 L492.20,597.13 L492.27,596.11 L492.34,595.09 L492.41,594.06 L492.49,593.04 L492.56,592.02 L492.63,591.00 L492.70,589.98 L492.86,588.95 L493.02,587.93 L493.18,586.91 L493.34,585.89 L493.50,584.87 L493.70,583.84 L493.90,582.82 L494.10,581.80Z" fill="#67c7c7" stroke="#555" stroke-width="0.6"/>
<line x1="495.90" y1="582.31" x2="495.90" y2="610.00" stroke="#3f7f7f" stroke-width="0.6"/>
<rect x="493.50" y="610.00" width="4.80" height="73.00" fill="#67c7c7" stroke="#3f7f7f" stroke-width="0.6"/>
<line x1="493.70" y1="646.10" x2="498.10" y2="646.10" stroke="#2a4a4a" stroke-width="0.9"/>
<text x="465.00" y="698.00" font-size="7.98" fill="#2a2a2a" stroke="#2a2a2a" stroke-width="0.08" textLength="32.80" lengthAdjust="spacingAndGlyphs">Dox (d 7)</text>
<path d="M524.40,581.80 L524.37,582.82 L524.33,583.84 L524.30,584.87 L524.23,585.89 L524.15,586.91 L524.08,587.93 L524.00,588.95 L523.80,589.98 L523.60,591.00 L523.40,592.02 L523.18,593.04 L522.95,594.06 L522.73,595.09 L522.50,596.11 L522.38,597.13 L522.27,598.15 L522.15,599.17 L522.03,600.20 L521.92,601.22 L521.80,602.24 L521.79,603.26 L521.77,604.28 L521.75,605.31 L521.74,606.33 L521.73,607.35 L521.71,608.37 L521.70,609.39 L521.68,610.42 L521.67,611.44 L521.65,612.46 L521.65,613.48 L521.65,614.50 L521.65,615.53 L521.65,616.55 L521.65,617.57 L521.65,618.59 L521.65,619.61 L521.65,620.64 L521.65,621.66 L521.65,622.68 L521.65,623.70 L521.65,624.72 L521.65,625.75 L521.65,626.77 L521.65,627.79 L521.65,628.81 L521.65,629.83 L521.65,630.86 L521.65,631.88 L521.65,632.90 L521.67,633.92 L521.68,634.94 L521.70,635.97 L521.71,636.99 L521.73,638.01 L521.74,639.03 L521.75,640.05 L521.77,641.08 L521.79,642.10 L521.80,643.12 L521.84,644.14 L521.88,645.16 L521.92,646.19 L521.96,647.21 L522.00,648.23 L522.04,649.25 L522.08,650.27 L522.12,651.30 L522.16,652.32 L522.20,653.34 L522.30,654.36 L522.40,655.38 L522.50,656.41 L522.60,657.43 L522.70,658.45 L522.87,659.47 L523.04,660.49 L523.21,661.52 L523.52,662.54 L523.84,663.56 L524.15,664.58 L525.04,665.60 L525.93,666.63 L526.83,667.65 L527.63,668.67 L528.44,669.69 L529.24,670.71 L529.95,671.74 L530.67,672.76 L531.38,673.78 L531.88,674.80 L532.37,675.82 L532.86,676.85 L533.22,677.87 L533.57,678.89 L533.93,679.91 L534.16,680.93 L534.40,681.96 L534.50,682.98 L534.60,684.00 L507.80,684.00 L507.90,682.98 L508.00,681.96 L508.24,680.93 L508.47,679.91 L508.83,678.89 L509.18,677.87 L509.54,676.85 L510.03,675.82 L510.52,674.80 L511.02,673.78 L511.73,672.76 L512.45,671.74 L513.16,670.71 L513.96,669.69 L514.77,668.67 L515.57,667.65 L516.47,666.63 L517.36,665.60 L518.25,664.58 L518.56,663.56 L518.88,662.54 L519.19,661.52 L519.36,660.49 L519.53,659.47 L519.70,658.45 L519.80,657.43 L519.90,656.41 L520.00,655.38 L520.10,654.36 L520.20,653.34 L520.24,652.32 L520.28,651.30 L520.32,650.27 L520.36,649.25 L520.40,648.23 L520.44,647.21 L520.48,646.19 L520.52,645.16 L520.56,644.14 L520.60,643.12 L520.62,642.10 L520.63,641.08 L520.65,640.05 L520.66,639.03 L520.68,638.01 L520.69,636.99 L520.71,635.97 L520.72,634.94 L520.74,633.92 L520.75,632.90 L520.75,631.88 L520.75,630.86 L520.75,629.83 L520.75,628.81 L520.75,627.79 L520.75,626.77 L520.75,625.75 L520.75,624.72 L520.75,623.70 L520.75,622.68 L520.75,621.66 L520.75,620.64 L520.75,619.61 L520.75,618.59 L520.75,617.57 L520.75,616.55 L520.75,615.53 L520.75,614.50 L520.75,613.48 L520.75,612.46 L520.74,611.44 L520.72,610.42 L520.71,609.39 L520.69,608.37 L520.68,607.35 L520.66,606.33 L520.65,605.31 L520.63,604.28 L520.62,603.26 L520.60,602.24 L520.48,601.22 L520.37,600.20 L520.25,599.17 L520.13,598.15 L520.02,597.13 L519.90,596.11 L519.68,595.09 L519.45,594.06 L519.23,593.04 L519.00,592.02 L518.80,591.00 L518.60,589.98 L518.40,588.95 L518.33,587.93 L518.25,586.91 L518.18,585.89 L518.10,584.87 L518.07,583.84 L518.03,582.82 L518.00,581.80Z" fill="#bdbdbd" stroke="#555" stroke-width="0.6"/>
<line x1="521.20" y1="582.31" x2="521.20" y2="652.80" stroke="#555" stroke-width="0.7"/>
<rect x="518.90" y="652.80" width="4.60" height="30.80" fill="#bdbdbd" stroke="#666" stroke-width="0.6"/>
<line x1="519.10" y1="683.60" x2="523.30" y2="683.60" stroke="#333" stroke-width="0.9"/>
<path d="M543.70,581.80 L543.90,582.82 L544.10,583.84 L544.30,584.87 L544.46,585.89 L544.62,586.91 L544.78,587.93 L544.94,588.95 L545.10,589.98 L545.17,591.00 L545.24,592.02 L545.31,593.04 L545.39,594.06 L545.46,595.09 L545.53,596.11 L545.60,597.13 L545.62,598.15 L545.64,599.17 L545.66,600.20 L545.68,601.22 L545.70,602.24 L545.70,603.26 L545.70,604.28 L545.70,605.31 L545.70,606.33 L545.70,607.35 L545.70,608.37 L545.70,609.39 L545.70,610.42 L545.70,611.44 L545.66,612.46 L545.61,613.48 L545.57,614.50 L545.52,615.53 L545.48,616.55 L545.43,617.57 L545.39,618.59 L545.34,619.61 L545.30,620.64 L545.25,621.66 L545.20,622.68 L545.15,623.70 L545.10,624.72 L545.05,625.75 L545.00,626.77 L544.95,627.79 L544.90,628.81 L544.89,629.83 L544.89,630.86 L544.88,631.88 L544.87,632.90 L544.86,633.92 L544.86,634.94 L544.85,635.97 L544.84,636.99 L544.84,638.01 L544.83,639.03 L544.82,640.05 L544.81,641.08 L544.81,642.10 L544.80,643.12 L544.81,644.14 L544.82,645.16 L544.83,646.19 L544.84,647.21 L544.85,648.23 L544.86,649.25 L544.87,650.27 L544.88,651.30 L544.89,652.32 L544.90,653.34 L544.93,654.36 L544.96,655.38 L544.99,656.41 L545.02,657.43 L545.05,658.45 L545.08,659.47 L545.11,660.49 L545.14,661.52 L545.17,662.54 L545.20,663.56 L545.27,664.58 L545.35,665.60 L545.42,666.63 L545.50,667.65 L545.57,668.67 L545.65,669.69 L545.73,670.71 L545.80,671.74 L545.91,672.76 L546.03,673.78 L546.14,674.80 L546.26,675.82 L546.37,676.85 L546.49,677.87 L546.60,678.89 L546.72,679.91 L546.84,680.93 L546.96,681.96 L547.08,682.98 L547.20,684.00 L536.60,684.00 L536.72,682.98 L536.84,681.96 L536.96,680.93 L537.08,679.91 L537.20,678.89 L537.31,677.87 L537.43,676.85 L537.54,675.82 L537.66,674.80 L537.77,673.78 L537.89,672.76 L538.00,671.74 L538.07,670.71 L538.15,669.69 L538.23,668.67 L538.30,667.65 L538.38,666.63 L538.45,665.60 L538.52,664.58 L538.60,663.56 L538.63,662.54 L538.66,661.52 L538.69,660.49 L538.72,659.47 L538.75,658.45 L538.78,657.43 L538.81,656.41 L538.84,655.38 L538.87,654.36 L538.90,653.34 L538.91,652.32 L538.92,651.30 L538.93,650.27 L538.94,649.25 L538.95,648.23 L538.96,647.21 L538.97,646.19 L538.98,645.16 L538.99,644.14 L539.00,643.12 L538.99,642.10 L538.99,641.08 L538.98,640.05 L538.97,639.03 L538.96,638.01 L538.96,636.99 L538.95,635.97 L538.94,634.94 L538.94,633.92 L538.93,632.90 L538.92,631.88 L538.91,630.86 L538.91,629.83 L538.90,628.81 L538.85,627.79 L538.80,626.77 L538.75,625.75 L538.70,624.72 L538.65,623.70 L538.60,622.68 L538.55,621.66 L538.50,620.64 L538.46,619.61 L538.41,618.59 L538.37,617.57 L538.32,616.55 L538.28,615.53 L538.23,614.50 L538.19,613.48 L538.14,612.46 L538.10,611.44 L538.10,610.42 L538.10,609.39 L538.10,608.37 L538.10,607.35 L538.10,606.33 L538.10,605.31 L538.10,604.28 L538.10,603.26 L538.10,602.24 L538.12,601.22 L538.14,600.20 L538.16,599.17 L538.18,598.15 L538.20,597.13 L538.27,596.11 L538.34,595.09 L538.41,594.06 L538.49,593.04 L538.56,592.02 L538.63,591.00 L538.70,589.98 L538.86,588.95 L539.02,587.93 L539.18,586.91 L539.34,585.89 L539.50,584.87 L539.70,583.84 L539.90,582.82 L540.10,581.80Z" fill="#67c7c7" stroke="#555" stroke-width="0.6"/>
<line x1="541.90" y1="582.31" x2="541.90" y2="610.70" stroke="#3f7f7f" stroke-width="0.6"/>
<rect x="539.50" y="610.70" width="4.80" height="71.80" fill="#67c7c7" stroke="#3f7f7f" stroke-width="0.6"/>
<line x1="539.70" y1="638.80" x2="544.10" y2="638.80" stroke="#2a4a4a" stroke-width="0.9"/>
<text x="505.50" y="698.00" font-size="8.03" fill="#2a2a2a" stroke="#2a2a2a" stroke-width="0.08" textLength="45.50" lengthAdjust="spacingAndGlyphs">Dox (d 7) wo</text>
<path d="M570.40,581.80 L570.37,582.82 L570.33,583.84 L570.30,584.87 L570.23,585.89 L570.15,586.91 L570.08,587.93 L570.00,588.95 L569.80,589.98 L569.60,591.00 L569.40,592.02 L569.18,593.04 L568.95,594.06 L568.73,595.09 L568.50,596.11 L568.38,597.13 L568.27,598.15 L568.15,599.17 L568.03,600.20 L567.92,601.22 L567.80,602.24 L567.79,603.26 L567.77,604.28 L567.75,605.31 L567.74,606.33 L567.73,607.35 L567.71,608.37 L567.70,609.39 L567.68,610.42 L567.67,611.44 L567.65,612.46 L567.65,613.48 L567.65,614.50 L567.65,615.53 L567.65,616.55 L567.65,617.57 L567.65,618.59 L567.65,619.61 L567.65,620.64 L567.65,621.66 L567.65,622.68 L567.65,623.70 L567.65,624.72 L567.65,625.75 L567.65,626.77 L567.65,627.79 L567.65,628.81 L567.65,629.83 L567.65,630.86 L567.65,631.88 L567.65,632.90 L567.67,633.92 L567.68,634.94 L567.70,635.97 L567.71,636.99 L567.73,638.01 L567.74,639.03 L567.75,640.05 L567.77,641.08 L567.79,642.10 L567.80,643.12 L567.84,644.14 L567.88,645.16 L567.92,646.19 L567.96,647.21 L568.00,648.23 L568.04,649.25 L568.08,650.27 L568.12,651.30 L568.16,652.32 L568.20,653.34 L568.30,654.36 L568.40,655.38 L568.50,656.41 L568.60,657.43 L568.70,658.45 L568.76,659.47 L568.82,660.49 L568.88,661.52 L569.14,662.54 L569.40,663.56 L569.66,664.58 L570.41,665.60 L571.16,666.63 L571.90,667.65 L572.58,668.67 L573.25,669.69 L573.92,670.71 L574.52,671.74 L575.11,672.76 L575.71,673.78 L576.12,674.80 L576.53,675.82 L576.94,676.85 L577.24,677.87 L577.54,678.89 L577.84,679.91 L578.04,680.93 L578.23,681.96 L578.32,682.98 L578.40,684.00 L556.00,684.00 L556.08,682.98 L556.17,681.96 L556.36,680.93 L556.56,679.91 L556.86,678.89 L557.16,677.87 L557.46,676.85 L557.87,675.82 L558.28,674.80 L558.69,673.78 L559.29,672.76 L559.88,671.74 L560.48,670.71 L561.15,669.69 L561.82,668.67 L562.50,667.65 L563.24,666.63 L563.99,665.60 L564.74,664.58 L565.00,663.56 L565.26,662.54 L565.52,661.52 L565.58,660.49 L565.64,659.47 L565.70,658.45 L565.80,657.43 L565.90,656.41 L566.00,655.38 L566.10,654.36 L566.20,653.34 L566.24,652.32 L566.28,651.30 L566.32,650.27 L566.36,649.25 L566.40,648.23 L566.44,647.21 L566.48,646.19 L566.52,645.16 L566.56,644.14 L566.60,643.12 L566.62,642.10 L566.63,641.08 L566.65,640.05 L566.66,639.03 L566.68,638.01 L566.69,636.99 L566.71,635.97 L566.72,634.94 L566.74,633.92 L566.75,632.90 L566.75,631.88 L566.75,630.86 L566.75,629.83 L566.75,628.81 L566.75,627.79 L566.75,626.77 L566.75,625.75 L566.75,624.72 L566.75,623.70 L566.75,622.68 L566.75,621.66 L566.75,620.64 L566.75,619.61 L566.75,618.59 L566.75,617.57 L566.75,616.55 L566.75,615.53 L566.75,614.50 L566.75,613.48 L566.75,612.46 L566.74,611.44 L566.72,610.42 L566.71,609.39 L566.69,608.37 L566.68,607.35 L566.66,606.33 L566.65,605.31 L566.63,604.28 L566.62,603.26 L566.60,602.24 L566.48,601.22 L566.37,600.20 L566.25,599.17 L566.13,598.15 L566.02,597.13 L565.90,596.11 L565.68,595.09 L565.45,594.06 L565.23,593.04 L565.00,592.02 L564.80,591.00 L564.60,589.98 L564.40,588.95 L564.33,587.93 L564.25,586.91 L564.18,585.89 L564.10,584.87 L564.07,583.84 L564.03,582.82 L564.00,581.80Z" fill="#bdbdbd" stroke="#555" stroke-width="0.6"/>
<line x1="567.20" y1="582.31" x2="567.20" y2="646.20" stroke="#555" stroke-width="0.7"/>
<rect x="564.90" y="646.20" width="4.60" height="37.40" fill="#bdbdbd" stroke="#666" stroke-width="0.6"/>
<line x1="565.10" y1="683.60" x2="569.30" y2="683.60" stroke="#333" stroke-width="0.9"/>
<path d="M589.70,581.80 L589.90,582.82 L590.10,583.84 L590.30,584.87 L590.46,585.89 L590.62,586.91 L590.78,587.93 L590.94,588.95 L591.10,589.98 L591.17,591.00 L591.24,592.02 L591.31,593.04 L591.39,594.06 L591.46,595.09 L591.53,596.11 L591.60,597.13 L591.62,598.15 L591.64,599.17 L591.66,600.20 L591.68,601.22 L591.70,602.24 L591.70,603.26 L591.70,604.28 L591.70,605.31 L591.70,606.33 L591.70,607.35 L591.70,608.37 L591.70,609.39 L591.70,610.42 L591.70,611.44 L591.66,612.46 L591.61,613.48 L591.57,614.50 L591.52,615.53 L591.48,616.55 L591.43,617.57 L591.39,618.59 L591.34,619.61 L591.30,620.64 L591.25,621.66 L591.20,622.68 L591.15,623.70 L591.10,624.72 L591.05,625.75 L591.00,626.77 L590.95,627.79 L590.90,628.81 L590.89,629.83 L590.89,630.86 L590.88,631.88 L590.87,632.90 L590.86,633.92 L590.86,634.94 L590.85,635.97 L590.84,636.99 L590.84,638.01 L590.83,639.03 L590.82,640.05 L590.81,641.08 L590.81,642.10 L590.80,643.12 L590.81,644.14 L590.82,645.16 L590.83,646.19 L590.84,647.21 L590.85,648.23 L590.86,649.25 L590.87,650.27 L590.88,651.30 L590.89,652.32 L590.90,653.34 L590.93,654.36 L590.96,655.38 L590.99,656.41 L591.02,657.43 L591.05,658.45 L591.08,659.47 L591.11,660.49 L591.14,661.52 L591.17,662.54 L591.20,663.56 L591.27,664.58 L591.35,665.60 L591.42,666.63 L591.50,667.65 L591.57,668.67 L591.65,669.69 L591.73,670.71 L591.80,671.74 L591.91,672.76 L592.03,673.78 L592.14,674.80 L592.26,675.82 L592.37,676.85 L592.49,677.87 L592.60,678.89 L592.72,679.91 L592.84,680.93 L592.96,681.96 L593.08,682.98 L593.20,684.00 L582.60,684.00 L582.72,682.98 L582.84,681.96 L582.96,680.93 L583.08,679.91 L583.20,678.89 L583.31,677.87 L583.43,676.85 L583.54,675.82 L583.66,674.80 L583.77,673.78 L583.89,672.76 L584.00,671.74 L584.07,670.71 L584.15,669.69 L584.23,668.67 L584.30,667.65 L584.38,666.63 L584.45,665.60 L584.52,664.58 L584.60,663.56 L584.63,662.54 L584.66,661.52 L584.69,660.49 L584.72,659.47 L584.75,658.45 L584.78,657.43 L584.81,656.41 L584.84,655.38 L584.87,654.36 L584.90,653.34 L584.91,652.32 L584.92,651.30 L584.93,650.27 L584.94,649.25 L584.95,648.23 L584.96,647.21 L584.97,646.19 L584.98,645.16 L584.99,644.14 L585.00,643.12 L584.99,642.10 L584.99,641.08 L584.98,640.05 L584.97,639.03 L584.96,638.01 L584.96,636.99 L584.95,635.97 L584.94,634.94 L584.94,633.92 L584.93,632.90 L584.92,631.88 L584.91,630.86 L584.91,629.83 L584.90,628.81 L584.85,627.79 L584.80,626.77 L584.75,625.75 L584.70,624.72 L584.65,623.70 L584.60,622.68 L584.55,621.66 L584.50,620.64 L584.46,619.61 L584.41,618.59 L584.37,617.57 L584.32,616.55 L584.28,615.53 L584.23,614.50 L584.19,613.48 L584.14,612.46 L584.10,611.44 L584.10,610.42 L584.10,609.39 L584.10,608.37 L584.10,607.35 L584.10,606.33 L584.10,605.31 L584.10,604.28 L584.10,603.26 L584.10,602.24 L584.12,601.22 L584.14,600.20 L584.16,599.17 L584.18,598.15 L584.20,597.13 L584.27,596.11 L584.34,595.09 L584.41,594.06 L584.49,593.04 L584.56,592.02 L584.63,591.00 L584.70,589.98 L584.86,588.95 L585.02,587.93 L585.18,586.91 L585.34,585.89 L585.50,584.87 L585.70,583.84 L585.90,582.82 L586.10,581.80Z" fill="#67c7c7" stroke="#555" stroke-width="0.6"/>
<line x1="587.90" y1="582.31" x2="587.90" y2="611.50" stroke="#3f7f7f" stroke-width="0.6"/>
<rect x="585.50" y="611.50" width="4.80" height="71.00" fill="#67c7c7" stroke="#3f7f7f" stroke-width="0.6"/>
<line x1="585.70" y1="635.20" x2="590.10" y2="635.20" stroke="#2a4a4a" stroke-width="0.9"/>
<text x="556.20" y="698.00" font-size="7.6" fill="#2a2a2a" stroke="#2a2a2a" stroke-width="0.08" textLength="35.50" lengthAdjust="spacingAndGlyphs">Dox (d 21)</text>
<path d="M616.40,581.80 L616.37,582.82 L616.33,583.84 L616.30,584.87 L616.23,585.89 L616.15,586.91 L616.08,587.93 L616.00,588.95 L615.80,589.98 L615.60,591.00 L615.40,592.02 L615.18,593.04 L614.95,594.06 L614.73,595.09 L614.50,596.11 L614.38,597.13 L614.27,598.15 L614.15,599.17 L614.03,600.20 L613.92,601.22 L613.80,602.24 L613.79,603.26 L613.77,604.28 L613.75,605.31 L613.74,606.33 L613.73,607.35 L613.71,608.37 L613.70,609.39 L613.68,610.42 L613.67,611.44 L613.65,612.46 L613.65,613.48 L613.65,614.50 L613.65,615.53 L613.65,616.55 L613.65,617.57 L613.65,618.59 L613.65,619.61 L613.65,620.64 L613.65,621.66 L613.65,622.68 L613.65,623.70 L613.65,624.72 L613.65,625.75 L613.65,626.77 L613.65,627.79 L613.65,628.81 L613.65,629.83 L613.65,630.86 L613.65,631.88 L613.65,632.90 L613.67,633.92 L613.68,634.94 L613.70,635.97 L613.71,636.99 L613.73,638.01 L613.74,639.03 L613.75,640.05 L613.77,641.08 L613.79,642.10 L613.80,643.12 L613.84,644.14 L613.88,645.16 L613.92,646.19 L613.96,647.21 L614.00,648.23 L614.04,649.25 L614.08,650.27 L614.12,651.30 L614.16,652.32 L614.20,653.34 L614.30,654.36 L614.40,655.38 L614.50,656.41 L614.60,657.43 L614.70,658.45 L614.75,659.47 L614.79,660.49 L614.84,661.52 L615.09,662.54 L615.34,663.56 L615.60,664.58 L616.32,665.60 L617.05,666.63 L617.78,667.65 L618.43,668.67 L619.09,669.69 L619.74,670.71 L620.32,671.74 L620.90,672.76 L621.48,673.78 L621.88,674.80 L622.28,675.82 L622.68,676.85 L622.97,677.87 L623.26,678.89 L623.56,679.91 L623.75,680.93 L623.94,681.96 L624.02,682.98 L624.10,684.00 L602.30,684.00 L602.38,682.98 L602.46,681.96 L602.65,680.93 L602.85,679.91 L603.14,678.89 L603.43,677.87 L603.72,676.85 L604.12,675.82 L604.52,674.80 L604.92,673.78 L605.50,672.76 L606.08,671.74 L606.66,670.71 L607.31,669.69 L607.97,668.67 L608.62,667.65 L609.35,666.63 L610.08,665.60 L610.80,664.58 L611.06,663.56 L611.31,662.54 L611.57,661.52 L611.61,660.49 L611.66,659.47 L611.70,658.45 L611.80,657.43 L611.90,656.41 L612.00,655.38 L612.10,654.36 L612.20,653.34 L612.24,652.32 L612.28,651.30 L612.32,650.27 L612.36,649.25 L612.40,648.23 L612.44,647.21 L612.48,646.19 L612.52,645.16 L612.56,644.14 L612.60,643.12 L612.62,642.10 L612.63,641.08 L612.65,640.05 L612.66,639.03 L612.68,638.01 L612.69,636.99 L612.71,635.97 L612.72,634.94 L612.74,633.92 L612.75,632.90 L612.75,631.88 L612.75,630.86 L612.75,629.83 L612.75,628.81 L612.75,627.79 L612.75,626.77 L612.75,625.75 L612.75,624.72 L612.75,623.70 L612.75,622.68 L612.75,621.66 L612.75,620.64 L612.75,619.61 L612.75,618.59 L612.75,617.57 L612.75,616.55 L612.75,615.53 L612.75,614.50 L612.75,613.48 L612.75,612.46 L612.74,611.44 L612.72,610.42 L612.71,609.39 L612.69,608.37 L612.68,607.35 L612.66,606.33 L612.65,605.31 L612.63,604.28 L612.62,603.26 L612.60,602.24 L612.48,601.22 L612.37,600.20 L612.25,599.17 L612.13,598.15 L612.02,597.13 L611.90,596.11 L611.68,595.09 L611.45,594.06 L611.23,593.04 L611.00,592.02 L610.80,591.00 L610.60,589.98 L610.40,588.95 L610.33,587.93 L610.25,586.91 L610.18,585.89 L610.10,584.87 L610.07,583.84 L610.03,582.82 L610.00,581.80Z" fill="#bdbdbd" stroke="#555" stroke-width="0.6"/>
<line x1="613.20" y1="582.31" x2="613.20" y2="642.30" stroke="#555" stroke-width="0.7"/>
<rect x="610.90" y="642.30" width="4.60" height="41.30" fill="#bdbdbd" stroke="#666" stroke-width="0.6"/>
<line x1="611.10" y1="683.60" x2="615.30" y2="683.60" stroke="#333" stroke-width="0.9"/>
<path d="M635.70,581.80 L635.90,582.82 L636.10,583.84 L636.30,584.87 L636.46,585.89 L636.62,586.91 L636.78,587.93 L636.94,588.95 L637.10,589.98 L637.17,591.00 L637.24,592.02 L637.31,593.04 L637.39,594.06 L637.46,595.09 L637.53,596.11 L637.60,597.13 L637.62,598.15 L637.64,599.17 L637.66,600.20 L637.68,601.22 L637.70,602.24 L637.70,603.26 L637.70,604.28 L637.70,605.31 L637.70,606.33 L637.70,607.35 L637.70,608.37 L637.70,609.39 L637.70,610.42 L637.70,611.44 L637.66,612.46 L637.61,613.48 L637.57,614.50 L637.52,615.53 L637.48,616.55 L637.43,617.57 L637.39,618.59 L637.34,619.61 L637.30,620.64 L637.25,621.66 L637.20,622.68 L637.15,623.70 L637.10,624.72 L637.05,625.75 L637.00,626.77 L636.95,627.79 L636.90,628.81 L636.89,629.83 L636.89,630.86 L636.88,631.88 L636.87,632.90 L636.86,633.92 L636.86,634.94 L636.85,635.97 L636.84,636.99 L636.84,638.01 L636.83,639.03 L636.82,640.05 L636.81,641.08 L636.81,642.10 L636.80,643.12 L636.81,644.14 L636.82,645.16 L636.83,646.19 L636.84,647.21 L636.85,648.23 L636.86,649.25 L636.87,650.27 L636.88,651.30 L636.89,652.32 L636.90,653.34 L636.93,654.36 L636.96,655.38 L636.99,656.41 L637.02,657.43 L637.05,658.45 L637.08,659.47 L637.11,660.49 L637.14,661.52 L637.17,662.54 L637.20,663.56 L637.27,664.58 L637.35,665.60 L637.42,666.63 L637.50,667.65 L637.57,668.67 L637.65,669.69 L637.73,670.71 L637.80,671.74 L637.91,672.76 L638.03,673.78 L638.14,674.80 L638.26,675.82 L638.37,676.85 L638.49,677.87 L638.60,678.89 L638.72,679.91 L638.84,680.93 L638.96,681.96 L639.08,682.98 L639.20,684.00 L628.60,684.00 L628.72,682.98 L628.84,681.96 L628.96,680.93 L629.08,679.91 L629.20,678.89 L629.31,677.87 L629.43,676.85 L629.54,675.82 L629.66,674.80 L629.77,673.78 L629.89,672.76 L630.00,671.74 L630.07,670.71 L630.15,669.69 L630.23,668.67 L630.30,667.65 L630.38,666.63 L630.45,665.60 L630.52,664.58 L630.60,663.56 L630.63,662.54 L630.66,661.52 L630.69,660.49 L630.72,659.47 L630.75,658.45 L630.78,657.43 L630.81,656.41 L630.84,655.38 L630.87,654.36 L630.90,653.34 L630.91,652.32 L630.92,651.30 L630.93,650.27 L630.94,649.25 L630.95,648.23 L630.96,647.21 L630.97,646.19 L630.98,645.16 L630.99,644.14 L631.00,643.12 L630.99,642.10 L630.99,641.08 L630.98,640.05 L630.97,639.03 L630.96,638.01 L630.96,636.99 L630.95,635.97 L630.94,634.94 L630.94,633.92 L630.93,632.90 L630.92,631.88 L630.91,630.86 L630.91,629.83 L630.90,628.81 L630.85,627.79 L630.80,626.77 L630.75,625.75 L630.70,624.72 L630.65,623.70 L630.60,622.68 L630.55,621.66 L630.50,620.64 L630.46,619.61 L630.41,618.59 L630.37,617.57 L630.32,616.55 L630.28,615.53 L630.23,614.50 L630.19,613.48 L630.14,612.46 L630.10,611.44 L630.10,610.42 L630.10,609.39 L630.10,608.37 L630.10,607.35 L630.10,606.33 L630.10,605.31 L630.10,604.28 L630.10,603.26 L630.10,602.24 L630.12,601.22 L630.14,600.20 L630.16,599.17 L630.18,598.15 L630.20,597.13 L630.27,596.11 L630.34,595.09 L630.41,594.06 L630.49,593.04 L630.56,592.02 L630.63,591.00 L630.70,589.98 L630.86,588.95 L631.02,587.93 L631.18,586.91 L631.34,585.89 L631.50,584.87 L631.70,583.84 L631.90,582.82 L632.10,581.80Z" fill="#67c7c7" stroke="#555" stroke-width="0.6"/>
<line x1="633.90" y1="582.31" x2="633.90" y2="611.50" stroke="#3f7f7f" stroke-width="0.6"/>
<rect x="631.50" y="611.50" width="4.80" height="65.70" fill="#67c7c7" stroke="#3f7f7f" stroke-width="0.6"/>
<line x1="631.70" y1="632.50" x2="636.10" y2="632.50" stroke="#2a4a4a" stroke-width="0.9"/>
<text x="597.00" y="698.00" font-size="7.81" fill="#2a2a2a" stroke="#2a2a2a" stroke-width="0.08" textLength="48.60" lengthAdjust="spacingAndGlyphs">Dox (d 21) wo</text>
<line x1="657.40" y1="621.00" x2="657.40" y2="630.60" stroke="#666" stroke-width="0.6"/>
<rect x="653.60" y="622.50" width="7.60" height="6.60" fill="#bdbdbd" stroke="#555" stroke-width="0.6"/>
<line x1="653.60" y1="625.80" x2="661.20" y2="625.80" stroke="#444" stroke-width="0.7"/>
<text x="665.30" y="628.50" font-size="7.8" fill="#2a2a2a" stroke="#2a2a2a" stroke-width="0.08">Xa</text>
<line x1="657.40" y1="636.30" x2="657.40" y2="645.90" stroke="#666" stroke-width="0.6"/>
<rect x="653.60" y="637.80" width="7.60" height="6.60" fill="#67c7c7" stroke="#555" stroke-width="0.6"/>
<line x1="653.60" y1="641.10" x2="661.20" y2="641.10" stroke="#444" stroke-width="0.7"/>
<text x="665.30" y="643.80" font-size="7.8" fill="#2a2a2a" stroke="#2a2a2a" stroke-width="0.08">Xi</text>
<rect x="442.60" y="711.00" width="169.50" height="208.20" fill="none" stroke="#9a9a9a" stroke-width="0.9"/>
<line x1="438.70" y1="890.26" x2="442.60" y2="890.26" stroke="#8c8c8c" stroke-width="0.8"/>
<text x="434.40" y="893.06" font-size="8.16" text-anchor="end" fill="#2a2a2a" stroke="#2a2a2a" stroke-width="0.08" textLength="16.10" lengthAdjust="spacingAndGlyphs">−0.2</text>
<line x1="438.70" y1="842.60" x2="442.60" y2="842.60" stroke="#8c8c8c" stroke-width="0.8"/>
<text x="434.40" y="845.40" font-size="8.0" text-anchor="end" fill="#2a2a2a" stroke="#2a2a2a" stroke-width="0.08">0</text>
<line x1="438.70" y1="794.94" x2="442.60" y2="794.94" stroke="#8c8c8c" stroke-width="0.8"/>
<text x="434.40" y="797.74" font-size="9.14" text-anchor="end" fill="#2a2a2a" stroke="#2a2a2a" stroke-width="0.08" textLength="12.70" lengthAdjust="spacingAndGlyphs">0.2</text>
<line x1="438.70" y1="747.28" x2="442.60" y2="747.28" stroke="#8c8c8c" stroke-width="0.8"/>
<text x="434.40" y="750.08" font-size="9.14" text-anchor="end" fill="#2a2a2a" stroke="#2a2a2a" stroke-width="0.08" textLength="12.70" lengthAdjust="spacingAndGlyphs">0.4</text>
<text x="403.30" y="820.00" font-size="9.35" text-anchor="middle" fill="#1f1f1f" stroke="#1f1f1f" stroke-width="0.08" textLength="106.00" lengthAdjust="spacingAndGlyphs" transform="rotate(-90 403.30 820.00)">Fold changes in promoter</text>
<text x="413.60" y="820.00" font-size="9.73" text-anchor="middle" fill="#1f1f1f" stroke="#1f1f1f" stroke-width="0.08" textLength="113.00" lengthAdjust="spacingAndGlyphs" transform="rotate(-90 413.60 820.00)">methylation versus control</text>
<line x1="465.00" y1="919.20" x2="465.00" y2="922.60" stroke="#8c8c8c" stroke-width="0.8"/>
<line x1="506.20" y1="919.20" x2="506.20" y2="922.60" stroke="#8c8c8c" stroke-width="0.8"/>
<line x1="548.00" y1="919.20" x2="548.00" y2="922.60" stroke="#8c8c8c" stroke-width="0.8"/>
<line x1="589.30" y1="919.20" x2="589.30" y2="922.60" stroke="#8c8c8c" stroke-width="0.8"/>
<text x="447.60" y="933.40" font-size="7.68" fill="#2a2a2a" stroke="#2a2a2a" stroke-width="0.08" textLength="31.60" lengthAdjust="spacingAndGlyphs">Dox (d 7)</text>
<text x="483.70" y="933.40" font-size="7.92" fill="#2a2a2a" stroke="#2a2a2a" stroke-width="0.08" textLength="44.90" lengthAdjust="spacingAndGlyphs">Dox (d 7) wo</text>
<text x="531.80" y="933.40" font-size="7.52" fill="#2a2a2a" stroke="#2a2a2a" stroke-width="0.08" textLength="35.10" lengthAdjust="spacingAndGlyphs">Dox (d 21)</text>
<text x="571.00" y="933.40" font-size="7.68" fill="#2a2a2a" stroke="#2a2a2a" stroke-width="0.08" textLength="47.80" lengthAdjust="spacingAndGlyphs">Dox (d 21) wo</text>
<circle cx="457.80" cy="842.59" r="2.05" fill="#c9c9c9"/>
<circle cx="460.60" cy="842.51" r="2.05" fill="#c9c9c9"/>
<circle cx="455.00" cy="842.89" r="2.05" fill="#c9c9c9"/>
<circle cx="463.40" cy="842.94" r="2.05" fill="#c9c9c9"/>
<circle cx="452.20" cy="842.22" r="2.05" fill="#c9c9c9"/>
<circle cx="457.39" cy="842.18" r="2.05" fill="#c9c9c9"/>
<circle cx="453.01" cy="842.13" r="2.05" fill="#c9c9c9"/>
<circle cx="460.08" cy="843.08" r="2.05" fill="#c9c9c9"/>
<circle cx="459.75" cy="841.95" r="2.05" fill="#c9c9c9"/>
<circle cx="460.68" cy="843.30" r="2.05" fill="#c9c9c9"/>
<circle cx="462.92" cy="841.87" r="2.05" fill="#c9c9c9"/>
<circle cx="463.02" cy="841.84" r="2.05" fill="#c9c9c9"/>
<circle cx="461.52" cy="843.39" r="2.05" fill="#c9c9c9"/>
<circle cx="457.16" cy="841.10" r="2.05" fill="#c9c9c9"/>
<circle cx="453.46" cy="840.80" r="2.05" fill="#c9c9c9"/>
<circle cx="457.80" cy="845.15" r="2.05" fill="#c9c9c9"/>
<circle cx="455.00" cy="845.23" r="2.05" fill="#c9c9c9"/>
<circle cx="459.20" cy="839.47" r="2.05" fill="#c9c9c9"/>
<circle cx="456.40" cy="838.75" r="2.05" fill="#c9c9c9"/>
<circle cx="462.00" cy="838.71" r="2.05" fill="#c9c9c9"/>
<circle cx="452.20" cy="838.63" r="2.05" fill="#c9c9c9"/>
<circle cx="456.38" cy="838.45" r="2.05" fill="#c9c9c9"/>
<circle cx="459.20" cy="846.96" r="2.05" fill="#c9c9c9"/>
<circle cx="462.25" cy="837.79" r="2.05" fill="#c9c9c9"/>
<circle cx="451.88" cy="837.74" r="2.05" fill="#c9c9c9"/>
<circle cx="456.40" cy="847.51" r="2.05" fill="#c9c9c9"/>
<circle cx="457.41" cy="837.67" r="2.05" fill="#c9c9c9"/>
<circle cx="461.30" cy="847.91" r="2.05" fill="#c9c9c9"/>
<circle cx="459.90" cy="837.17" r="2.05" fill="#c9c9c9"/>
<circle cx="453.60" cy="848.05" r="2.05" fill="#c9c9c9"/>
<circle cx="458.35" cy="848.31" r="2.05" fill="#c9c9c9"/>
<circle cx="454.30" cy="836.73" r="2.05" fill="#c9c9c9"/>
<circle cx="458.99" cy="848.59" r="2.05" fill="#c9c9c9"/>
<circle cx="461.00" cy="836.43" r="2.05" fill="#c9c9c9"/>
<circle cx="463.40" cy="848.93" r="2.05" fill="#c9c9c9"/>
<circle cx="454.82" cy="835.97" r="2.05" fill="#c9c9c9"/>
<circle cx="463.40" cy="835.83" r="2.05" fill="#c9c9c9"/>
<circle cx="452.95" cy="835.70" r="2.05" fill="#c9c9c9"/>
<circle cx="457.80" cy="835.44" r="2.05" fill="#c9c9c9"/>
<circle cx="452.08" cy="835.38" r="2.05" fill="#c9c9c9"/>
<circle cx="456.40" cy="849.96" r="2.05" fill="#c9c9c9"/>
<circle cx="458.50" cy="851.03" r="2.05" fill="#c9c9c9"/>
<circle cx="461.30" cy="851.35" r="2.05" fill="#c9c9c9"/>
<circle cx="455.00" cy="851.81" r="2.05" fill="#c9c9c9"/>
<circle cx="463.40" cy="852.50" r="2.05" fill="#c9c9c9"/>
<circle cx="457.10" cy="853.01" r="2.05" fill="#c9c9c9"/>
<circle cx="459.90" cy="853.45" r="2.05" fill="#c9c9c9"/>
<circle cx="452.90" cy="853.57" r="2.05" fill="#c9c9c9"/>
<circle cx="461.80" cy="853.80" r="2.05" fill="#c9c9c9"/>
<circle cx="457.80" cy="830.27" r="2.05" fill="#c9c9c9"/>
<circle cx="457.80" cy="855.60" r="2.05" fill="#c9c9c9"/>
<circle cx="459.90" cy="829.36" r="2.05" fill="#c9c9c9"/>
<circle cx="457.80" cy="827.96" r="2.05" fill="#c9c9c9"/>
<circle cx="457.80" cy="824.98" r="2.05" fill="#c9c9c9"/>
<circle cx="458.50" cy="822.77" r="2.05" fill="#c9c9c9"/>
<circle cx="457.80" cy="866.43" r="2.05" fill="#c9c9c9"/>
<circle cx="457.80" cy="868.81" r="2.05" fill="#c9c9c9"/>
<circle cx="457.80" cy="878.35" r="2.05" fill="#c9c9c9"/>
<circle cx="457.80" cy="752.05" r="2.05" fill="#c9c9c9"/>
<line x1="452.40" y1="842.60" x2="463.20" y2="842.60" stroke="#333" stroke-width="1.6"/>
<circle cx="472.00" cy="842.62" r="2.05" fill="#3b8a53" fill-opacity="0.9"/>
<circle cx="474.80" cy="842.69" r="2.05" fill="#3b8a53" fill-opacity="0.9"/>
<circle cx="469.20" cy="842.74" r="2.05" fill="#3b8a53" fill-opacity="0.9"/>
<circle cx="473.56" cy="842.21" r="2.05" fill="#3b8a53" fill-opacity="0.9"/>
<circle cx="469.43" cy="843.23" r="2.05" fill="#3b8a53" fill-opacity="0.9"/>
<circle cx="474.79" cy="843.40" r="2.05" fill="#3b8a53" fill-opacity="0.9"/>
<circle cx="476.90" cy="841.47" r="2.05" fill="#3b8a53" fill-opacity="0.9"/>
<circle cx="467.10" cy="841.45" r="2.05" fill="#3b8a53" fill-opacity="0.9"/>
<circle cx="467.10" cy="843.83" r="2.05" fill="#3b8a53" fill-opacity="0.9"/>
<circle cx="472.33" cy="840.94" r="2.05" fill="#3b8a53" fill-opacity="0.9"/>
<circle cx="474.00" cy="840.84" r="2.05" fill="#3b8a53" fill-opacity="0.9"/>
<circle cx="466.71" cy="840.76" r="2.05" fill="#3b8a53" fill-opacity="0.9"/>
<circle cx="469.90" cy="839.83" r="2.05" fill="#3b8a53" fill-opacity="0.9"/>
<circle cx="472.00" cy="846.04" r="2.05" fill="#3b8a53" fill-opacity="0.9"/>
<circle cx="474.80" cy="846.55" r="2.05" fill="#3b8a53" fill-opacity="0.9"/>
<circle cx="472.00" cy="838.64" r="2.05" fill="#3b8a53" fill-opacity="0.9"/>
<circle cx="469.20" cy="846.64" r="2.05" fill="#3b8a53" fill-opacity="0.9"/>
<circle cx="474.80" cy="838.37" r="2.05" fill="#3b8a53" fill-opacity="0.9"/>
<circle cx="467.80" cy="838.12" r="2.05" fill="#3b8a53" fill-opacity="0.9"/>
<circle cx="476.90" cy="847.57" r="2.05" fill="#3b8a53" fill-opacity="0.9"/>
<circle cx="467.10" cy="847.82" r="2.05" fill="#3b8a53" fill-opacity="0.9"/>
<circle cx="469.90" cy="837.24" r="2.05" fill="#3b8a53" fill-opacity="0.9"/>
<circle cx="472.00" cy="848.65" r="2.05" fill="#3b8a53" fill-opacity="0.9"/>
<circle cx="474.80" cy="848.93" r="2.05" fill="#3b8a53" fill-opacity="0.9"/>
<circle cx="472.00" cy="852.13" r="2.05" fill="#3b8a53" fill-opacity="0.9"/>
<circle cx="474.10" cy="853.32" r="2.05" fill="#3b8a53" fill-opacity="0.9"/>
<circle cx="472.00" cy="827.11" r="2.05" fill="#3b8a53" fill-opacity="0.9"/>
<circle cx="472.00" cy="817.58" r="2.05" fill="#3b8a53" fill-opacity="0.9"/>
<circle cx="472.00" cy="797.32" r="2.05" fill="#3b8a53" fill-opacity="0.9"/>
<line x1="466.00" y1="842.60" x2="478.00" y2="842.60" stroke="#222" stroke-width="1.6"/>
<circle cx="499.00" cy="842.58" r="2.05" fill="#c9c9c9"/>
<circle cx="501.80" cy="842.45" r="2.05" fill="#c9c9c9"/>
<circle cx="496.20" cy="842.75" r="2.05" fill="#c9c9c9"/>
<circle cx="504.60" cy="842.77" r="2.05" fill="#c9c9c9"/>
<circle cx="493.40" cy="842.95" r="2.05" fill="#c9c9c9"/>
<circle cx="495.37" cy="843.19" r="2.05" fill="#c9c9c9"/>
<circle cx="494.83" cy="843.29" r="2.05" fill="#c9c9c9"/>
<circle cx="502.68" cy="843.71" r="2.05" fill="#c9c9c9"/>
<circle cx="501.83" cy="841.15" r="2.05" fill="#c9c9c9"/>
<circle cx="500.66" cy="840.98" r="2.05" fill="#c9c9c9"/>
<circle cx="500.40" cy="844.37" r="2.05" fill="#c9c9c9"/>
<circle cx="500.94" cy="844.48" r="2.05" fill="#c9c9c9"/>
<circle cx="497.60" cy="844.58" r="2.05" fill="#c9c9c9"/>
<circle cx="497.60" cy="840.60" r="2.05" fill="#c9c9c9"/>
<circle cx="495.50" cy="845.71" r="2.05" fill="#c9c9c9"/>
<circle cx="495.50" cy="839.44" r="2.05" fill="#c9c9c9"/>
<circle cx="503.20" cy="839.06" r="2.05" fill="#c9c9c9"/>
<circle cx="499.00" cy="846.37" r="2.05" fill="#c9c9c9"/>
<circle cx="499.00" cy="838.65" r="2.05" fill="#c9c9c9"/>
<circle cx="501.80" cy="846.84" r="2.05" fill="#c9c9c9"/>
<circle cx="504.60" cy="847.06" r="2.05" fill="#c9c9c9"/>
<circle cx="493.40" cy="847.23" r="2.05" fill="#c9c9c9"/>
<circle cx="496.90" cy="847.53" r="2.05" fill="#c9c9c9"/>
<circle cx="501.10" cy="837.47" r="2.05" fill="#c9c9c9"/>
<circle cx="498.98" cy="848.05" r="2.05" fill="#c9c9c9"/>
<circle cx="496.90" cy="837.10" r="2.05" fill="#c9c9c9"/>
<circle cx="494.10" cy="836.99" r="2.05" fill="#c9c9c9"/>
<circle cx="503.90" cy="836.86" r="2.05" fill="#c9c9c9"/>
<circle cx="495.94" cy="836.76" r="2.05" fill="#c9c9c9"/>
<circle cx="501.10" cy="849.37" r="2.05" fill="#c9c9c9"/>
<circle cx="495.50" cy="849.55" r="2.05" fill="#c9c9c9"/>
<circle cx="499.00" cy="834.96" r="2.05" fill="#c9c9c9"/>
<circle cx="499.00" cy="850.51" r="2.05" fill="#c9c9c9"/>
<circle cx="503.20" cy="850.56" r="2.05" fill="#c9c9c9"/>
<circle cx="501.80" cy="834.49" r="2.05" fill="#c9c9c9"/>
<circle cx="496.90" cy="833.60" r="2.05" fill="#c9c9c9"/>
<circle cx="501.10" cy="851.63" r="2.05" fill="#c9c9c9"/>
<circle cx="503.90" cy="833.28" r="2.05" fill="#c9c9c9"/>
<circle cx="496.90" cy="851.93" r="2.05" fill="#c9c9c9"/>
<circle cx="494.10" cy="832.86" r="2.05" fill="#c9c9c9"/>
<circle cx="499.00" cy="832.50" r="2.05" fill="#c9c9c9"/>
<circle cx="501.80" cy="832.17" r="2.05" fill="#c9c9c9"/>
<circle cx="499.00" cy="853.20" r="2.05" fill="#c9c9c9"/>
<circle cx="501.80" cy="853.89" r="2.05" fill="#c9c9c9"/>
<circle cx="496.90" cy="854.86" r="2.05" fill="#c9c9c9"/>
<circle cx="503.90" cy="855.01" r="2.05" fill="#c9c9c9"/>
<circle cx="499.00" cy="830.03" r="2.05" fill="#c9c9c9"/>
<circle cx="494.10" cy="855.19" r="2.05" fill="#c9c9c9"/>
<circle cx="501.10" cy="829.10" r="2.05" fill="#c9c9c9"/>
<circle cx="499.00" cy="856.58" r="2.05" fill="#c9c9c9"/>
<circle cx="499.00" cy="825.94" r="2.05" fill="#c9c9c9"/>
<circle cx="501.10" cy="824.85" r="2.05" fill="#c9c9c9"/>
<circle cx="499.00" cy="863.54" r="2.05" fill="#c9c9c9"/>
<circle cx="501.80" cy="863.99" r="2.05" fill="#c9c9c9"/>
<circle cx="499.00" cy="819.01" r="2.05" fill="#c9c9c9"/>
<circle cx="501.80" cy="818.77" r="2.05" fill="#c9c9c9"/>
<circle cx="499.00" cy="875.96" r="2.05" fill="#c9c9c9"/>
<circle cx="499.00" cy="880.73" r="2.05" fill="#c9c9c9"/>
<circle cx="499.00" cy="887.88" r="2.05" fill="#c9c9c9"/>
<line x1="493.60" y1="842.60" x2="504.40" y2="842.60" stroke="#333" stroke-width="1.6"/>
<circle cx="513.20" cy="842.58" r="2.05" fill="#3b8a53" fill-opacity="0.9"/>
<circle cx="516.00" cy="842.71" r="2.05" fill="#3b8a53" fill-opacity="0.9"/>
<circle cx="510.40" cy="842.48" r="2.05" fill="#3b8a53" fill-opacity="0.9"/>
<circle cx="516.57" cy="842.29" r="2.05" fill="#3b8a53" fill-opacity="0.9"/>
<circle cx="514.18" cy="842.29" r="2.05" fill="#3b8a53" fill-opacity="0.9"/>
<circle cx="508.14" cy="842.13" r="2.05" fill="#3b8a53" fill-opacity="0.9"/>
<circle cx="514.82" cy="843.13" r="2.05" fill="#3b8a53" fill-opacity="0.9"/>
<circle cx="515.90" cy="843.26" r="2.05" fill="#3b8a53" fill-opacity="0.9"/>
<circle cx="516.78" cy="843.39" r="2.05" fill="#3b8a53" fill-opacity="0.9"/>
<circle cx="513.08" cy="841.57" r="2.05" fill="#3b8a53" fill-opacity="0.9"/>
<circle cx="517.05" cy="841.56" r="2.05" fill="#3b8a53" fill-opacity="0.9"/>
<circle cx="513.77" cy="843.75" r="2.05" fill="#3b8a53" fill-opacity="0.9"/>
<circle cx="512.80" cy="841.33" r="2.05" fill="#3b8a53" fill-opacity="0.9"/>
<circle cx="514.32" cy="840.98" r="2.05" fill="#3b8a53" fill-opacity="0.9"/>
<circle cx="509.93" cy="840.96" r="2.05" fill="#3b8a53" fill-opacity="0.9"/>
<circle cx="512.22" cy="840.90" r="2.05" fill="#3b8a53" fill-opacity="0.9"/>
<circle cx="517.26" cy="840.63" r="2.05" fill="#3b8a53" fill-opacity="0.9"/>
<circle cx="515.01" cy="840.63" r="2.05" fill="#3b8a53" fill-opacity="0.9"/>
<circle cx="511.80" cy="845.55" r="2.05" fill="#3b8a53" fill-opacity="0.9"/>
<circle cx="510.50" cy="839.42" r="2.05" fill="#3b8a53" fill-opacity="0.9"/>
<circle cx="513.20" cy="838.49" r="2.05" fill="#3b8a53" fill-opacity="0.9"/>
<circle cx="513.90" cy="847.00" r="2.05" fill="#3b8a53" fill-opacity="0.9"/>
<circle cx="511.80" cy="848.14" r="2.05" fill="#3b8a53" fill-opacity="0.9"/>
<circle cx="513.20" cy="835.88" r="2.05" fill="#3b8a53" fill-opacity="0.9"/>
<circle cx="513.20" cy="852.13" r="2.05" fill="#3b8a53" fill-opacity="0.9"/>
<circle cx="515.30" cy="853.32" r="2.05" fill="#3b8a53" fill-opacity="0.9"/>
<circle cx="513.20" cy="827.11" r="2.05" fill="#3b8a53" fill-opacity="0.9"/>
<circle cx="515.30" cy="825.92" r="2.05" fill="#3b8a53" fill-opacity="0.9"/>
<circle cx="513.20" cy="754.43" r="2.05" fill="#3b8a53" fill-opacity="0.9"/>
<line x1="507.20" y1="842.60" x2="519.20" y2="842.60" stroke="#222" stroke-width="1.6"/>
<circle cx="540.80" cy="837.62" r="2.05" fill="#c9c9c9"/>
<circle cx="543.60" cy="838.08" r="2.05" fill="#c9c9c9"/>
<circle cx="538.00" cy="838.26" r="2.05" fill="#c9c9c9"/>
<circle cx="545.70" cy="837.26" r="2.05" fill="#c9c9c9"/>
<circle cx="535.90" cy="837.24" r="2.05" fill="#c9c9c9"/>
<circle cx="535.92" cy="838.48" r="2.05" fill="#c9c9c9"/>
<circle cx="543.73" cy="837.12" r="2.05" fill="#c9c9c9"/>
<circle cx="539.22" cy="837.03" r="2.05" fill="#c9c9c9"/>
<circle cx="537.12" cy="836.71" r="2.05" fill="#c9c9c9"/>
<circle cx="544.29" cy="836.57" r="2.05" fill="#c9c9c9"/>
<circle cx="543.82" cy="839.25" r="2.05" fill="#c9c9c9"/>
<circle cx="546.40" cy="839.52" r="2.05" fill="#c9c9c9"/>
<circle cx="535.04" cy="839.55" r="2.05" fill="#c9c9c9"/>
<circle cx="544.33" cy="836.11" r="2.05" fill="#c9c9c9"/>
<circle cx="540.40" cy="836.00" r="2.05" fill="#c9c9c9"/>
<circle cx="541.94" cy="835.93" r="2.05" fill="#c9c9c9"/>
<circle cx="535.09" cy="835.77" r="2.05" fill="#c9c9c9"/>
<circle cx="543.93" cy="835.65" r="2.05" fill="#c9c9c9"/>
<circle cx="535.34" cy="835.27" r="2.05" fill="#c9c9c9"/>
<circle cx="546.40" cy="835.09" r="2.05" fill="#c9c9c9"/>
<circle cx="546.23" cy="835.09" r="2.05" fill="#c9c9c9"/>
<circle cx="540.80" cy="840.76" r="2.05" fill="#c9c9c9"/>
<circle cx="538.00" cy="841.09" r="2.05" fill="#c9c9c9"/>
<circle cx="538.70" cy="834.51" r="2.05" fill="#c9c9c9"/>
<circle cx="538.66" cy="834.37" r="2.05" fill="#c9c9c9"/>
<circle cx="538.48" cy="834.09" r="2.05" fill="#c9c9c9"/>
<circle cx="545.93" cy="833.95" r="2.05" fill="#c9c9c9"/>
<circle cx="542.90" cy="841.92" r="2.05" fill="#c9c9c9"/>
<circle cx="540.80" cy="833.25" r="2.05" fill="#c9c9c9"/>
<circle cx="543.60" cy="832.67" r="2.05" fill="#c9c9c9"/>
<circle cx="536.60" cy="832.33" r="2.05" fill="#c9c9c9"/>
<circle cx="541.37" cy="832.20" r="2.05" fill="#c9c9c9"/>
<circle cx="540.80" cy="843.57" r="2.05" fill="#c9c9c9"/>
<circle cx="543.60" cy="844.10" r="2.05" fill="#c9c9c9"/>
<circle cx="538.70" cy="831.47" r="2.05" fill="#c9c9c9"/>
<circle cx="538.00" cy="844.29" r="2.05" fill="#c9c9c9"/>
<circle cx="545.70" cy="831.11" r="2.05" fill="#c9c9c9"/>
<circle cx="546.40" cy="844.71" r="2.05" fill="#c9c9c9"/>
<circle cx="540.07" cy="830.90" r="2.05" fill="#c9c9c9"/>
<circle cx="539.31" cy="830.83" r="2.05" fill="#c9c9c9"/>
<circle cx="535.90" cy="845.40" r="2.05" fill="#c9c9c9"/>
<circle cx="542.20" cy="829.85" r="2.05" fill="#c9c9c9"/>
<circle cx="536.60" cy="829.78" r="2.05" fill="#c9c9c9"/>
<circle cx="540.80" cy="845.92" r="2.05" fill="#c9c9c9"/>
<circle cx="540.80" cy="849.53" r="2.05" fill="#c9c9c9"/>
<circle cx="543.60" cy="850.16" r="2.05" fill="#c9c9c9"/>
<circle cx="538.00" cy="850.34" r="2.05" fill="#c9c9c9"/>
<circle cx="546.40" cy="850.98" r="2.05" fill="#c9c9c9"/>
<circle cx="540.80" cy="824.05" r="2.05" fill="#c9c9c9"/>
<circle cx="540.80" cy="851.93" r="2.05" fill="#c9c9c9"/>
<circle cx="543.60" cy="823.71" r="2.05" fill="#c9c9c9"/>
<circle cx="544.30" cy="852.33" r="2.05" fill="#c9c9c9"/>
<circle cx="538.70" cy="853.59" r="2.05" fill="#c9c9c9"/>
<circle cx="540.80" cy="821.75" r="2.05" fill="#c9c9c9"/>
<circle cx="540.80" cy="854.97" r="2.05" fill="#c9c9c9"/>
<circle cx="542.90" cy="856.29" r="2.05" fill="#c9c9c9"/>
<circle cx="540.80" cy="819.30" r="2.05" fill="#c9c9c9"/>
<circle cx="540.80" cy="815.94" r="2.05" fill="#c9c9c9"/>
<circle cx="540.80" cy="811.62" r="2.05" fill="#c9c9c9"/>
<circle cx="543.60" cy="811.51" r="2.05" fill="#c9c9c9"/>
<circle cx="540.80" cy="808.24" r="2.05" fill="#c9c9c9"/>
<circle cx="542.90" cy="806.86" r="2.05" fill="#c9c9c9"/>
<circle cx="540.80" cy="802.09" r="2.05" fill="#c9c9c9"/>
<circle cx="540.80" cy="914.09" r="2.05" fill="#c9c9c9"/>
<line x1="535.40" y1="837.83" x2="546.20" y2="837.83" stroke="#333" stroke-width="1.6"/>
<circle cx="555.00" cy="841.88" r="2.05" fill="#3b8a53" fill-opacity="0.9"/>
<circle cx="557.80" cy="841.98" r="2.05" fill="#3b8a53" fill-opacity="0.9"/>
<circle cx="552.20" cy="841.78" r="2.05" fill="#3b8a53" fill-opacity="0.9"/>
<circle cx="554.73" cy="841.75" r="2.05" fill="#3b8a53" fill-opacity="0.9"/>
<circle cx="549.76" cy="842.15" r="2.05" fill="#3b8a53" fill-opacity="0.9"/>
<circle cx="553.01" cy="842.31" r="2.05" fill="#3b8a53" fill-opacity="0.9"/>
<circle cx="552.18" cy="841.25" r="2.05" fill="#3b8a53" fill-opacity="0.9"/>
<circle cx="559.90" cy="841.07" r="2.05" fill="#3b8a53" fill-opacity="0.9"/>
<circle cx="558.64" cy="842.70" r="2.05" fill="#3b8a53" fill-opacity="0.9"/>
<circle cx="551.59" cy="842.81" r="2.05" fill="#3b8a53" fill-opacity="0.9"/>
<circle cx="556.66" cy="840.89" r="2.05" fill="#3b8a53" fill-opacity="0.9"/>
<circle cx="556.17" cy="840.81" r="2.05" fill="#3b8a53" fill-opacity="0.9"/>
<circle cx="556.19" cy="840.74" r="2.05" fill="#3b8a53" fill-opacity="0.9"/>
<circle cx="550.98" cy="843.08" r="2.05" fill="#3b8a53" fill-opacity="0.9"/>
<circle cx="552.71" cy="843.14" r="2.05" fill="#3b8a53" fill-opacity="0.9"/>
<circle cx="557.64" cy="843.27" r="2.05" fill="#3b8a53" fill-opacity="0.9"/>
<circle cx="550.77" cy="843.64" r="2.05" fill="#3b8a53" fill-opacity="0.9"/>
<circle cx="549.82" cy="843.78" r="2.05" fill="#3b8a53" fill-opacity="0.9"/>
<circle cx="550.10" cy="839.87" r="2.05" fill="#3b8a53" fill-opacity="0.9"/>
<circle cx="557.37" cy="843.92" r="2.05" fill="#3b8a53" fill-opacity="0.9"/>
<circle cx="555.00" cy="844.17" r="2.05" fill="#3b8a53" fill-opacity="0.9"/>
<circle cx="559.98" cy="844.41" r="2.05" fill="#3b8a53" fill-opacity="0.9"/>
<circle cx="554.30" cy="839.30" r="2.05" fill="#3b8a53" fill-opacity="0.9"/>
<circle cx="550.47" cy="844.63" r="2.05" fill="#3b8a53" fill-opacity="0.9"/>
<circle cx="555.00" cy="836.74" r="2.05" fill="#3b8a53" fill-opacity="0.9"/>
<circle cx="555.00" cy="851.40" r="2.05" fill="#3b8a53" fill-opacity="0.9"/>
<circle cx="555.00" cy="854.51" r="2.05" fill="#3b8a53" fill-opacity="0.9"/>
<circle cx="555.00" cy="856.90" r="2.05" fill="#3b8a53" fill-opacity="0.9"/>
<circle cx="555.00" cy="859.28" r="2.05" fill="#3b8a53" fill-opacity="0.9"/>
<circle cx="555.00" cy="716.30" r="2.05" fill="#3b8a53" fill-opacity="0.9"/>
<line x1="549.00" y1="841.89" x2="561.00" y2="841.89" stroke="#222" stroke-width="1.6"/>
<circle cx="582.10" cy="834.60" r="2.05" fill="#c9c9c9"/>
<circle cx="584.90" cy="834.36" r="2.05" fill="#c9c9c9"/>
<circle cx="579.30" cy="834.36" r="2.05" fill="#c9c9c9"/>
<circle cx="587.70" cy="834.69" r="2.05" fill="#c9c9c9"/>
<circle cx="576.50" cy="834.75" r="2.05" fill="#c9c9c9"/>
<circle cx="583.42" cy="834.23" r="2.05" fill="#c9c9c9"/>
<circle cx="583.55" cy="834.90" r="2.05" fill="#c9c9c9"/>
<circle cx="578.69" cy="833.94" r="2.05" fill="#c9c9c9"/>
<circle cx="577.70" cy="833.87" r="2.05" fill="#c9c9c9"/>
<circle cx="580.41" cy="835.32" r="2.05" fill="#c9c9c9"/>
<circle cx="584.06" cy="835.43" r="2.05" fill="#c9c9c9"/>
<circle cx="578.38" cy="835.55" r="2.05" fill="#c9c9c9"/>
<circle cx="583.50" cy="835.58" r="2.05" fill="#c9c9c9"/>
<circle cx="578.17" cy="835.64" r="2.05" fill="#c9c9c9"/>
<circle cx="584.11" cy="835.67" r="2.05" fill="#c9c9c9"/>
<circle cx="587.43" cy="833.31" r="2.05" fill="#c9c9c9"/>
<circle cx="581.16" cy="833.18" r="2.05" fill="#c9c9c9"/>
<circle cx="583.23" cy="833.11" r="2.05" fill="#c9c9c9"/>
<circle cx="587.75" cy="833.00" r="2.05" fill="#c9c9c9"/>
<circle cx="587.77" cy="832.94" r="2.05" fill="#c9c9c9"/>
<circle cx="582.09" cy="832.70" r="2.05" fill="#c9c9c9"/>
<circle cx="585.00" cy="836.35" r="2.05" fill="#c9c9c9"/>
<circle cx="578.84" cy="832.18" r="2.05" fill="#c9c9c9"/>
<circle cx="582.89" cy="836.90" r="2.05" fill="#c9c9c9"/>
<circle cx="587.70" cy="837.04" r="2.05" fill="#c9c9c9"/>
<circle cx="585.60" cy="831.80" r="2.05" fill="#c9c9c9"/>
<circle cx="576.50" cy="831.67" r="2.05" fill="#c9c9c9"/>
<circle cx="576.50" cy="837.46" r="2.05" fill="#c9c9c9"/>
<circle cx="579.00" cy="831.29" r="2.05" fill="#c9c9c9"/>
<circle cx="587.76" cy="831.15" r="2.05" fill="#c9c9c9"/>
<circle cx="580.70" cy="838.29" r="2.05" fill="#c9c9c9"/>
<circle cx="582.10" cy="830.45" r="2.05" fill="#c9c9c9"/>
<circle cx="584.90" cy="838.70" r="2.05" fill="#c9c9c9"/>
<circle cx="584.67" cy="830.21" r="2.05" fill="#c9c9c9"/>
<circle cx="578.60" cy="839.29" r="2.05" fill="#c9c9c9"/>
<circle cx="577.20" cy="829.49" r="2.05" fill="#c9c9c9"/>
<circle cx="580.70" cy="828.33" r="2.05" fill="#c9c9c9"/>
<circle cx="582.10" cy="841.03" r="2.05" fill="#c9c9c9"/>
<circle cx="583.50" cy="827.88" r="2.05" fill="#c9c9c9"/>
<circle cx="586.30" cy="827.77" r="2.05" fill="#c9c9c9"/>
<circle cx="584.20" cy="842.09" r="2.05" fill="#c9c9c9"/>
<circle cx="580.00" cy="842.40" r="2.05" fill="#c9c9c9"/>
<circle cx="582.10" cy="843.29" r="2.05" fill="#c9c9c9"/>
<circle cx="582.10" cy="825.40" r="2.05" fill="#c9c9c9"/>
<circle cx="584.90" cy="825.01" r="2.05" fill="#c9c9c9"/>
<circle cx="579.30" cy="824.83" r="2.05" fill="#c9c9c9"/>
<circle cx="587.70" cy="824.81" r="2.05" fill="#c9c9c9"/>
<circle cx="576.50" cy="824.67" r="2.05" fill="#c9c9c9"/>
<circle cx="577.56" cy="824.50" r="2.05" fill="#c9c9c9"/>
<circle cx="577.75" cy="823.43" r="2.05" fill="#c9c9c9"/>
<circle cx="582.10" cy="822.46" r="2.05" fill="#c9c9c9"/>
<circle cx="582.10" cy="846.57" r="2.05" fill="#c9c9c9"/>
<circle cx="584.90" cy="822.39" r="2.05" fill="#c9c9c9"/>
<circle cx="587.70" cy="821.81" r="2.05" fill="#c9c9c9"/>
<circle cx="584.20" cy="847.92" r="2.05" fill="#c9c9c9"/>
<circle cx="582.10" cy="820.09" r="2.05" fill="#c9c9c9"/>
<circle cx="584.20" cy="818.48" r="2.05" fill="#c9c9c9"/>
<circle cx="582.10" cy="853.38" r="2.05" fill="#c9c9c9"/>
<circle cx="584.20" cy="854.25" r="2.05" fill="#c9c9c9"/>
<circle cx="580.00" cy="854.60" r="2.05" fill="#c9c9c9"/>
<circle cx="582.10" cy="814.04" r="2.05" fill="#c9c9c9"/>
<circle cx="582.10" cy="856.09" r="2.05" fill="#c9c9c9"/>
<circle cx="585.60" cy="856.15" r="2.05" fill="#c9c9c9"/>
<circle cx="579.30" cy="856.89" r="2.05" fill="#c9c9c9"/>
<circle cx="587.70" cy="857.36" r="2.05" fill="#c9c9c9"/>
<circle cx="582.10" cy="799.71" r="2.05" fill="#c9c9c9"/>
<circle cx="582.10" cy="794.94" r="2.05" fill="#c9c9c9"/>
<circle cx="582.10" cy="884.30" r="2.05" fill="#c9c9c9"/>
<circle cx="582.10" cy="911.71" r="2.05" fill="#c9c9c9"/>
<line x1="576.70" y1="834.50" x2="587.50" y2="834.50" stroke="#333" stroke-width="1.6"/>
<circle cx="596.30" cy="840.00" r="2.05" fill="#3b8a53" fill-opacity="0.9"/>
<circle cx="599.10" cy="840.10" r="2.05" fill="#3b8a53" fill-opacity="0.9"/>
<circle cx="593.50" cy="840.20" r="2.05" fill="#3b8a53" fill-opacity="0.9"/>
<circle cx="591.39" cy="839.71" r="2.05" fill="#3b8a53" fill-opacity="0.9"/>
<circle cx="592.66" cy="839.71" r="2.05" fill="#3b8a53" fill-opacity="0.9"/>
<circle cx="593.90" cy="840.29" r="2.05" fill="#3b8a53" fill-opacity="0.9"/>
<circle cx="595.16" cy="840.54" r="2.05" fill="#3b8a53" fill-opacity="0.9"/>
<circle cx="593.59" cy="840.74" r="2.05" fill="#3b8a53" fill-opacity="0.9"/>
<circle cx="592.95" cy="840.84" r="2.05" fill="#3b8a53" fill-opacity="0.9"/>
<circle cx="601.20" cy="839.05" r="2.05" fill="#3b8a53" fill-opacity="0.9"/>
<circle cx="598.74" cy="841.17" r="2.05" fill="#3b8a53" fill-opacity="0.9"/>
<circle cx="598.88" cy="838.47" r="2.05" fill="#3b8a53" fill-opacity="0.9"/>
<circle cx="601.20" cy="841.60" r="2.05" fill="#3b8a53" fill-opacity="0.9"/>
<circle cx="593.18" cy="841.66" r="2.05" fill="#3b8a53" fill-opacity="0.9"/>
<circle cx="594.90" cy="838.05" r="2.05" fill="#3b8a53" fill-opacity="0.9"/>
<circle cx="600.59" cy="842.02" r="2.05" fill="#3b8a53" fill-opacity="0.9"/>
<circle cx="592.10" cy="837.46" r="2.05" fill="#3b8a53" fill-opacity="0.9"/>
<circle cx="596.97" cy="837.45" r="2.05" fill="#3b8a53" fill-opacity="0.9"/>
<circle cx="596.30" cy="842.77" r="2.05" fill="#3b8a53" fill-opacity="0.9"/>
<circle cx="601.33" cy="836.91" r="2.05" fill="#3b8a53" fill-opacity="0.9"/>
<circle cx="591.40" cy="843.15" r="2.05" fill="#3b8a53" fill-opacity="0.9"/>
<circle cx="598.40" cy="844.00" r="2.05" fill="#3b8a53" fill-opacity="0.9"/>
<circle cx="595.60" cy="845.00" r="2.05" fill="#3b8a53" fill-opacity="0.9"/>
<circle cx="597.70" cy="846.42" r="2.05" fill="#3b8a53" fill-opacity="0.9"/>
<circle cx="596.30" cy="833.50" r="2.05" fill="#3b8a53" fill-opacity="0.9"/>
<circle cx="599.10" cy="833.06" r="2.05" fill="#3b8a53" fill-opacity="0.9"/>
<circle cx="596.30" cy="858.09" r="2.05" fill="#3b8a53" fill-opacity="0.9"/>
<circle cx="598.40" cy="859.28" r="2.05" fill="#3b8a53" fill-opacity="0.9"/>
<circle cx="596.30" cy="818.77" r="2.05" fill="#3b8a53" fill-opacity="0.9"/>
<circle cx="596.30" cy="814.00" r="2.05" fill="#3b8a53" fill-opacity="0.9"/>
<circle cx="596.30" cy="730.60" r="2.05" fill="#3b8a53" fill-opacity="0.9"/>
<line x1="590.30" y1="839.98" x2="602.30" y2="839.98" stroke="#222" stroke-width="1.6"/>
<circle cx="624.80" cy="806.10" r="4.20" fill="#4a9462"/>
<text x="633.70" y="809.00" font-size="8.28" fill="#2a2a2a" stroke="#2a2a2a" stroke-width="0.08" textLength="39.10" lengthAdjust="spacingAndGlyphs">Reversible</text>
<circle cx="624.80" cy="818.80" r="4.20" fill="#c9c9c9"/>
<text x="633.70" y="821.70" font-size="8.55" fill="#2a2a2a" stroke="#2a2a2a" stroke-width="0.08" textLength="42.30" lengthAdjust="spacingAndGlyphs">Irreversible</text>
</svg>
</body></html>
